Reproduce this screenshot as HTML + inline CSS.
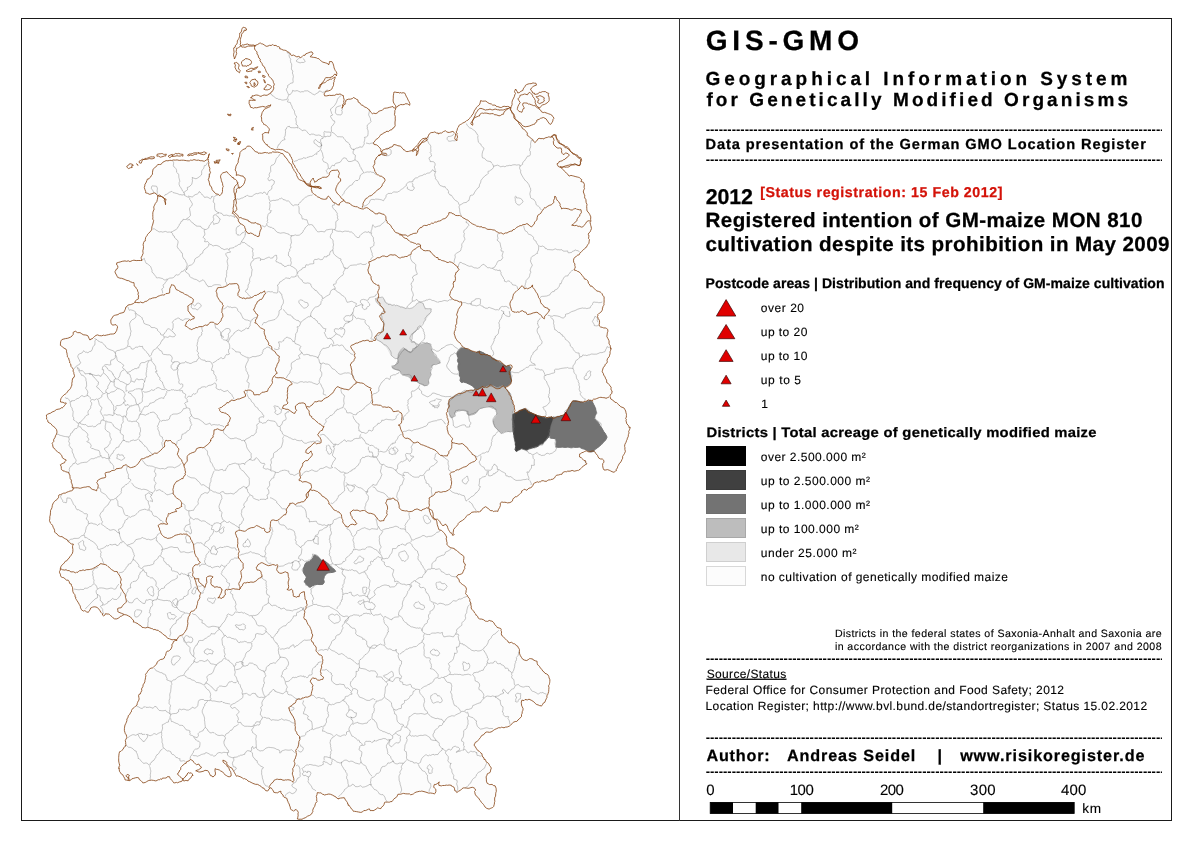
<!DOCTYPE html>
<html><head><meta charset="utf-8"><title>GIS-GMO</title>
<style>
html,body{margin:0;padding:0;background:#fff;}
body{width:1190px;height:842px;position:relative;overflow:hidden;font-family:"Liberation Sans",Arial,sans-serif;color:#000;}
.frame{position:absolute;left:21px;top:18px;width:1151px;height:803px;border:1px solid #1a1a1a;box-sizing:border-box;}
.divider{position:absolute;left:679px;top:18px;width:1px;height:803px;background:#333;}
.t{position:absolute;white-space:nowrap;line-height:1;}
.b{font-weight:bold;}
.dash{position:absolute;left:705.7px;width:456.5px;height:13px;overflow:hidden;font-size:13px;line-height:13px;white-space:nowrap;letter-spacing:0;font-weight:bold;}
.sw{position:absolute;left:706px;width:40px;height:20px;box-sizing:border-box;}
#map{position:absolute;left:0;top:0;}
</style></head><body>
<svg id="map" width="1190" height="842" viewBox="0 0 1190 842">
<path fill="#fcfcfc" stroke="none" d="M255,45.6l3,-2 4,0.8 5,0.8 5,0 5,1.8 5,2.6 4,0.4 4,2 2,3.6 4,1.4 3,-1.4 2,2.4 3,-2.4 4,-2.6 4,-1.4 1,0.8 -2,2 4,2.6 5,2.6 5,3.4 4,2 1,-3 2,0.4 1.6,4.6 1.4,4 1.6,2 -0.6,2.6 -2,-2 -4,3.4 -6,4 -5,4 -2,3 3,-2.4 6,-4 6,-3.6 3.6,-1.6 -0.6,3.6 -1,4 -3,5 -5,4 -2.4,1.4 1.4,1.6 5,-1 6,-1 4,-0.4 3,2 1.4,3.4 -0.8,4 -2.6,5 1.4,-3 2,-3.4 3.6,-1.6 4,-0.6 5,1.6 5,3 5,4 4,4 1.4,1.6 4.6,-1.2 4,-2.4 4,-2.4 4,-1.2 4,1.2 3,0.4 0,1 -0.4,5 -0.6,6 0,5 -3,4 -4,2 -5,2.6 -5,2 -2.4,4.4 -0.6,4 3,2 3,3 1,3 1,-2 4,-3 5,-1.4 6,0 4,2.4 3,3 3,1 3,-2 3,-2 2,4 -1,5 2,-5 2,-5 3,-5 4,-4 4,-4.4 5,-1.2 3,1.2 0,0 10,-1.6 5,-0.4 2,2.4 -0.6,4 1.6,2 1,-3 -1,-5 2,-3 4,-4 5,-3 3,-3 1.6,-4 2.4,-4 3,-4 3,-4 1,-1.6 1.4,1.6 5.6,1.4 8,1.2 8,0.8 5,0 2,1.2 0,0.4 1,5 2,5 3,4 3,3 4,3 3,3 2,4 3,3 3,3 1,2 2,-3 4,-1.6 4,-1.8 4,-1 2,1.4 0,0 1.6,-2 2.4,0.6 1,3.4 3,3 4,3 4,3 4,4 4,3.6 4,3.4 -0.4,6 -5.6,-0.6 -5,1.2 -5,1.4 -4,0.6 0,0.4 3,4 5,3 6,2 6,1.4 2.4,1.2 -1.4,2.4 2,0.4 0.6,1.6 0.8,6 1.6,8 1.6,8 2,8 1.4,6 1.4,8 0,0 -1.4,2 -2,3 -0.6,5 0.6,4.4 -2,4.6 -3,3 -4,3 -3,2.6 -2.6,2.4 -0.4,4 1,4 -1.4,4 2.4,2 4,3 4,3.4 4,3.6 4,3.6 4,3.4 4,3 3,3 1,4 -1,4 0.6,4 -2.6,3 -2.6,3 -0.4,4 1,5 1,4 4,1.6 3.6,1.4 0.8,4 -0.8,5 1.4,5 2,5 0,2 0,0 -1.4,4 -1.2,4 -1.4,4 -2,4 -2,3 -1.4,3 1.4,3 2,3 2,3 2,3 2,3 1,4 -1,4 -2,2 1,2 3,2 3,1.4 3,1.6 3,2 3,2 1,4 -0.4,4 1.4,4 1,4 1.6,4 -0.6,4 -1,4 -1,4 -1,4 -0.4,4 -1.2,4 -1.4,4 -2,4 -2,4 -2,3 -1.4,3 -2.6,2.4 -3,-0.8 -3,-1.6 -3,-1 -1.6,-3 0.6,-3 -2,-3 -2.6,-2 -1.4,-3 -2,-2.6 -2,-1.4 -3,1 -3,-1 -3,-1 -2.4,1.6 -1.6,2.4 1,3 2.6,2 2.4,1 1.6,3 -2.6,2.6 -4,2 -4,2 -4,1.4 -4,1.4 -4,1.2 -4,1.4 -4,1 -4,3 -4,1 -4,1 -4,0.6 -4,0.4 -4,2 -3,4 -3,3 -3,-1 -3,1 -3,3 -3,3 -2,2 0,1 -1,1 -3,1.4 -5,0.6 -4,1 -0.4,3 -1.6,3 -4,2.4 -4,-2.4 -3,-2 -3,1 -4,2 -4,1.4 -5,0.6 -4,2 -3.4,3.4 -2.6,2.6 -2.6,2.6 -2.4,3.4 -1.6,4 -0.4,4 -1.6,0.6 -1.4,-3.6 -3,-4.4 -3,-2.6 -3,0.6 -1.6,-3.2 -2.8,-3.4 -3.2,-2.6 -2.4,-2.8 -2,-3.6 -2,-1.6 1,2.6 1.4,3.4 2.6,3.2 3,2.4 2.4,4 1.6,4 2,3 2.4,3 2,3 -0.8,3 1.4,3 2,2.6 2.6,2.4 3.4,1.6 3,2 3,2 2.6,2.8 1.4,3.6 1.4,3 -2,4 -2,4 -2.4,3.4 -2,2.6 1.6,3 2,3 2.4,3 1.6,4 1.4,4 2,4 2,3 0.6,4 1.4,4 2,3 2.6,3 2.4,3 3,2 3,1 3,-1 3,1 3,2 2.6,3.4 2,3.6 2.4,3.6 2,3.4 2,3 3,2.4 3,0.6 3,1.4 3,2.6 2,2.6 1,4.4 2,4 3,2 3,-1 3,0.6 0,0.4 3,1 2,2 2,3 2,3 3,3 3,3 1.4,4 -0.4,4 0.4,5 -0.4,5 -1,4 -2,3 -2,2.4 -1.4,2.6 -2.6,-0.6 -3,-1.4 -3,-2 -3,-2 -3,1 -3,1 -1,3 -0.6,4 -0.8,4.4 -1.6,4.6 -3,3.4 -4,3.2 -4,2 -5,1.4 -5,1 -5,1 -4,2 -4,2.6 -3.6,2.4 -3.4,3 -3,3 -1,3 2,2.6 3,2.8 2,3.6 2,4 3,3 2,4 1.4,4 -0.8,4 -2.6,3 -1.4,3 0.8,3 2.6,2 3,1 3,2 1.4,4 -0.4,5 -1.6,4 -1.4,4 -1.4,4 -2.6,1 -3.4,-1.4 -2.6,-2.6 -3,-3 -3,-3 -2,-3 0.6,-4 -1.6,-3 -3,-1.4 -4,0.4 -4,1 -3,2 -3,1.4 -2.6,-1.4 -1.4,-3 -3,-2.4 -4,0.4 -3.6,-0.4 -2.4,-1.6 0,-3 -2,2 -3,1 -1,3 2,3 -1,3.6 -4,-1.2 -5,0.6 -6,-1 -6,1 -5,0.6 -5,0.8 -4,-0.4 -3,0.4 -2,3.6 -3,3.6 -4,0.8 -4,0.6 -2,2.6 -3,2.4 -3,-1 -3,2 -3,2.6 -2,-2 -4,1.4 -4,1 -4,-0.4 -4,-1.6 -2.4,-3 -2.6,-3 -1.4,-3 -2.6,-3 -5,-0.4 0,0 -5,-1.6 -4,-1.6 -5,-0.8 -4,-1.6 -3,-1 -1.4,3 0.8,4 -0.4,4 -1.6,5 -2.4,4 -3,4 -4,3 -4,1.6 -4,-0.6 2,-3 1,-4 -3,-2 -3,2 -3,-1 -1,-4 -1,-4 -2,-3 -2.6,-2 -1.4,-3.6 -2,-2.4 -3,1 -4,-1 -1,-3 -2,-3 -2,2 -2,3 -3,-1 -4,-2 -4,-1 -3,-2 -3.4,-3 -3.6,-2.4 -3.6,-1.6 -3.4,-2 -3,-1.6 -2.4,-2.8 -3.6,-3.6 -3.6,-4 -2.8,-3 -2,-0.6 0.8,2 2.6,3.2 3,3.4 3,3 1.4,3 -1.4,1.4 -3,-1.4 -3,-1.4 -2.6,-1.6 -2.4,-2 -3,-1 -1,2 -1,3 -3,2 -3,-1 -1,-3 -2,-1.6 -2,-0.8 -3,0.8 -3,1.2 -2.4,-0.6 1.4,-1 3,-1 1,-3 -2,-2.4 -2,0.8 -1.4,-2 -2,-2 -2,-1 -2.6,1.6 -3.4,1.4 -3.6,2 -3,2.6 -1.4,3 0.4,4 2,3 2.4,2 -0.8,2.6 -3.6,0.4 -4,-0.8 -3,-1.2 -2,-2 -3,-1 -3,-0.6 -3,1.6 -3,1.6 -2.6,1.4 -3.4,-0.4 -4,0.6 -4,0.4 -2,-2.6 -3,-0.6 -4,1.6 -4,0.6 -1,-2.6 -0.6,-3 -2.4,-0.6 -1,1.6 2,2 1,3 -3,-1 -2,-3 -2.6,-2.6 -2,-3.4 -0.8,-3 -0,0 0.8,-6 1.6,-5 1,-5 2,-5 2,-5 2,-5 -1,-4 -1,-5 1,-5 2,-4 3,-5 3,-5 2,-5 3,-3 -0.6,-4 1.6,-4 2,-4 2,-5 1,-5 1,-4.6 3,-4 4,-2.4 4,-4 2,-4 2.6,-1 3.4,-2.6 3,-4 3,-4.4 2.6,-4 2.4,-3.6 -2,-0.4 -4,-2 -4,-2.4 -4,-2.6 -4,-2 -4,-0.6 -4,-1.4 -4,-1 -4,-1 -4,-1 -3,-2 -3,-2.4 -2,-3.2 -2,-3.4 -3,-1 -2.6,1.6 -2.8,1.4 -3.6,1.4 -4,-0.8 -4,-1.6 -3.6,-1 -2,2 -1.4,-5 -3,-3.6 -4,-1.4 -3,1 -3,3.6 -3,-1.6 -4,-1.6 -0,-0.4 -2,-5 -2.6,-5 -2,-4 -1.4,-5 -2,-4 -3,-3.4 -4,-2.6 -3.6,-2 -0.4,-5 1,-4 3,-4 3,-4 3,-4 2,-4 1,-4 0.6,-4 -2.6,-1 -4,-1.4 -4,-2.6 -4,-3.4 -3,-3.6 -3,-5 -2,-5 -0.6,-5 0.6,-5 1.4,-5 1.6,-5 2,-4 3,-3 4,-2 4,-1.4 3.4,-1.2 2.6,-1.4 -1.4,-2.6 -1.2,-3.4 -0.4,-5 -2,-4 -4,-2 -3,-2.4 -1,-4 4,-3.2 2,-2.4 -3,-2 -3,-4 -3,-3 -2.6,-3 -1.4,0 -1,-6 1.6,-4 2.4,-4 1,-4 -3,-3 -3,-3 -3,-2 -1,-4 -0.6,-3.6 3.6,-1.4 5,-2 5,-2 5.6,-2 2,-2 -2.6,-1 -3.4,-1 0.8,-3 2.6,-4 2.6,-4 2,-4 2.4,-4 1,-4 1.4,-4 -0.8,-5 -1.6,-5 -2,-4 -2,-5 -1.6,-4 -0.8,-4 -2.6,-2 -2.2,-2 0.8,-3 -0,-3.6 3.4,-1.4 5,-1 3,-1 1.4,-2.6 1.6,-1.4 1.6,1.4 3.4,1.6 4,1 3,1 1.6,3 2.8,-1 4.6,-1.6 5,-1.4 5,-0.6 5,-0.8 4,-2 2,-3.6 -2.4,-3 -3.6,-2 -1.6,-4 2.6,-2.6 4,-1.4 4,-3 4,-3 3,-3.4 3,-1.2 4,-2 1,-3.4 1.6,-1 -0,0 -0.6,-6 -1,-5 -2,-4 -4,-1 -5,-1 -5,-1.4 -3,-2.6 -1,-5 1,-3 2,-2 -0.6,-4 2.6,-2 5,-0.6 6,1.2 5,0.8 3,-1.4 1.6,-5 0.8,-6 1.2,-5 2.4,-5 3,-5 2.6,-6 1.4,-7 0.6,-8 1.4,-5 1.4,-7 1.2,-4.6 2,-1 2.8,1.2 3.2,2.4 1.4,5 -1,-6 -3,-2 -4,-1.4 -5,-1.6 -5,-1 -3.4,-1 -0.6,-3 1,-5 1.6,-5 2.4,-3.4 3,-1.6 -0.6,-3 1.2,-3.4 3.4,-3.6 5,-2.4 6,-1.2 8,-0.4 8,0.4 8,0 8,-0.4 8,0.4 1,2.6 0.6,5 0.4,5 -0.4,5 -0.6,4.4 0.6,1.6 2.8,4.4 3.2,3.6 3.4,2 3,-2.4 1.2,-4.6 -1.2,-4.6 -1.4,-4.8 1.8,-4 3.6,-1 4,3 4.4,3.4 3.6,3.4 1,1.6 1,3 3,-1 1,-3.6 1,-4.4 -1.4,-2.4 -3.6,-0.6 -2.4,-1 -1.6,-5 1,-5 1.4,-6 2.6,-6 3.4,-4 3.6,-1.6 3,1.2 3,2.4 4,2.4 5,1.2 6,0 5,-1.6 5,0.4 5,2.6 4,4 3,5 3,5 3,5 3,5 5,4.6 5,2.4 10,2 -5,-1 -5,-1 -4,-3 -3,-4 -3,-5 -2.4,-5 -3.2,-4 -2.4,-5 -3,-5 -4,-4 -4,-2 -5,0 -5,-1.4 -4,-2 -3,-3.6 -2,-4 -1,-4 3,-1 4,-0.6 1.6,-2.8 -2,-3.6 -3.6,-3 -3,-3 -0,-4 2.6,-4 3.4,-3 4,-4 -3,1.4 -4,1.6 -5,-0.4 -5,0.4 -3,-2 -1.4,-3 1.4,-2 4,-1.4 -2.6,-0.6 -2.4,-1 1.6,-2 4.4,-0.4 6,0 5,-1.2 4,-2.4 2.6,-3 0.4,-4 -2,-5 -3,-5 -3,-5 -3,-4 -3,-5 -2,-5 -2,-4 -1.6,-4 0.6,-2.4Z M396,108l-3,-7 -1.4,-3 1.4,-4 4,-2 4,0.4 4,2 3,4.6 1.6,5 -0.6,2 -4,-1 -4,0 -3,1.4 -2,1.6Z M511,107.6l1.4,-4.6 1.6,-5 1.6,-6 1.4,-1.6 2,2.6 3,-3 2,-4 4,-2.4 4,-1.2 3,0.6 0.6,2 -2.6,2 -2,3 2,3 4,2 4,-2 4,-1 3,1.6 1.6,3.4 -1.6,4 -3,3 -3,2.4 -2,1.6 3,2 5,2.4 3,2.6 2,3 -1,3 -1.6,3 -2.4,-2 -2,-3 -3,-1 -3,1 -3,3 -3.4,3 -3.6,2 -4,0 -4,-1.4 -3,-2 -3,-2.6 -2,-3 -1.6,-4 -1.4,-4 0,-2.4Z M552,137l1.6,-2 2.4,0.6 1,3.4 3,3 4,3 4,3 4,4 4,3.6 4,3.4 -0.4,6 -5.6,-0.6 -5,1.2 -5,1.4 -4,0.6 -3,-0.6 -1,-3 3,-1.6 4,-1.4 4,-3 2,-3 -2,-2 -3,1 -3,-2 -2,-3 -3,-1 -2,-3 -1,-4 -1,-4Z M255,45.6l-5,0.4 -5,1 -3,-1 -2,-2.4 1,-4.6 1.4,-5 1.2,-3.6 2.4,0.6 1.6,-2 -0.6,-1.6 -2.6,-0.4 -2,2.6 -1.8,5.4 -2.2,5 -1.8,5 -1.4,5 -0.6,6 0.6,3 0.8,-2 0.4,-5 1.2,-5 2,-3.4Z M241.6,61l2.4,-2 4,-0.6 3.6,1.2 1,2.8 -1.6,2.6 -4,1 -4,-1 -1.4,-2Z M236,64l2,-1.6 1.2,3.6 0.8,5 -2,1.4 -2,-2.8 -0.8,-3.2Z M250.4,82l2,-2 3.6,-0.4 1.6,2.8 -0.8,3.2 -3.2,1.2 -2.8,-1.6Z M263.2,87l1.8,-2.2 4,-0.8 2.6,1.6 0.4,2.8 -3,2 -4,-0.4Z M248.6,71.6l3,-1.6 3.4,-1 3.4,-1.4 0.8,1 -3.2,1.8 -3.6,1.2 -3,0.8Z M259.6,71l2,0 0,1.4 -2,0Z M247.2,76.6l2,0 0,1.6 -2,0Z M262.4,79.6l2.4,0 0,1.6 -2.4,0Z M245.6,81.4l1.2,0 0,1.2 -1.2,-0Z M247.2,87.6l1.4,0 0,1.2 -1.4,0Z M257.2,88.4l1.6,0 0,1.4 -1.6,-0Z M263.6,75l1.6,0 -0,1.2 -1.6,0Z M229.6,114l2.4,0.4 -0.4,1.2 -1.8,-0.4Z M251,128.4l1.8,0 0.2,2.8 -1.8,-0Z M234.4,138.6l2.4,0 0,1.8 -2.2,0Z M238,142l2.4,0.4 -0.4,2 -2,-0.4Z M229.2,150.4l2.2,0 0,1.4 -2,0Z M214.8,160.6l3.6,-0.4 -0.4,1.6 -2.8,0.4Z M126.6,164.4l3,-2 3.4,0.8 0.6,1.8 -2,1 1.4,2 -3,-0 -2,-0.8Z M139.6,159.6l2,-1.6 11.4,-0.4 0.2,1 -11.2,0.6 -1.2,2.8 -1.4,-0.4Z M157,155.6l4,-0.6 5.4,0.6 -0.4,1.4 -6,0.2 -2.8,-0.4Z M168,155.4l3.2,-0.2 0,1.2 -3,0.2Z M173,154.8l6,-0.8 5,0.8 -0.4,1.4 -5.6,-0.4 -4.8,0.4Z M188,153l4.4,-0.6 4,0.8 -0.4,1.4 -4.4,-0.4 -3.4,0.2Z M199,152l4,-0.4 3.4,1 -0.4,1.4 -3.6,-0.6 -3.2,0Z M208.6,154l1.2,0.2 0,3.2 -1,-0.2Z M214.6,160.8l3.8,-0.4 -0.4,1.6 -3,0Z M235.2,138l2,0 0,1.6 -2,0Z M238.4,142.4l2,0 0,1.6 -2,0Z M229.2,149.8l2,0 0,1.4 -2,-0Z M137.2,165.6l1.2,0 0,1.2 -1.2,0Z"/>
<path fill="#737373" stroke="#737373" stroke-width="1" stroke-linejoin="round" d="M461.4,347.9l3.6,0.7 3.6,1.4 3.5,1.4 3.6,1.5 3.6,-1.8 3.6,1.5 2.8,1.7 3.6,1.4 2.8,2.2 2.9,1.4 2.9,2.1 2.8,1.5 2.9,2.1 2.8,1.4 2.9,-0.7 1.4,2.2 -0.7,3.5 0.7,4.3 0.7,4.3 -0.7,2.9 -2.1,2.1 -2.9,1.4 -2.8,-0.7 -2.9,1.2 -2.9,1 -2.8,-1.5 -2.9,-1 -2.8,0.6 -2.9,0.9 -2.8,0.2 -2.9,1.5 -2.1,1.4 -2.2,-0.7 -1.4,-1.4 -2.2,-2.2 -2.8,-1.4 -2.9,-1.4 -2.8,-0.8 -2.2,0.5 -1.4,-1.9 0.7,-2.8 -1.4,-2.9 0.4,-2.9 -1.4,-2.8 -0.4,-2.9 0.7,-2.8 -1.2,-2.9 0.9,-2.8 -1.2,-2.9 -0.2,-2.1 1.7,-2.2Z"/>
<path fill="#bdbdbd" stroke="#bdbdbd" stroke-width="1" stroke-linejoin="round" d="M448.6,402.9l1.4,-2.9 2.1,-2.9 2.9,-1.7 3.6,-1.4 3.5,-1.1 3.6,-1.5 3.6,-0.7 3.6,-0.7 2.8,-0.7 2.2,0.7 2.1,-1.4 2.9,-1.5 2.8,-0.2 2.9,-0.9 2.8,-0.6 2.9,1 2.8,1.5 2.9,-1 2.9,-1.2 2.1,2.2 2.1,2.1 2.2,2.1 1.4,2.9 0.7,3.6 0.7,3.5 0.8,3.6 0.2,4.3 -0.2,4.3 0,5.7 0,5.7 0,5 -2.9,0.7 -3.6,-0.3 -2.8,1 -2.2,0.8 -2.1,-1.5 -2.2,-2.1 -2.1,-2.2 -1.4,-2.8 -0.7,-2.9 1.4,-2.8 2.1,-2.9 0.7,-2.8 -0.7,-2.9 -2.8,-1.4 -2.9,-1.2 -2.8,-1 -2.9,0.5 -2.9,1 -2.8,0.7 -1.4,2.1 -1.5,2.2 -2.1,1.4 -2.9,0.7 -2.8,0.4 -1.5,-1.8 0.3,-2.5 -2.4,-1.1 -2.9,-0.3 -2.8,0.3 -2.9,0.7 -2.1,2.2 -0.7,2.8 -2.2,2.2 -1.4,-1.5 -0.3,-3.5 -0.4,-3.6 -0.7,-3.6Z"/>
<path fill="#404040" stroke="#404040" stroke-width="1" stroke-linejoin="round" d="M512.9,414.3l2.8,-1.2 2.9,-1.7 2.8,-1.4 2.9,-1.1 2.1,1.1 2.2,1.4 2.8,1.5 2.9,1.4 2.8,1.1 2.9,1 2.9,0.7 2.8,0.8 2.9,-0 2.8,-0.8 2.2,0.8 -0.7,3.5 -1.5,4.3 -0.7,4.3 -0.7,4.3 -1.4,2.8 -2.2,2.2 -2.1,2.1 -1.4,2.2 -2.9,0.7 -2.1,2.1 -2.9,0.7 -2.9,0.8 -2.8,0.7 -2.9,1.4 -2.1,-0.7 -2.9,-0.7 -2.8,1.4 -2.2,1.4 -1.4,-1.4 0.7,-3.6 -0.3,-3.5 -0.8,-3.6 -0.6,-3.6 -0.9,-4.3 -0.2,-5.7 0,-5.7Z"/>
<path fill="#737373" stroke="#737373" stroke-width="1" stroke-linejoin="round" d="M553.6,417.9l2.8,-0.8 2.9,-0.7 2.8,-0.7 2.2,-0.7 2.1,-2.9 1.5,-2.8 1.4,-2.9 1.4,-2.8 2.2,-2.5 2.8,-0.4 2.9,0.7 2.8,0.7 2.9,0.8 2.8,-1.5 2.9,-0.7 2.1,1 1.5,2.6 1.4,2.8 0.7,2.9 0.7,2.9 -1.4,2.8 -0.7,2.9 2.1,2.1 2.2,2.2 1.4,2.8 2.1,2.9 1.5,2.8 2.1,2.9 1.4,2.8 -1.4,2.9 -2.1,2.1 -2.2,2.2 -2.1,2.1 -2.2,1.5 -2.1,1.4 -1.4,2.1 -2.9,0.7 -2.8,-1.4 -2.9,-1.4 -2.9,-0.7 -2.8,-1.5 -2.9,0.3 -2.8,-0.3 -2.9,0.3 -2.8,-0.3 -2.9,0.3 -2.9,-0.3 -2.8,0.3 -2.9,-0.3 -0.4,-2.8 0.4,-2.9 -0.7,-2.8 -2.8,-0.3 -2.6,-0.4 -0.3,-3.6 0.7,-4.3 0.7,-4.3 1.5,-4.3Z"/>
<path fill="#e8e8e8" stroke="#e8e8e8" stroke-width="1" stroke-linejoin="round" d="M376.4,299.3l2.9,-1.4 3.6,-0 2.1,2.1 0.7,2.1 2.9,1.5 3.5,1.4 3.6,0.7 3.6,0.7 3.6,0.7 3.5,1.5 3.6,0.7 2.9,-1 2.8,-1.9 2.2,-2.8 2.1,-1 2.9,1 1.4,2.8 1.4,2.2 2.9,0.7 2.8,-0.7 -0.7,3.5 -1.4,2.9 -2.2,2.1 -1.4,2.9 -2.1,2.1 -2.2,2.2 -2.1,2.1 -1.4,2.2 -2.2,2.1 -2.1,2.2 -1.5,2.1 -1,2.9 -0.4,2.8 2.2,1.4 2.8,0.8 2.9,1.4 -1.5,2.1 -2.1,1.5 -2.1,2.1 -1.5,2.1 -2.8,-0.7 -2.2,-2.1 -2.1,-0.7 -2.2,1.4 -2.1,2.1 -1.4,2.9 -0.7,2.9 -2.2,0.7 -2.1,-1.5 -2.2,-1.4 -1.4,-2.1 -1.4,-2.9 -1.5,-2.8 -2.1,-2.2 -2.1,-2.1 -2.2,-1.5 -2.1,-1.4 -2.2,-1 -0.7,-2.6 2.2,-2.1 2.1,-2.1 1.4,-2.9 1.5,-2.9 1.4,-2.8 -1.4,-2.9 -1.5,-2.8 -0.7,-2.9 0.7,-2.8 2.2,-1.5 -0.7,-2.8 -2.2,-2.2 -2.1,-2.1 -1.7,-2.2Z"/>
<path fill="#bdbdbd" stroke="#bdbdbd" stroke-width="1" stroke-linejoin="round" d="M397.9,357.9l0.7,-2.9 1.4,-2.9 2.1,-2.1 2.2,-1.4 2.1,0.7 2.2,2.1 2.8,0.7 1.5,-2.1 2.1,-2.1 2.1,-1.5 2.9,-1.4 3.6,-1.4 3.5,-0.5 2.9,1.2 0.7,2.8 0.7,2.9 1.5,2.9 2.1,2.8 2.1,2.9 2.2,2.8 0.7,1.5 -2.9,0.7 -2.8,0.7 -2.2,1.4 -1.4,2.9 -0.7,2.8 0.7,2.9 -1.4,2.8 -1.4,2.9 0.7,2.9 -1.5,2.1 -2.8,0.7 -2.9,-1.4 -2.8,-1.4 -2.2,-1.5 -2.8,-0.7 -2.2,-0.7 -1.4,-2.1 -2.1,-1.5 -2.9,-0.7 -2.1,-0.7 -1.5,-2.1 -1.4,-2.2 -2.9,-0.7 -2.1,-0.7 -2.1,-0.7 -0.8,-1.5 2.2,-1.4 2.1,-2.1 1.5,-2.9Z"/>
<path fill="#737373" stroke="#737373" stroke-width="1" stroke-linejoin="round" d="M315,555l2.1,1.4 2.2,1.5 1.4,2.1 2.2,0.7 2.8,0.7 2.2,2.2 2.1,2.1 2.1,2.2 2.2,1.4 1.4,2.1 -2.1,0.7 -2.9,0.5 -2.8,0.3 -2.2,1.4 -1.4,2.1 -0.7,2.9 0.7,2.8 -1.4,2.2 -2.9,0.3 -2.9,-0.3 -2.8,0.7 -2.2,1 -2.1,1.4 -2.1,-1.7 -2.2,-2.1 -1.4,-2.2 1.4,-2.1 0.7,-2.2 -1.4,-2.1 -1.4,-2.1 -0.5,-2.9 0.9,-2.9 1,-2.8 1.4,-1.7 2.9,-1.2 2.1,-1.4 1.5,-2.1 0.7,-2.2Z"/>
<path fill="none" stroke="#6e6e6e" stroke-width="0.4" stroke-linejoin="round" d="M270.3,93.7l1.2,0.5 0.6,1.3 1.1,0.5 2,1.6 0.8,0.8 1.6,0.2 0.9,0.7 1.8,0.1 1.2,0.5 1.2,0.2 1.1,-0.1 1.5,-0.3 1.2,-0.1 1,-1.5 0.2,-0.3 -0,-0.4 0.9,-2 -0.5,-1.8 -1,-2.1 -0.8,-1.7 0.4,-1.3 1,-1.2 -0.1,-1.8 0.3,-0.2 1.7,-1 1.1,-1.2 2,-0.1 0.5,-1.1 -0.2,-1.5 -0.1,-1.3 0.5,-2.6 -0.5,-2.2 -0.6,-1.3 0.7,-1.8 -1,-0.8 -0.6,-1.6 0.1,-1.2 0.2,-1.7 -0.1,-2.2 -0.7,-0.6 -0.3,-1.5 -0.2,-1.1 0.4,-1.3 -0.7,-1 -0.7,-1 -0.3,-1.9 0.3,-1.3 0,-0.8 -2.3,-0.4 0.6,-0.8 M289,94.7l1.3,-0.2 0.4,-0.6 1.6,-1.9 0.3,-1.6 1.6,0.6 0.9,0 2,-0.4 1.6,0.7 1.8,0.8 1.2,-0.4 1.9,0 1,-0.8 1.7,0 0.8,-0.2 1.5,0.5 0.6,0.8 1.4,0.6 1.4,0.9 0.4,0.4 2.1,0.9 2.3,-1.5 1.7,-0.9 0.6,-1.3 0.9,-0.1 1.3,0.6 1.4,0.8 2.1,-0.7 0.6,-0.4 1,-0.9 1.6,-0.4 M302.7,58l0.9,0.9 1,1.5 0.5,1.1 -0.4,0.5 -1.2,0.5 -1.8,-0.1 -1.6,0.5 -2.4,-0.9 -1.2,-0.6 0.1,-1.2 1.8,-1.5 1.3,-1 M277.3,148l0.6,-1.8 0.7,-1.5 0.6,-0.1 1.4,-2.3 1.6,-1.8 1.1,-0.4 1.8,-0.6 -0.1,-0.7 -0.7,-0.4 -0.2,-0.8 1,-1.6 0.3,-2.4 0.2,-2 -0.3,-1.8 0.1,-0.3 1,-0.5 0.1,-1.1 1.4,-1.6 1,0.3 0.6,-0.3 0.2,0.8 1.2,0.6 1.6,0 1.7,0.1 1.9,-0.2 0.9,-0.1 1.1,0.7 -0.3,-2.2 -0.6,-1 -1.3,-0.8 0.5,-1.5 -0.2,-1.2 -0.3,-1.6 -0.1,-1.9 0.8,-0.7 -0.1,-1 -0.6,-0.5 -0.7,-1.2 -0.7,-2.1 0,-1.3 -1.1,-1.8 -1,-1.2 -0.5,-2.2 -1,-1.7 -0.6,-1.9 -1.8,-0.2 -1.2,-0.5 0.4,-0.5 0.5,-1.3 -0.2,-1.2 M299,128l1.5,1.2 1.2,0.9 1.1,0.8 0.6,-0.9 1,0.1 1,0 1.2,1.2 1.4,1.8 1.2,1.2 0.8,0.7 1.4,-0.9 1.9,0.1 0.5,0 1.2,0.8 2,0.3 1.5,-0.3 2,0.4 1,1.2 0.7,0.3 1.3,-0.1 1.6,-0.2 -1,-1 0,-2.2 -0.2,-1.2 0.7,-0.9 1.2,0.7 2.2,0.1 1.1,-0.1 1.1,0.5 1.3,-1.2 -0.1,-1.6 -0.1,-1.5 0.2,-1.6 1.2,-1 1,-1.5 1.1,-1.7 -0.3,-1.5 -1.2,-0 -0.8,-1.2 -0.8,-1.1 -1.1,-1.9 0.2,-1 1.6,-0.5 0,-0.9 -0.8,-0.8 -0.4,-1.7 -0.6,-1.3 0,-1.6 1.3,-0.9 1.1,-1 0.7,-0.6 1,-1.1 0.7,-1.1 1.1,-1.9 0.6,-1.6 0.4,-1.6 1.1,-1.5 1.3,-1.1 1.1,-0.8 M331.3,132l1.7,0.7 1.1,0.7 1.5,1.4 0.6,0.5 1.4,1.5 2.1,-0.1 1.3,0.2 1.5,-0.1 0.9,0.6 0.4,1 1.2,1.3 1.1,1.8 1.4,0.5 1.2,1.4 0.8,0.7 0.2,1 0.6,0.4 -0.1,1.3 0.9,1.2 0.6,1.1 2.3,0.5 2.3,-1.5 1,-0.1 2.2,-0.7 0.4,-0.8 1,0.8 1.4,-0.3 0.7,-0.5 0.4,-1.1 0.9,-1.5 -0.3,-1.7 0.6,-1.5 0.1,-1.2 0.2,-1.1 -0.5,-1 1.9,-0.4 1.3,-0.9 0.4,-1.7 0.1,-2 0,-1.5 -0.6,-1.8 -0.6,-1.2 0.6,-0.3 -0.3,-1 0,-1.4 1.6,-1.3 1.3,-1.3 1,-1.2 -0.7,-1.4 0.2,-1 -0.3,-0.7 -0.4,-0.9 -1,-1.9 -0.2,-1.2 0.4,-1.8 0.2,-1.2 M342.3,107.7l0,1.8 -0.7,1.3 0.6,0.5 -0.1,2 -1.2,1.7 -1.5,-0.2 -2.2,-0.1 -1.4,-1.1 -0.4,-0.9 -0,-0.9 0.3,-1.8 0.1,-1.6 0.5,-1.1 1.6,-0.8 1.3,-0.4 1.8,-0.4 M366,142.7l0.9,0.7 0.3,-0.1 2.2,0.5 1.6,-0.6 1.8,-0.1 0.8,-0.6 0.7,-0.5 M294,161.7l1.6,-0.8 1.4,-0.2 0.7,-0.5 0.9,-0.8 1.5,-0.2 0.8,-0.2 1.6,-0.3 0.8,-1 2.8,0.6 0.7,-0.7 1.9,-0.6 1.6,-0.6 1.4,0 1.7,-0.9 1.4,-1.2 0.9,-0.4 1.2,0.4 -0.1,-1.5 0.9,-1.1 1.4,-0.4 0.7,-1 1,-1.3 0.3,-1.6 0.3,-1 0.1,-1.4 -0.7,1.1 -0.9,0.9 -1.5,-0.5 -1.1,-0.8 -0.6,-0.9 -1.3,-0.8 -1.2,-0.8 -0.3,-1.8 0.4,-0.9 0.9,-1.1 0.8,0.7 1.3,0.9 1.1,1.2 1.7,0.5 0.5,1 1,1.5 -0.1,-1.9 -1,-2.1 0.3,-1.9 0.6,-0.6 1.6,-0.3 0.3,-1.1 M330.7,132.7l0.2,0.9 -0.3,2.4 -1.6,0.5 -1.3,-0.3 -1.2,0.3 -1.5,0.5 M321.7,144.7l0,1.3 M321,150l0.6,1.5 0.5,1 0.5,1.2 0.1,1 0.4,1.9 0.4,1.2 -1,1.3 0.5,1.5 0.6,1.1 0.9,0.3 1.6,0.7 1.5,1 0.3,0.8 0.3,1.8 -0.1,0.7 0.8,1.6 0.9,0.4 0.7,-1.1 1.1,-1.9 0.7,-0.8 2.1,0.6 0.5,-1.6 0.8,-0.8 1.1,-0.3 2.2,-0.5 1.3,-0.5 1.1,-1.5 0.8,-1.2 0.7,-1 1.3,-0.6 2.1,0.6 0.5,1.2 1.3,1.7 1.9,0.3 1.7,-0.3 2,-0.8 1.2,-0.7 0.3,-0.2 -0.2,-1.5 0.3,-1.2 -0,-1.8 -1.1,-0.8 -1.3,-1 0.4,-1.4 -0.2,-0.7 1,-1.2 -0.4,-0.7 -0,-0.6 M327.3,173.7l-0.2,-1.2 -0.9,-1.9 1.2,-1.3 0.9,-1.3 M341.7,195.7l1.5,-1.3 0.2,-0.4 0.4,-0.4 0.6,-1.8 1,-1.4 0.8,-0.8 1.3,-1.8 1.1,-0.6 0.5,-1 0.9,-0.6 1.3,-0.5 1.4,-0.8 0.2,-1.2 1,-0.9 0.8,-0.7 1.1,-1.1 1.2,0.2 1,-0.2 1.1,-1.1 0.3,-0.3 0.4,-1.7 0.6,-2.2 1.1,-0.9 0.7,-0.4 1.5,-1 -0.6,-1.3 -0.9,-1.4 -0.2,-0.9 -1,-0.5 -0.2,-1.4 -0.7,-0.7 -0.6,-2 -1,-1.7 -0.5,-1.3 -1.3,-0.6 -1,-0.7 -1,-0.3 M376.3,174.7l-1.5,-0.9 -0.9,-1.3 -1.8,-0.2 -0.6,-0.1 -0.9,-0.5 -1.4,0.4 -1.9,-0.2 -2,0.5 -1,0.6 M386,149l1.8,-0.8 2.1,0.7 0.7,1.2 0.7,0.7 -0.2,1 0,2 -0.9,0.8 -0.9,0.6 -0.8,0.4 -2.3,0.2 -0.5,-0.2 -1.6,-0.2 -0.2,-1.1 -1.6,-0.3 M363.3,207l1,-0.9 1.5,-0.5 1.3,-0.7 1.6,-1.4 0.7,-0.8 0.6,-2.3 1.8,-1.1 1.3,0.2 0.6,-0.2 -0,0.3 0.8,0.1 1,-0.6 2.4,0.1 1.6,0.2 2.3,0.5 1.4,0.8 0.4,0 0.8,-1.5 0.7,-1.1 1,-0.8 -0.1,-1.5 0.5,-0.9 1,-1 1.4,-0.6 1.1,0.3 0.7,-0.3 1,0.2 0.8,-0.9 1.3,-0.7 2.1,0.2 1.5,0 0.7,-0.4 1.3,-0.6 1.4,-1.3 1,-0.7 0.6,-0.1 0.4,-0.5 1,-0.9 1.5,-1.3 1.1,-0.6 -0.2,-1.5 0.8,-0.7 0.6,-0.4 1.2,-1.3 1.4,0.1 1.1,-0.2 1.5,0.1 0.3,-1.9 1.4,-0.6 0.2,-0.8 1,-0.6 1.7,-0.1 1.6,-1.4 1.3,-0.5 1.3,-0.3 1.3,-0.4 1.2,-1 1.5,0.1 1,-0.8 1.3,-0.5 1.2,0.1 1.5,-0.9 1.1,-1.3 0.2,-0.6 1,-0.6 1.1,1.7 1.3,0.3 -0.2,-1.2 -0.1,-1.6 -0.8,-2 0.7,-1 0.3,-2 -0.6,-1.1 -0.9,-1 -1.4,-0.2 -2.2,0 -0.1,-1.5 -0.8,-0.9 -0.2,-1.4 1.2,-0.9 1.5,-1 -0.7,-1.7 0.1,-0.5 -1,-1 0.8,-1.1 -0,-1.8 -0.2,-1.3 0.1,-2.3 -0.4,-0.9 -0.8,-1 -0.7,-0.7 -0.8,-1.7 -0.9,-1.4 0.7,-1.8 0.4,-2 M411.7,183l1.3,1.2 -0.3,1.6 -0.3,0.5 1.7,0.7 0,1.8 -1.3,1.5 -2.2,0.1 -1.5,-0.7 -1.8,-0.9 0.1,-1.9 -0.4,-0.2 M461.7,215.7l-0.7,-0.7 -0.6,-1.1 -0.5,-1.7 -0.2,-1.7 -0.1,-1.3 -0.6,-2.2 0.3,-1.2 0.3,-0.4 -0.8,-1.4 -0.4,-1 -0.3,-0.7 -1.2,-1.2 -1.2,-0.5 -1.3,-1.1 -1,-1.3 -1,-1.4 -0.5,-1.1 -0.7,-0.5 -1.2,-0.1 -0.5,-1.2 -1.2,-0.8 0.3,-1.8 -1.3,-2.1 -1,-0.5 -0.9,-0.9 -0.3,-1.2 -2.1,0.3 -0.3,-0.6 -1.7,-0.5 -0.7,-0.2 -1.3,-1.6 -0.5,-1.2 -0.7,-1.6 -1.6,-1.5 -0.8,-0.9 0.2,-1.4 -0.6,-1.2 -0.3,-1.8 0.5,-1.6 0.8,-1.5 M455.7,140.7l-1.3,0.1 -1.9,-0.1 -1.3,0.3 -0.9,0.2 -0.2,-0.1 -1.2,0.2 -1,-0.9 -0.7,-1 -0.1,-1.5 0.9,-1.3 2.4,-0.3 1.1,-0.4 1.6,-0.8 0.6,-1.4 M460,205l1.3,-0.7 0.7,-0.3 1.5,-1.1 1.3,-0.3 1.7,-0.2 1.2,-1.5 1.3,-0.4 0.4,-1.9 0.2,-0.9 0.7,-2.1 0.9,-0.4 1.5,-0.1 1.2,-1 0.2,-0.9 -0.1,0 0.8,-1.1 0.6,-1.1 1,-1.3 0.5,-0.5 0.7,-1 1.5,-1.1 0.5,-2.6 0.9,-1.7 0.3,-0.8 0.2,-1.6 1.4,-1.8 1,-1.3 1,-0.7 0.7,-0.9 1.1,-0.7 1.2,-0.7 0.9,-0.9 -0.4,-1.8 0.8,-0.4 0.5,0 1.1,-0.8 2,-1.3 1.2,-1.8 0.2,-0.5 -0.6,-1.7 -0.6,-1.2 -1,-0.9 -0.7,-1.3 -1.7,-0.4 -1.9,-0.4 -1.5,-1.1 -0.7,-0.9 -0.6,-0.7 -1.7,-0.2 -0.4,-0.8 -0.2,-1.1 0,-1.6 0.2,-1.4 0.5,-2 0.8,-1.4 0.4,-1.5 -1.2,-0.8 -0.4,-0.6 -1,-1.1 -0.5,-1.6 -1.1,-0.6 -1.4,-1.3 -0.3,-2 -0.2,-1.6 -0.2,-1.6 0.5,-1.4 -0.7,-0.6 -0.7,-1.6 -0.7,-0.5 -0.7,-1.6 -1.3,-0.9 -1.7,-1.2 -1.2,-0.9 -1.5,-0.4 -1.5,-1.4 -0.9,-1.1 -0.3,-1 -1,-0.7 M515.7,196l0.4,0.4 0.6,1.6 1.8,-0.1 2.1,0.6 1.3,1 1,1.7 0.1,0.7 -1.6,1.6 -0.8,0.7 -1.4,0.9 -1.7,-0.5 -1.9,-2.3 0.1,-0.7 -0.4,-1 -0,-1.2 -0.3,-2.2 0.3,-0.9 M541.7,210.3l-1.4,-1.5 -0.8,-1.7 -0.2,-0.2 -1,-0.8 -1,-0.4 -1,-0.9 -0.3,-1 -0.4,-2 -1.1,-1.2 -0.4,-1 -1.4,-0.7 -0.6,0.1 -1.5,-1.3 -0.2,-1.4 -0.6,-2.4 0.3,-0.9 0.1,-1 0.6,-1.5 -0.3,-1.7 0.3,-0.5 -1.1,-1 -0.2,-1.1 -0.6,-1.6 -1,-1.4 -0.7,-1.1 -1.5,-1.1 -0.8,-1 -0.8,-1 -1,-1.6 -1.3,-2.2 -0.8,-1.6 -0.6,-1.8 0.6,-0.8 -0.9,-1.6 -0.3,-0.5 -0.2,-1.4 0.5,-1.5 -0.2,-1 -1.3,-0.2 -2,0.3 -1.6,-0.4 -2.1,0.2 -0.7,0.2 -1.1,0.5 -1.4,-0.3 -1.9,0.5 -1,-0.1 -1.9,1.1 -1.2,-0.5 -1.8,0.1 -1,0.6 -1,-0.8 -0.7,-0.2 -1.5,-0.9 -2.7,0.7 -1.7,0.5 M520,166.3l1.2,-1 1.5,-1 -0.2,-1.2 0.5,-1 1.4,-1.1 1,-1.5 0.9,-1.3 0.9,-1.7 0.6,-0.4 1.5,-0 1,-1.3 0,-2 0.1,-1.1 -0.9,-1.3 0.3,-1.6 0.9,-1.8 0,-1.2 -0.2,-1.8 0.4,-1.9 0.5,-1.7 0.9,0.1 1,-0.2 M153.7,193l0,-0.8 -1.1,-2.1 -1.2,-1.3 0.1,-1.8 0.7,-1.2 1.5,0.2 2.8,0.2 0.8,1.7 0.2,1.1 -0.4,1.1 0.1,0.9 0.1,1.4 -0.3,1.6 M164,196.3l0.8,-0.9 0.5,-0.8 0.9,-0.1 1.7,-1 1.3,-1.1 1.3,-0.5 1.3,-0.6 1.3,1.3 1.7,0.4 2,0.5 1,0.3 1.8,0.9 1.4,-0.1 1,0.5 1.8,-0.5 1,-0.2 -0.4,-1.1 -1,-1.6 -1,-0.9 -0.6,-1.5 -0.8,-1.2 -0.5,-0.9 -0.6,-0.7 -0.8,-2 -0,-0.8 0.1,-1.3 0.7,-1.2 -0.4,-1.1 -0.4,-1.8 -0.3,-1 0,-1.4 -0.2,-1.6 -1,-1.2 -1.1,-0.9 0.2,-1.3 -0.3,-1.3 -0.5,-0.9 -0.3,-0.4 -0.6,-0.8 -1.4,-1 -0.3,-1.2 0.3,-1.5 0,-1.4 -0.9,-1.4 M152.7,228.7l1,0.2 0.7,-0.2 1.3,1.3 1.5,0.7 1.7,1.1 0.8,0.1 1.4,-0.3 1.2,0.5 1.3,-0.2 1.8,-0.5 2.1,0.8 1.8,-0.2 1.3,0.2 2,-0.7 0.9,-0.6 1.5,-0.8 1.6,-0.9 0.6,-0.9 0.3,-0.3 0.6,-1.2 0.9,-0.9 0.2,-1.5 1.2,-0.8 0.6,-2.1 1.6,-0.6 0.4,-1.6 1.6,0.2 1.2,0 1.3,-0.4 -0.4,-0.2 0.4,-0.5 1.3,-0.7 1.1,-1.1 1,-1.3 -0.2,-1.3 -0.1,-1.1 -0.2,-1.6 -0.3,-1.1 -0.2,-1.6 0.8,-1.5 1.3,-1 0.7,-1.6 -0,-0.9 -0.8,-1.3 -0.9,-1.7 -0.8,-0.8 -0.2,-1.7 -1,-1 -1.2,-0.2 -1.9,-1 -1.5,-0.9 M183.3,193l1.6,-1.4 1.5,-1 1.1,-0.8 -0.2,-2.4 1.6,-0.5 1.4,-1 0.6,-0.9 0.9,-0.8 0.3,-1.4 0.4,-2 -0.3,-1.6 0.3,-1 -0.4,-0.8 1.6,0.7 2.3,0.7 1,-0.5 1,-0.5 1.9,-1.5 1.5,-1.3 0.3,-1.6 -0.1,-2.3 1.1,-1.7 0.9,-0.9 0.2,-0.5 0.2,-0.9 0.4,-1.5 1.3,-0.1 1,-1.4 1,-1.8 M188,196l1.9,0.5 2.3,0.5 1.1,-0.6 1,-1.3 1.6,-0.7 1.3,-0.3 1.1,-0.8 0.9,-1.7 0.8,0.4 0.8,1.2 1,0.9 0.6,0.9 0.9,0.6 1.2,1.8 1.5,-0.2 1,-0.3 2.1,1.1 1.1,0.8 1.1,-0.8 0.2,-1.5 0.6,-0.4 1.2,1 1.3,-0.2 1.2,-1.6 1.6,-0.1 0.9,-0.5 M208.7,177.3l0.3,-0.1 -0.2,-2.4 0.2,-1.1 M187.3,220l2.2,-0.5 0.9,1.2 1.3,1.7 1.5,0.7 0.9,1.3 1.2,0.4 0.7,1.1 1.5,0.3 1.3,0 1.8,0.1 0.9,1.5 1.3,0.7 1,0.6 1.4,0.4 1.2,-0.1 0.9,-0.6 1.4,-0.9 0.4,-2 1.1,-1.2 0.6,-0.9 0.4,-1.1 0.8,-0.8 1.5,-1.2 -0,-0.4 0.4,-1.4 -0.6,-1 -0,-1.3 0.6,-1.6 1.5,-0.2 0.8,-0.6 1,-0.8 2.2,-0.6 -1.5,-0.1 -0.7,-1 -1.5,-0.6 -0.8,-1.6 -0.3,-2.1 -0,-1.7 0.1,-1.9 -0.7,-1.3 -0.9,-0.7 0.5,-2.2 0.4,-1.6 M220,213l1,0.2 0.8,0.2 1.4,1.9 1.2,0.1 2.2,-0.3 1.9,0.6 1.5,0.4 0.7,-0.5 1.8,0.6 1.6,-0.2 0.4,1.8 0.2,-0.5 M234.3,200l1.8,-0.5 1.2,-0.7 1.2,0.5 1.3,-0.3 1.5,-0.8 1.7,-0.3 0.7,-0.6 0.8,-0.5 1.2,-0.6 -0.1,0.4 1,-1 1,-0.2 1.3,0.9 1.6,0.1 1.6,0 1.8,-1.6 0.8,-0.5 1.6,-0.8 1.4,0.2 2.3,-0.9 1.4,0.1 1.4,0.6 0.7,-0.9 0.1,-0.4 1.1,-0.2 0.9,1.2 1,1.1 0.7,0.7 -0.1,-0.6 0.8,-1.7 0,-0.7 1,-1.1 1.5,-1 1,-0.7 0.4,-1.3 -0.1,-2 1.4,-1.1 0.7,-0.8 0.4,-1.5 0,-1.5 -1.6,-1 -1.2,-0.3 -1.4,0.6 -0.9,0.7 -1.4,-2.1 0.6,-1.1 1.1,-1.4 -0.4,-1.8 0.7,-1.8 1,-1.3 -0.2,-2.5 0,-1.3 0.1,-1.1 0.5,-0.6 0.3,-0.7 1.7,-0.5 1,-0.7 0.9,-1.5 0.5,-1.5 0.3,-1.3 0.6,-1.5 1.2,-1.2 1,-0.9 0.7,-1.1 0.6,-1.1 M268.3,195.7l0.7,1.2 -0.1,1.5 0.7,1.9 0.5,1.1 0.9,-0.4 1.5,-0.5 1.4,-0.2 1.1,0.2 1.7,-0.5 1.5,-0.1 1.1,-1.1 1.3,-0.1 0.5,-0.4 0.3,-0.2 1,0.5 0.6,0.9 2.2,0.5 1.3,0.9 2,0.1 1.6,1.4 1,1.6 0.9,1 1.6,0.7 1,-0.8 1.7,-0.1 0.5,0.1 0.8,0.1 0.9,0 0.1,-1 0.8,-0.7 0.9,-1.2 1.1,-0.9 1,-0.9 0.9,-1.3 1.1,-0.8 1.3,-1.1 1,-0.2 1.1,-1 1.3,-0.2 1.4,-0.4 0.6,0.2 1.6,-0.8 M262,225.7l1.1,0.4 1.6,0.7 1.6,-1.3 0.5,-1 -0,-1 1.1,-1.2 -0.7,-0.7 0.5,-1.9 -0.4,-1.7 0.2,-1.2 0.7,-2.6 0.8,-1 1.5,-0.5 0.4,-1.4 0.6,-0.6 -1.1,-0 -1.1,-0.8 -0.1,-0.4 0.2,-0.5 0.4,-1.6 0.2,-3.1 -0.7,-2.3 M266.7,225l1.6,1.5 1.1,0.2 0.4,0.6 1.6,0 1.2,0.9 1.4,0.4 0.6,0.8 0.9,1.3 1.9,1.6 1.8,0.5 1.1,0.4 2.2,-0.4 1.5,-0.1 2.5,0.8 0.7,0.2 1.5,0.4 -0.2,-0.1 1.2,1.2 0.9,0.6 1.6,-0.1 1.9,-0.2 1,-0.8 1,0.6 1.9,0 1.4,-0.2 1.5,-1.2 1.2,-0.9 1,-1.4 0.2,-1.1 1.3,-1.2 0.5,-1.5 1.4,-1.2 1.3,-1.5 0.9,-0.8 -0.8,-1.2 -0.4,-1.6 -0.5,-1.7 -1.1,-0 -1.4,-0.4 -0.6,-0.5 -1.5,0.2 -0.5,-1.5 -0.1,-1.2 -1,-1.7 -1.6,-1.3 -0.2,-1.9 0.1,-2 0,-1.6 -0.3,-1.1 -0.1,-0.8 M308.7,225l1.9,-0.4 1,0.1 1.4,0.7 0.8,1.4 1.3,1.6 1.1,1.6 0.4,0.8 0.5,0.5 0.4,0.3 1.4,0.3 2,-0.5 1.4,0.1 2.3,0.5 1,-1.5 0.9,-0.6 1.3,-0.2 2.1,-0.4 1.7,-0.1 1.8,0.2 1.2,0.6 1,-2 0.2,-1.5 0,-1.4 0,-2 0.1,-1.6 1.2,-0.8 1.1,-0.9 -0.2,-0.6 -0.6,-1.3 0.3,-1.7 -0.7,-1.2 0.3,-1.8 -1.2,-1.3 -0.1,-1 -1.5,-1.1 -1.5,-1.7 -0.8,-2 0.5,-1 1.6,0.1 0.4,-2.2 M334.3,229.3l0.4,0.4 0.2,0.2 1.4,0.9 1.9,0.5 2,-0.1 1.3,0.4 1.1,0.3 1.8,-0.7 1.4,-0.1 1,0.2 1.9,-0 1.2,0.8 1.4,-0.2 1,0.7 0.6,0.5 0.6,0.7 1.6,1.6 1.4,1.7 1.5,0.6 1.3,-0.4 0.8,-1.9 1.1,-1.1 1.6,-1.1 0.9,-0.7 1.5,-0.7 2,0.6 0.8,-0.6 1,-0.1 0.3,1 1.7,0.4 0,-0.7 0.3,-2.1 0.5,-0.9 0.4,-2.2 0.3,-1.5 0.4,-1 0.5,0.9 0.7,0.7 0.7,1 1.4,-0.5 2.1,-0.7 1.9,-0.3 1.1,-1.5 1.6,-1.1 0.8,-0.6 1,-1 0.7,-1 0.3,-0.9 M371.7,232.7l-0.4,2 0.9,1.3 1.3,1.8 -0.2,1.4 0.3,0.6 -0.1,1.3 0.7,1.3 -0.3,1.8 -0.1,1.2 -0.4,0.6 -1.2,0.9 -1.9,0.8 0.5,1.9 0.3,0.7 0.5,1.7 0.7,1.7 -0.2,1.2 0.2,0.4 0.7,1.2 -1.4,1.6 -1.3,1.9 M332.7,229.7l-0.3,1.3 -0.1,1.9 -1.1,1 -0.6,1.4 -0.4,1.7 0.5,1.2 1,0.5 0.8,0.9 0.6,1.3 0,1.8 0.5,2.1 -0.6,2.2 0.2,1.9 -0.4,0.9 -0.5,0.2 0.7,0.7 0.1,1.2 0.4,1.4 1,1.3 0.8,0.9 2.1,1.6 1.7,1.2 1.7,0.5 0.3,1.3 -0.5,0.2 0.7,1 0.6,1.4 0.9,1.3 0.5,1.5 0.8,2.4 1.8,0.5 1.8,0 0.6,-1.3 1,-0.7 1.3,-1 1.7,-0.2 1.9,-0.2 1.3,0 1.3,-0.1 0.8,-0.7 1.4,-0.1 1.8,-0.5 1.5,0.8 1.7,0.2 1.1,-0.3 0.8,0 0.8,-1 M292,235.3l-0.8,1.6 -0.6,1 0.2,0.5 0.4,1.8 -0.1,1 0.5,0.8 -0.8,2.3 -0.5,1 0.5,1.3 0,1.4 -1.2,0.9 0.2,1.5 -0.6,1.1 -0.6,0.8 -0.1,1.6 -0.2,1.2 0.4,0.9 1.3,1 0.9,1.7 -0.2,1.9 0.6,2.1 -0.3,1.4 -0.6,1.5 1.1,0.8 1.5,0.5 0.9,0.8 1.5,0.9 1,1.2 0.6,1.4 -0.1,0.9 0.7,1.2 0.3,-1 1.5,-1.6 1.2,-0.7 1.2,-0.6 0.8,-1.6 1.2,-0.1 1.7,-0.5 -0.1,-1.1 0.6,-1.4 1.1,0.3 1.4,-0.1 1.2,-0.8 1.5,-0.2 1.5,-0.1 1.2,-0.3 -0.3,-2.6 0.7,-0.8 0.4,-0.7 2.2,0.1 1.3,-0.7 1.1,0.3 1.3,0.6 1.9,-0.2 1.2,-1.8 0.6,-1.1 1.3,0.2 1.4,0 0.2,-1.1 1.1,-0.3 1.4,-0.6 0,-1.2 0.8,-2.3 1.2,-0.6 1,-0.7 M245.7,232l-0.3,1.1 -0.4,1.1 0.5,-0.2 -0.4,0.8 -0.1,1.7 -1.1,1.1 -0.5,1.4 -1,1 -0.7,1.6 0.9,1.1 1.9,-0.2 0.6,0.7 1.5,1 1.5,1.3 1.8,0.9 0.9,0.9 1.2,0.9 1.1,0.6 -0.7,2.5 0.6,1.5 0,2.1 0.2,1.2 -0.8,0.6 0.2,1.3 1,1.3 1.6,-0.6 2.4,-0.7 1.7,-0.2 1.5,0.9 -0.6,1.9 1.4,-1.2 1.7,0.1 1.5,-0.4 0.9,-0.7 2.1,-0.8 0.8,-0.4 0.5,-0.2 1.5,1.2 2.3,-0.3 0.5,-1.2 1.7,-1.3 1.5,-0.1 0,1.1 0.3,0.6 -0.1,1 0.1,1 -1,1.5 0.5,1.5 0.9,-0 2.1,1.1 0.5,0.1 1.4,0.2 0.8,1.5 1.9,0.7 0.6,1.1 1.8,-0.5 1.3,-0.8 2,-0.1 M216.3,215.3l0.3,0.5 1.6,0.9 0.9,1.7 1.3,0.6 -0.6,0.8 -0.5,1.5 -0.6,1.4 -1.3,0.7 -1.5,0.1 -1.6,0.7 -0.6,0.3 -0.1,-1.2 -0.9,-1.3 M205,229.3l-0.9,1.6 0.7,2.3 0,1.8 -1,1.1 -0.8,1.1 0.5,0.7 1.4,0.9 0.3,0.7 -0.3,1 -0.4,1.1 1.6,0.2 1.4,-0.4 1.1,1.2 1,1.6 1.5,0.4 0.6,0.2 1.3,1.3 0.7,-0.3 1,-0.3 1.6,-0.1 1.7,0.5 1.3,0.6 1.5,1.2 0.4,0.6 1.7,0.5 1.2,0.9 1.6,-0.5 1.7,-0.4 1.2,0.9 0.5,0.7 0.3,-2 1.3,-0.2 1.2,-0.2 2.1,-0.4 1.1,-1.3 1.7,-0.4 1.8,-1.4 2,-0.4 0.5,-1.7 0.6,-1.1 M245,231.3l-1.1,1 -1.9,0.6 -0.7,1.2 -1.7,1.2 -0.7,-0.7 -1,0.9 -0.5,-1.1 -1.2,-0.8 0.1,-1.8 -0.3,-1.9 0.5,-0.9 -0.2,-0.9 1.4,-1.7 0.1,0.3 1.3,-0.8 0.8,-0.9 0.8,-0.7 M171,232.3l0.8,0.4 0.8,1 0.3,1.6 1.3,0.7 0.6,2 1,0.9 1.2,0.8 0.5,0.6 0.7,1.6 -0.4,1.7 -0.4,1.8 -0.2,1.4 1.2,2.1 1.5,1.3 0.8,1.1 0.5,1.2 0.8,0.3 0.5,1.1 -0,0.8 -0,1.5 0.7,1.5 0.6,1.2 1.2,0.7 0.5,1.1 0.4,1.3 1,1.5 0.3,1.7 -0.9,2.2 0.2,1.4 -0.2,1.2 1,-1.6 0.7,-1.7 0.7,-1 1.7,-0.6 0.9,0.1 1.5,-1.5 1,-1.3 0.1,-0.4 0.5,-0.5 0.2,-1.4 0.3,-1 1.8,-1.5 1.7,-0.6 1.3,-1.3 0.4,-1.1 1.5,-0.9 1.1,-0.6 0.3,-1.7 1,-1.6 1.2,-0.9 1.3,-1.1 0.9,-0.6 0.8,-0.7 0.5,-1 -0,-1.5 M141.7,259.7l1.3,-0.4 1.4,-0.9 -0.1,0.8 0.6,1 0.4,1.3 0.8,1.8 1.5,0.6 1.2,1 1.1,0.9 1,1.1 0.2,1.1 0.5,0.9 0.5,1.8 -0.2,0.4 0.2,1.2 1.4,1 1,1.6 1.3,1.5 0.7,1.4 0.8,0.1 1.5,-0.2 1.5,0.3 1,0.3 1.1,0.1 0.4,0.5 1.5,1 1.2,-0 1.2,-0.7 1.1,-0 1.9,-1.1 2.5,-0.1 1.1,-0.4 1.4,-1.1 0.8,-1.3 1.2,-0.5 1.2,0.5 1.5,-1 0.9,-0.9 1.4,-2 1.2,0.1 1,-0.7 0.5,-1 1.3,-1 M162.7,293.3l-0.3,-2.1 -0.7,-2.2 1,-0.6 1,-1.1 -0.6,-1.7 0.2,-0.9 0.9,-0.7 1,-0.8 0.1,-0.7 1.3,-1.5 0.8,-1.3 -0.7,0.3 M185,270l0.5,0.9 0.2,1 1.4,1.1 1.6,0.9 0.8,1.3 -0.4,0.7 1.4,1.2 0.9,0.6 1.6,0.6 0.9,0.8 1,0.1 1.5,0.4 1.7,1.1 1.5,1 1.3,-0.8 0.7,-0.2 1.5,-1 1.2,1.3 1,1.4 0.8,1.5 0.6,1.2 1,0.5 0.4,1.2 1.9,-0.4 1.5,0.2 0.7,-0.7 1.5,-0.8 0.2,0 0.8,-0.3 1.8,-0.1 1,0 1.6,0.1 1.2,0.3 1,0.9 M227,285l-0.4,-1.6 -0.2,-0.8 -0.8,-0.8 -0.2,-1.7 0.2,-1.8 1.1,-2 -0.3,-2 0.3,-1 0.1,-1.6 -0.5,-0.6 1.1,-1.5 0.2,-1.3 0.1,-1.6 0.3,-1.4 -0.3,-0.7 -0.1,-1.1 -0.2,-0.3 -0.3,-1.7 0.2,-1.3 0.7,-1.8 -0.4,-0.9 -1.1,-1.5 -0.9,-2.1 1.1,-1.1 1.8,-0.3 1.7,-0.3 0.2,0 -0.4,-1.2 M251,297l-1.2,-0.8 -1.3,-1.3 -0.9,-1.4 -0.9,-0.9 -1.3,-1 0.3,-0.7 0.5,-1.1 1.3,-0.4 0,-1.2 0.7,-1 -0.2,-2.2 1.1,-1.3 -0.2,-0.6 0.9,-1.4 -0.3,-1.7 0.4,-1.8 0.4,-0.9 1,-1.4 0.2,-1.1 0.1,-1.6 0.2,-1.6 0.3,-1.6 0.1,-0.8 -0.9,-1.1 -0.1,-1.8 -0.7,-1 0.4,-2.3 1.2,-1.9 1,-0.7 0.9,-0.4 M266.3,292.3l2.4,-0.8 2,0.4 1.6,-0.2 1.3,1 1.7,0.1 0.9,0.2 1.1,-0.1 0.5,-0.7 0,-2.1 0.2,-1.7 0,-1.5 -0.6,-1.8 0.8,-0.3 0.5,-0.6 0.4,-0.7 0.5,-1.3 1.8,-0.9 1.6,-1.4 1.6,-0.9 1.3,-1.2 1.6,0.4 1.3,-0.1 0.4,0.7 1.2,-0.9 1.3,-1.1 0.9,0.2 1.5,0 2.2,-0.8 -0.2,-0.8 0.7,-0.7 0.5,-1.7 M297.7,275l0.8,2 1.3,1.5 0.7,0.4 1,1 0.6,0.1 0.5,1.6 1.2,1.3 2.1,0.4 1.8,-0.4 2.1,0.5 0.9,0.6 0.4,1.7 1,1.7 1.4,1.4 0.8,0.3 0.7,1.3 1.3,-0 0.7,1.3 1.1,0.7 0.5,0.9 0.8,1 1.2,0.9 1.3,0.7 0.5,2.3 1.4,0 1.7,-1.4 1.1,-0.7 1.7,-0.9 1.5,-0.9 0.2,-1.1 0.7,-2 0.8,-1.1 1.5,-0.8 1.7,-0.4 0.6,-0.2 -0.1,-0.9 -1.3,-2.1 -0.5,-0.4 0.3,-1.1 1.6,-0.2 0.9,-0.7 -0.1,-1.5 0.7,-1.2 1.1,-1.3 1.2,-1.3 1.1,-1.1 1.1,-0.9 1.1,-0.4 1,-1.6 0.2,-0.9 -0.4,-0.7 0.3,-0.6 0.8,-1.3 0.9,-1.7 -0.2,-1.5 M334.3,288.7l0.4,0.8 0.4,-0.1 1.1,1.5 1.7,1.2 1.9,0.9 1.4,1.8 1.4,0.8 1.6,1 1,1.2 0.6,1.3 0.6,1.6 0.7,1.6 1.3,-0.2 1.6,-0.4 1.1,-0.4 1,-0 1.3,0.9 1.5,0.6 1.6,0.8 -0.7,2 0.6,1.4 1.1,-1.2 1.4,-0.4 2,-0.8 1.7,0.5 0.7,-0 -0.9,-0.8 -2,-1.9 -0,-1.5 0.9,-1.1 1.6,-0.3 0.5,-0.3 0.3,0.3 2.1,0.4 1.2,0.6 1.4,-0.8 0.9,-2 0.6,-0.2 1.4,-0.4 1.8,-0.2 1.1,-0.5 1.4,-0.5 0.2,-1.2 1.5,-0.7 M197,303.3l1.7,-0.2 1.4,0.9 1.1,0.9 -0.3,1.6 -1.3,1.4 -1.2,0.9 -1.1,1.3 -1.4,-1.2 -1,-0.1 -2.3,0 -0.1,-0.4 -1.5,-1.2 0.5,-1.4 0,-1.2 0.2,-1.3 1.3,1.1 1.6,1.6 1.6,-1.2 0.5,-1.5 M262,325.3l1,-1.5 0.5,-1 0.3,-0.3 2,0.1 1.4,-0.8 1.6,-0.9 1.1,-0.1 0.9,-0.3 1,-0.2 2,-0.5 1.3,-0.4 1.5,-1.5 1,-1.2 1,-1.7 0.5,-2 -0.1,-1.4 0.3,-0.9 0.5,-0.2 0.4,-0.8 1.3,-0.5 -0.3,-2.1 0.6,-1.3 0.8,-1.4 0.7,-1.2 0.1,-1.4 0.1,-1.1 -0.9,-2.4 -0.6,-1.3 0.2,-0.6 -0.4,-0.5 0.1,-1.6 -1.2,-0.6 -0.7,-1.6 -1.3,-0.8 M299.7,300l1.3,-0.1 1.9,0.6 0.8,0.9 1.5,0.9 0.8,0 1.7,0.6 0.5,1.6 0,1.4 -1.5,1.4 -1.1,0.5 -1.5,0.4 -0.8,-0.4 -0.8,-0.7 -0.4,-0.5 -1.5,-1.9 -1.1,-1.1 -0.7,-1.5 0.1,-1 0.1,-0.5 0.3,-0.3 M283.3,309.3l0.6,0.8 0.5,1 1.3,1 0.8,1 0.8,1.3 2,0.6 0.9,-0.1 0.9,0.5 0.8,1.3 0.9,0.2 0.4,1.3 1.6,0.9 0.9,0.6 0.9,0.6 1.9,0.2 0.8,1.3 1.4,0.4 0.6,-0.2 0.8,-0.5 1.4,-1.7 1.4,-0.7 1.7,-1.1 0.8,-0.8 0.7,-0.5 1.5,0.1 1.1,-0.4 0,-1.3 0.2,-1.8 0.8,-1.7 1.6,-2.2 0.8,-1.3 1.8,-1.3 0.7,0.1 1.7,-0.6 0.6,-0.2 0.7,-1.3 1.2,-0.5 0.1,-1.1 0.3,-1.8 0.9,-0.9 -0.1,-1.2 1,-1 M310.3,315.3l0.7,1 1,0.7 1.3,1.4 1.4,0.2 0.8,1.5 1.7,0.8 0.6,1.8 0.8,0.9 1.2,0.1 1.3,2.1 1,0.6 0.9,1.7 1.8,0.5 1.4,0.3 -0.8,0.8 0,1.8 -1.2,1.3 0.9,1.2 0.6,1.9 0.9,1.2 1,1.5 1.9,-0.2 0.9,0.1 1.7,-0.8 1.4,-1.3 1.1,-0.7 0.9,-1.2 1,-0.3 -0.5,-0.9 -1,-1.4 -0.7,-0.4 0.1,-0.8 0,-1.2 0.5,-0.7 2.3,-0 1.4,0.5 1.7,-1.7 2.3,0.2 0.8,-0.7 1.1,-2.1 0.5,-1.2 1.8,-0.8 0.7,-0.2 1.6,-0.5 0.3,-1 -1.4,0.1 -1.2,-0.2 -1.5,-0 -1,-0.9 -0.5,-2.1 1.2,-1.7 1.2,-0.7 1.1,-0.1 1,-0.2 1.6,0.5 1.1,-0.6 0.8,-1.5 0.6,-0.6 0.8,-1.4 0.4,-1.3 -0,-1.7 0.9,-1.5 1.2,-1.1 M367.7,301.3l0.7,1.4 1.3,1.2 0,1.4 -1,1.1 -1.2,0.2 -0.7,1.1 -0.1,1.2 -2.5,0.6 -1.3,-1.1 -0.5,-0.4 -0.1,-1.4 0.4,-1.6 M352.7,312.3l0.1,1.8 0.8,1.6 1.7,1.3 0.3,0.8 0.9,0.9 1.6,-0.6 1.6,0.6 1.4,0.4 1.1,0.1 2,0.3 1.2,1 -0.4,0.8 0.2,1.4 0.4,0.8 1.4,1.3 0.9,1 1.2,0.7 0.4,1.1 -0.3,0.8 1.4,1.6 0.9,1.8 0.4,1.4 0.1,1.9 -0.1,1.3 -1,1.9 0.5,0.8 2.6,0.2 M351,314.3l1.7,1.7 0,2 0,0.6 -0.4,1.6 -0.7,0.4 -1.6,0.9 -1.7,0.5 M339.7,328.7l1.8,0.4 0.7,-0.3 0.8,-0.4 1.4,0.6 0.5,2.1 -0.4,1.6 -0.9,2.3 -0.9,0.9 -1,1.5 -0.9,-1 -1,-1.2 -1.7,-0.4 -1.4,-1.1 M329.7,338l1.4,1.2 1.7,1.4 0.4,1.1 0.7,1.5 -1.3,1.6 0,1.4 1.5,-0.8 1.7,-0.1 1.5,-0.6 2,1.1 1.9,-0.7 1,-0.2 0.8,0.9 1.1,1.5 0.6,0.7 1.4,2.1 1.9,0.5 0.2,0.5 1.4,1.4 1.1,1.2 1.5,0.6 1.1,0 M300.7,322.7l-0.6,1.8 -0.9,1.8 -0.9,0.6 -1,-0.3 0,1.3 0.7,0.9 -0.6,0.8 0,1.5 -0.7,1.7 -1,0.8 -0.1,1.8 -0.1,1.8 -0.4,0.7 0.2,1.2 -0.6,1.5 -0.1,1.1 0.4,1.7 1.7,0.7 2.5,1 1.4,1 0.3,0.6 -1.2,1.4 0.4,0.9 -0.6,0.6 0.4,0.6 1,1.3 1.2,1.3 0.6,1.2 1.1,0.9 2.1,-0.3 0.9,-0.3 1.5,0.3 1.6,0.5 -0.1,0.5 0.9,0.1 2,-0 0.8,0.4 0.6,0.1 1.8,0.5 2,0.9 1,-2 1,-2 0.2,-1.5 1,-1.6 0.7,-0.6 1.2,-1.7 1.1,0.2 1.4,-0.2 1.7,-0.6 1.1,-0.1 0.9,-0.5 0.4,-1.6 1,-0.8 1.4,-0.9 M274,348.7l1.8,0.7 1.4,0.2 2,-0.8 -0.4,-1.2 0.6,-0.9 -0,-2.2 -0.5,-1.7 -0.6,-0.8 1.6,-0.2 1.6,0.2 0.9,-0.8 1.2,-0.3 0.1,-1.2 1,-0.7 1.4,-1.6 1.4,-0.1 1.3,0.7 1.7,0.4 1.7,1.8 0.6,0.8 0.1,0.7 1.4,-0.4 M286.3,378l0.9,-1.8 0.8,-1.5 1.3,-1 0.7,-1.4 0.1,-1.1 0.5,-0.8 0.4,-0.6 0.8,-1.6 -0.5,-1.5 -0.1,-1.2 0.1,-1.7 0.3,-1 1.7,-1 2.3,-1.4 1,-1 1.7,-0.3 1.3,-0.3 0.4,-0.4 -1,-2 -0.5,-0.9 0.4,-0.4 1.8,-1 1,-2.1 M291.3,381.3l2.1,0.7 1.2,0.8 1.2,0.1 1.4,0.4 1.4,-0.6 1.4,-0.8 0.8,-0.2 2,0.1 0.8,0.5 2.3,-0.5 1.4,0.5 1.7,-0.5 0.8,0.1 0.8,0.2 0.5,-0.2 0.8,0.6 1.2,0.6 2.1,0.7 1.3,0.5 1.4,-0 1.5,-1.7 -0.2,-2.1 0.6,-1.1 0.2,-1.3 1.3,-1.7 0.4,-1 0.1,-2.1 -0.2,-0.9 -1,-1.4 -0.4,-1.3 0.5,-1.7 0.1,-1.2 -0,-1.3 0.2,-1.2 -1.3,-1.3 -0.5,-1.9 -0.2,-1.4 -0.9,-1.1 -0.1,-1.6 M320,363l1.6,1 0.6,-0.9 1.4,-0.1 2.1,1.1 1.5,-0.1 1.4,0.5 1.2,0.7 0.8,1.2 0.6,0.7 0.7,1.2 1.4,0.8 1.1,0.3 0.7,0.7 1.1,0.9 0.9,1.2 1.2,1.2 1.5,0.8 0.8,0.1 2.2,-0.5 0.6,-0.6 2,-0.3 1.1,0.2 1.5,-0.3 1.7,0.4 1,0.9 1.2,0.1 1.2,2.1 1.2,2 M319.7,383.3l1.3,1.1 0.6,2 0.9,1.5 0.7,1.4 0.3,0.9 0.3,0.7 -0.4,1.5 -0.2,1.8 1.2,0.4 1.3,0.5 0.6,0.6 M454.3,262.7l-0.1,-1.2 0.1,-1.2 0.7,-2.3 0.3,-0.9 -0.3,-1.8 -0.2,-0.5 1.9,-1.7 1.6,-0.9 2.1,-1.3 0.6,-1.4 0.2,-1.2 0.3,-0.5 0.4,-1.3 -0.2,-1.8 0.5,-0.7 -0,-0.7 0.8,-0.8 1.1,-1.9 0.7,-1 -0.1,-1.4 -0.8,-1.7 0.2,-2 0.3,-1.1 -0.8,-1.1 0.4,-1.7 0.3,-0.6 1,-0.6 1.7,-1.5 0.6,-1.2 1.3,-1.3 -0.5,-1.4 -1.2,-1.3 -1,-0 0.1,-1.7 M458.3,267l0.3,-2 0.7,-1.6 0.6,-1.1 1.5,0.3 1.2,0.9 2.4,0.7 1.6,1 1.7,0.7 1.1,0.4 0.8,-0.1 1.3,0 1.6,1 1.2,0.6 1.6,0.1 1.7,0.4 1.1,-0.5 0.9,-0.2 0.7,-1 0.9,-1 1.2,-0.8 1.5,-0.6 1.3,1.6 0.9,0.3 1.6,1.8 1.7,-0.3 1.6,0.7 1.3,-0.1 1.7,-0.7 1,-0.7 0.6,-1.4 0.6,-0.6 0.5,-1.3 0.7,-1.5 0.4,-0.7 1.2,-0.7 1.4,-0.1 1.6,-1.3 0.8,-1.9 -0.8,-1.3 0.6,-2.2 0.7,-2.1 -0.5,-0.6 -1.5,0.1 -0.3,-1.5 0.6,-0.9 -0.7,-1.5 -0.5,-2.5 -0.1,-0.9 -0.4,-1.2 -0.8,-1 -0.9,-0.6 -1.3,-1.2 1.1,-0.9 -0,-0.9 -0.6,-2.1 0.2,-1.2 0.7,-1.5 M492.3,268.3l0.9,0.6 1.4,0.7 1,0.4 1.1,-0.1 1.3,0.7 2.1,-0.6 0.2,1.3 0.8,1.3 -0.2,1.3 1.2,2.1 1.1,1.5 0.4,1.3 0.9,0.8 -0.1,1.6 2,0.7 1.1,-0.8 1.5,-0.2 1.2,0.9 0.8,0.9 1.1,1 0.5,1.1 1.4,0.3 1.4,0.2 0.6,0.1 1.2,1.4 0.5,2.2 M524.7,288l0.3,-1.1 -0.2,-1 0.5,-1.3 0.1,-1.1 0.6,-1.4 0,-1.5 1,-1.3 0.9,-0.7 1,-0.9 0.4,-0.9 0.4,-1.3 0.2,-1.6 0.7,-0.9 0.4,-1.2 -1,-0.8 0.4,-1.7 0.2,-0.7 0.8,-1.7 0.8,-1 0,-1.1 -1.1,-2 -0.7,-2 0.5,-1.4 0.2,-1.7 1.1,-1.4 0.7,-0.3 1.3,-0.6 0.7,-0.5 1.3,-1.2 1.4,-0.3 -0.3,-1.2 0.9,-1.5 0.4,-1.6 0.1,-3.2 -1,-1.3 -1.3,-2 -0.3,-1.4 -1.6,-0.9 -1,-1.4 0.1,-1.3 -1.1,-1.5 -1.2,-0.9 -1.5,-0.7 -0.9,-0.1 -1,-0.9 -0.5,-1.2 -0.3,-0.6 -0.6,-0.2 -1.5,-0.9 -0.5,-1.4 -0.5,-1.7 -0.3,-1.8 M539.3,246l1.7,0.6 1.4,-0.6 1.3,0.6 0.9,0.4 0.8,1.6 1.4,0.1 0.8,1 1.1,-0.1 1.5,0.1 2.4,0.2 1.3,-0.4 1.3,-0.7 2.2,0.9 1.4,0 1.1,0.2 2,-0.2 1.1,1.3 1.7,0.2 1.5,-0.1 1.5,-0.2 0.1,1 0.4,0.9 1.7,-0.1 1.8,-0.3 1,-1.3 1.6,-0.1 0.8,-1.2 1.1,0.6 1.8,0.3 1.7,1.3 M540,297.7l1.2,-1 1,-0.4 0.5,0.1 2.2,-0.2 1.9,-0.2 1.5,-0.6 1.6,-0.6 1,-1.8 1.2,-1.2 2.1,-0.3 0.6,-1.5 1.2,-0.4 1.2,-0.6 0.4,-0.3 0.7,-1.2 0.7,-0.7 0.4,-1.2 0.5,-1.2 -0.1,-0.7 1.4,-0.1 -0.1,-0.5 0.6,-1 0.5,-1.8 0.8,-0.9 0.6,-1.3 0.9,-1.3 1.5,-1 0.8,0.2 1.1,-0.1 0.4,-1.3 1,-0.9 1.1,-1.7 1.4,-1.3 1.2,-0.4 M547.7,315.3l1.7,0.2 1.5,0.7 2,0 0.8,-0.7 2.2,0.3 1,0.1 0.9,0.2 1.9,0.5 1.9,1.1 1.6,0.4 0.7,-0.6 1.4,-0.9 0.2,-0.9 -0,-1.3 0.9,-0.4 1.6,-0.3 0.8,-0.4 1.5,-0.9 1.4,-0.8 1.7,-0.5 1.6,-0.5 0.8,-0.4 1.7,-0.9 2.5,-0.8 1,-0.2 1.9,-0.4 0.4,0.3 2.4,-0 0.9,0.4 1.8,-0.4 1.8,-0.3 0.5,-1.4 0.7,-1 1.4,-1.4 -0.2,-0.4 0.5,-1.3 0.9,-0.4 1.9,0.3 1.4,-0 1.3,0.4 1.8,-0.1 1.9,-0.6 M462,303l1.7,-0.5 2.1,0.3 1.1,0.7 1.8,0.3 1.4,-0.3 1.7,0.6 -0.7,-0.7 0.5,-1.8 1.5,-0.6 2.1,-1.1 -0,-0.7 0.6,-0.4 2,-0.1 1,-0.1 0.8,0.2 1.1,0.6 -0.2,1.2 -0.1,1.4 -0,1.9 -0.6,0.7 1.5,1.2 1.9,0.6 0.2,0.9 1.3,0.3 0.5,0.7 0.7,-0.4 1.4,0.7 0.6,-0.9 1.7,-0.3 1.1,0.6 2.4,0.8 1.9,0.8 0.8,0.3 1.4,-0.3 1.2,0.4 0.7,-0.6 0.9,-0.4 -0.3,-1 1.4,-1.1 1.4,-0.5 1.2,0.3 1.7,-0.3 1.2,0.1 1.1,0.6 0.6,1 1,0.2 M491.7,356.3l1.5,-1.1 0.5,-1.9 -0.5,-1.4 -0.4,-1.3 -1.4,-1.3 -0.2,-1.7 -0.1,-1.3 0.6,-0.8 0.5,-0.8 1.1,-2 0.1,-0.7 0.8,-1.4 -0.2,-1.9 1.3,-0.6 -0.1,-1.7 0.8,-0.2 0.9,-1.1 1.3,-1.4 0.3,-0.9 0.1,-1.8 0.2,-1.4 1,-1.7 -0.5,-1.3 -0,-1.6 -0,-0.9 -0.6,-1.2 0.9,-1.6 0.1,-0.9 1.4,-1.8 0.7,-1.8 0.3,-0.7 -0.1,-0.5 0.5,-1.2 1,-1.1 0.3,-1.8 -1,-0.2 -1.8,-1 M479.7,305l-1.2,0.3 -2,0.6 -2,-0.5 -0.8,-0.1 -0.8,0 -1.1,-0.4 -1.5,-0.6 M511,372l1.7,0 1.4,0.6 1.9,0.1 0.9,-0.1 1.8,0.1 1,-0.9 1.4,-1 1.7,-0.4 0.5,-1 1.1,-0.3 1.3,-1 0.7,-0.7 0.8,-0.2 0.7,0.3 1.2,-1.1 0.7,-1.2 3,-0 1.5,-0.2 1,0.4 -0.2,-0.5 -0.4,-1 -1.7,-0.5 -1.5,-0.7 -0.5,-1.1 -0.7,-0.8 -0.1,-0.5 0.5,-1.2 -0.2,-0.6 0.6,-1.6 0.6,-1.5 1,-1 0.7,-2.2 1.3,-0.6 0.7,-1.3 1.7,-0.7 0.2,-1.5 0.6,-1.2 0.5,-0.7 1.4,-0.8 1,-0.8 0.6,-0.5 0.5,-0.9 0.2,-1.5 -0.5,-1 -1.3,-1.9 -0.9,-3.1 -0.9,-1.4 -1.1,-2 -0.3,-1.7 0.2,-1.4 0.6,-1.4 0.9,-0.2 0.3,-1.2 -1.1,-0.9 -0.1,-1.3 -0.6,-1.2 0.8,-0.7 -0.3,-1.4 1.3,-0.9 0.8,-1.3 0.8,-1 M509.3,311l0.3,2.2 0.5,1.7 -0.4,1.5 -1,0.2 -2.8,-0.8 -1.3,-1.4 -1.6,-1.3 0.5,-0.3 0.5,0.9 M535,367.7l0.5,1 1.2,0.4 1.5,-0.1 1.8,1 2.3,-0.2 0.8,1 1,1.8 0.8,1.9 0.5,1.4 0.7,-0.9 1,-0.5 1,0.1 2,-0.5 1.5,-0.7 1.7,-0.3 1.3,-0.5 0.1,-1.6 -0.3,-1.1 1.1,-0.7 1.7,0 1.2,0 1.8,-0.5 1.7,-0.4 1.9,-0.2 1.2,-0.2 1.3,0 1.4,-0.4 1.2,0.8 0.8,-0.1 1.4,0 1.4,0.3 0.4,-0.9 0.1,-1.6 0.7,-1.3 1.3,-1 0.5,-2.2 1.1,-1.6 1.2,-0.4 1.5,-1.6 0.6,-1 -0.7,-2 -0.1,-1.9 -1.4,0 -1.3,-0.4 -0.6,-0.2 -1.1,-1 -1.5,-2 -0.3,-1.2 -0.6,-0.8 -1.1,-0.6 -0.9,-0.8 -0,-1.2 -0.5,-1.3 -0.9,-1.5 -1.6,-1.3 -0.6,-0.5 -1.3,-0.8 -0.2,-0.8 -0.6,-1.1 -1,-1.3 -1.2,-0.1 -0.2,-1.5 -1.5,-0.5 -0.7,-1.4 -1.5,-0.3 -1.4,-1.1 -1.1,-1.3 -1.3,-0.4 -0.2,-1.7 -0.4,-1 0,-1.6 -0.3,-1.1 -0.3,-0.6 0.2,-1.5 0,-1 -0.7,-1.9 -1.3,-0.9 -1.4,-1.3 M579.7,357l2.3,-0.5 0.8,-1.6 1.6,0.4 1.5,-0.1 1.1,0.6 1,-0.9 1.2,0.1 0.9,-0.5 1.5,-0.5 2.4,0.2 2.9,-0.1 1.1,-0.6 1.1,-0.3 0.8,-0.6 1,0 1.1,0.1 1.9,-0.8 1.1,-0.2 0.7,-2.1 0.7,-1.1 0.7,-1.9 1.4,0.8 1.2,-0.1 M598.7,325l-0.7,0.6 -1.5,0.3 -0.9,-0.1 -1.3,-0.2 -0.1,-1 -0.4,-0.8 -0.8,-1.3 -0.6,-0.9 1.3,-2.5 0.6,-0.8 0.6,-1.9 1.4,0.5 1,1 0.2,1 -0.3,1.7 0.8,1.7 M588.3,371.3l1.3,-0.5 0.9,0.6 0.7,0.4 -1.2,1.1 0.6,1.5 -0.1,1.3 -0.8,1 -0.3,0.8 -1.6,1.3 -0.7,0.9 -0.8,-0.1 -1.3,0 -0.7,-0.5 -0.1,-1.8 0.3,-0.5 1.1,-1.5 0.7,0.2 -0.1,-1.9 1.2,-1.1 0.6,-1.2 M573,368l0.1,1 0.7,1.4 -0,1.6 0.8,1.4 1.5,1.5 0.1,0.7 0.2,1.8 0.4,1.3 0.8,1.2 0.6,0.6 0,1.3 0.9,1.6 -0.2,1.7 0.8,1.8 -0.6,2.3 0.9,2.2 0.6,0.8 0.6,0.4 -0.9,0.9 0.1,1.1 1.1,1.5 0.5,0.7 0.9,0.9 1.4,1 1,0.2 -0.5,1.5 -0.5,1.6 M544.7,375.3l-0.6,1.5 0.2,1.9 0.7,1.1 0.2,0.2 1.2,1.2 0.3,0.8 0.4,1.3 0.6,1.2 0.8,1.6 0.5,1 0.7,1.9 -0.3,2.3 0.1,2 -0.8,0.9 0.4,0.9 -0.6,1 -0.1,1.2 1,0.5 0.1,1.6 0.5,1.9 -0.8,1.4 -0.7,1.1 -1.9,1.8 -1.6,0.9 -2.2,0.7 0.8,1.1 0.4,1.1 1.3,1.4 0.7,1.6 -0.1,1.1 0.3,0.9 -0.9,2.3 M406.7,307.7l1,-1.9 1.3,-1.2 1.2,-0.9 0.3,-0.8 0.8,-0.3 1,-1.4 -0.1,-2.1 0.1,-1.1 0.4,-1.3 0.8,-1.7 -0.3,-0.7 -0.4,-1.6 -0.7,-1.3 -0.5,-1.2 -0.2,-1.2 0.6,-1.7 -0.3,-1.5 -0.6,-1.2 0.4,-1.8 1.2,-1 0.6,-1.3 0.2,-1.6 -1.5,-1.2 1.2,-0.9 0.4,-1 1.9,-0.8 1.8,-0.8 -0.2,-0.8 -0.4,-1 -0.5,-1.2 -0.3,-1.1 -0.4,-2.1 0.3,-2.2 -0.2,-1.4 -0.6,-0.7 -1.9,-1.4 -1,-0.7 -0.9,-1.7 -0.5,-1.1 -0.2,-1.4 0.2,-1.7 M412.3,301.3l1.8,-0.5 0.6,0.1 1,-0.7 0.2,-0.3 0.9,-0.5 1.3,1.8 2.1,0.7 1.6,-0.2 0.8,-0.1 0.9,-0.5 1.7,-0.2 0.8,-0.9 2,-0 0.8,-0.7 1.5,-0 0.3,0.3 1.8,0.9 1.5,0.1 1.4,0.7 1,0.5 0.9,-0 0.5,0.5 2.2,-0.8 1.4,-0 1.9,-0.7 1.1,-0.3 2,0.3 1.1,0.3 1.6,-0.9 0.6,-0.5 1.3,0.1 1.4,-0.5 M432,348.7l1.3,1 0.6,-0.2 1.5,1 1.1,0.7 1.7,0 1.9,-1.2 1.3,-1.2 0.5,-0.6 -0.2,0.5 0.9,-0.7 2.2,-1.2 1.3,-1.2 1.8,-0.6 1.8,-0.4 0.9,-0.3 2.1,0.5 1,0.9 1,1.2 1.9,1.1 1.1,0.9 1,0.8 M372.7,394.7l0.3,-0.3 0.8,-0.7 1.8,-0.3 1.1,-0.5 1,-1.1 1.1,-0.7 0.1,-1.4 -0.2,-1.6 0.9,-2.1 0.8,-1.3 0.7,-1.3 0.8,-1.3 1.4,-1 1.2,-1.5 1.1,-1.1 1.8,-0.5 0.8,0.8 1.5,0.6 0.7,-1.6 0.1,-1.7 1.2,-0.5 1.8,-0.8 1.9,0 1.3,-1 1.7,-0.5 0.9,-1.6 M403,417.7l0.4,2.4 0,-0.9 -0.2,-2 0.9,-0.6 1.2,-1.6 1.1,-0.9 1.2,-1.3 1.3,-1.3 0,-1.5 -0.8,-1.4 -0.1,-2.2 -0.8,-1 0.4,-0.5 0.7,-1.6 -0.7,-1.3 0.5,-0.5 -0.2,-1.4 1.5,-1 1.4,-1.8 1.2,-0.6 -0.3,-1.4 -0.1,-1.3 -0.4,-1.2 0.8,-1.9 1.4,0.2 1.5,-0.5 0.8,-0.7 1.2,-0.9 1.5,-1 -0.1,-0.6 0.9,-1.3 0.5,-1.4 M436.3,398.7l0.7,0.1 0.9,0.4 2.5,0.3 1.1,0.5 -1,0.9 -1.2,1.4 -0.8,1.2 0.7,0.9 -0.2,1.9 -0.9,0.4 -0.6,1.4 -1,-0.5 -1,0 -0.9,0.2 -0.7,-2.1 -1.4,-0.7 -1.5,-0.8 -1.3,-1.1 -0.2,-0.9 2,-1 1.8,-0.5 1.8,-0.1 -0.2,-0.8 1.1,-1.1 M403,431.7l1.4,-0.4 1.5,0 1.6,-0.8 0.7,-0.3 1.6,0 1.7,0.7 1.2,-0.4 0.4,-0.3 1,-0.6 1.1,0 1.3,-0.5 1.2,-0.1 1.4,-0.4 1.9,-0.7 0.6,-0.2 1.2,-0.3 1.4,-0.8 1.6,-0.4 1.6,-1.3 0.2,-0.9 1.1,-1.5 0.9,-0.2 1.1,-0.3 1,-0.4 1.3,-0.4 1.8,-0.3 1.2,-0.2 0.7,-0 0.9,-0.7 1.6,-0.2 2.1,-0.6 1.4,1.5 1.5,1.2 0.2,1.3 1.6,0.8 M451.3,396.3l-2.4,0.3 -1.5,0 -1.8,0.1 -2,-0.4 -0.9,-0.1 -1.9,-0.5 -1.5,-0.9 -0.8,-0.2 -1.4,-0.3 -1.1,-0.5 -1.8,-0.7 -1.8,-0 -0.8,1.3 -0.3,0.4 -0.7,0.4 -1.2,0.7 -0.6,0.4 -0.9,0.6 -1.7,-0.6 -1.4,-0.8 -2.4,-1.2 -0.9,-1.2 0.2,-1.8 -1.4,-1.2 -1.3,-1 0.1,-0.5 -0.1,-0.9 M74,368.7l1.2,-1 1,-1.5 1.2,-0.8 1.7,-0.8 0.9,-0.7 0.7,-1.7 -0.9,-0.9 -0.6,-1.7 -0.9,-1.5 -0.6,-1.9 0.5,-1 0.5,-0.9 1.2,-0.6 2,-0.7 1,-1.1 0.6,-1.2 1.2,0.9 0.6,0.6 1.2,-0 1.4,0.6 1.6,-1.2 1.7,-0.4 1,-1.7 0.6,-2.2 0.6,-1.1 0.6,-0.8 0.9,-0.5 0,-0.6 0.1,-1.7 -0.1,-1.1 0.2,-0.8 0.7,-1.2 -1.1,-1.4 -0,0.2 M77,367l1.7,1.3 0.8,1.4 0.2,1.3 0.7,-0.2 2,-0.2 1,1.1 1.3,1.3 0.3,1 1.5,-0.3 1.2,-0.1 1.6,-0.1 1.1,-0.1 1.2,0.7 2,0.8 1.6,0.5 1.6,0.1 2,-0.5 0.4,0.7 1.7,0.7 0.2,-1 0.8,-0.5 1.5,-1.8 0.2,-1.6 0,-1.8 -1.4,0 0.4,-2.5 1,-1.3 1.4,-1.1 2.3,-0.3 1.3,0.4 1.9,0.1 0.1,-0.2 0.2,-0.4 -0.3,-2.2 0.5,-2.1 1.5,-0.3 1.8,-0.9 0.1,-0.1 0.9,-1.1 0.1,-2 0.3,-1.9 -0.8,-1.4 -0.7,-0.6 -0.4,-0.7 -1.6,-0.7 -1.1,-0.3 -2.2,-0.9 -1.6,-0.9 -1.5,-1.3 -0.4,-1.3 -1.1,-0.6 -0.7,-0.9 -0.5,-0.6 -0.9,-1.2 -1.9,-0.3 -1,-0.6 -1.3,-0.6 -1,-1.2 -1,-0.4 M65.3,397.3l0.6,1.1 1.8,-0.1 1.3,1.5 0.3,0.6 1.1,1.5 1,-0.3 0,-0.8 2.1,-0.2 1.3,-0.2 1.2,-1.2 1.9,-0.9 0.7,-0 1.1,-1 1.7,-1.5 1.7,0.1 0.8,0.9 1.8,-0.7 1.7,-0.5 -0.2,-0.8 0.7,-2.7 -0.8,-1.9 -1.3,-1.7 0.1,-1.5 0.3,-0.1 0.5,-0.9 -0.1,-1.1 -0.1,-2 -0.1,-1.3 -0.5,-1.3 0.1,-1.4 -0.7,-1.2 -1,-1.1 -0.5,-0.7 -0.9,-0.6 -1.4,-0 -0.8,-1.6 -1,-1.2 -0.7,-1.4 -0.9,-1.7 -1.1,-1.7 M96,399l-1,0.9 -0.7,0.1 -2.2,-0.6 -1.3,0.9 -0.3,1.2 1.2,1.4 -0.1,1.6 -0.9,1.9 0,1.5 -1.3,1.8 -1,1 -0.5,1.6 0.3,1.3 0.4,1 -0.7,0.2 -1.5,0.6 -1.1,1.1 -0.8,1.3 -1.5,1.6 -1.1,1.4 -1.6,1.1 -0.7,1.2 1.9,1 2.9,0.6 1.3,-0.2 1.3,1.4 1.1,0.7 1.1,-0.2 2.2,-0.1 1.1,-0.3 1.1,0.8 2,-0.3 0.8,-1.1 0.6,-0.4 1.5,-1.1 1.9,-0.3 0.2,-1.2 0.6,-2 2,-0.6 0.5,-0.6 0.1,-1.2 -0.7,-1.4 -0.4,-1.3 -1.5,-1.2 -0.1,-1.2 -1,-1.5 1,-0.9 0.2,-1.6 0.7,-0.7 -0.3,-1 -1.2,-0.7 -1.2,-1.9 -0.5,-2.1 -0.5,-2 -0.8,-0.9 -0.8,-0.9 -0.4,0.3 M117.3,388.7l-1.2,1 -1.3,1.4 -1.7,0.7 -1.3,0.1 -1.1,0.4 -1.5,1.2 -2,0.2 0.2,2.3 0.8,2.3 1.6,1.9 0.4,0.4 1.2,1 0.4,1.7 1.1,1 0.9,1.8 -0.2,1.6 0.1,1.1 -0.1,1.2 1,1.3 0.2,-1.1 1.3,-1.2 -0.2,-2.4 0.4,-0.7 0.4,-0.4 1.8,0.1 1.3,-0.2 1.8,-0.6 1.3,-1.4 1.3,-1.5 1.4,-0.6 -0.6,-1.1 -0.5,0 -0.8,-2.3 0.8,-1.7 0.4,-0.9 0.3,-1.5 -0.9,-0.8 -0.4,-1.1 -0.7,-1 -1.3,-0.7 -1.1,-0.6 -1.4,-0.8 -1.7,-0.1 M57,434.3l1.6,0 0.5,0.7 1.3,0.4 1.4,0.3 2.4,0.7 1.5,0.2 2.8,0.4 1.4,-0.9 0.6,-1.7 0.1,-0.9 1.7,-0.9 0.3,-1.3 1.3,-0.8 0.1,-1.1 1.8,-0.9 1.1,-0.1 1,-1.1 0.2,-1.8 0.5,-1 -0.5,-1.4 -2.1,-1.4 -1.1,-1.2 -1.4,-0.7 0,-0.4 0.4,-1.5 -0.9,-1 -0.2,-0.9 0.1,-1.6 0.2,-2 0.1,-0.8 -0.9,-1.8 0,-1 -0.5,-1 -1.1,-1.5 -0.1,-1.5 -0.4,-1.7 -0.2,-1.1 M68.7,473.3l0.2,-1.5 0.6,-1.2 -0.3,-1.2 0.6,-1.8 0.5,-0.5 0.3,-0.6 0.7,-0.2 1.3,-1.7 0.3,-0.9 1.6,-0.2 1.3,-2 0.4,-1.4 -0.5,-0.7 -0.7,-1.1 -0.8,-1.2 -0.4,-1.3 -0.4,-1.6 -1.2,-2.2 0,-2.5 -0.3,-0.8 -1.3,-0.9 -0.8,-1.5 -0.6,-0.7 0.1,-1.6 0.5,-0.8 -1.1,-1.4 0.2,-1.5 0.4,-0.3 -0.2,-0.9 -0.1,-1.2 -0.7,-1.2 M75.7,462.7l0.9,1.2 1.1,0.5 1.6,-0.6 1.2,-0.7 0.3,-0.2 1.8,-0.3 2.1,-0.3 2.1,-0.1 1.8,-1.2 1.3,-1.4 0.7,-0.7 1,-0.2 0.8,0 1.4,0 1.6,-0.9 0.7,0.2 1.8,-1.2 1.5,0 1.1,-0.5 -0.5,-1.8 0,-1.4 -0.9,-2.5 -2.2,-0.6 -1.9,-0.4 -1.7,-0.9 -1.4,-0.3 -0.1,0.2 -1.2,-1.2 0.6,-1.7 -0.6,-1.3 -1.5,-2 -2.1,-0.5 -0.2,-0.3 1,-1 1.2,-1 -0.8,-1.5 -1.1,-1.4 0.9,-1.7 -0.8,-1.8 -1.2,-1.1 -1.3,-1.2 -1,-0.6 -1.3,-0.6 -0.7,-0.9 -0.7,-1.5 -1,-0.7 -0.6,0 -1.1,-0.9 M80.3,422.3l-1,0.5 -1,0.5 M100.7,455l0.9,1.4 0.6,1.5 2.2,-0.4 2.1,1 2,-0.1 1.5,0 -1.1,-1.2 -0.2,-2.1 -0.2,-1.2 -1.1,-1 -1.4,-1.8 -1.3,-1.1 -0.1,-1.8 1.4,-0.5 1.7,-1 1.1,-1.8 1.2,-1.5 0.1,-1.9 0.9,-1.2 0.4,-0.6 -0.5,-1.8 -0.6,-0.6 -0.5,-2.2 0.2,-1.9 -1.5,-1.2 -1.4,-0.7 -1,-1.2 -1.1,-1.1 0.3,-1.1 -0.1,-1.2 0.1,-1.1 0.3,-1.1 0.3,-1.6 -0,-1 -1.8,-1.6 -0.4,0.2 -1,-0.5 M113.7,469l-0.1,-1.5 0.1,-1.4 -1.1,-1.5 -0.9,-1.3 -1.7,-0.9 0,-0.9 -0.8,-1.1 -0.5,-1.7 M118,454l0.6,0 0.5,1.1 1.1,0.1 0.8,-0.3 2,0.1 0.6,1.6 0.6,0.8 0.6,0.4 -1.2,1.3 -0.6,0.4 -1.2,0.5 -0.3,0.3 -0.9,-0.2 -0.7,-0.4 -1.2,-0.5 -2,-0.8 0.6,-1.8 -0.2,-1.5 0.4,-0.9 0.2,-0.2 M153,454l0.4,0.3 -0.9,0.6 -1.2,-1.6 -1.1,-1.4 -2,-1.5 -0.7,-1.6 -0.9,-1.5 -1.2,-1 -0.9,-0.1 -0,-0.5 -0.4,-0.6 -0.7,-0.7 -1.3,-1.2 -0.3,-1.1 -1.8,-0.8 -0.5,-1.4 -1.3,-1.1 -1.9,1.4 -1.9,0.3 -1.2,-0.6 -1.3,0.7 -0.9,-0.1 -1,0.9 -0.7,0.7 -1.4,-0.3 -2,-0.1 -0.9,-1.2 -0.8,-0.2 -1.5,0.2 -0.8,1.5 -1.6,2.1 -1.2,1.7 -0.2,1.2 -1.5,0.4 -1.1,0.2 -0.5,1.2 -1.3,1.2 -0.8,0.9 -0.9,2.4 -1,0.3 -0.7,1.2 -0.6,1 -0.5,0.8 -1,1.4 M163,448l-0.3,-1.4 -0.4,-1.5 -0.3,-0.8 -0.1,-2 0.8,-0.8 0.4,-2.2 -0.6,-0.7 0,-1.4 -1.8,-0.8 -0.7,-1 -0.4,-1 -0.5,-1.4 0.2,-0.7 -0.6,-1.6 -0.6,-0.7 -0.3,-1.3 0.4,-1.2 -0.9,-1.3 1.1,-1.5 0.1,-0.9 0.9,-1.7 0.6,-1.7 -0.8,-1.2 -0.3,-0.8 -0.8,-0.4 -0.8,-1.6 0.2,-0.8 -1.6,-1.3 -0.9,-1.3 -1,-0.7 -1,-0.2 -1.9,0.4 -1.2,0.2 -0.9,0.9 -2.1,0.7 -1.3,0.9 -1.8,-0.5 -1.6,-0.4 -1.6,-0.2 -0.9,0.6 -0.4,0.8 -0.5,2 -0.5,1.1 -1.5,1.4 -0.9,0.9 1,1.2 0.8,0.4 1,0.7 0.2,1.7 0.3,1.7 1,1.1 0.3,1.9 0,2 -0.8,1.4 0.1,1.1 0,1.1 0.5,0.4 -0.9,0.8 -0.7,1.6 M135.7,421.3l-2.1,0 -1.7,0.5 -1.2,-0.5 -0.6,-0.3 -1.6,0.2 -0.9,-1 -0.6,-1.8 -1.2,-1.3 -1,-1.2 -1.4,0.2 -0.3,1.7 -0.1,2.6 0.3,1.3 -0.7,1.5 -1.3,1.2 0.3,2.3 -0.8,1.9 -0,1.5 -0.5,0.7 -0,2.2 1.6,1.3 1.4,0.8 0.1,1.6 -0.2,1.8 0.2,1 0.6,0.8 0.3,0.7 M115.3,353.7l0,-0.9 0.4,-1.2 1.5,-1 2.4,-0.4 1.8,-0.9 1.5,-0.1 1.6,-0.4 0.7,-0.9 1.2,0.2 0.8,-1.1 0.3,-1.4 0.7,-1.4 -0.1,-1.3 -0.1,-1.5 0,-1 0.7,-1 0.6,-1.6 0.3,-1 0.6,-0.8 0.4,-1.5 -0.2,-0.4 0.2,-1.3 0.5,-1.7 -0.7,-1.9 -0.2,-1.9 -0.3,-1.4 -0.2,-1.8 -0.1,-0.7 0.3,-0.1 0.4,-1.4 0.9,-1.1 1.3,-1.3 1.6,-0.5 0.8,-0.8 1,-1.3 -0.1,-2 -0.7,-1.7 0.5,-1.3 -1.6,-1 -1.9,-0.7 -0.4,-0.1 -1.2,-0.3 -1.2,0.5 -0.8,-1.7 -0.5,-1.6 M128,346.3l2.1,0.1 0.8,1.2 0.6,1.4 1.5,0.2 1.6,-0.9 1.1,-1.2 2.4,0.1 1.1,-1.1 1.8,0.5 1.5,-0.3 0.3,1.7 0.8,1.2 1.4,1 1.3,1.4 0.5,0.9 1.2,1.5 0.6,0.3 0.5,1.6 0.8,0.7 1.6,-2 0.2,-1.5 0.9,-1.2 0.8,-1.8 0.1,-0.1 1.3,-0.7 0.8,-0.4 1.4,-1.3 0.5,-0.9 1.7,-1.7 1.2,-1.3 0.4,-1.4 0.9,-1.3 0.3,-0.9 1.1,-0.5 0.8,-1 0.2,-0.8 -0.4,-1.6 -0.8,-1.2 -1.9,-0.1 -0.5,-0.6 -0,-1.2 -1.2,-1 -1.1,-1 -0.7,-0.7 -0.2,-1.5 -0.7,-0.4 -1.4,-0.5 -0.5,-0.4 -1.5,0 -1.9,-0.1 -1.1,-1.7 -1.5,-0.7 -1.5,-0.4 -1.6,-0.5 -1.6,-0.9 -0.4,-1.1 -0.2,-1.6 -1.2,-1.5 0.1,-1.3 -0.6,-0.2 -1.3,-1.2 -1.6,-1.1 -1.4,-0.5 -1.2,-1.2 0.1,-0.4 -0,0.8 M163,334.7l1.4,-0.9 0.4,-1 1.3,-1.4 0.8,-1.7 1.1,-1 1.4,0.3 1.3,1.1 0.7,0.6 0.9,-0.7 0.2,-1 0.6,-1.3 -0,-1.6 0.1,-1.9 -0.3,-1 -0.8,-0.8 0.8,-0.7 0.3,-0.5 0.8,-0.7 0.9,-1.1 1.2,-0.3 1.7,-1.1 1.1,0.1 1.3,1 0.3,0.6 1.4,0.1 0.2,0.6 1.2,-0 1.3,-1.5 2.6,-0.1 2.1,0.2 M172.3,331l0.8,1.4 1,0.6 1.5,2.1 -1.2,1.5 -1.8,0.2 -1.1,-0.2 -2,-0.7 -0.8,1.2 -1,0.3 -1.8,-0.5 -1.9,0.1 M157.3,347.7l1.5,1.1 1.1,1.8 0.9,0.1 0.9,0.5 0.4,1 0.5,1.6 1.2,0.6 1.4,0.1 2,0.3 2.3,-0 1.4,0.6 1,1.5 0.4,1.3 -0.6,2 -0.6,0.7 0.5,0.7 1.3,1 1.4,-0.8 1.8,-0.1 1.6,-0.1 1.7,1 0.1,1.1 1.8,-0.5 1.4,-0.3 1.8,-0 1.3,-1.6 0.3,0.6 0.6,0.7 1.7,0.2 1.6,0.7 1.3,-0.2 1.5,-0.9 1.1,-0.5 1.8,-0.4 0.9,-0.2 0.9,-1.9 1.3,-1 0.1,-0.9 -0.6,-1.7 -0.5,-1.5 1,-1.1 -0.9,-0.9 -0.9,-1.5 0.5,-1.8 -0,-1.9 -0.7,-1.7 0.5,-1.1 -0,-1.4 0.6,-1.3 0.1,-1.9 0.8,-1.5 0.4,-1.3 1.7,-1.1 0.8,-0.7 -0.2,-1.1 0.5,-0.8 -0.5,-0.7 1.1,-1.2 -0.5,-1.7 -0.4,-2.3 M115.7,355l1,2.1 0.2,1.8 0.3,1.3 1.1,1.2 1.4,0.7 1.1,0.5 0.8,0.9 1.4,1.2 0.6,0.2 0.1,0.5 -0.4,0.7 -0.8,1.4 0.7,1 1.4,0.7 1.3,2.1 2,1.1 1.9,-0.8 0.8,-0.2 1.2,-1.3 1.9,-0.7 1.3,-1 1.3,0.4 0.7,-0.8 1.9,-0.2 -0.1,-0.9 0.2,-0.3 1,-1.5 -0.1,-1.1 1.2,-1.1 1.8,-0.4 1.3,0.2 2.1,-1.2 1.3,-0.6 2.5,-0.7 1.5,-0.4 0.1,-0.5 -0.5,-1 -0.2,-1 M151,360l0.5,0.8 1,1.5 0.9,0.8 0.5,0.8 0.9,1.2 0.9,1.6 -0,1.1 -0,1.6 0.9,0.7 0.4,1.4 -0.6,-0 -1.1,0.4 -0,0.1 1.5,1 0.5,1 1.2,2.5 1.4,1.2 0.1,1.3 -0.3,0.5 1.1,1.4 1.6,1.1 0.2,1.2 0.3,0.7 0.3,0.9 0.8,1.5 -0,1.3 1.5,1.1 0.8,0.6 0.6,0.7 1.2,0.6 0.9,0.1 1.4,-0.3 0.7,-0.7 1.2,0.2 1.1,-0.3 0.8,0.7 1.2,-0.1 1.6,0.3 1.8,-0.3 1.4,-0.7 1.5,-1.9 1.1,-0.9 0,-0.9 0.1,-1.3 -1.2,-0.7 -0.8,0.5 -1.1,-0.3 -0.7,-0.7 -0.4,-1.5 0.5,-1 -0.3,-1.7 -0.5,-1.4 -0.3,-0.9 0.1,-0.8 -0.5,-1.2 -0.2,-1.1 0.1,-2.3 0.4,-1.8 -1.2,-1.8 1.2,-1.4 0.6,-1.9 -0.7,1.2 0.4,0.4 -0.7,1 -0.3,1.9 -2.1,1 -1.8,0.1 -1.3,-1.2 -0.9,-1 -0.1,-2.3 1,-1.4 1.2,-1.2 1,-0.8 0.4,-0.2 M135.3,389l-1,1 -1.8,0.9 -1.7,0.2 -1.1,0.1 -1.4,0.7 0.3,1.1 1,0.2 1.3,0.4 0.5,1 1.2,1.6 1.1,0.7 1.6,2.2 0.3,1.6 0.6,2.3 0.5,1.1 1.2,0.8 0.7,0.6 -0.3,-0.5 0.7,-1.5 1.6,-0.5 1,-0.7 0.8,-1.1 -0.1,-1.5 0,-1.1 0.5,-2.5 -0.2,-1.9 -0.5,-2.4 -0.3,-1 0,-1.5 0.5,-0.4 -1.1,0.2 -1.2,-0.2 -1.1,-0.2 -1.5,0.2 -1.7,0.1 M166.7,391l0.1,1.5 -0.8,1.2 -0.2,1.5 -1.2,1.1 -0.6,1 -0.1,1.1 -1.2,-0.3 -1.1,-0.3 -2.5,0.7 -1.5,1 -2,0.8 -1.2,1.8 -1.8,0.4 -1,0.5 -1.7,0.2 -0.3,1.2 -1,0.8 -0.7,1.2 -1.2,-0.2 -0.7,0.6 -1.6,-0.1 -0.6,1.1 -1.1,1.8 -0.8,1.2 -0.3,1.6 -1.2,0.8 -0.2,0.7 -0.5,1.4 M160.7,421l1.1,0.2 0.4,-0.6 1.6,-0.3 1.7,0.2 1.3,-0.5 1,0 1.6,-1 0.3,-1.2 0.6,-2 1.3,-0.7 0.6,-0.6 0.9,-0.4 2.1,-0.1 1.9,0 1.8,-0.7 1.7,-0.8 1.1,-1 1.1,-1.5 0.6,-1.3 1.7,-0.1 1.3,-0.8 -0.3,-1.8 -0.8,-1.7 -0.7,-0.7 0.5,-0.8 1.4,-0.8 1.3,-0.3 -0.6,-1 0,-1 -1.1,-1.4 -1.2,-0.9 0.7,-1.9 0.1,-1.2 -1.5,-1 -1.4,-0.6 -0.4,-2.1 -1.3,0 -1.1,0.3 -0.7,-0.2 M176.3,445.3l0.5,-1.8 0.2,-1.8 0.9,-1.1 1.4,-0.3 1.6,-0.9 0.3,-0.5 0.4,-0.7 -0.2,-1 0.4,-1.4 0.4,-1.6 1.5,-0.3 0.8,-0.7 1.5,-0.3 0.9,-1.7 1.8,-0.8 1.2,-1.3 0.5,-2.5 1.4,-1.9 -0.7,-1 -0.2,-1.8 -1,-0.8 0.3,-1.5 -0.2,-0.7 -0.8,-1.1 1.3,-1.2 1.5,-1.6 -1.3,-0.7 -0,-0.7 -0.5,-0.7 0.3,-1.2 -0.5,-1 -0.3,-2 -2.4,-0.9 -1,0.2 M223,427l0.7,-0.4 -1.5,-0.9 -1.7,-0.2 -1.4,-0.9 -1.3,0.5 -1.3,-0.3 -0.9,-0 -1.4,-0.3 -1.3,0.2 -1.6,0.6 -0.8,-1.1 -0.7,-1.2 -0.8,0.6 -1.2,0.4 -1.7,0.5 -1.6,-0.7 -1.3,-1.8 -1,-0.5 -1.3,-1 -0.7,-0.4 -1.8,-1.1 -1.4,-0.4 -1.3,-0 -1.7,-0.5 -1.6,-1.2 -0.7,-1.2 M233.7,399l-0.1,-1.3 -1.2,-1.5 -0.6,-1.6 -0.9,-1 -1.2,-0.7 -1.3,-1.5 -0.8,-1 -1.4,0.6 -1.2,0.3 -1,0.4 -1.1,-0.9 -0.9,-0.4 -1.5,-1 -1.1,0.4 -1.7,-0.6 -1.8,-1.3 0.3,-0.7 0.2,-1.6 -0.4,-1.6 -0.7,-0.9 -1,-0.2 -0.4,0.5 -0.8,1 -0.4,0 -2,0.8 -1.7,0.1 -1.7,0.9 -1.1,1.1 -1.7,-0.6 -1.4,0.2 -1.7,0.2 -0.7,1.2 -1.2,0.3 -1.3,0.6 -0.5,1.3 -0.6,1.9 -1,1.1 -1.5,0.7 -1.3,-0.5 -1.1,1.1 -0.1,0.9 -1.1,1 -2.3,-0.7 -1.1,1.3 -0.9,0.7 M180,363.7l-0.7,1.3 M216.3,381.3l0.1,-0.8 0.5,-0.8 -0.9,-1 0.1,-1.6 -0.9,-1.8 -1.4,-1.5 0,-1.9 -0.2,-1 -0.5,-0.3 -1.4,-0.2 -0.1,-1.3 0.7,-1.7 0.4,-1.8 -0.6,-1.5 -0.6,-1.4 -1.6,-1.2 -1.3,-0.1 -1.3,-0.1 -1.5,0.4 -0.8,-1.6 -1.9,0.1 -0.6,-0.3 -0.7,0.1 -0.7,-0.7 -1.8,-1.6 M212.7,363l1.5,-0.8 1,-0.6 1.3,-0.8 1.2,-1.2 1.5,-0.4 1.2,-1.4 1.1,0 1.3,1 1.2,-0.5 0.9,-0.6 0.2,-1.4 1.5,-2 1.2,0.5 1.8,-0.8 -0.9,-1.2 -0.2,-2.3 0.2,-1.1 1.1,-0.8 -0.1,-1.7 0,-1.4 -0.6,-2 -0.9,-1.1 -1.6,-1.9 -1.7,-0.5 -1.3,-0.2 -0.9,-0.7 -0.8,-0.8 -0.4,-1.7 0,-2 -1,-1.7 -0.1,-1.1 -0.7,-0.8 -0.4,-0.5 -0.5,-0.6 -1,-0.9 -1.4,-0.9 -0.7,0 -0.5,-2.3 -0.5,-1.8 M223.3,338l-0.2,-1.8 -1.1,-0.1 -1.6,-0.8 0.3,-1.1 0.7,-1.3 0.7,-1.3 1.6,-1 1.4,-1.5 1.6,-0.6 1.8,0 1.3,0.6 0.5,2.1 -0.9,1.6 -1.2,1.3 0.4,1.2 -0.3,1.7 -0.3,1.7 -0.1,1.2 -0.4,0.2 -1.5,-0.1 M228.3,342l0.4,-1.3 0.8,-1.4 0.4,-1.4 1.2,-1.6 1.3,-1 1.3,-1.2 0.5,-1.3 1.5,-1.1 1,-0.7 1.7,-1 1.3,0.5 1.6,0.9 1.7,-1.1 1.6,-0.6 0.9,-1.1 0.9,-0.7 0.6,0.7 1.7,-0.1 0.1,-1.3 1.3,-1.3 -0,-1.4 0.2,-1.3 0.6,-1.3 0,-0.8 -1.7,-0.3 -1.5,-0.7 -1.3,-0.1 -1.5,-0.4 -1.1,-0.9 -1.4,-0.9 0.3,-0.3 -0.5,-1 -0.5,-1 -0.8,-1.6 -0.2,-0.9 -1.1,-0.6 -1.2,-1.2 -0.6,-0.5 -0.4,-2 -1.6,-1.2 -1.1,-0.2 -1.2,0.1 -1.6,0.4 -1.1,-0.8 -1.8,0.1 -1.3,-0.9 -1.7,1.4 -1.3,1 -1.4,0.4 M251,320.3l1.4,-0.3 0,-0.7 1.6,-1.3 2.7,-0.7 M231.7,348.3l2,1.2 0.9,1 1,0.8 0.2,0.6 1.5,-0 1.6,0.2 1.4,0.3 0.2,1.4 1.2,1.2 1.9,0.8 0.8,0.5 1.9,0.9 1.3,0.1 0.3,0.4 1.2,0.4 1.3,-0.5 1.4,-0.5 0.4,-0.5 0.7,0.1 1.1,-0.2 1,0.3 2.1,-0.7 1.7,-0.3 1.3,-0.5 1.3,-0.7 1.1,-1.3 -0.3,-0.5 0.7,-1.2 0.2,-1.5 0.3,-0.5 0.5,-0.6 1.5,-0.4 1.1,-1.3 0.7,-0.2 2.4,0.3 0.3,0.7 1,1.2 1.4,0.7 M248.3,388.3l0.3,-0.7 0.2,-1.6 0.1,-1.1 0.4,-1 -0.5,-1.3 -0.6,0 -1.4,-1.1 0.4,-1.2 0.9,-1.7 0.4,-1.6 0.3,-1.2 -1.4,-2.6 -0,-1 -1.2,-1.3 -0.2,-1.1 -0,-1.3 -0.7,-1.5 0.4,-0.9 0.4,-1.4 0.6,-1.4 1.2,-2.2 0.5,-1.1 -0.7,-1.7 M103.7,415l1.7,0 1.5,0.2 2.1,-0.6 2.1,0.4 1.7,0.4 -0.2,0.1 0.7,-0.1 0.7,-1 -0.3,-3.1 M107.7,393.3l-1.1,-0.9 -0.2,-0.2 -1.8,1.3 -1,0.3 -0.9,0.3 -0.9,0.8 0.2,1.7 -1.1,0.8 -2,1.4 -1.2,0.2 M90.7,374.3l-1.5,-0.1 1,-0.7 0.2,0.7 1.8,0.5 0.7,1.7 1.4,0.9 0.9,1.2 1.4,1.6 1,1.4 1.3,0.8 -0.8,0.7 0.3,1.2 -1,1.3 -0.9,0.7 0.8,1.5 1.1,0.4 0.9,1.3 1.3,1.2 0.9,0.9 0.9,1.2 0.9,0.6 M106.7,392.7l-1.2,-1.5 0.8,-1.5 0.9,-1 0.7,-0.4 -0.1,-1.8 0.8,-1.4 0.8,-1.4 0.9,-1.6 0.5,-0.7 -0.6,-0.7 -0.8,-1.4 -0.9,-0.9 -0.9,-1.8 -1.5,-1.3 -0.7,-1 -1.4,-1 M125.3,391l1.1,0.1 0.8,-0.2 -1.1,-1.2 -0.2,-1.7 0.3,-2.1 0.8,-0.8 -0.2,-1 -1.5,-0.5 -1.3,-0.9 -1.5,-0.7 -0.9,-0.4 -1.3,-0.2 -0.9,-0.8 -1.2,-1.5 -2.7,-0.2 -1.6,0.9 0.2,1.3 0.1,2.1 0,2.2 0.9,1.5 1.5,0.8 1.7,0.6 M87.3,395.3l1.9,1.2 1.2,1.3 -0.1,0.5 0.4,1 M115,380.7l-1.5,1.3 -1.4,-0.2 -1.8,-0.8 M115.7,379l-0.9,-2 -1.2,-1.3 -0.3,-1.6 -0.8,0 0,-0.8 -1,-1.5 -0.8,-0.8 -1.7,-0.5 -1.4,-1.3 -0.4,-1.4 -1.3,-1.1 -1.2,-0.4 M140.3,412l-0.6,-1.4 0.1,-1.8 -0.7,-1.6 -0.4,-1.2 M137.7,404.7l-1.7,0.1 -0.8,0 -1.2,0.4 -1.5,0.5 -0.8,-0.4 -0.5,1.2 -1.4,-0.9 -0.2,0.6 -0.5,1.6 -1.4,0.3 -0.4,1.9 -0.3,0.2 -0.5,1.3 0.3,1.6 -0.1,0.8 -0.7,2.1 -0.7,1.3 M113.7,413l1.2,0.2 1.2,1.2 1.8,0.6 1.7,0 1.1,0.5 0.9,0.9 1.4,0.6 M128.3,405.7l-0.3,-1.4 -1.3,0.8 -1.3,0.5 -0.3,-1 -1.1,-1.2 -0.3,-1.7 M120.3,430.7l-1,-0.6 -1.2,-0.7 -1.1,-0.9 -1,-0.3 -0.7,-0.5 -0.8,-1.1 -0.9,-0.4 -0.4,-1.3 -0.9,-1.3 -1.1,-1.1 -2.5,-0.4 -1.8,-0.3 -0.6,-1 -0.6,-0.1 M118.3,378.3l0.4,-1.1 0.7,-0.5 0.5,-1.5 0.4,-1.7 0.3,-0.8 0.6,-1 1.6,-1.4 1.2,-0.3 M127,384.7l0.9,-0.1 1.2,-0.5 0.3,-0.7 0.8,-0.9 0.6,-0.5 0.3,-2.1 0.1,-1.3 -0.8,-2.1 -0.1,-0.6 -0.2,-1.1 -1.3,-1 -1.5,-0.4 -0.3,-1.1 M142.3,390l0.7,-1.7 0.3,-1 0.5,-2.4 -0.3,-1.5 1,-1.1 0,-1.3 -1.2,-1.1 -0.3,-0.4 -2.1,-0.2 -0.8,0.4 -1.9,0.1 -0.3,-0.7 -1.4,-0.3 -0.9,1.2 -1.2,2.3 -1.4,-0.8 -1.7,-0.5 M149,361l-0.7,1.1 -0.7,1.4 -0.4,0.4 -0,1.7 -0,1.2 -0.5,1.7 0.1,1 -0.3,1 0.1,1.1 -0.5,1.3 0,0.9 0.1,1.6 0.4,1.2 -0.1,0.5 -1.3,0.9 -0.1,1.7 -0.4,2 M143.3,391l0.9,1.1 0.5,0.1 1.6,-0.1 2.4,-0.6 1.5,-0.6 1.2,-1.1 1.7,0.5 0.6,0 1.4,-0.9 1.1,-1.1 1.9,-0.8 1.5,0.5 0.9,0.5 0.9,0.7 1.6,0.3 2.3,0.2 M274.7,405.7l1.8,0.6 1.7,0.2 1,1.4 0.6,1.1 0.9,0.2 1.2,0.5 -0.7,1.4 0,1.5 -1.6,1 -1.1,0.6 -1.5,0.6 -1.1,-1.4 -1.3,-1 0.5,-0.9 1,-0.6 -0.9,-1.3 -0.4,-2.5 -1,-0.6 0.5,-0.8 M247,390.3l0.3,2.1 -0.6,1.2 0.4,0.8 0.7,1.7 0.7,1.3 0.3,1 1.2,0.3 0.9,1.2 0.6,1.7 0.9,0.7 1.4,1.2 0.9,2 0.6,1 1.1,0.7 1.3,0.7 0.6,1.6 0.9,0.8 1.1,0.9 1.7,1.7 0.7,1.7 1.3,1 -0.5,1.8 -1.1,-0.7 -2.1,0.6 -1.2,0.7 0,1.5 0.3,0.9 -0.2,1.6 2,0.3 1.4,1.1 1.5,-0.6 1.5,0 0.8,-0.9 0.6,-1 1.1,-0.9 1.1,0.4 1.7,0.4 2.5,0.3 1.7,0.4 1,1.3 0.7,0.9 0.4,1.5 0.5,0.9 2.2,0.5 0.9,-1.4 0.9,-0.5 0.5,-1.3 0.5,-1.6 0.7,-1 1.6,-0.6 0.9,-0.5 0.3,-1.4 -0.7,-2.1 -0.4,-1.2 -0.1,-1.4 1.7,-0.6 0.4,-1.2 1.9,-0.1 -0.3,0.6 M280.3,426.7l0,1.4 0,1.9 0.3,0.7 1.3,0.8 0.2,0.9 0.6,1.8 1.3,1 2.4,0.9 1.4,0.6 1.4,1 1.3,0.3 1.3,0.9 1.8,0.7 0.5,-0.5 1.4,0.3 0.7,0.6 1.4,0.5 1.7,0.2 1,0.1 0.9,-0.4 0.7,0 1,1.6 1.6,1.1 1.7,0.3 1.1,-0.7 1.9,-0.6 1.2,-0.1 0.4,-0.6 0.8,0.7 -0.1,-0.2 1.7,-0.7 1.3,0.4 0.9,-0.1 1.7,-0.8 1.7,0.5 1.5,0.8 M223.7,429l0,0.9 -0.2,1.5 0.1,1.3 0.8,1 2.2,1.7 1.2,1.2 1.6,1.6 0.4,-0.1 1.2,0.9 0.9,-0.5 1.3,0.2 1.7,-0.7 1.5,0 1.5,0.8 1.4,0.3 1.5,0.5 1,1.2 1.7,-0.5 1.2,0.8 0.3,-1.1 0.6,-0.6 2.1,-1.1 1.4,-0.7 1.6,-1 0.8,-1 1.9,0 0.5,-0.5 0.8,-1.3 1.5,-1.1 0,-1.8 0.1,-0.8 0.7,-1.5 0,-2 -0.3,-1.3 0.7,-1.3 1,-0.5 0.9,-0.8 M244.3,440.3l0.5,1.3 0.3,0.5 0.9,1 -0.2,0.4 0.4,0.9 0.3,1.4 -0,0.7 0.8,2 1.2,1.8 1.4,1.9 1.2,1.2 -0,2.3 0.3,1.6 -0.7,1.6 -0.5,0.3 -1.1,0.4 1.7,0.1 1.9,0.8 0.9,-0.4 1.3,-0.1 0.1,-1.1 0.3,-0.6 1.3,-0.5 0.9,0.8 1,1.1 1,1.4 1,1.5 1.8,0.8 2.1,0 0.4,1.1 -1.1,1.3 -0.6,2 1.5,0.8 1.3,0.6 1.7,-0.4 2,0.9 1.6,0.1 -0.3,-0.6 0.1,-1.1 -0.1,-1.5 -0.5,-1.7 0.9,-1.6 0.1,-1.3 -0.4,-1.6 -0,-1.3 1.3,-1 0.9,-0.4 0.2,-1.8 0.3,-2.6 0.9,-1 1.3,-0.6 1.6,-1 -0,-0.5 1.3,-0.9 1.2,-1 1.3,-0.9 0.3,-1.4 0.4,-0.7 0.3,-1.4 0.6,-2.1 0.1,-2.2 -0.4,-1 0.6,-1.2 0.5,-1.1 M270.3,470l0.8,1 1.3,-0.1 1.2,0.3 2.7,1.3 2.1,0 1.2,-0.9 1.2,-0.6 0.8,0 0.5,-0.6 1.1,0 1.1,-0.3 1.9,0.3 1.2,0.5 1.5,0.2 -0.2,1 0.5,0.9 1.1,1.3 2,0.1 1.9,1.1 2.1,-1 0.8,-0.6 1,-0.6 0.9,0 M204.3,448.3l0.8,0.6 1.4,1.2 0.7,0.7 0.4,1.4 -0.1,0.9 0.2,1.7 1.2,1.6 0.4,0.9 0.7,1.6 0.1,1.6 0.5,1.7 0.7,0.3 0.6,0.9 0.7,1.4 0.5,1.5 0.9,1.1 0.4,1 0.8,1.7 2.1,0 1.2,0.3 2.4,-0.8 1.7,-0.2 0.5,0.9 0.6,0.6 0.8,-0.5 1.2,0 0.1,-1 0.9,-1.7 0.6,-0.5 0.7,-1.5 1,-1 1.2,-0.1 1.3,-0.5 1.9,-0.6 1.8,-0.4 1.7,0.8 1.4,0.1 1.9,0.2 0.9,-0.4 1.3,-0.3 1.6,0 0.7,1.1 0.2,-1.5 1.1,-1 0.2,-0.1 1.5,-1.2 1.3,-0.8 M238.3,464.3l0.7,1.2 0.7,1.7 0.1,0.6 0.6,1.2 1.1,0.9 1.6,1.1 0.8,0.5 1.1,1.9 1.3,1 0.6,1.3 0.8,0.5 0.6,0.8 1,1.2 -0.2,0.9 0.2,1.8 0.1,1.9 -0.2,2.1 -0.7,1.3 -1.4,0.8 -1.2,1 -0.1,0.4 1.7,1 0.1,1.9 1.1,1.8 0.7,0.6 0.9,1.4 1.9,0.7 0.7,0.4 0.1,1.4 0.7,0.9 0.8,0.2 1.8,0.8 1.8,0.4 1,0.6 0.9,-1 1.1,-0.2 0.2,0 1.3,0 1.4,-0.1 1.8,0.4 0.5,-0.9 1.3,-0.1 -0.1,-1.8 -0.5,-0.9 0.1,-1 0.9,-0.6 1,-0.8 -0.2,-2.1 -0.3,-1.7 -1.3,-1 1.2,-1.6 0.9,-1.2 0.3,-0.5 0.1,-1.3 -0.4,-2.2 0.9,-0.9 0.8,-1.1 0.6,-1.2 0.9,-0.5 1.5,-0.5 -0.2,-1 1,-2.2 0.5,-1.5 0,-1 M270,497.7l1.7,0.5 1.5,0.8 1,0.7 1.3,0.6 1.1,1.1 0.2,1.6 0.7,0.5 1.6,1.5 0.9,1.1 1.1,1.2 0.3,0.8 0.8,0.6 2.1,0.1 2,0.5 M187,475.3l1.5,1.3 1.5,0.6 0.9,0.6 1.3,-0 0.8,0.2 1.2,-0.1 0.8,0.6 1.3,0.5 1,1.6 1.4,0.9 1.1,1.3 0.8,1.2 1.1,1.3 0.9,-0.6 1.2,0.1 1.4,1.1 1.1,0.7 1.1,0.8 1.8,1 0.3,-1.8 0.3,-0.6 -0,-1.5 -0.1,-0.4 0.6,-1.5 0.6,-1.1 0.1,-2 -0,-1.1 0.9,-1.4 0.3,-1.6 0.6,-1.4 0.7,-1.8 0.8,-1.5 M209.3,488l0.1,1.1 1.1,0.9 1.3,0.6 1.1,0.9 1.2,0.6 1.1,-0.3 0.8,0.7 1.5,0.5 1.9,0.4 2.2,-1.5 1.7,-0.4 0.9,1.6 1.7,0.6 1.7,-0 1.7,-0.1 1.3,-0.3 1.2,0.3 1.7,0.4 0.7,-0.2 0.9,-1.3 0.7,-0.2 1.1,-0.5 1.3,-1.9 1.1,-0.8 2,-0.9 0.6,-1 0.9,-0.2 0.7,-0.6 1.7,0.8 2.1,0.8 M182,503l1,0.8 1.2,0.4 0.8,1.3 0,1.5 0.1,1.8 1,1 1.1,0.6 1.1,0.4 2.1,-0.1 1.7,-0.3 1.5,-0.1 0.6,-1.5 0.6,-0.7 1.3,-1.8 1.2,-1.2 1,-1.1 0,-0.6 -0.4,-1.6 0.5,-1.5 0.1,-0.8 0.7,-1.3 0.5,-0.5 0.7,-1.4 0.9,-1.7 1.7,-0.8 1.5,-1 1.1,-0.1 1.3,0.4 1.1,0 1,-1.6 0.7,-1.1 -0.4,-1.1 M220.3,493.7l0.6,1.1 0.8,1.2 0.1,1.7 0.2,0.9 -1.2,1.9 -0.1,1 -0.6,1.6 -0.8,2 -0.3,1.1 0.1,1.1 0.4,1.6 0.6,0.5 -0.5,1.2 1,0.1 0.8,1.1 0.6,0.8 -0.4,2 -0.2,1.7 0.7,1.3 0.3,1.4 0.9,1.1 1.6,1 1.4,0.9 1,1 0.6,-0.6 1.5,-0.9 1.3,1.2 1.2,0.6 1.1,0.8 1,0.1 1.3,1.2 2,1.1 0.9,0.6 1,1 -0.1,-1.3 0.4,-2.2 1.4,-0.4 0.8,-1 0.5,-1.6 1,-1.1 0.4,-1.6 -1.5,-2.3 -0.5,-1.5 -0.4,-1.7 0.6,-1.2 -0.2,-1.3 0.5,-1.5 0.4,-0.6 1.1,-0.8 0.6,-1.2 0.5,0 -0.9,-1.3 0.1,-1.6 0.9,-1 1.1,-1.7 1.3,-0.8 -0.1,-1.1 0.8,-1.8 1.1,-1.2 0.7,-1 M189,510.7l-0.2,1.5 0.2,2.3 0.3,1 0.6,1 1.2,1.3 0.5,0.3 0.8,0.8 1.4,0.8 1.6,-1 1.4,0.2 1.5,0 0.7,1.1 1.2,0.4 0.6,0.4 1,0.5 1,-0.5 2.3,0.4 1.4,1.3 1.9,1.2 0.7,0.4 0.8,0.3 1,1 1.5,0 0.7,-0.1 0.9,-1.1 0.2,-0.9 1.7,-0.2 0.5,-0.3 2,0.1 1.2,0.6 0.9,0.4 1.2,-1.6 1.5,-0.7 1.1,-0.6 M239,527.3l0.4,1.3 0.3,1.4 M186.7,532.3l0,-1.3 -1.5,0.3 -0.9,-1 -0.1,-0.9 0,-0.8 0.9,-1.4 0.7,-1.6 1.8,-0.7 1.7,-0.6 0.8,0 -0.3,-2.3 -0.4,-1.2 -0.1,-0.9 0.8,-1.3 0.2,-1.3 M190,525.7l0.2,1 0.2,1.5 0.9,1.6 0.2,1.9 -0.1,1.6 -1.2,0.7 -0.5,-1.1 -1.5,-1.2 -1.2,-0.7 M194,544l1,0.3 0.3,-0.5 1.2,-0.8 1.4,-0.3 1.4,0.3 1.2,-0.3 1.5,0.6 0.5,0.8 1.2,0.7 1.3,-1 0.4,-1.7 1.9,-1.1 1.5,-0.9 0.9,-1.3 -0.3,-1 0.8,-1 0.5,-0.8 1.3,-1.4 1.2,-1.8 0.5,-2 0.5,-0.8 -1,-0.5 -0.6,-0 -0.5,0.2 -1,-0.6 0.7,-1 0.5,-2.1 M223,527.3l0.6,-0.6 0.7,0.8 -0.9,1.3 0.4,2.3 -1,1.4 -0.8,0.7 -1.4,-0.1 -1.3,-0.9 -0.3,-0.5 0.1,-1.5 0.6,-0.4 1.6,-1.2 1.4,-1.3 M220.7,523.3l0.4,1.9 -0.4,1 -0.8,1.8 -0.3,1.8 -1.2,1 -1.3,1 -0.9,0 -1.5,-0.5 M204.3,545l0.3,0.8 0.4,0.4 1.7,0.6 1.1,0.9 1.3,1.5 1.1,1.4 1.3,-1.6 0.2,-1.8 1.3,-0.4 0.2,-0.6 0.4,-0.5 1.9,1.2 -0.5,1.2 1,1.8 0.6,-1.1 1.8,-0.5 1.7,-1.2 1.6,0.4 1.5,0 0.6,-0.6 1.7,-0.1 1.3,-0.5 2,0.4 1.3,0.8 1.9,0.6 2.3,-0.3 1.1,0.4 0.6,1.6 1,0.5 M198.7,564l0.8,1.6 0.1,0.7 1.1,-0.9 1,-1.3 1,0.1 1.9,0.2 1.1,-0.4 -1,-1.8 -0.2,-1.4 0.7,-1 -0.2,-1.2 1,-1.4 0,-1.7 1.3,-1.9 0.6,-0.6 0.8,-0.8 0.3,-1.2 M216,549.3l0.9,1.5 0.7,0.6 -0.1,1 -0.9,0.7 -0.2,1.5 -1.1,0 -1.1,-0.6 -1.6,-0.1 -1.5,-0.4 -0.5,-1.7 0.1,-1.8 M205.3,564l0.8,0.6 0.6,0.5 1,0.5 1.3,0.9 1.3,-0.3 0.8,1.1 1.3,0.6 1.1,-0.6 1.7,-0.6 2.2,-0.3 0.4,-0.1 1.5,0.5 0.3,0.6 0.8,-0.6 0.5,-1.3 0.9,-0.6 1.6,1.3 1.8,0.2 1,-0.4 0.3,-0.9 0.9,-0.8 1.2,-1.2 0.9,-0.9 0.7,-1.7 1.3,-1.1 1.9,-0.3 1.4,-1.3 1.4,0.4 1.8,-0.3 0.7,0.1 M228,589l0.4,-2 1,-1.1 0.2,-0.9 -0.4,-1 0.4,-0.6 -1.8,-0.6 -1.1,-1 0.2,-1.7 -1.1,-1.3 -0.4,-0.8 -1.7,-1.5 -1,-0.8 -0.9,-1.3 -0.8,-0.7 0.9,-1.2 0,-0.9 0.4,-0.7 0.8,-1.4 1.3,-1.2 0.6,-1.3 M324,425.3l0.4,-1 0.5,-0.9 1.4,-1.5 -0.7,-2.1 0.8,-1.1 1.2,-0.4 1.4,-1.2 1,-1.4 1.7,-0.4 1.6,-1.2 0.9,-1 0.8,-1.8 1.6,-0.7 0.5,-1.4 1.8,0.2 0.8,-0.7 0.9,-0.4 1.1,-0.4 1.2,-0.3 0.6,-1.9 0.7,-2.3 -0.3,-1.2 -0.2,-1.9 0.1,-1 0.3,-1.5 0,-0.3 0.5,-1.3 -0.6,-1.2 -1,-0.5 -1.2,-1.4 -0.5,-1.4 -0.3,-1.2 0.3,-1.8 M344,407.7l0.9,0.9 0.3,0.7 1.1,1.2 0.5,2.2 1.4,0.2 1.8,-0.2 2.3,0.8 0.9,1.2 1.4,-0.1 0.5,0.2 1.4,-0.3 0.4,-1.4 1.3,-0.4 1,-1.2 1.2,-0.1 0.7,-0.8 0.8,-0.2 1,-1.2 1.3,-0.7 0.1,-0.7 1.1,-0.8 0.6,-0.6 0.7,-1 1.2,-0.6 1.7,-1.2 0.7,-0.5 0.9,-1.9 0.5,-1.2 M352.7,415.7l0.4,0.8 0.9,2.3 0.8,1.1 0.9,1 0.2,0.9 1.3,1 1,0.9 0.8,0.2 0.1,1.3 -0.5,2 0.1,1.4 0.3,1 -0.1,1.4 0.8,0 1.4,0.6 0.4,1.1 1.6,-0.3 2.3,0.9 0.5,0.1 0.9,-0.4 1.2,-1.2 0.5,-1.4 1.4,-0.1 1.8,0.8 1.3,-1 0.4,-2.5 1.9,-1.3 1.2,-1.1 1,-0.5 0.4,-1.4 1.5,0.1 1.2,-1 1,-0.8 0.2,-1.5 1,0.2 1.2,0 1.1,-0.8 1.2,-0.3 1.1,0.2 1.4,0.3 1.1,0 1.6,0.2 0.9,0.1 1.8,-0.4 1.1,-0.4 1,-1.7 -0.2,-0.5 0.1,-0.7 1.2,-0.9 1.3,-1.7 M320,435l1.1,-0.1 1.6,-0.5 1.9,0.4 0.6,1.1 1.3,1 1.4,1.1 0.7,1.4 1.9,1.4 0.8,1.6 1.3,0.8 0.8,1.3 2.1,-0.4 1.1,0.3 1,0.3 1.5,-0.5 0.3,-0.3 1.2,-1.3 1.7,-0.9 1.3,-1.4 1.3,-0.5 1.1,1.7 0.4,0.1 1.1,-0.8 1.7,0.1 1,0.3 1.5,-0.3 0.9,-0.3 1.1,-1.5 2,-0.6 1.4,-0.2 0.8,0.3 1.3,-0.5 1.1,0.2 -0.3,-1 -0.1,-1.2 0.8,-1.8 M361,436.7l0.6,1 1.1,0.5 0.4,1.3 1.2,0.6 0.8,1.7 0.4,0.5 0.5,1.5 0.8,0 2,0.7 1.2,1.3 1.1,-0.6 1.6,0.4 1,0.6 1.1,1 0.9,1 0.8,-0.4 1.1,1.5 1.2,-0.1 -0.6,2.2 1,0.3 0.3,0.2 0.4,-0.4 0.8,-0.2 2.5,0.7 0.4,0.1 1,-0.1 1,-0.3 1.5,-1 0.3,-1.5 1.3,-1 -0,-0.9 1.3,-1.7 0.6,-0.4 1,-1.4 1.2,0.3 -0,-1.2 1,0.3 1.6,-0.4 -0,-1.5 1.6,-1.8 0.8,-1.4 0.4,-1.4 0.9,-1 1.3,-1 1.3,-0.4 M327.7,445.3l1,-0.3 1.5,2.1 0,0.5 0.1,1.2 0.8,0.1 0.8,1.4 -0.4,2 -0.2,0.8 -1.7,1.1 -1.4,-0.4 -0.5,-1.8 -0.3,-0.6 -1.3,-1.1 0.6,-1.3 -0.4,-1.5 0.4,-1.3 -0.3,-0.4 0.9,-0.5 M300.7,475.3l0.5,0.7 1,-1.1 0.9,-1.5 1,-1.1 1.9,-0.9 0.7,-0.2 1.6,0.4 1.1,-0.6 1.5,-0.7 1,-0.5 1.2,0.6 1.6,0.8 1.6,0.2 1,-0.3 0.8,-0.4 1,-1.3 1.7,-1 2,0 2.1,-1.1 1.2,-0.7 1.2,0.4 0.7,0.4 0.9,0.6 0.8,0.1 1.2,0 1.8,-0.6 -0.8,-0.5 -0.7,-1.1 1,-1.3 0.3,-1 0.7,-1.7 0.6,-0.7 1.1,-1.2 0.7,-1.9 -1.4,-0.7 -1.2,-1.4 -0.7,-0.8 0.7,-2.1 0.7,-2 0.3,-1.3 0.4,-1.4 -1,-1.6 -0.3,-0.8 0.9,0.4 1,-0.4 0.3,-2 M334.3,467.7l1,0.1 1.7,1.3 1.7,1.5 1.4,0.7 0.3,0.8 1.5,0.2 1.4,-0.3 2.4,1.3 1.7,-0.2 1.8,-0.9 0.7,-0.9 1.7,-0.4 0.4,-1.3 0.8,0.2 1,-0.9 1.2,-0.2 0.4,-1 1.8,-1.7 1.1,-0.7 0.5,-1.4 1.1,-1.3 0.5,-1.6 -0.1,-1.3 1.7,-1.3 0.6,-1.1 1.8,0.3 0.6,-0.8 1.8,-0.5 1.8,-0.2 1.5,0.6 2.3,0.3 0.5,-1.1 -0.1,-1.3 -0.4,-1.7 -0.2,-0.8 -1.3,-0.1 -1.5,0.2 -0.1,-1.5 -1,-0.9 0.1,-0.8 -0.1,-1.1 0.4,-1.2 M394.3,447l1.1,0.1 1.1,1 1,1.1 0.2,0.9 0.5,0.9 -1.9,1.5 -0.7,1.6 -1.8,-0.1 -0.9,0.5 -0.9,0.1 -1.8,-1 -0.8,-0.1 -0.2,-2 -0.5,-1.1 1.7,-1.4 1.2,-1.1 1.3,0.7 0.9,0.5 -0.4,-0.5 0.2,-0.8 0.4,-0.8 M378.3,452.3l0.1,2.2 -1.4,2.4 -1.4,0.2 -2.3,-0.4 -0.6,-1.4 M372.7,457.3l1.9,-0.1 0.9,-0.3 1.2,0.8 0.6,1 0.5,1.3 1.5,2 0.4,1.3 1.3,0.9 1,0.4 1,0 0.6,-0.5 1,1.2 1.2,0.9 2.5,1.1 1.7,0.1 2.1,0.5 0.6,0.1 0.8,0.8 0.9,0.6 0.6,0.5 1.4,1.3 -0.6,-1.7 1,-0.3 0.8,-0.7 0,-1.1 0,-2.3 0.9,-1.2 1.3,-1.4 1.5,-0.9 0.9,0.4 0.9,-0.6 1.1,-0.5 0.8,-0.5 1.3,-0.7 0.2,-1.8 -0.5,-1.2 -0.5,-2.2 0.9,-1.1 1.9,0.3 1.8,0.2 0.9,-0.7 0.5,-0.6 0.2,-1.2 0.1,-1.2 0.3,-1.2 -0.8,-1 -0.2,-1 1.3,-2 0.8,-1.5 0.8,-1.2 M410.3,454.7l0.4,0.9 0.2,0.6 1.5,0 1.1,0.1 0.2,0.9 -1.7,0.8 -1.1,1.7 -0.6,1.2 -0.8,0.5 -0.2,0 -0.8,-1.2 -0.9,-1.3 -0.3,-0.6 M396.7,471.3l0.6,1.2 1,0.9 1.8,0.9 0.8,0.5 2.2,0.7 1.3,0.3 -0.1,-0.6 -1.1,-0.7 -0.1,-0.8 1,-1.4 1,0 1.2,0.2 1.5,0 1.2,0.9 0.8,1.1 1.8,1.1 0.8,0.8 1.8,0.7 1.5,0.1 0.6,0 1.2,-0.1 1.1,0.2 0.5,-1 1.1,-0.8 1.5,0.1 1.2,-0.2 1.2,-1 0.9,-1.5 0.6,-0.9 1,-1.3 0.9,-0.5 1.6,-0.2 0.5,-0.4 -0.2,-1.4 0.9,-0.8 1.6,-1.3 1.7,-0.6 2,-1.9 1,-0.6 0.7,-1.7 -0.7,-0.9 -1.8,-0.8 -0.5,-1.3 1,-1.5 -0.3,-0.6 0.4,-1.8 0.9,-0.7 -0.3,-0.7 M424,475.3l0.5,1.5 0.1,1.8 0.6,1 0.9,1.6 0,1.9 1.2,0.3 1.5,0.8 0.3,1.3 0.7,1.3 0.8,0.1 1,1 -0.1,1.5 -0.1,1 0,1.3 0.3,1.3 0.3,1.6 -0.3,1.4 M450.7,471.3l-1.7,-1.1 -0.5,-1.2 0.1,-1.1 0.3,-1.7 -0.7,-1.8 -0.2,-1.7 0.4,-1.6 -0.9,-1.4 -1,-0.5 -1.9,-1.4 -0.2,-0.4 -1.4,-0.6 -0.6,-0.4 -0.9,-0.4 -0.5,-1 M330.7,503.3l0.7,-0.1 1.2,0.4 1.6,-1.5 1.3,-1 1,-1 0.9,-1.9 0.8,-0.7 0.2,-1.6 0.5,-0.7 0.8,-0.2 1.1,-0.7 0.5,-0.8 1.8,-1.3 1.5,-1.4 0,-1.6 -0.2,-1.8 -0.1,-1.1 -0.3,-1.6 0,-2.3 0.2,-1.1 0.5,-1.8 0,-1.3 0.3,-0.8 0,-0.6 -1.2,-1.9 0.8,-1.1 0.7,-1.1 M346,482.3l1,1.1 0.7,0.9 1.1,0.8 1.5,0 1.8,0.3 2.7,-0.6 1.3,1 1.3,1.3 2,0.7 1.1,0 1.3,0.7 1.4,0.9 1.1,1.2 1,1 1.5,0.4 0.2,0.4 0.7,-0.3 -0.1,-2.1 0.9,-1.5 1.4,-1 1.7,-1.5 0.8,-0.3 0.5,-1.3 1.4,0.6 1.7,0.2 1.1,-0.8 0.1,-1.1 0.9,-1.3 0.6,-1.5 1.3,-1.2 0.5,-1.3 0.4,-1.1 0.4,-0.7 0.6,-1.9 -0.8,-1.1 -0.7,-1.9 0.4,-1.7 0.4,-1.1 0.1,-0.6 -0.1,-1.2 0.7,-1 0.4,-1 M372.7,487l1.2,0.1 1.2,0.6 0.8,1.2 0.5,0.9 0.4,0.7 1.3,0.7 1.6,0.5 1.1,0.5 2,0.5 1.2,0.5 1.1,0.8 1.8,1.8 0.7,1.2 1.3,1.1 1.2,0.1 0.9,-0.2 M397.7,500.7l0.4,-1.9 -1,-0.9 -0.3,-0.6 -0.1,-1.2 0.3,-0.9 0.3,-1.8 0.3,-0.9 1,-1.5 0.5,-1.3 0.4,-1 0.2,-1.6 0.3,-0.9 0.9,-1.1 0.8,-0.1 0.6,-1 0.2,-1 0.8,-2.2 0.9,-2 -0.9,-1.6 -1.3,-0.5 M365.7,509.7l-0.8,-1.3 0,-1.4 0.9,-1.8 0,-1.6 0.6,-1.1 1.1,-1.8 0.5,-0.6 0.4,-1.5 -0.1,-1.5 0.2,-0.8 -1.6,-2.1 -1,-1.4 0.7,-0.6 0.7,-1.5 M351.7,485.7l1.5,0.7 1.4,0.2 -0.6,1.9 -0.8,0.9 -0.8,1.7 -1.9,0.7 -0.9,-0.6 -0.8,-0.8 -0.5,-1.2 -0.8,-1.4 -0.6,-0.5 -1,-1 0.8,-1.5 2,-0.1 M475,455.7l2.3,1.1 1.8,-1.5 0.5,0 1.4,-0.7 1.4,-1.5 2,0 1.1,-0.6 1,-0.7 1.7,0.3 0.6,-1.3 0.5,-1.1 0.8,-2 0.5,-1.2 0.8,-1.2 -0.1,-1.1 0.1,-1.6 0.6,-0.9 -0.3,-1.4 0.4,-1.1 0.6,-1.7 0.7,-1.7 1.5,-0.4 0.8,-1.6 1,-0.9 1,-1 -0,-0.6 M480.7,455.7l0.3,1.1 -0.1,1.2 -0.5,2.2 -1.4,1.8 0.7,1.3 0.6,1.7 1.2,0.9 1,0.7 1.2,0.4 0.6,1.1 0.5,1.3 1,0.8 2.6,0 1.5,0.1 0.8,-0.2 0.9,-0.7 0.5,-1.1 0.2,-1.5 1.3,-1.4 0.8,-1.5 0.9,1.2 1.6,0.9 0.4,1.6 0.1,1.9 1.6,0 1.5,1.1 1.1,0.8 1.9,0.9 0.9,0.5 1.1,0.6 -0,0.8 0.5,0.9 -0.2,0.5 1.1,0.4 1.1,0 0.7,0.9 1.9,-0.3 1.6,1.1 1.2,1.1 2,1.3 1.5,0.4 0.8,-0.1 1.3,-0.1 1.8,0 1.8,-0.5 0.8,-0.2 1.6,0 1.1,-0.2 1.3,-0.5 0.8,0.8 0.8,-0.2 -0.1,-1.4 -0.3,-1.2 -0.8,-1.6 -0.2,-1.7 -0.8,-1.6 1.1,-0.1 0.9,0.5 0.4,-1 1,-1.7 1.3,-1.7 0,-1.2 0,-1.7 1,0.3 1.9,-0.2 -0.2,-1.8 0,-1.6 0.2,-2.2 -1,-1 -0.4,-1.4 0,-1.9 M529.7,480.3l0.5,0.8 0.4,1 0.7,1.4 -0.3,1.5 M586,463.7l-0.6,-1.5 -0.7,-1.5 M466,477l0.8,-0.9 0.8,0.2 0.2,1.3 0.5,2 0.3,0.9 -1.3,1.5 -0.6,1.5 -0.6,0.5 -1.2,-0.2 -1.5,-0.8 -1.2,-1.8 0.2,-1.4 0.8,-0.4 0.4,-0.3 0.8,-0.8 1.3,-1.3 M450,490l0.6,0.7 1.6,1.3 1.6,0.7 1.4,0.6 0.8,-0.1 1.7,0.4 0.3,0.8 1.5,-0.4 1.2,0.7 1.8,0.7 1.7,0.3 0.8,1.9 0.3,1.6 0.3,0.6 0.5,1.3 1.3,-0.9 0.7,-0.8 1.6,-1.1 1.4,-1.5 1.4,-0.5 1.5,-1.1 1.1,-1.1 0.5,-1.2 1.4,-0.5 0.6,-1.1 1.4,-1.2 0.3,-1.4 0.7,-1.1 0.3,-1.1 -0.8,-0.1 -0.7,-1.1 0.5,-1.7 0.1,-1.3 0.2,-2.3 0.1,-1.3 1,-0.1 1.6,-1.4 1.1,-0.3 1.9,-0.5 0.1,-0.3 1.1,-1.1 0.1,-0.4 0.5,-1.9 0.2,-1.7 M469,501l0,0.5 1.6,1 0.9,1 0.6,0.3 0.5,1.5 0.7,0.7 -0.2,0.1 0.6,1.1 1.4,1.7 1.2,2.1 M497.7,470l0.4,0.6 -0.5,0.9 -1,0.7 -1,0.3 -0.8,1.4 -1.3,-0.3 -0.8,1.5 -2.1,0.7 -1.9,0 -0.3,-0.3 -0.3,-2.4 0.6,-2.1 M98,487.3l1,0.3 0.5,0.2 1.1,1.4 0,1.2 0.2,1.3 1.3,0.9 2.1,1.2 0.9,0.5 1.7,1.6 0.4,1 0.9,1 1.1,1.2 1.2,0.7 1.2,-0.1 1.9,-0.1 1.4,-1 1.6,-0.5 0.5,-1.2 1.4,-1.1 1.4,-1.1 0.8,-0.9 0.7,-1.2 -0.2,-1.2 0.5,-1.2 -0.2,-1.1 0.4,-1 1,-1 0.8,0 0.6,-1.1 1.5,-1.3 1.3,-0.4 1.4,-1.4 1.2,-1.1 1,-1.2 0.1,-1 -1.4,-1 -1,-0.1 -0.2,0 0.5,-0.5 -0.4,-2 0.4,-1.2 -1,-1.7 -0.3,-1.2 -0.5,-1.1 -0.4,-1.9 0.6,-1.1 0,-1.8 M141.7,460l1.3,1.2 1,0.9 0.7,1.6 1.1,0.5 0.9,1.2 1.2,0.2 0.9,0.4 0.7,-0.2 1.2,0.3 0.6,0 0.9,0.1 1.3,0.5 1.9,0.8 1.4,0.3 1.8,0.6 2,0.4 1,-0.3 2,0.1 0.7,0.4 1.5,-0.5 0.5,0.1 0.5,-1.1 1.5,-0.4 1.4,-0.1 1.4,0 1.6,0.1 2.1,0.8 0.8,-0.6 0.9,-0.2 0.9,-1 0.4,0.1 1.8,-0.9 1.4,-2 M131.3,482.7l1.4,1.4 0.8,1.5 1.2,0.9 1.5,1.1 1.1,0.1 0.5,0.7 1.4,0.3 0.9,0 1.2,0.9 1.3,-0.2 1.2,-0.2 1.3,0.3 1,0.1 0.6,0.3 1.5,0.7 1,0.9 1.3,0.6 2,0.8 1.2,-1.1 1.1,-0.9 0.4,-1.7 -0.7,-1.8 0.3,-1.8 0.1,-0.6 1.1,-1.3 -0.2,-1.2 -1.4,-1.4 -0.3,-1.2 0.2,-1.8 0.2,-0.8 1.2,-1 0.2,-1.5 -0.1,-0.8 -0.3,-1.1 -1.3,-1.1 0.8,-1.9 0.3,-1.6 M156,491l2.1,-0.9 1.5,-0.4 1.2,0.6 0.7,0.9 1.5,0.2 0.8,0.8 1.1,1.1 1.4,0.7 0.7,0.9 1.8,-0.4 2.1,-0.7 1.1,-0.4 1.3,-0.1 M116.3,498.7l0.6,1.3 0.9,1.5 0,1.2 0.2,1.5 -0.1,1.4 1.2,0.8 1.4,0.4 1.7,0.8 0.3,0.7 0.7,1.5 0.2,1.1 0.7,2.3 0.5,1.2 1.1,0.9 1.3,0.4 0.9,-0.1 0.9,0.9 0.8,0.5 1.1,0.3 1.3,-1.1 2,-0.3 1.4,-1 1.6,-1.4 1,-1 0.5,-0.9 0.6,-0.6 1.1,-0.6 0.6,-0.1 1.5,-0.6 0.7,0 1.1,-0.4 0.7,-0.1 1.5,0.4 0.5,0.5 2.4,0 -0.1,-1.6 0.7,-1.4 -0.2,-0.8 -0.8,-2 -0.3,-0.7 -0.3,-1.8 0.3,-0.7 -1.2,-0.6 -1,-1 -0.7,-2.3 0,-0.8 -0.4,-1.5 1.3,-0.6 0.9,-0.8 1.3,-0.7 1.1,0.6 0.9,1 0.8,1.4 0.3,-1.6 0.7,-0.6 -0.5,-0.9 M150.3,496l0.8,1.7 1.3,2.2 0.1,1.8 -1.4,-0.8 -1.4,0.1 M149.3,510.7l1.2,0.3 0.9,0.2 1,2.2 0.3,1.2 1.1,1.3 0.5,0.3 1.7,0.2 1.1,0.7 1.4,1.3 1.2,0.8 0.3,1.1 1.8,0.3 1.1,1.1 0.1,1.6 M111,500l-1.1,1.6 -1,1.5 -0.5,1.4 -1.4,0.9 -0.7,1.1 -1.3,1 -1.3,1.3 0.1,0.6 -0.6,0.8 -0.1,1 -0.6,0.2 -1.6,1.3 -0.7,1.7 -0.4,0.9 0.7,2 0.7,1.1 0.1,1.7 1.3,1.6 -0.8,1.5 -0.2,1.2 1,0.6 0.8,0.4 0.8,0.8 0.9,0.5 1.7,1.5 1.4,0.6 0.8,1 1.5,0.4 1.5,-0.3 1.3,-0.4 2.2,0.7 0.4,0.7 1.5,1.4 1.8,0.1 0.4,1.7 -0.5,-1.6 0.1,-1.1 -0.8,-1.1 0.4,-1.3 1.6,-0.2 1.3,-1.4 1.2,-1 0.2,-1 0.2,-1 0.9,-1.2 0.7,-1.3 -0,-1.1 0.9,-1 1.6,-0.6 0.9,-1.9 M119.3,533.7l0.3,1.1 0.1,0.6 0.4,1.4 0.4,0.9 0.5,1.6 0.9,1.3 0.5,1.5 1.2,-0.6 0.9,1.3 1.2,1.3 1.4,1.2 1.1,-0.6 1.7,-0.2 0.8,-0.6 1.6,-0.5 0.7,-0.2 1.5,-1.3 1.3,-2.2 2.2,-0.6 1,-0.2 1.5,-0.1 0.6,-0.7 1.3,-0.6 0.6,0.3 0.2,0.3 1.1,0.2 1.5,0.6 1,0.6 1.8,-0.3 1.5,0.7 1.8,-0.2 1,-0.5 2.5,-1.2 1.1,-1.5 0.8,-1 0.1,-0.8 1.3,-0.6 0.6,-0.8 0.4,-0.6 M61.7,494.7l-1.1,1.8 0.6,1.8 0.7,1.1 0.8,1.1 0,1 0.8,0.9 1.2,-0.1 1.5,0.6 0.5,-1.5 0.1,-1.8 0.2,-1.7 2.1,0.2 1,0.1 1.3,1.5 0.7,1.6 0.7,1.3 0.5,1.6 1.1,1.1 1.1,0.8 -0.1,0.8 0.4,1 1.3,2 1.2,-0.3 1.5,0.9 1.3,0.8 1.2,0.5 0.9,0.8 1.6,1.2 1.2,-0.1 0.4,-0 1,0.6 -0.2,2.5 -0.6,1 -0.4,1.2 1,0.6 0.5,0.9 0.7,0.6 -0.2,2.1 1,0.3 1.7,-0.4 1.1,-0 1.6,0.8 1.4,0.1 1.6,0.7 1,0.8 1.3,-1.4 1.4,-0.4 M67.7,540.7l1.4,-0.2 0.8,-0.6 0.9,-0.7 1.7,-0.1 1.5,-0.7 2.2,0 1.1,0 1.8,-0.3 0.6,-0.5 0.9,-1.1 1.1,-0.8 2,-0.4 0.6,-1.5 0.9,-1.5 0.4,-1 -0.1,-0.8 0.5,-1.5 0.1,-1.1 0.4,-1.1 0.9,-1 0.9,-1.4 1,-1.1 M84,535l0.7,0.8 0.1,1.8 1.8,0.1 0.8,0.5 1.2,1 1.3,0.4 0.8,1.1 1.1,0.3 1.2,0.8 1.9,1.3 1.1,1.5 0.8,1.1 0.6,0.7 0,1.2 0.8,1.7 1.3,0.1 2,-0.7 1.8,-0.6 1,-0.7 1.7,-1 0.6,-1 1,0.6 0.2,0 1.3,-0.8 0.8,-0.8 2.2,0.6 1.9,-0.6 2,-0.1 0.3,1 0.9,0.3 1.1,-0.3 0.7,-0.9 1,-1.5 0.9,-0.5 1.1,0.6 M81.3,541.3l1,-0.9 1.4,0.9 -0.2,2 0.3,1.6 0.4,1.1 1.6,1.2 -0.2,2.4 -1.5,1.1 -0.6,-0.4 -1.8,-0.9 -1.8,-0.2 -0.6,-1.2 0.1,-1.4 -0.3,-1.4 -1,-1.7 1.7,-1.1 1.2,-1.1 M103.7,564l-0.1,-1.3 -1,-1.8 -0.3,-1.8 -0.5,-0.8 -1.3,-1.6 0.4,-1.4 -0.3,-1.5 0.6,-1.3 -0.5,-1.3 -0.4,-0.9 M119,573l1.8,-0.6 1.2,0 1.3,-0.8 0.4,-0.7 0.9,-0.8 1.1,-1.4 0.3,-1.3 1.9,-1.4 0.4,-1.7 1.3,-0.5 1.2,-0.3 0.5,-1.3 0.8,-1.1 0.9,-1 0.6,-2.6 0.4,-1.2 0.4,-0.2 -0,-0.8 -0.5,-0.8 -0.1,-1.1 -0.8,-1.5 -0.4,-1.8 -0.7,-1.2 -0.8,-1.3 -1.1,-0.6 -1.2,-0.8 -1.8,-0.5 M132.7,559.3l1.3,0.6 1.1,0.8 0.9,0.8 1.1,1.5 1.2,1.3 0.6,1.2 -0.2,1.3 1.3,0.7 0.8,0.7 0.7,0.7 1.4,-1.8 1.5,-0.9 2.2,-0.4 2.1,-0.4 1.3,0.1 0.7,-0.5 1.6,-0.4 1.4,-0.8 0.1,-0.9 0.5,-1.8 1.4,-0.9 0.9,-0.6 1.4,-1.5 0.5,-1.5 1.3,-0.8 1.2,-1.2 0.4,-1.9 0.7,-0.9 0,-1.9 0.5,-1.6 -1.2,-2.6 -0.9,-0.6 -0.8,-1.3 -1.3,-1 -1,-0.9 -0.2,-1.1 -1,-0.3 0.2,-1.3 0.3,-1.9 M161.3,550l1,-0.5 1.1,-0.3 0.7,0 1.6,-0.7 1.1,-0.1 0.6,-0.2 1.4,-0.7 1.2,-0.5 2,-0.2 2,0.7 2.3,0 1.4,0 0.4,0.4 0.5,1.6 0.9,0.8 1,1.9 1.4,-0.1 2.3,-0.4 0.7,0.5 1.7,0.4 0.6,0.1 1.6,0 1.5,-0.5 1.7,-0.4 1.3,-0.1 M191,541.7l-0.5,0.5 -0.9,0.7 -1.7,-0.1 -1.7,-0.6 0.3,-1.2 -0.4,-1.2 -0,-0.5 -0.3,-0.3 -0.2,-1.8 0.8,-1.4 0.6,-0.8 M160,555.7l1.5,1.1 1.2,1 1.3,0.7 -0.5,1.3 0.6,1.6 1.8,1.2 0.5,1.5 1.2,0.5 1.5,0.5 0.2,1.3 0.5,0.3 1.1,0.4 0.7,0.9 -0.2,2.2 1.4,0.9 1,-0.2 1.6,0.7 1.3,0.3 1.3,0.6 1.1,2.1 0.9,0.1 0.6,-0.1 0.1,-1 0.8,-0.5 1.9,1 1.3,0 2,0.9 2,1.1 -0.6,-2.7 2.4,-0.9 0.4,0 0.4,0.5 M143,568.7l0,1.1 0.9,0.4 0.8,2 1.9,0.5 -0,1.7 0.3,1.3 1.4,0.7 0.9,0.3 0.5,0.5 0.9,0.7 2.1,-0.1 1.2,1.7 1.8,1.3 0.3,1.3 0.3,0.8 -0.2,1.1 -0.3,1.7 1.4,1.3 1.2,1.1 -0.4,1 0.6,1.1 1,0.4 1.8,-2.1 1.6,-0.1 1.5,-0.6 0.1,-0.8 -0,-0.6 0.9,-0.6 0.8,-1.1 1.4,-1 1.8,-1 0.7,-1 1.4,-0.9 1.3,-0.7 2,-0.5 0.8,-0.7 1.5,-0.8 0.1,-0.5 -0,-2.3 M126.3,596.3l-0.1,-1.2 -0.1,-1.6 1,-0.9 0.9,-1.9 -0.3,-1.3 1.6,-1.1 0.6,-0.3 0.9,-0.1 -0.3,-1.2 -0.2,-1.7 0.6,-1.7 1.1,-0.8 0.8,-0.8 1.8,-0.4 1.3,-0.2 1,-0.8 0.6,-0.9 0.8,-1.1 0.5,-1.3 -0,-1.5 1,-1.3 0.4,-1.8 1.1,-0.6 1.3,-1 0.1,-1.1 M150.7,586.7l1.8,0.1 0.8,2 0.2,2.1 -0.5,1 0.9,1.8 -0.4,1.9 -0.4,0.7 -1,-0.6 -1.6,-0.5 -1.3,-1.4 -0.9,-1.7 -1.2,-1.9 0.7,-1.2 0.7,-0.9 1.2,-0.8 0.6,-0.6 M126.7,600l0.7,0.6 0.8,0.5 0.6,1.4 1.3,0.2 1.9,0.2 0.8,-0.5 0.9,-1.7 0.9,-1.3 0.8,-0.4 0.8,-0.5 1.1,-0.3 1.1,1.3 1.5,1.7 1.6,0.8 1.1,1.3 1,-0 0.6,0.7 0.9,-1 0.6,-1.9 0.5,-1.3 1.1,0.4 1.7,-0.6 1.1,-0.2 2.1,0.9 0.9,0.3 1.7,-0.7 2.1,-0.2 0.3,-1.3 0.6,-2 0.7,-0.7 -0.2,-1.8 0.1,-1.2 0.3,-1.7 M176,598.7l0,-0.5 0.8,1 0.9,1.2 -0.3,1.8 -0.5,1 -0.5,1.7 -0.9,1.1 -0.8,-1.1 -1,-1.2 -0.2,-0.8 -1,-1.3 0.4,-1.1 0.7,-0.4 0.7,-0.2 1.4,-1.2 M157.3,598.3l0.6,0.8 0.8,0.3 2,0.5 1.2,0.2 2,0.6 1.6,-0.2 1.7,-0.1 1.2,0.4 1.7,0.1 0.8,1.2 1.1,0.8 0.3,3.1 0.8,0.4 1.6,1 1.8,0 0.1,-1.3 1,-1 0,-1.2 0.3,-1.9 0.5,-0.9 1.4,-1.1 1.6,-0.6 2.1,-0.9 0,-0.9 0.5,-1.1 1.4,-0.1 1.5,-1.2 1.2,-0.7 0,-1.9 0.1,-0.9 0.5,-1.5 1.2,-0.9 1.2,-1.3 0.2,-0.9 -0.3,-1.1 -0.1,-1.6 -0.6,-1.6 0.3,-2 -0.8,-1.4 -0.4,-1.9 -0.8,-0.7 -0.9,-1.2 -0.4,-0.6 M194.3,587.3l1.5,-0.1 0.8,2 -0.8,0.7 -0.4,2 -0.1,1.1 -0.9,1 -1,0.1 -1.7,-1.1 0.1,-0.3 0.4,-1.6 -0.1,-0.7 1.3,-1 0.6,-1.7 M176.3,607.3l0.4,0.2 0.7,0.1 0.2,1.1 1.6,1.4 1.5,1.2 1.9,0.6 1.5,0.3 1.2,0.9 1.8,0 1,0.5 1.2,0.1 M197.3,589.7l-0.6,-2 M192.7,577l-1.2,0.7 -1.1,-1.3 -1.2,-0.9 -1.2,-0.5 M169,612.7l1.6,-0.2 0.2,1 0.7,1 2.5,0.1 1.6,1.3 0.6,0.6 -0.8,0.9 -1.5,1.8 -2.4,-0.6 -1.1,0.6 -1.8,-0.8 -0.5,-1.3 -0.4,-1.8 -0.4,-1.8 0.8,-0.4 0.6,-0.4 M153.7,600.3l-1.1,0.8 -0.4,1.6 0.5,1.5 -0.1,1 -1.1,1.6 -0.9,0.5 -0.2,1.1 -0.1,0.8 -0.6,0.6 -0,2 -0.6,0.7 1.6,1.2 -0.1,1.6 -1.1,1.5 -1.2,1.2 -0.2,2 0.2,1.8 -0.6,1.3 0.2,0.4 -0,1.5 -0.1,1.3 -0,0.8 0.2,0.6 M169.7,636.7l0.4,-1.6 0.6,-1.5 0.1,-0.6 -0.5,-1.6 -0.3,-2.5 1.1,-0.7 0.5,-1.1 1.1,-1.8 1.5,-1.2 1.6,-0.8 0.4,-1.5 0.5,-1.8 1.5,-0.2 0.6,-1.4 1,-0.5 1.1,-0.1 0.2,-0.7 0.8,-1.5 0.4,-0.4 1.3,-1.4 1.1,-0.5 M137,609.7l0.6,0.1 1.2,0.1 2.1,0.4 0.9,0.5 -0.5,1.7 -0.8,1.2 -1.3,1.6 -0.5,0.8 -1.7,0.9 -1.5,-0 -1,-1.6 0.2,-0.9 -0.2,-1.2 0.1,-0.8 0.5,-1.5 1.6,-1.3 M493,728.3l-0.9,0.3 -1.2,-0.2 -1.7,0.2 -1.2,-0.6 -1.6,-0.2 -1.5,0.3 -1.6,0.6 -1.4,0.2 -1.3,0.3 -1.7,-1.3 -1.5,-1.6 -0.6,-1.6 -0.6,-2.2 0.4,-1.6 -1.2,-0.5 -0.6,-1 -1.1,-0.9 -0.6,-0.7 -2.4,-0.8 -1.3,-0.5 -0.9,-0.5 -1.2,1.5 0.5,2.5 0.3,0.8 -0.2,1.7 0.2,0.4 0,1.3 -0.9,1.8 -0.2,1.4 -0.3,0.6 -1.2,1.5 -0.8,0.3 -1,0.9 0,1.9 0,1.3 -0.2,1.2 -0.1,1.1 -0.4,1.5 -1.1,0.8 -0.3,1.4 0.1,1.3 1.2,0.5 0.9,0.7 -0.1,1.5 -0.3,1.4 0.9,0.7 -0.3,1.2 -0.2,1.3 -1,1.9 1.1,-0.5 0.9,-0.6 1.5,1.3 1,1.8 1.4,0.4 2.1,-1.7 1.9,0.7 2,-0.2 1.1,0.6 0.5,0.6 -0.3,0.1 0.8,-0.3 0.1,2 0.1,0.7 1.7,0.2 1.5,0.7 1.5,-0.5 M487,763l-0.9,1.4 -0.8,1.7 -0.3,0.8 -0.6,1.4 -1.5,0.9 -1,0.8 -1.5,1.6 -1.9,0.6 -1,1.3 -1.1,1.3 -0.2,1.4 -1,0.9 -0.6,0.8 -1.2,0.6 -0.8,0.9 -0.7,1.2 -0.9,1.4 -0.3,1.1 -1.1,0.6 -0.7,1 -0.4,0.7 -0.9,0.9 -2,1.3 -0.3,-0.3 M400.7,793l0,-0.7 0.1,-0.3 0.9,-1.8 -0.3,-1.7 -0.6,-2.3 -0.7,-2.1 -0.1,-1.4 -0.7,-1.9 -0.2,-0.6 0,-2 -0.2,-1.3 0.4,-1.7 1,-1.4 -0.4,-1.5 0.3,-0.9 1,-1.4 0.6,-1.5 -0.4,-0.9 -0,-1.3 1,-1.6 0.7,-1.5 -2.1,-0 -1.7,-0.1 -1.9,0.8 -1.1,-0.1 -1.1,-0.3 -1.3,-1 -0.6,-1.6 -0.8,0.6 -1.4,0.9 -1.6,0.7 -1.6,-0.2 -1.1,1.7 -1,1.1 -0.5,0.5 -1.8,0.2 -1.5,0.5 -1.2,2.2 -0.5,2.4 -1.9,1.7 -0.7,0.1 -1.4,0.5 -0.7,1.4 -0.6,0.6 -1.3,1.3 -0.5,0.1 -1.3,0.3 -0.9,1.3 -0.2,0.6 0.2,1.6 -0.6,1 0.4,1.4 -0.6,1.1 1.6,1.7 0.8,1 1.1,1.4 0.7,0.9 1.2,0.3 1.2,0.6 1.1,1.3 0.7,1 0.8,1.3 2.1,0.7 1.5,-0.1 1,1.3 0.9,1.2 0.2,0.9 0.6,1.7 0.6,0.7 0.7,1.3 M384.7,697.3l-1.1,0.4 -0.5,1 -1.5,1.1 -2.1,0.5 -1.4,0.8 -1.1,-0.1 -0.9,0 -0.1,1.4 -1.7,2.1 -0.4,1.4 -0.2,1.4 0.7,1.3 -0.2,1.2 0.1,1.1 -0.5,0.8 0.1,0.7 -1.2,1 -0.4,0.5 -0,1.6 -0.4,1.7 0.2,1.9 2.1,0.8 0.4,0.9 0.6,1 1.2,0.8 0.4,1.3 0.4,1.9 0.2,1 0.6,1.5 1.3,1.2 0.9,0.7 1.1,0.2 1.7,1.2 1.6,0.2 1.1,0.6 0.9,0.3 1.3,0.7 1.2,0.5 0.6,-0.4 0.8,0.8 1.3,1.3 0.4,0.2 0.3,-0.3 1.5,-1.3 1.2,-0.5 0.5,-1.3 1.9,-1.1 2.1,-0.8 1.3,-0.4 0.1,-1.3 0.7,-1.2 0.1,-1.3 1.6,-0.4 -0,-1 -1.1,-0.6 -0.8,-0.1 -1.3,-0 -2,-1.7 -0.7,-0.7 -0.7,-2.3 -0,-1.5 -0.2,-1.7 -0.3,-0.9 -0.4,-1 -1.6,-0.7 0.1,-1.6 -0.7,-1.6 -0.4,-1.7 -0.5,-1.3 -1.1,-0.8 0.3,-0.6 -0.6,-1.1 0.1,-0.7 -0.2,-1.6 -1.1,-1 -1.8,-1.5 -2,-1.4 -1.5,-1.1 M409.3,734.7l-1.2,0.9 -1.4,1.6 -0.1,1.7 0.7,0.6 -0.4,1.2 -0.2,1.1 -0.7,1 -0,0.5 -1,1.6 -0.1,1.9 -0.2,2 -0.5,1.3 1,1.2 1.2,0.5 -0,1 0.1,1.2 0.2,1.2 -0.2,1.7 -0,1.3 0.9,1.6 2,0.8 0.7,0.8 0.8,-0.3 1,0.5 1.2,0.3 0.7,1.2 2.5,-0.4 0.9,0.6 1.3,0.2 1,-0.5 0.9,-0.5 0.7,-2.4 0.6,-1.5 1.6,-1.9 0.8,-0.6 1.1,-1 1.1,-0.3 1.8,1.2 1.3,-0.9 1.2,0.3 2,-0.9 1.5,-0.1 0.6,0.9 0.9,-0.8 2.2,0.1 1.1,-1.8 2,-1.8 1.1,-0.8 0.4,-1.4 -1,-1.1 -1.6,-1.5 -0.6,-1.2 0.1,-1.3 -0.7,-1.5 -1.4,-0.4 -0.5,-1.5 -2.1,0.1 -1.7,-0.1 -1.5,-0.5 -0.8,-0.4 -0.5,-1.6 -1.3,-1 -1.5,-0.9 -1.2,-0.8 -1.4,-0.1 -2.2,0.5 -1.4,-0.2 -1.5,0.2 -2.4,0.8 -1.9,-0.6 -1.3,0.6 -0.9,-0.3 -1,-0.3 -0.6,0.5 -0.8,-0.6 -1.4,-0.6 M382.7,645l-1,-0.3 -1.3,-0.7 -1.6,0.9 -2.1,1.2 -0.6,0.9 -1.6,1.3 -1.6,-0.1 -1.2,-0.3 -2.1,0.5 0,1.3 -0.5,1.6 -1.3,1.2 -0.9,1.1 -0.8,0.8 -0.9,0.2 -0.9,0.9 -0.6,1.1 -1.6,1.7 -1,1 -1.1,0.3 -0.8,1.1 0.2,1 -0.2,2.3 0.2,2.2 0,1.6 1.7,0.7 1,-0 1.9,0.4 1,0.1 1.1,0.4 1,0.8 0.8,0.3 1.6,0.8 1.7,-0.6 0.8,0.2 1.3,0 2,0.3 1,1.4 1.2,1.6 -0.2,1.1 -0.9,1.6 0,0.2 2.5,-0.2 2.7,0.1 1.2,2 1.2,1.2 1.2,1.1 0.7,0.6 1.1,-0.5 1.8,-1.5 -1.1,-0.8 -1,-0.6 -1.2,-0.9 -1.7,-1.2 -0.4,-0.6 1.2,-0.6 1.3,-0.3 1.3,-0.6 2.3,-1.7 1.2,-0.7 0.8,-0.5 1,0.4 0.7,1.5 0.2,2 0,1 -0.6,0.3 -1.5,0.8 -1.9,1.3 0,1.6 1.7,0.8 1.8,0.5 1.1,-1.5 0.6,-1.4 1.3,-0.9 2.3,-0.2 2.1,1.1 1.1,-0.5 -0.3,-0.8 0.5,-1 -0.2,-0.6 -1.6,-1.2 -0.5,-2.1 -0.2,-2.5 0.3,-2.2 0.7,-1.1 0.1,-1.5 0.3,-0.1 1,-0.9 0,-0.8 0,-0.6 0.1,-1.8 -1.9,-0.8 -0.6,-1.5 -0.8,-1.7 -0.1,-1.7 0.8,-1.4 -1.2,-0.8 -1.3,-0.9 -0.2,-1.1 -0.2,-2 -0.2,0.8 -0.4,0.9 -2.5,-0.3 -0.3,0 -1.6,-1.2 -1.7,-0.4 -1.1,0.2 -0.7,-0.3 -1.7,-1.1 -0.1,-0.3 -1.3,-1.9 -1.5,-0.5 M435.7,740.7l-0.3,-1.3 -1.2,-2 -1.3,-1.1 0.2,-0.8 0,-0.5 -0.1,-1 1.2,-1 0,-1 0.7,-1.8 1.7,-1.1 1.3,-1.4 0.9,-0.7 0.2,-1.2 0.8,-0.2 1.7,-0.1 0.8,-0.7 0.6,-1.9 1.3,-0.9 -1.3,-1.1 -0.9,-1.5 -1.6,-0.2 -1.3,-0.3 -1.6,-0.6 -1.5,0.4 -2.2,-0.9 -1.8,-0.7 -1.1,-0.5 -0.7,-0.9 -0.6,-0.3 -1.2,-1.6 -1,-0.7 -0.1,0.3 -1.3,0.5 -1.3,0.4 -2.5,-0.6 -1.5,-0.2 -0.7,0.2 -1.4,0.1 -1.8,0.1 -1.4,-0.5 -1.4,0.1 -1.2,0.9 -1.6,1.2 -1.1,0.9 -1,0.2 -0.2,1.9 0.2,0.6 -0.4,1.5 -0.6,0.9 -0.2,1 0,2 -1,0.8 -0.3,1.5 1,1.4 1,1 1.1,0.9 0.6,1.5 -0.6,1.6 0,1.4 M404,726.7l1,0.6 1.7,-0 M427.7,713l-0.4,-1.1 -1.2,-1.6 -1.2,-0.5 -0.4,-2 -0.7,-1.2 -0.1,-2 0.2,-1 0.8,-2.4 -0.4,-1.1 -0,-1.5 -0.8,-1 -0.9,-1.5 -0.9,-0.7 -0.7,-0.9 -0.9,-1.1 -0.7,-2.2 0.6,-1.2 -0.7,-0.4 -1.7,-0.3 -1.7,-0.1 -0.5,0.8 -1.1,0.9 -0.8,0.2 -0.6,1.7 -0.1,1 -1.2,1.6 -1.4,0.4 -0.6,1.6 -1.2,1.6 -0.7,0.3 -1.2,0.9 -2,0.3 -0,0.9 -0,1.2 -1.4,1.6 -1,0 -0.7,0.9 0.1,2 -0.3,1.3 -1.2,0.2 -1.3,0.2 -1.7,1.1 -2,0.2 -0.1,-0.5 -0.9,-0.3 M371,719.3l-1.4,0.7 -1.5,1.5 -1,1.6 -2.2,0.2 -2,0.6 -1,-0.1 -1.3,-0.2 -1.1,-0.3 -1,-0 -0.6,-1.1 -1.6,0.6 -1.6,0.4 -1,0.9 -1.9,-0.3 -1.4,1.9 -0.6,0.9 -0.5,1.2 -0.4,1.1 0.1,1 0.7,1.3 0.7,1.9 0.5,0.7 0.6,1.5 0.3,0.8 1.5,0.3 1.1,1.1 1.3,0.5 0.9,1 1.2,1.6 0.7,-0.5 0.8,0.4 0.3,1.7 1.3,0.4 0.9,1 0.7,1.7 1.1,0.1 1.5,-0.7 -0.3,-1 0.1,-1.3 1,-1.2 1.8,0.2 2.1,-0.1 1.1,0.3 0.9,1 1.6,-1 0.8,-0.3 -0.1,-0.8 0.9,-0.1 0.7,0.8 1,-0.4 1,-0.5 1.6,-0.7 2,-0.3 2,-0.8 2.5,0.3 0.4,0.4 1.1,0.7 1,0.4 0.4,-0.8 0.6,0.5 2.2,-0.8 1.2,-0.9 -0,-2.3 M372,785l-0.3,-0.3 -0.8,0.1 -1.4,-0.3 -1.6,1 -2.2,1 -1.3,0.4 -1.9,0.3 -1,-0.8 -1,-0.7 -1.7,0.7 -1.3,0.3 -2.1,-0.1 -1.2,-1.5 -1.7,-1 -0.7,1.1 -1.2,0.7 -2,0.4 -1.5,1.2 -0.7,0.7 -0.5,0.4 -1.4,0.9 -0.5,1.6 -1.3,1.3 -0.8,1.1 -1.1,0.9 -1.1,1.2 -1.4,1.1 M349.3,731l-1.5,0.4 -1.3,0.6 0,2.2 -1,1.2 -0.8,-0.5 -1.7,0.2 -0.6,0.3 -1.8,1 -1.9,-0.5 -0.8,-0.5 -1.3,-0.8 -1.3,0.9 -1.2,1.1 -1.7,0.8 -0.6,1.3 -1.3,1.1 -0.2,2.1 -0.3,0.8 0.3,1.3 0.4,1.4 -0.2,1.3 0.5,1.1 -0.1,0.9 0.7,2 -1.3,1.4 0.8,0.8 -0.4,1.1 -0.4,1.2 -0.1,1.9 0.3,1.3 1.4,0.7 1.4,0.2 0.8,0.7 1.5,0.9 1.3,1.2 1.5,0.3 0.7,0.4 0.9,0.1 1,0.1 1.8,-1.5 1.1,-0.7 0.4,-0.6 1.9,-0.1 0.9,0.3 1,0.8 1.3,0.5 1.2,-0.5 1.5,0 1.7,0.9 1.4,0.9 1.8,0.4 1.4,0.4 1.2,0.1 0.8,-0.7 0.6,-1.3 -0.2,-1.4 -0.4,-1.7 0.3,-1.6 0.6,-0.6 0.2,-1.8 0.2,0 0,-0.7 0.2,-1.4 -0.1,-0.9 -1.6,-1.1 -1.3,-1.1 0.8,-2.1 0,-0.8 0.9,-1.1 1.7,-0.3 M429,791.7l0.4,-2.2 1,-1.6 0,-0.9 0.8,-0.9 -0.4,-0.6 -0.1,-1.9 -1.7,-0.7 -1,-2.2 -0.4,-1.6 -0.3,-2.1 0.2,-0.7 -0.1,-1.2 -0.9,-0.7 -0.5,-1.4 -0.5,-0.5 -1,-1.2 -1.2,-0.2 -1.4,-0.8 -0.7,-1.6 -1.2,-0.7 -0.9,-1.8 -0.8,-1.9 M406.7,760l-1.4,1.2 -1.4,2 -0.9,0.1 M442,749l0.3,-0.6 1.9,1.3 1.1,1.3 1.3,0 0.8,-0.8 0.5,-0.9 1.6,0 1.4,0.9 1,-1.1 0.7,-1.8 2.6,-1.2 1.3,0.9 1.9,0.3 1.2,1.4 -0.4,1.8 -1.3,0.4 -1.3,0.6 -0.2,0.8 -0.1,0.2 0.8,-0.5 1.1,-0.6 1.7,-0.2 1.8,-0.9 M468.7,716l-0.4,-1.8 -0.5,-1.3 0.3,-0.2 -0.5,-0.4 -1,0.5 -1.9,-1.1 -1.7,-0.4 -1.5,0.1 -1,1.3 -1.4,0.6 -1.9,0.9 -1.6,0.8 -1.2,1 -1.7,-0.1 -0.5,-0.3 -1.1,0.4 -1.3,0.6 -1.3,0.2 -1.1,1.3 -1.4,0.9 -1,1.9 -1,1.1 M396,733.3l0.8,0.9 1,0.6 1.4,0.9 0.5,-0.4 0.9,0.9 -0.1,0.8 -0.5,1 0.5,1.9 -0.5,1.5 -1,1.5 -1.6,0 -0.8,-0.2 -1.4,0.6 -1.5,1.4 -0.9,0.8 -1.2,1.3 -1.5,-0.8 -1.1,-1.7 0,-1.3 1,-2 -0.1,-1.5 -1.1,2.1 -1,1.5 -1.3,2.2 -0.1,1.4 0.1,1.3 0.6,0.7 0.2,1.5 0.2,1.1 0.4,1.6 -0.4,0.7 1,0.9 1.5,1.3 0.6,0.7 0.3,1.6 0.8,1.1 1,1.4 0.6,1.7 M384.7,697l-0.3,-1.1 0,-1.1 0.5,-1.5 0.2,-1.9 0.1,-1.5 0.1,-1.7 0.4,-1.7 1.5,-1.1 0.4,-1.7 -0.8,-0.7 -0.5,-0.7 M359.7,667.3l-0.6,0.8 -0.8,1 0.4,1.3 -1.5,1.1 -1.2,-0.2 0.2,1.7 0,1.4 -0.3,1.1 -0.4,1.5 -1.1,0.6 -1.1,1 -0.8,1.6 -0.8,0.7 -1,1 -0.4,2.7 0.5,1.2 0.9,1.4 1.5,1.4 1.7,0 1.4,0.7 1.3,0.9 0,1.3 -0.3,2 0.7,0.9 0.6,1.1 0.5,1.2 1,0.6 1.7,0.5 1.7,0.7 2.1,1.2 1.4,0.7 1.1,-0.1 1,0.3 1.8,-0.9 1.3,-0.8 1.2,-0.3 0.8,0.9 1.1,0.2 M390.3,679.7l-1.6,1 M415.7,689.3l-1.5,-1.1 -1,-0.1 -1.7,-1 -0.1,-1.3 -0.8,-1.4 -1.1,0 -1.3,0.6 -1.7,0.3 -1.7,-0.7 -1.9,-0.1 -0.3,-2.3 -2.2,-0.5 -0.7,-1.1 0.3,-2.3 M428.7,765.3l1.1,-0.8 0.8,1.1 0.7,1 1.4,1.8 -0.5,1.4 -0.2,1.2 0.1,1.6 -0.6,0.7 -1.4,-0.1 -1.1,0.2 -0.6,-2.2 0.7,-1.8 -1.1,-0.4 -1,-0.6 0.3,-1.2 0.5,-0.8 0.5,-1.1 M456.7,791l0.9,-1.2 0.2,-1.9 -0.3,-1.5 -0.6,-1.6 -0.2,-1.3 0.5,-1.3 -0.1,-1.8 -2,-1 -1.3,-0.3 -0.3,-1.9 0.3,-1.7 -0.6,-1 -1,-1.7 -0.5,-1.9 0.4,-0.9 -1.2,-1.4 -0.8,-1.3 0,-1.1 0.1,-1.1 0.5,-1 0.5,-0.8 -1.2,0.1 -0.8,-1 -1.1,-1 -0.3,-1.1 0.5,-1.2 0,-2.4 -1.3,-1.6 -1.6,-2 0.1,-0.8 0.5,-1 M361,761.7l0.6,1.2 0.9,1.2 1.1,0.7 1.8,0.8 0.6,0.9 0.7,2.3 0.8,0.5 0.2,0.9 0.6,0.9 1,2 1.1,1.4 0.8,1 0.8,0.5 M341.7,761.7l-0.3,2.5 0.6,2 0.7,0.6 0.8,1.4 0.7,1.5 1.6,1.1 -0.2,0.8 0.6,1.1 0.6,0.6 0.4,2.1 -0.6,1.3 0.1,1.9 1,1.3 0.2,2.3 0.1,1.6 0.4,0.7 -0.1,1.8 M495.3,661l-1.3,0.7 -0.7,1.4 -1.8,-0.1 -0.9,0 -1.4,0.5 -1.8,-0.6 -0.7,1 0.2,1.1 -1.1,0.9 -1,1.1 -0.6,1.2 -0.5,0.8 -0.5,1.3 -1.4,0 -1,0.7 -1.5,0.1 -0.4,0.8 -0.9,0.4 -1.2,-0.1 -1.9,0.5 -1,-0.1 -0.4,0.9 -0.9,0.8 1,1.4 0.6,0.9 0.7,1.1 0.1,1.9 0.3,1.4 1.6,0.6 1.2,0.5 1.3,1.8 0.3,2.1 -0.8,1.4 -0,1.2 -0,0.8 1.7,1 0.7,0.3 1.2,1.9 0.8,0.9 0.6,1.7 -0.3,1.2 -0.4,1 -0.2,0.7 1.3,-0.2 1.3,-1 1.5,-0.9 2.3,0.3 1.5,0.3 1.8,-0.7 1.5,0.5 1.2,0 1.5,-0.2 0.9,-0.1 1.5,-0.6 0.6,-1 1.2,-0.4 1.4,-0.4 1.5,-0.9 -1,-0.5 -0.4,-1.2 -0,-1.2 0.7,-0.6 1.3,0.7 0.7,1.3 1.6,1.5 1.3,1.1 0.4,-1.5 1.7,-1.3 1.3,-1.9 2.2,-0.5 1,-2.1 0.5,-1.1 -0.9,-1.1 -0.2,-1.6 -0.1,-1.6 -0.4,-1.8 -1.8,-1.2 -0.2,-1.9 0.5,-0.5 -0.6,-1.5 0.4,-1.1 -0.7,-0.3 -0.1,-0.7 -1.3,-1.3 -1.2,0 -0.4,-1.9 -0.9,-0.9 -2.2,0.2 -0.5,-1.5 -0.7,-0.9 -0.7,-0.2 -0.5,-0.7 -1.4,-0.1 -0.9,-1.5 -1.8,0.4 -1.5,-0.4 -0.7,-1.2 -0.8,-1.2 M464.7,711l0.6,-1 1.5,-0.6 1.7,0 1.8,-0.6 1.4,-0.5 0.6,-1.2 0.3,-0.9 0.2,-0.7 1.4,-0.4 1.4,-0.7 1.9,-0.8 1.8,-0.6 1.4,-0.4 0.3,-1.2 1.4,-1.2 0.7,-1 0.9,-0.9 M471.3,675.3l-1.5,-0.6 -1.5,-0.5 -1.5,0.2 -1.7,0.3 -1.2,0 -0.6,0.5 -1.8,-0.3 -1.6,-0.6 -1,0.3 -1,-0.2 -1.4,-0.1 -0.6,0 -1.7,-0.1 -1.2,0.7 -0.7,-0.4 -1.5,0.1 -1.7,-0.2 -0.5,0.7 -1.3,0.4 -0.5,0.8 -1.2,0.2 -0.5,0.1 -1.5,0.6 0.7,0.9 0.9,1.4 0.8,1.5 1.3,1.2 1.8,0.3 2,0.8 0.3,1.2 0.5,1.7 -0.5,1.4 0.1,0.9 -0,1.7 -1.1,1.8 0.7,1.1 0.8,1.7 0.1,1.8 -0.4,0.7 0.9,0.6 -0.4,1 0.9,1.6 0.3,1.9 0.6,1.6 0.5,1.3 1.6,0.7 1,0.6 0.9,0.9 1.6,1.8 0.5,0.9 0.7,1.5 M515.7,685l0.8,0 1.9,-0.6 1.2,1.5 1.2,0.5 2.3,0.7 1.1,-0.2 1.5,-0.6 1.9,0.1 1.6,0.2 0.4,1.2 0.9,0.9 1,1.9 0.8,0.6 1.6,0.4 2.3,1.2 1.5,1.1 0.9,-0 1.7,-1.2 1.3,0.1 1,-0.3 -0.1,-0.1 2,1.1 2.2,0.8 M519.3,651.3l-0.8,0.8 0,1.7 -0.5,1.8 -0.8,0.9 -1.1,1.1 0.6,0.5 -0.2,1.3 -0.4,1.6 -0.8,0.5 0.4,1.3 -0.5,0.5 -0.5,1.7 0,1.9 -0.6,1.7 -0.5,1.7 -0.7,1.1 -0.2,1.6 M420.7,689.3l0.8,-0.7 0.2,-0.3 1.7,-1.2 1.1,-0.7 2,-0.6 1.6,-1.3 1.2,0.1 0.6,-1.2 1.6,-0.4 1.2,-0.9 0.9,-1.3 0.7,-1.8 1.6,-1.1 1.7,-0.1 0.4,-1 0.2,-0.7 -0.1,-1.6 -1.4,-1.8 -0.8,-1 -0.8,-1 -2.4,-1.6 -0.6,-0.1 -1.8,-0.3 1,-1.3 0.2,-0.3 -0.3,-1.6 0.1,-1.1 -1,-1.7 -0.3,-1.1 -0.3,-1 0.8,-1.4 -0.3,-0.8 -1,-0.6 -1.5,0 -1.4,-0.1 -0.9,-0.6 -0.8,-1.2 -0.8,-0.8 0.4,-1.1 -0.1,-2.1 0.2,-1.5 -0.3,-1.3 -0.3,-1.8 0.4,-1.3 0.2,-1.3 -0.8,-1.5 -1.1,-1.1 -2.2,1.1 -1.5,1 -1.2,1.1 -1.2,1.2 -1.1,0.1 -1.8,0.2 -1.6,0.9 -2.3,0.2 -2,1.2 -1.4,0.1 -0.2,0.1 -0.4,0.5 -1,1 -0.7,0.8 -1.4,0.3 -1.1,1.4 -1.3,0.7 M433.7,694l0.6,-0.3 1.6,0 1.1,0.8 0.7,1.6 1.5,-0.6 0.7,1 1,1 0.9,1.5 0.5,1.7 -0.4,1 -0.9,0.6 -1.1,0.6 -1.4,-1 -1.7,-0 -1.7,0.7 -1.5,0.6 -1,-0.5 -0.6,-0.8 -0.3,-1.7 -1.1,-1.7 0.2,-2.8 1.3,-0.6 1.2,-1.1 M443.7,677.7l-1,-0.1 -0.9,-0.4 -1.7,1.2 -2.1,-0.1 M517,693.3l1.1,0 1.5,0.4 1,-0.1 -0.3,0.5 0.6,0.5 -0.4,1.4 0.1,1.4 -0.1,1.3 -1.4,0.4 -0.8,1.2 -0,0.8 -1,1.1 -1.9,-0.7 0.5,-1.4 -0.2,-0.7 0.5,-1 0.6,-1.4 -0.9,-0.2 -0.5,-1.8 1.3,-1.7 M496,697l-0.9,0.1 1.3,0.2 1.1,1.4 0.9,0.1 0.7,1.2 1.3,0.4 -0.2,0.7 0.3,1.6 0.2,1.5 0.6,1.4 1.7,1.2 -0,1.6 -0.1,1.8 -0.6,1.8 0.9,0.5 0.2,0.9 -0.2,1 1.4,1.8 1.3,0.6 1.3,-0.4 1.4,0.2 -0.6,1.9 0.7,1.1 0.5,0.9 0.6,2.5 -0.1,1.3 M498.7,630.3l-1,1.2 -1.2,0.9 -0.3,0.2 -0.9,1.2 -0.9,0.4 -1.2,0.5 -1.4,1.6 -0.6,1.6 -1.2,1.4 -1.1,0.8 -0.5,0.8 -0.4,1.9 -0.7,1.4 -1.1,1.7 -0.7,0.7 -1.1,0.6 -0.7,1.5 -0.8,0.3 -0.3,0.5 1,1 0.9,0.5 0,0.9 1.1,1.1 0.7,1.7 0.9,1.4 0.2,1.9 1.1,0.8 -1.1,2.4 -0.4,0.8 0.5,0.6 0.5,0.1 M463,662l2,0.2 2.3,1.9 0.7,-0.8 0,-0.1 1,0.2 0.8,2.1 -0.2,1.9 -1,1.6 -1.4,1.1 -1.5,0.2 -1.4,0.5 -0.4,-1 -0.6,-0.8 0.2,-1.6 -0.3,-1.9 -0.5,-1.2 -0.2,-0.5 0.8,-1.3 -0.6,-0.5 M482,650l-2,0.8 -2.2,0.2 -0.9,-0.3 -1,-0.3 -1.4,0.5 -0.4,-0.1 -1,-0.1 -1.9,-0.7 -1.6,-1.5 -1.7,-0.7 -0.6,-1.1 -1.8,-0.9 -0.7,-1 -1.5,0.2 -0.6,-1.3 -1.5,0 -1.4,-0.8 -0.4,1.6 -0.4,2 -1.4,0.6 -1.3,-0 0.3,0.9 -0,1.5 0.4,0.8 0.2,0.7 -0,1.3 -1,1.2 -1.8,-0.5 0.2,0.8 -0.3,2 -0.5,1 -0.3,1.7 -1,1.8 -1,0.8 -1.6,1 -1.5,1.5 0.4,1 1,1.8 -0.6,1.1 -0.2,1.2 -0.3,1.1 0.4,0.6 1.2,1.9 -0.3,1.7 M417.3,602.3l0.9,-0.8 1.3,1 0.6,1.5 1.6,0.6 2.4,0.9 0.3,1.3 0.2,1.2 -1.4,1.4 -2.1,-0.1 -1.8,-1.1 -1.1,0.1 -1.6,0.1 -0.8,-0.5 -1.3,-1 -0.6,-1.3 -0.3,-0.6 0.9,-0.9 1,-1.6 1.5,-0.2 M414.7,580l-0.6,0.9 -1.3,1 -1.3,0.7 -0.4,0.6 -0.4,0.9 0.9,1.4 0,1.1 -1.6,1.3 -0.6,1.1 -0.5,1.3 -1.2,1.2 -0.1,1.1 -0.6,1.4 -0.4,0.8 -0.7,1.4 -0.4,0.6 -1.5,1 -0.1,1.5 -1,1.8 -0.4,1.8 -0.2,1.2 0.4,1.5 -0.9,1.9 0.1,0.7 -0.8,0.8 -0.8,1.1 -0.5,0.2 -0.9,2 -0.3,1.2 -0.1,1.8 2.1,0.8 1.6,1.8 0.9,1.8 0.5,1.2 1.6,1.4 1.6,0.7 0.6,1.5 1.7,0.6 0.7,0.9 1.6,0.9 0.8,-0.1 0.8,0.4 2,0.5 1.5,0.4 0.9,-0.2 1.4,0.4 1.4,-0.6 1.4,1.4 0.7,1.8 -0.4,-0.7 0.6,-1.5 0.3,-1.1 1.2,-1.5 0.4,-1.1 0.9,-1.2 0.6,0.3 1.3,-1.3 0.1,-0.4 0.2,-1.8 1.5,-2 -0.5,-1.8 0.1,-2.1 0.9,-0.5 0.4,-0.5 0.2,-0.8 -0.3,-1 0.5,-0.8 1.1,-0.4 1.6,-1 1,-1.6 0.3,-1.2 0.3,-1.3 -1.1,-1.3 -0.1,-1 -0.1,-0.8 -1.1,-0.6 -1.1,-0.3 -0.9,-0.9 -0.5,-2.4 -0.4,-1.7 -1.1,-2.1 -0.4,-1 -1.4,-0.6 -0.2,-1.1 -0.8,-1 0.1,-1.9 -0.9,-0.6 -1.1,-0.9 -1.9,0.2 -0.3,0.3 -1.4,-0.8 -0.7,-1.8 0.6,-0.6 -0.2,-1.1 -1.6,-0.7 -1.1,-1.1 -1.5,-0.1 -0,-1.3 -0.4,-0.4 M470.3,603.3l0.3,-0.9 -0.6,2.1 -1,1 -1.4,1.2 0,0.7 -0.4,1.5 -0.4,1.6 -0.1,2.3 -1.3,1.9 -0.2,1.6 0.5,0.7 -0.2,1 0.1,0.4 -0.9,1.8 -1,0.8 -1.6,1.6 -0.3,0.9 0.1,1.6 -0.5,0.6 -1.1,0.7 -1.2,0.8 -0.8,1.2 -1.3,0.8 -0.6,0.8 0.6,1.8 -0.7,0.5 -0.7,1.8 1.7,0 0.8,-0.1 0.7,1.8 -0.6,0.7 0.3,1.9 0.4,1.9 0.7,1.2 0.1,1.2 M421.7,642l0.5,-0.8 -0.1,-0.9 1.4,-0.6 0.3,-2.4 -0.4,-0.9 0.8,-2.1 0.3,-0.9 -1.3,-1.1 -1.5,-1.3 M399.3,616.3l-1,0.6 -1.5,0.1 -2,0.2 -1.5,0.9 -1.3,0.7 -0.1,1.1 -2,-0.7 -1.7,-1.1 -0.9,-0.1 -1.1,-1.2 -1.6,-0.2 -0.6,1 -0.3,1.5 -0.2,0.6 0.6,1 -0.1,0.8 0.6,1.9 0.7,0.6 1.2,1.5 1.1,0.9 0.8,2.3 -0.4,1.5 0.6,1.7 -0.9,0.2 -0.4,0.7 -0.1,1.3 -1,1.5 -0.4,1 -1.1,1.8 -0.5,1.1 -0,1.6 0.2,0.5 0.3,1.8 0.3,1.6 M437.3,582.3l1.2,-0.1 2,-0.4 0.7,1.4 1.8,0.6 1.4,-0.4 0.9,0.8 0.9,0.7 0.9,1.6 -1.5,2.1 -0.8,0.8 -1.5,0.9 -1.9,-0.6 -1.2,-0.6 -1.7,0.4 -1.8,-1.5 0.1,-1.9 -0.6,-0.4 -0.2,-1.9 0.3,-1.1 0.7,-0.4 M433.7,602.3l1,0.6 1.5,0.4 0.6,0.7 1,0.4 0.9,-0.7 1.3,-0.5 2.1,0.4 1.7,0.5 1.5,1 1,-0.2 1.3,-0.1 0.8,-0.2 2.4,-1.4 0.7,-0.9 1.3,-1.2 0.6,-0.4 1.7,0.2 1.3,0.3 1.4,-1.6 2,-0.7 0.8,0.2 2,-0.8 0.8,-0.7 1.8,-0.5 0.8,-0.4 1,-0.4 M457,576.7l-1.9,0.1 -2.2,-0.3 -1.1,-0.2 -1.3,-0.7 -1,-1.2 -0.8,-0.1 -0.8,0 -0.8,0.4 -1.7,-0.7 -1.3,-1.2 -1.1,-0.7 -1.7,-0.5 -0.3,-1.2 -1.5,-1.4 -1.2,-0.1 -0.9,0.3 -1.8,0.2 -1,-0.8 -1.6,0 -1.6,0 -0.6,0.5 -2.2,0.1 -1.1,0.4 -0.6,0.8 -0.9,1.6 -1,1.2 -1.3,1.6 -0.9,0.8 -0.4,1.8 -0.7,0.1 -1.7,-0.1 -0.6,0.3 -1.6,0.7 -1.5,1.6 M433.3,649l1.3,0.4 0.4,1.3 1.2,-0.7 1.6,0.7 0.6,0.8 1.5,1.7 -0.6,0.5 -0.8,1.8 -1.9,0.4 -1.6,-0.9 -1.7,0 -1.4,-0.4 -1.5,-1.8 0.1,-1.7 1.6,-0.8 0.9,-1.3 M455.7,634.3l-0.5,0.1 -1.1,1.5 -0.7,1.1 -2.4,-0.7 -1.7,-0.2 -2.5,0.2 -1.8,0.5 -1.2,0 -0.6,-1.3 -0.7,-1.1 -0.1,-2 -1.3,0.4 -0.9,0.4 -0.8,-0.2 -1.4,-0.4 -1.6,0.3 -0.6,0.2 -2.1,0 -0.9,0 -1.2,-0.1 -1.5,1.6 -1.5,-0.1 -1.4,0 -1.5,-0.5 -1,-0.7 M451,548.7l-1.4,1.1 -1,1.1 -1.4,0.5 -1.8,0.8 -0.4,1.8 -1.1,1.1 -1.9,0.2 -1.1,0.6 -1.4,0.5 -1.1,0.5 -1.6,0.7 -0.3,0.5 -0.4,1.2 -0.6,1.7 -1.3,0.4 -1.1,1 -0.9,0.8 -0.3,1.1 -0.1,2.3 0,0.8 -0.5,0.9 M358.7,556.3l1.4,-0.3 1,0.8 0.9,0.9 1.8,0.7 -0.5,2.3 -2.2,1.2 -1.1,0.4 -1.1,-0.3 -2.1,1.3 -0.5,0.7 -1.3,-0.4 -0.6,-0.3 -0.4,-0.9 1.2,-1.6 1.7,-1.2 0.9,-1.4 0.5,-1.5 M367,547l-1.2,1.3 -0.8,1.1 -0.2,-0.2 -1.5,0 -1,0 -1.8,0.7 -1.8,0.2 -2.3,-0.7 -1.7,0.3 -1.2,-0.6 -0.1,1.3 -1,0.8 -0.2,1.2 -0.8,1.1 -0.8,0.1 -0.9,1.4 -1.3,1.3 -1.5,0.9 -1.1,1 -0.1,1.9 -0.1,0.5 -0.8,0.8 -1.6,0 -0.5,1.5 -1.6,1.1 -0.9,0.1 -1.9,0.4 -0.8,-0.1 -2.1,0.5 1.3,0.7 1.4,1.6 1.7,0.8 1.2,1.2 2.3,0.2 1.2,-0.2 0.9,0.6 1.5,0.3 1.7,0.4 0.9,-0.5 1.3,0.3 1,-0.7 1,0.3 1.2,1 1.6,-0.2 1.6,0.6 0.7,1.5 1.7,0.9 1.4,-0.7 1.6,-0.7 0.9,-0.4 1.8,-1 1.5,-0.8 0.6,-0.8 0.5,-2.2 0.8,-1.5 1.1,0.1 1.2,-1.2 -0.3,-0.9 -0.4,-1.6 1,-1 1.5,0.9 0.6,-1.2 0.7,-1.2 1.1,-0.3 1.9,-1.6 0.8,-1.1 1.8,1 1.2,0.3 1.7,0.5 -0.8,-1.8 -0.5,-1.1 -0.9,-1.5 -0.8,-0.2 -0.9,-1.5 -0.7,-0.4 -0.3,-0.6 -0.6,-0.8 -1.6,-0.9 -0.5,0 -1.7,-1.1 -1.2,-0.9 -2,-0.7 -2.8,0.2 M399.7,552.3l1,-0.3 0.9,-0.3 1.7,-0.5 1.7,-0.4 1.2,1.5 0.7,1.8 1.4,1.8 -0.1,1.5 -0.4,1.4 -1.7,1.7 -1.5,1 -1.1,-0.9 -1.6,0.2 -0.9,-1.6 -0.5,-1.1 -0.8,-1 -0.9,-1.4 0,-1.7 0.5,-1.7 M425,572.7l0.3,-2 -1,-2.1 -1.1,-1 0,-0.5 -0.6,-1.4 -0.6,-0.7 -1,-0.8 0,-1.8 -0.8,-0.6 -1.5,-1.4 -0.8,-1.5 0.2,-1.4 0,-1.4 0.6,-0.7 -0.3,-1.4 -0.6,-1.1 -0.4,-1.9 -1.1,-0.7 -1,-0.4 -0.8,-1.4 -1.1,-1 -1.2,-1.6 -0.1,-1 -1,-1.3 -1.1,-1 -1.6,0.4 -1.8,0.6 -0.6,1.6 -1.9,-0.2 -1.5,-1 -0.7,0.5 -0.9,-0.2 -1,1.1 -2,0.2 -0.5,1.5 -0.8,0.7 -1.4,0.8 -1.3,-0 -1.4,-0 -0.2,1.9 -0.2,0.8 -0.5,1.7 -1.3,1.5 -1,1.6 -0.2,0.9 -0.7,0.8 -0.9,0.7 -1.3,-0.2 -1.6,0.4 -1.6,0.1 -1.6,0.4 -0.1,1 1,0.6 1.3,1.3 0.7,0 -0.1,1.2 0.3,1.4 2.1,2 1.1,-0.2 1.9,0.4 1.3,1.3 1,0.7 1.1,0.4 0.8,0.6 -0.5,1.3 0.1,0.5 -0.6,1.3 -0.4,1.7 0.8,2.5 1.1,1.4 0.3,0.9 -0.1,1.9 0.2,0.4 1.6,-0.6 1.9,0.3 1.1,1.2 0.4,0.7 1.8,0.6 1.5,0.4 0.3,-0.2 1.5,0 0.3,0.6 1.5,0.2 1.3,-0.6 1.3,0.3 0.2,-0.6 0.7,1.1 0.1,2.1 M347,526.3l0.1,1.5 -0.2,1.1 1.1,0.4 1.6,0.9 0.9,2 1.1,1.7 -0.3,1 0.7,0.8 1.4,1.2 1.1,-0.9 0.9,-1.4 1.3,-1.4 -0.1,-1.5 0.4,-0.5 0.6,-0.5 1.5,-0.4 2,-1.3 1.7,-0.8 0.8,-0.1 1.2,-0.5 1.1,0.7 0.8,0.4 1.4,0.3 1.2,0.7 1.1,-0.3 1.5,-0.8 1.7,0.3 2.4,0.2 1.4,0.3 0.2,-0.8 0.8,-1.8 -1,-1.4 -0.2,-1.5 -0.5,-2.5 -0.6,-1.7 0.2,-1 -0.3,-0.4 M363.7,572.7l0.8,-0.5 0.9,0.5 0.7,1.7 0.8,0.9 0.6,1 -0.3,0.4 1.1,1.7 1,0.8 0.8,1.6 -0.6,2.7 0,1.8 -0.5,1.7 -0.3,1.3 0.3,0.4 1,1.4 -0.7,1.4 -0.6,2.1 -1,1.7 -0.5,0.9 0.5,1 0.7,1.6 1.7,0.2 1.1,-1.1 1.2,-0.5 1,-0.9 0.6,-0.6 1.3,-1.2 -0.8,-1.7 -0.5,-1.4 1.1,-1.7 1.2,-0.9 1.3,-1.5 1.6,-0.1 1.6,-1.1 1.5,-0.7 1.1,-0.3 1.4,-0.3 1.4,0.1 1.6,0.5 1.4,0.1 0.6,1.5 2.2,-0.3 2.1,-0 1.4,-0.9 1.3,-1.9 -0.2,-0.8 2.1,-0.3 M423.7,516l1.5,-1 0.8,0.8 1.6,0.2 0.8,1.4 0.6,1.7 1.7,1.2 -0.2,1.9 -1.2,0.7 -1.8,0.8 -1.7,-0.6 -1.3,-1.7 -0.5,-1.6 -0.5,-1.1 -0.2,-0.9 -0,-1.5 M409.3,512.7l-0.4,1.7 0.5,1.9 -0,1.1 0.4,1 -0.9,1.2 -0.9,0.9 -0.6,1.1 -1.4,1.7 -0.6,1.5 -0.5,0.9 0.6,0.6 -0.3,1.1 0.1,1.2 0.3,1.3 0.3,1.4 0.8,1 0.5,0.1 1.2,1 0.7,0.9 0.9,1.5 1.2,2.6 0.6,1.5 1.4,0.2 1.4,-0.7 1.1,-0.7 2.1,-0.7 1.3,-0.5 1.3,-0.5 1.2,-0.7 1.4,-0.9 1.8,0.5 1.6,1.2 0.3,-0.4 1.2,0.1 0.6,-0.4 1.9,-0.1 1.5,-0.2 1.9,-1.1 1.4,-1 1.4,-1.3 0.3,-0.5 1.1,-0.1 0.5,0.1 0.9,-1.1 0.9,-0.8 M378.3,526.3l0.2,0.4 0.6,0.8 0.6,1.7 1.6,1.4 2,-0.8 1.4,-0.7 1.5,-0.4 1.2,-0.2 1.1,0 0.6,-0.5 1.7,-0.4 1.9,-0.3 1.5,-0.5 0.7,-0.6 1.7,0.2 1.2,0.5 1.2,0.7 0.9,0.9 1.8,0.4 2.7,0 0.4,0.6 0.5,0.5 M382.7,531l-0.1,0.7 -0.4,0.7 -1.4,2 -1.3,1.5 -0.3,1.4 0.3,1.5 -0.3,1.3 0.1,0.9 0.4,1.9 0,0.8 0.5,1.5 0.8,0.9 -0.1,1.4 -1.1,1.6 -0.3,0.8 0.6,2.1 0.2,1.3 M411,542l0.3,-1.7 M353.7,537.7l-0.6,1.5 -0.2,1.2 0.6,1.5 0.5,1.5 -0.2,1.4 0.3,0.8 0,1.3 0.9,1.8 M330,614.7l0.7,0 1.3,-0.7 1.2,0.3 1.1,0.9 1.8,-0.6 0.7,-0.5 1.8,1.4 1.1,1 0.4,2.3 0.1,1.6 -1.3,1.6 -0.8,0.7 -2.2,0.2 -1,0.7 -1.3,-0.6 -1.5,-1 -1.4,-1.5 -1.9,-1.7 0.1,-1.4 -0.1,-0.6 -0.1,-1 0.6,-0.2 0.4,-0.9 M317.7,650.7l1,0.2 1,-0.8 2.1,-0.4 1.8,0.5 0.6,-0.4 0.9,-0.3 1.6,-0.1 0.9,1 0.3,-0.6 0.7,-2 1.4,-2.1 0.8,-1.5 0.5,-1 0.4,-1.7 0.8,-0.5 0.6,-0.8 1.7,-0.8 0.8,-1.2 0.2,-1.9 1.2,-1 0.7,-0.4 1.2,-0.1 0.3,-0.6 1.1,-0.6 0.8,-1.7 0.7,-0.6 -0.1,-1.2 0.9,-1.2 0.4,-1.3 -0.7,-1.1 0.4,-1.4 1.5,-1.6 0.4,-1.8 1.1,-1.5 1.2,-1.3 1.3,-1 0.5,-0.8 -0.9,-0.8 -1.8,-0.3 -1.9,0.7 -2.2,-0.8 -0.6,-0.7 -1.9,-1.1 0,-0.7 -0.9,-0.8 -0.8,-1.2 -1.2,-0.8 -2,-1.2 -1.2,-0.4 -0.9,-0.9 -1.6,-0.5 -1.1,-0.9 -1.4,-0.4 -1.5,-0 -1.4,0.2 -2.1,0.2 -2.1,-0.7 -1.7,-0.5 -1.4,-0.1 -1.1,-0.4 -0.1,-0.1 -0.5,-0.7 -1.1,0.3 -2,-0 -0.9,0.8 -2,0.6 -1.7,0.8 -0.9,0.4 -1.1,-0.1 M365.3,587.3l0.6,-0.3 1.2,0.9 -0.3,0.7 -0.1,0.8 -0.7,0.5 0.4,1.8 -1,1.5 -0.1,0.9 -1.2,-0.3 -1,-1.1 -0.2,-2.1 -0.3,-1.5 0.2,-1.7 1.2,-0.3 1,0.2 M341,568l0.4,-0.3 1.3,1.6 0.6,0.2 -0.5,1.3 -0.7,1.5 0.3,2 1,0.4 0.6,1.4 0.9,0.1 0.5,1.4 -0.4,1.2 -0.8,1.7 -0,1.4 -0.3,1.7 -1.2,1.5 0.4,1.5 -0.4,1 -1.3,1.5 1,0.1 0.1,1.6 -0.2,0.6 0.7,1.6 -0.4,1.7 1.3,-0.7 1.9,-0.7 2,0.3 1,-1 1.4,-0.3 1,-0.1 0.1,1.2 0.8,1.9 1.5,0.6 0.8,0.1 0.9,-0.5 2.3,-0.9 1,0.8 0.7,0.6 1.6,-0.1 1.2,-0.1 0.6,-0.5 1.6,0.1 1.9,1.1 2.1,0.5 M363,600l0.4,-0.3 0.4,0.2 -0.1,1.9 -1,1.1 -1.5,0.9 -1.1,1 -0.9,-1.2 -0.3,-0.3 -0.3,-0.2 -0.6,-0.7 1,-1.4 2,0 1.7,-1 M343.3,595l-0.7,0.7 -0.2,1.3 -0.1,1.6 0.1,0.9 -1.3,0.5 0.5,1.2 -1.2,1.4 -0.5,1.9 -1,1.1 -1.1,1.1 -0.7,1.2 -0.1,1.1 M345.3,621l1.8,0 1,-1.7 0.2,-1 0.8,-1.5 0.9,-0.7 1.8,-0.4 1.3,-0.5 0.7,-0.5 1.5,0.3 1.4,0 1,0.2 1,-0.1 1,1.4 1.3,-1.4 1,0.2 1.1,-1.1 0.5,-0.8 1.6,0.1 0.9,-0.6 0.9,0.8 1.7,-0.2 1.9,0.7 0.8,-0.8 -0.4,-1.1 -0.4,-1.4 -0.5,-1 -0.3,-1 -0.4,0.6 -0.2,0 -1.8,-0.1 -1.9,-1.4 -0.7,-1.2 -0.4,-2 -0.7,-1.4 0.3,-1.6 2.2,-0.1 1,-0.5 2.1,1.1 -0.1,-1.3 0.8,-2 M314.3,586l-0.5,0.9 -1.5,1 -0.8,0.8 -0.7,0.3 0.5,2.1 -0.2,1.6 -0.2,1.1 1.4,1.2 0.3,1.3 0.8,1.6 0.3,1.1 -1,1 -0.5,0.9 0.6,1.3 -0.1,2.1 M336.3,564.7l-1.7,0 -1.2,-0.7 -1.5,-0.4 -1.2,1.4 M369.3,602l1.1,0.8 1.6,-0.7 0.9,1.6 1.5,0.5 0.9,2.1 -0.9,1.3 -0.9,1.7 -1.4,0.3 -2.1,-0.6 M371.3,613.3l1,1.1 1.5,1.2 1.8,-0.8 1.7,0.1 1.7,-0.3 1.3,-0.8 0.6,0.5 0.9,1.3 1.5,1.7 M346,621.3l-0.1,1.4 0.4,0.4 1.5,0.8 1.6,1.2 0.6,1.4 1.6,0.8 0.6,0.9 1.5,0 0.9,0.2 0.8,1.1 0.6,1.7 -0.4,2.3 1.6,1.9 1.4,0.5 1.8,0.9 1.9,0.8 0.7,2 0.5,-0.8 1.3,0.6 1,1.3 0.9,0.6 -0,1.1 -0,2 0.9,1.4 0.2,1 1.2,0.4 1.7,0.4 0.7,-1.3 1.5,-0.6 0.6,-0.7 1.7,0.1 2.1,0.9 M329.3,647.7l0.3,0.8 0.8,0.9 1.4,1 1.5,0.6 0.9,0 0.9,0.9 0.8,0.5 1.4,0.6 1,1.3 0.4,0.1 1.7,-0.3 0.8,-0.6 1.4,0.5 1.8,1.3 1,0.7 0.8,0.8 1.2,1 0.8,0.5 1.9,0.1 1.8,1.4 1.2,0.7 1,0.9 1.4,1.4 1.6,1.3 0.5,-0.1 1.4,-0.3 M247.3,540l0.4,-1.3 0.7,1.2 1,1 0.8,2.1 0.4,1.3 -0.7,1.2 -1,1.6 -2.2,-0.9 -1.2,0.5 -1.2,0.2 -1.3,-0.7 0.1,-1.8 0.6,-1.1 0.9,-0.6 1.4,-0.5 -0.9,-0.7 0.8,-0.5 1.1,-1 M239.7,555l1.5,0 0.5,-0.7 1.8,-0.2 0.8,-0.3 2.2,-0.7 1.2,0 1.3,-0.6 1.3,-0.9 1,0.4 1.3,0.9 1.5,-0.1 1.8,0.8 1.7,0.2 1.9,0.7 1.4,1.4 1.4,0.3 0.2,0.6 0.9,-0.1 1.7,0.3 -0.4,-1.1 0.9,-1.6 0.3,-1.2 -0.8,-1 -0.2,-1.4 0.5,-0.8 0.2,-1.5 0.5,-1.6 0.7,-1.2 1.1,-0.8 1,-1.4 0.2,-1.8 0.5,-1.3 0.5,-1.3 0.4,-0.9 0.5,-1.3 0.2,-1.1 0.8,-1.2 -0.1,-2 0.9,-1.1 -0.1,-0.8 -0.7,-1.8 -0.3,-1.8 M278.3,520.7l0.4,1.5 0.8,1.9 1.2,0.6 1.2,0.3 2.1,0 0.6,0.8 1,0.6 0.5,1.3 1.2,0.9 0.6,0.8 1.8,-0.5 1.1,0.5 1.4,0.5 1,0.6 1,0.7 0.3,1.1 0.4,1 -0,1.7 0.9,1.7 0,1.6 -0.7,1.5 1.2,1.9 -0.4,1.4 0.8,1.4 0.9,0.3 0.3,0.3 0.3,0.3 0.6,0.8 1.4,0.8 0.6,0.9 0.7,-1.8 1.5,-0.7 1.5,-1.1 0.4,-1.4 0.6,-0.8 0.7,0 0.6,-0.8 0.6,-0.6 2.2,-0.1 1.9,0 1.7,-0.8 0.9,-1 0.8,-1.4 0.3,-1.3 0.4,-0.8 1.7,-0.5 0.4,-0.1 0.6,-1.3 0.4,-1.3 0.5,-1.4 1.9,-0.7 0.9,0.1 1.4,-1.3 1,-0.7 1.6,-0.6 1.2,-0.6 0.7,-1.3 0.6,-1.1 -1.9,1.1 -1.4,-0.3 -1.1,-0.7 -1.1,0.8 -1.2,-0.4 -1.4,-0.6 -2.1,-0.3 -1.1,-1.2 -0.4,-0.7 -0.5,-1 -2.3,0.2 -1.7,0.2 -1.3,-0.1 -2,0.5 0.5,-1.2 -0.7,-2.1 -1.3,-0.6 -1,-0.9 -0.1,-1.8 -0.2,-2.1 -0.4,-2.2 -1,-2.1 -1.4,-1.5 -1.5,-0.6 -0.7,-1.4 -0.9,0.7 -2.1,-0.1 -1.6,0.2 -0.7,-0.5 -0.2,-1.1 M341,516.7l-0.6,0.7 -1,-0 -1.9,0.9 -1.5,0.9 -1.7,0.4 -1.1,1.2 0,1.2 -0.2,0.7 -0.8,1.4 -2.2,0.5 0.3,1.7 -0.2,1.2 0.5,0.9 0,2.2 0.6,1.1 0.2,1.2 -0.3,1.8 -1.1,0.6 -0.1,0.9 -0.1,1.4 -0.1,1.2 -0.5,0.3 0,0.2 0.7,1.3 0,2.2 0.8,1 0,1.8 0.3,0.9 -0.4,1.2 -0.6,2 -0.7,1.3 0.5,1.8 -0.6,1.4 0.5,1.5 1.1,1.3 0,1.9 0.7,1.7 0.1,1.1 0.7,0.8 0,0.8 M265.7,557l0.5,0.8 -0.4,1.5 0.5,1.4 1.2,1.6 1.4,1.2 1.4,-0.3 1,0.1 M278.3,567l1.4,-0.7 2,-0.2 1.1,-0.1 1,-0.3 1.2,-1 1.3,-0.5 1.5,-0.6 1,-0.6 1.4,0.1 0.6,0.2 1.2,-0.6 1.2,-1 1.4,-0.9 1.6,-0.2 2,1 1.2,-0.3 1,-0.7 0.7,-0.6 -1.3,-0.9 -1.4,-0.7 0.8,-2.6 1.3,-0.6 0.8,-1.7 0.3,-2.3 0.2,-1.7 -0.1,-1.2 M328.7,525l1.6,0 M315.3,536.7l1.9,-0.5 1,0.9 0,0.9 -0.1,3 0.1,1.6 -0.1,1.1 0.5,0.4 -1.3,0 -1.1,-0.7 -1.5,-0.3 -1,-0.8 -0.2,-1.6 -0.5,-1 1.3,-0.3 0,-1.4 M301.3,558.7l1.3,1.3 1.3,0.6 0.9,1.1 0.9,-0.6 1.6,-0.1 M298,561.3l0.8,0.6 0.4,1.2 1,1.9 -0.3,1.8 -1.2,0.9 -1,1.5 0,0.8 -1.3,0 -1.1,0.1 -2,-0.3 -1.1,-0.8 -0.5,-1.8 1.1,-2.2 -0.4,-1.4 -0.3,-1.6 0.7,0.6 1.2,-0.6 M352.7,689l-0.5,1.7 -1.5,1.9 1.1,0.4 0.2,1.3 -1.1,-0.2 -1.6,0.9 -1.3,1.2 -1.5,0.1 -1.2,0.4 -0.2,1.1 -0.3,1.3 -1.9,0.7 0.9,1.4 0.9,0 1.2,1.2 0.1,0.4 1,1.4 1.7,1.9 0,1.2 0.3,1.3 -0.1,1.5 1.9,-0.3 1.7,0.6 0.9,1.4 1.6,1.1 1.5,0 -0.1,0.9 -0.4,2.5 -1.9,1.2 -1.6,0.3 -1.4,-0.5 -0.1,1.9 1.2,0.6 0.7,1.8 0.1,2.1 M352,718l0.1,-0.2 -1.2,-0.8 -1.6,0.4 -1.2,-0.5 -1.3,-0.8 -0.5,-1.9 1,-1 1.3,-1.8 0.4,-1.4 M343,700.3l-1.1,0.6 -1,0.8 -1,0.6 -0.8,0.3 -1.3,0 -2.4,0.6 -0.7,0.9 -1,0.4 -1.1,-0.3 -1.1,0.6 -2.1,-0.3 -1.2,0.3 0.1,0.9 -0.4,0.7 -0.4,1.1 -0.1,1.8 -0.2,0.9 0.3,0.8 0.8,1.6 -0.4,1.3 0.9,1.1 -0.3,0.8 -0.7,1.8 -1.3,1.1 -0.2,1.3 0.3,2.2 -0.8,1 0,0.4 -0.6,0.5 -0.2,1.6 -2.2,0.6 0.4,2.7 -0.8,0.9 0.3,1.5 1.1,-0.4 1,0.4 0.5,0.6 1.7,0.9 0.5,0.2 2.2,0.5 1.8,0.7 1,0.8 0.8,0.6 M312,695.3l1.4,0.1 0.5,0.4 1.5,1.5 1,1 1.1,-0.6 1.6,-0.3 1.3,0.6 1.3,0.5 1.5,-0.4 1.3,0.5 0.6,1.3 -0.4,0.9 1.3,0.6 2.4,0.9 0.9,1.4 M351,691l-0.9,-0.9 -1.3,-1.4 -1.4,-0.9 -1.3,0.5 -0.7,-0.8 -0.3,-0.7 -0.4,-0.6 -0.6,-1.6 -1.1,-0.1 -1.8,-0.2 -1.3,-0.3 -1.9,0.6 -2,0 -2.1,-1.5 -1,-0.7 -0.9,-1.2 -0.5,-1.1 0.1,-2.3 0.3,-1.7 0.5,-0.7 -1.1,-0.7 0.2,-1.4 -1.4,-0.7 -0.8,-0.8 -1.3,-0.9 -1.7,-1.5 -2,0.7 -0.6,-0.1 -0.9,0.1 -0.8,-0.1 M302.7,700l0.9,0.9 -0.4,1 -0.5,1.4 0.3,0.9 0.8,1.1 0.5,0.8 1.1,0.8 -0.3,1.1 -0.4,1 -0.2,1.5 -0.8,1.4 -0.3,1.9 1.5,0.3 1.7,0.7 0.1,0.2 1.6,1.1 -0.2,1 -0.5,0.4 0.4,2 1.4,0.1 0.4,1 1.6,0.6 0.5,1.6 0.3,2.2 0.1,1.9 -0.3,1.5 1.5,1.2 0.8,-0.5 0.9,-0.2 0.7,-0.6 1.3,-0.3 0.8,0 2.1,-0.9 1.9,-0.8 M285,796.7l0.5,-1.2 0.3,-0.7 1,-1.2 1.4,-0.7 1.6,-0.8 1.2,1.1 1.3,0.5 2.3,-0.9 1.5,-1.8 0.4,-1.9 -1,-0.5 -2.4,-1.4 -1.2,-1.1 0.2,-1.6 0.9,-0.3 0.2,-0.6 1.2,-0.8 1.4,-0.7 0.9,-2.1 0.9,-1.8 1.6,-0.6 1,-1.2 -0.2,-2.3 0.3,-1 -0.5,-1.5 0.1,-1.3 0.2,-0.6 -0.4,-0.5 0,-1.2 -1.1,-2.1 -1.1,-0.8 -0.6,0.4 -0.9,0.2 M291,705.7l0.6,1 0.5,0.4 1.9,0.7 -0.1,1.4 -0.9,0.8 -2.3,0.3 M299.7,737l0.2,1.8 0.2,-1.5 1.5,-1 1.7,-0.3 1.1,-0.2 1.3,-1.1 0.1,-1.8 1,-1.1 1.3,-0.1 1,-1.2 0.9,-0.1 0.9,-1 1.8,-0.4 M316,791l-1.2,-1.1 -1.2,-0.5 -1.3,-0.9 -0.5,-1.6 -0.8,-1.2 -1.7,-2.2 -1.2,-1.7 -0.1,-1.1 0.6,-0.6 -0.4,-1.3 0.4,-2.1 -1.8,-0.2 -1.1,-1.3 -1.8,0.6 -0.5,-0.8 -0.7,-0.2 -0.3,-1.2 1.1,-0.9 0.6,-0.6 -0.8,-0.7 -0.7,-1.9 -0.9,-1.2 M304.3,771.3l1.6,0.1 1.3,1.6 0.5,-1.8 1.1,0.2 1.5,0.4 0.6,1.3 -0.1,0.7 -0.7,1.5 -0.6,1.1 -0.8,0.9 M332.3,759.7l-0.3,1 0.1,1 -0.7,1.1 0.3,0.9 -0.8,1.2 -1.5,-0.6 -1.2,-0.8 -1.4,-1.1 -1.7,-0.3 -1.4,-1.1 -0.7,1.1 0.4,1.6 -0.3,1.1 -0.7,-0.1 -1.2,0.9 -1.4,0.2 -1.1,0.5 -1.8,-0.4 -1.8,-0.7 -1.5,0.1 -1.5,-0.4 -1.8,-0.4 -0.9,-0 -0.6,0.6 -1,-0.2 -1.5,0.1 -1.2,1.3 -1.3,1 -1.5,1 M299.3,744l1.6,1.3 -0.3,0.9 1.2,0.6 1.1,0.5 0.5,1.4 -0.9,2 -1.1,1.1 -1.4,0.3 -1,-0.9 -1.3,-0.9 M324.7,760.3l-0.7,-1.2 0.2,-2.4 1.4,0.1 1.3,0.1 2.1,0.7 1.7,0.1 M224,658.3l-0.5,0.4 -0.7,0.9 -0.9,1.5 -1.3,0.6 -1.3,0.5 -0.2,0.7 -1.6,0.7 -0.3,0.8 -0.9,0.7 -0.8,1 -0.6,1.3 -0.6,1.1 -0.4,1.4 -0.9,2.2 -0.9,1.3 -1.4,0.7 -1.6,0.5 -1.6,1.2 -0.8,1.3 0.6,1.6 0.2,1.8 -0.9,1 -0.7,1.4 1.1,0.5 1.4,0.7 0.8,0.9 0.8,0.7 1.8,1.2 0.8,1.4 1.7,1.2 1,1.4 1.6,-0.2 0.2,-2.2 1.5,-1.6 0.9,-0.8 1.8,-0.1 1.4,0.4 1.1,0.1 1.4,0.1 1.6,-0.7 0.6,-1.4 0.5,-0.8 1.3,-1.9 0.8,0.3 1.4,-0.7 1.1,0.3 1.1,0.9 2.4,0.1 1.4,-1.4 -0.4,-1.5 -0.4,-1.6 -0.6,-1.4 -0.8,-0.9 -0.3,-0.3 -0.2,-1.3 0.5,-1.6 -0.1,-1.4 -0.6,-1.1 0.2,-2.3 -0.7,-1.4 -1,-1.8 -1.5,-1.7 -1,-0.6 -1.3,-1 -0.3,-1.1 -1.5,-0.3 -1.1,-0.9 -1,-0.2 -1,-0.6 M237.7,680.7l0.7,1.6 0.1,1 1.1,1.1 0.6,0.3 0.1,0.8 0.3,1.6 1.1,1.8 0.8,2.3 -0.4,1.4 0.1,1.5 1.3,-0.3 2.2,-0.1 0.7,-0.8 1.8,1.9 2,0.5 1.9,-1.7 1.2,-0.3 0.9,0.2 1.1,-0.2 0.4,1.4 1.1,0.4 0.3,1.5 1.3,0.4 1.1,0.5 2.2,-0.3 1.5,0.3 1.7,-0.6 0.4,-0.1 -1,-1.3 -1,-2 -0.4,-1.7 -0.5,-1.5 -0.3,-2.1 1,-0.8 0.5,-2.2 0.1,-1.1 1.2,-1.1 -0.8,-0.8 -0.3,-1.5 0.2,-1.3 0.1,-1.7 0.8,-0.5 1.2,-1.1 -0.9,-1.6 -0.2,-1.7 -1.1,-0.8 -0.5,-1.3 -1.5,0 -1,-0.7 -1.7,-0.8 -0.9,-0.8 -1.1,-2 -0.2,-0.5 -0.7,-0.9 -2.4,-0.5 -1.5,-1.6 -1.3,0.4 -1.5,-0.5 -1.1,1.4 -0.8,1.3 -1.7,0.1 -0.7,0.6 -1.2,-0.2 -1.2,0 -1,0.5 -0.2,0.8 -1,0.9 -0.8,0.5 -1.7,0.6 -1.4,0.2 -1.5,0.5 M265.7,696.3l0.3,0.3 1.5,-1.4 1.6,-0.7 0.2,-1.1 0.5,-0.9 1.3,-0.6 0.9,-1.3 1.1,-1.3 1.4,0.7 0.4,1.3 0.2,0 0.9,-0.1 0.5,0.9 1.9,0.3 1.9,0.7 1.8,0.5 0.8,0.3 0.7,-0.8 0.6,-0.4 0.9,-0.9 1.5,-0.2 -0.5,-1.5 0.5,-1.7 0.8,-1.3 -0.3,-0.5 -0.5,-1.1 -1.1,-1.7 -0.3,-2.4 -1.1,-2.7 -0.4,-1 -0.9,-0.9 -1.3,0.2 -0.4,-0.4 0.1,-0.5 0.5,-1.1 0.6,-0.7 0.1,-1.8 1.1,-1.8 1.1,-1.3 1.1,-0.2 1.1,-0.8 -0.5,-0.8 0.6,-0.7 1.2,-1.6 0.5,-1.5 -0.2,-1.8 -0.7,-1.5 -0.8,-1.5 -1.6,-1.2 -1.1,-0.2 -2,-0.3 -2,-0.3 -0.6,1.4 -1,1.4 -0.6,0 -0.6,0.9 -1.3,1.8 -0.7,0.7 -2,-0.4 -1.3,0.6 -1.5,0.3 -0.7,0.2 -1,1.6 -1.1,0.2 -1.5,1.9 -0.2,1.6 -0.6,1.7 -1.8,0.8 M234.3,666.7l0.5,-1.2 1.2,-0.6 -0.2,-1 -0.1,-0.5 0.9,-1.1 1.7,0.1 1.3,-0.7 1.7,-0.1 2,1 -0.7,0.2 0.2,0.5 0.1,1.5 0.3,0.8 -1.5,-1.7 0.2,-1.2 0,-1 1,-1.4 1.1,-2.1 0.5,-0.9 0.5,-0.7 0.2,-1 0.4,-1.2 0.5,-1.4 1.1,-1.2 2,-0.9 0.9,-1.2 1,-0.9 0.1,-1.6 1,-1.1 -0.5,-1.2 0.2,-1.5 -1,-0.6 -1.8,-0.1 -1.7,0 -0.9,-0.8 -2,-0.6 -1,0.5 -2.2,0.3 -1.1,-0.3 -0.4,0.8 -0.9,0 -1.3,-0.9 -0.8,-1.7 -1,-0.9 -1.6,0.1 -0.3,-0.4 -0.8,-0.1 -1.9,-0.5 -1.1,-0.9 -1.3,-0.1 -1.2,0.4 -1.6,-1.5 -0.6,-0.7 -1.2,1.2 -0.7,0.4 -1,0.6 -0.6,1.7 0.3,2.1 0.1,1.8 0.3,1.9 1.3,1.3 0,1 0.8,0.8 -0.6,1.2 -0,1 0.2,1.8 0.9,2.2 -0.7,1.6 -0,0.9 1.5,1.4 M280.3,657.7l-0.7,-2.2 -1,-2.3 0.1,-1.2 -0.4,-1.5 0.2,-1.6 0.5,-1.3 -1,-1.5 0.3,-0.5 -1,-1.2 -0.3,-1.4 -1.3,-0.3 -0.6,-1 -0.8,-1.1 -0.2,-0.5 -0.7,-0.9 -0.1,-1.4 -1.7,-0.2 -0.8,-1.7 -0.7,-0.5 -1.3,-1.4 -1.2,-1.1 -1.4,-1.1 -0.9,-1.1 -0,-0.2 0.9,1.1 -0.7,0.7 -1.3,1.5 -2.1,0.8 -1.6,-0.6 -1.4,0 -1.7,-0.5 -1.7,0.6 -0.1,0.8 -0.3,2.5 -0.7,0.9 -1,1.6 -1.1,1.1 -1.2,1.3 M242.7,624l1.4,0.1 0.3,0.4 1.3,1.4 -0.7,0.9 0.6,1.5 -2,1.6 -2.1,-0.4 -1.2,0.1 -1.4,-0.3 -0.6,-1.4 -2,-0.6 -0.1,-1.3 -0.9,-0.6 0.1,-0.4 1.1,-0.3 1.6,0.6 2,-0.1 1.1,-0.3 1.1,-0.9 M266.3,630.3l-0.4,-2 -1.8,-1.6 -1.5,-0.8 -1.5,-0.2 -1.6,0.2 -1.5,-0.3 -0.5,-0.4 -0.7,-0.9 -0.8,-2.5 -0.7,-1.3 -1.1,-1.4 -0.8,-1.2 -1,-0.4 -0.1,-1.2 -0.8,-0.8 -2,0.3 -1.4,-1.1 -1.8,-0.8 -0.7,-0.2 -1,-1 -1.4,0.5 -1.5,-1 -1,0.2 -1.7,0.2 -2,-0.7 -0.9,0.5 -0.7,-0.6 -0.9,1.1 -0.4,1 -0.7,0.7 -1.1,0.7 -1,-0 -1.6,-0.7 -1.4,-0.7 -1.5,1.3 0.2,0.4 0.2,1.3 -1.1,0.7 -0.3,1.5 -0.9,1.4 -0.6,1.2 -1.6,1.5 -0.6,0.8 -0.8,1.1 -0.9,1.7 -2.1,1 0.4,1.1 1.9,1.2 1.6,2.1 1.2,1.5 0.5,1.7 0.8,-0.1 0.6,-0 M273.3,637.3l0.7,-0.7 1.1,-1.3 0.3,-0.8 0.5,-0.7 1.3,-0.7 0.4,-1.6 0.5,0.1 0.6,-0.7 0.1,-1.6 0.9,-0.6 2.4,-1.8 1.6,-0.9 2.1,-0.3 0.9,-1.4 0.5,-0.6 1.1,-1.2 1.2,-0.5 1.4,-1.1 0.8,-1.5 0.8,-0.8 0.8,-1.6 0.1,-0.9 0.9,-0.3 0.9,0.1 1.3,-0.3 -0,-1.9 0.8,-1.6 1.5,0 0.8,-1 2.1,-0.8 1.1,-0.7 1.2,-1.3 M304.3,607.3l-0.8,0.4 -0.2,2.7 -0.5,-0.8 -0.5,-1.9 -1.7,-0.3 -1,0.7 -1.8,0.7 -1.4,0.8 -1.5,0.1 -1.1,0.2 -1.2,1 -1.1,-0.2 -1.7,-0.3 -1.4,-0.2 -2.2,-0.1 -1,-1.2 -1.3,-0.9 -1,0.4 -1,0.3 -1.1,0.4 -1,-1.5 -1.9,-0.4 -1,-1 -1.5,-0.9 -2.1,-0 -1.1,0.6 -1.5,-1 -0.2,-0.7 -1.6,-1.3 -1.2,0.6 -1.6,1.1 -1.7,0.6 -1.4,1.4 -0.6,1.6 -0.1,0.8 -0.7,1.4 -1.1,1.2 -1.2,1 -0.9,1.5 -1.7,0.9 -1.8,0.6 -1.5,-0.2 -1.4,0.6 -0.3,0.3 M279.7,649l1.1,0.2 1.6,-0.4 1,0.2 0.9,-0 1.6,-0.6 1.9,-0.5 1.4,0.5 1.2,-2.1 1.7,-0.5 0.7,-1.2 1,0.4 0.4,1.8 0.4,0.7 1.4,-1.6 0.7,-0.2 1,-0.3 1.6,-1.5 1,-0.9 1.1,-0.5 1.1,-1.5 1.2,-0.5 0.8,-0.5 1.5,0.3 2.4,-0.2 1.6,-0.1 M261.3,575.7l0.8,1.4 -0.1,1.1 1.6,1.2 1.2,0.7 0.9,0.3 0.6,1.2 -0.1,0.5 -0.3,1.1 0.4,1.1 -0.3,0.8 0.7,1.3 -0.7,1.4 1,1.5 -0.6,1.8 0,1.2 0.6,2.3 1.5,0.4 0.6,0.7 0.5,1.1 -0.4,0.7 -0.8,1 0,2.6 -0.1,1.9 M287.7,691.3l-0.1,2.2 0.4,0.8 1.2,0.5 1.6,0.1 1.5,0.7 1.1,1.2 0.2,-0 1.2,1.2 1.3,0.6 2,0.2 1.9,-0.1 M321.7,662l-1.6,-0.1 -2,0.8 -0.5,1.8 -0.8,0 -0.4,0.9 -0.7,0.4 -0.4,1.1 -1.2,0.3 -1.1,1.1 -0.7,1.8 -0.3,1.7 0.3,2.2 -0.3,0.5 -1.3,0.5 -1.6,0 -0.6,1.2 -0.7,1.3 -1.1,0.2 -1,-1 -1.7,0.4 -0.3,-1.2 -1.4,0.5 -1.4,-0.6 -1.1,0.3 -2.1,0.6 -1.3,0.8 -1.4,-0.3 -0.8,0.6 -1,-0.6 -1.1,0.6 -0.5,0.9 -1.5,1.5 -1.4,1 -1.4,0.3 -1.6,0.2 M186.3,635.3l0.5,0.5 0.7,0.1 0.9,0.2 0.5,1.1 2.4,-0.2 1.6,2 -0.2,1.3 -0.6,1.8 -1.4,0.6 -0.5,-0.2 -1.3,-0.5 -1.5,0.3 -1.1,0.3 -1.5,-1.4 -0.7,-1.8 0.1,-1.3 0.5,-0.9 0.7,-1 0.6,-0.9 M182,636.3l0.9,1.3 0.6,1 0.3,1.5 0.1,1.1 0.6,0.9 0.7,0.4 1.5,1.3 0.1,0.7 1,1.1 0.9,0.5 1.3,1.4 -0.1,2.3 0,1.6 0.6,1.6 1,1.6 0.7,1 1.3,0.8 0.2,-1.2 0.3,-2 -0.5,-2.2 0.2,-1.2 0.8,-2.1 0.8,-1.2 0.6,-1.2 1.2,-0.3 0.5,-2.1 1,-0.6 0,-1.4 1.3,-0.5 1.4,0.1 2.1,-0.2 1.1,-1.5 2,-0.8 1.5,-1.4 1.8,-0.8 1.1,-1 0.4,-1.4 1.4,0.5 1,-0.1 1,0.3 0.7,-1.3 1,-1.1 0.9,-0.9 1.1,-0.7 1.3,-1.1 M219.7,628l-1.3,-0.9 -0.8,-0.1 -1.4,-0.3 -2.1,-0.4 -2.1,-0 -2,0.7 -1.9,0.1 -0.7,-0.5 -1.9,-1.3 -0.6,-1.2 -0.8,-0.4 -1.8,-0.7 -0.4,-0 0.2,-1.4 0.2,-0.9 -0.1,-0.7 -1.1,-0.2 -0.5,-0.1 -1.2,-0.5 -0.6,-1.3 -1.2,-1.2 -1.1,-1 -1.3,-1.2 -0.9,0 -0.9,-0.2 -1.4,-1 M173.7,656.3l1.6,-0.1 1.4,-0.3 2.2,0.2 0.7,0.8 0.8,0.5 -0.8,2.1 -0.9,1.1 -1.3,1.2 -1.8,1.3 -0.4,0.6 -0.2,0.8 -1,0.6 -1.4,-0.3 -0.9,-1.8 -0.4,-1.7 0.6,-1.6 -0.2,-1 1.3,-1.3 0.3,-0.1 0,-1 M154,668l0.3,0.5 1,1 1.1,1.5 1.3,0.3 1.5,0.7 1.3,0.6 1.5,0.1 0.7,0.5 0.4,0.8 1.7,0.3 0.8,0.5 0.4,1.6 1,2 -0.2,1.5 1.5,0.5 1.4,0.6 1.7,0.4 0.8,-0.4 1.3,-1.1 0.7,0 1.8,-0.8 0.4,-0.6 1.2,-1.3 1.5,-0.6 1.1,-0.6 1.5,-0.3 1.8,-0.3 1,-1.9 0.9,-1.5 1.1,-1.6 1.8,-1.1 -0.2,-0.5 0.7,-1 1,-1 1.3,-1.6 0.7,-1.1 1.7,-1.1 0.5,-1.7 0.4,-1.4 0.9,-1.2 -0.3,-1.1 -1.7,-1.3 M231.7,590.3l-0.7,1.4 -0.8,0.7 1.4,1.7 1.1,0.4 0,2.1 0.6,1.7 1,1.7 1,1.3 0.4,1.7 0.4,1.6 -0.7,1.3 -0.5,1.2 0.6,0.6 0.5,1.6 0.3,1.4 M208.3,597.7l1.4,0.6 1.7,-0 1,0.3 1.5,-0.3 1,-0.7 0.5,0.7 0.3,1.1 -1,1.4 -0.7,1.7 -0.3,0.8 -0.5,-0.5 -0.7,0.8 -1.8,-1.5 -1.7,-0.6 -1.6,-1.3 0.6,-2.2 M198.3,586l1.6,0.4 1.6,-0.4 0.8,-0.8 1,1 0.9,1.2 0.1,2.1 -1.3,1.7 0.2,1.9 -1,0.1 -2.2,-0.9 M184.3,675l0.8,0.9 0.5,0.8 1,0.3 1.1,1 1.1,0.3 1.8,0.4 1,1.3 1.5,0.1 1.6,0.8 1.6,1.5 1.2,0.1 2,0.4 1.5,0.5 1.5,0.9 0.2,0.1 0.7,0.4 1.3,0 0.3,-1.3 1.3,-0.5 M217,665l-1.3,-0.3 -1.4,-0.3 -1,-0.3 -1.8,-0.2 -1.2,-0.5 -0.7,-1.3 -0.9,-1.3 -1.5,-1.2 -0.5,1.2 -1.3,0.3 -0.8,0.4 -0.7,-0.1 -1.1,-0.5 -1.4,-0.3 -1.9,0.2 -0.9,0.9 -1.8,0.8 -1.3,-0.4 -1.8,-1.1 M206.3,649l2.1,-0.2 0.9,1.2 1,-0.5 0.5,-0.1 1.1,1.3 1.4,0.7 -0.6,1.4 -0.4,1.3 -1.5,-0.5 -1.8,-0.2 -1.4,1.2 -2.1,-1.1 -0.9,-0.4 -0.2,-0.9 -0.4,-1 1.2,-0.6 0.8,-1.6 M171,681.7l0.7,1.6 0.1,1.2 0,-0 -0.7,1 0,1.8 -0.3,2.4 -0.1,1.8 -0.7,1.8 -0.3,1.8 0.2,1.1 0,1.5 0,0.5 -0.8,2.2 0.1,1.3 -0.2,1.7 0.9,1.2 0.7,1.1 -0.7,2 0.1,1.6 -0.4,0.8 0.2,2.3 0.4,1.3 0.7,0.7 1.7,-0.7 1.1,-0.1 1.8,-0.1 1.6,-0.4 0.8,-1.2 0.8,-0.2 -0.2,-1.9 1.4,-0.8 1.2,0.7 0.6,0.1 1.3,-0.6 1,0 1.1,0.2 1,0.6 2.3,0.1 1,-0.5 1.9,-1.1 0.8,-1.2 0.5,0 1.9,0.9 1.4,-0.5 0.6,-0.5 1.2,-1.4 0.4,-2.4 0.2,-1.8 1,-1.6 2.1,-0.5 2,0 1.1,1 1.5,0 2.4,0 1.3,0.2 1,-1.3 0.3,-1 -0.7,-0.8 0,-1.2 0.4,-2 -0.3,-1 -0.9,-2.1 -0.6,-1 -1.5,-0.8 -1.2,-1.3 -0.9,-1.2 -0.6,-1.3 M124.7,745.7l2,-0.3 1.8,2 1.7,-0.1 1.3,0.6 1.2,0.7 1.1,1.3 1,0.7 0.1,0.4 1.1,-0.1 0.2,0.1 0.2,1.4 0.6,1.1 0.7,2 0.5,1.8 -0.1,1.3 0.8,-0.2 0.9,1 1.6,1.9 1.3,1.3 1.2,0.9 1.2,-0.5 1.7,0.1 0.8,0.4 0.6,0.9 1.1,0.8 0.9,-0.3 0,-1.2 0.7,-1.1 0.9,-0.4 0.5,-1 1.6,-0.9 0.9,-1.6 0.9,-1 0.1,-1.2 0.8,-1.2 0.3,-0.6 0.8,-0.2 0.7,-0.7 1.1,-1.6 0.9,-1.7 1.4,-0.9 1,-1 0.7,-0.5 -0.6,-1.6 0,-1.5 -0.2,-1.2 -0.6,-0.9 -0.1,-1.3 0.1,-1.3 -0.1,-1.5 -0.7,-1.9 0.6,-1.3 -0.3,-1 0.1,-1.2 -0.2,-1.7 -0.7,0.5 -1.3,0.6 -1.2,0.5 -1.7,1.2 -1.9,-0.8 -0.8,-0.1 -1.6,1.4 -0.7,0.2 -1.5,0.6 -1.4,-0.6 -1,-0.7 -1.3,0 0.8,0.6 0.6,0.8 -0.4,1.2 -0.3,0.8 -1.6,1.9 -1.1,1.6 -1.5,0 -1.2,-1.8 -1.1,-0.7 -1.1,-1.4 -0.7,-1.3 -0.7,-1.9 0.2,-0.4 -1.3,0.8 -1.3,0.6 -1.8,-0.6 -1.5,0.1 -2.2,1.1 -1.8,1.2 -0.4,0.7 -0.3,0.2 M138.7,733.3l1.6,0.4 1.4,-0.4 0.4,1.2 1.4,-0.1 1.8,-0.1 M161.7,731.3l0.6,-1.9 0.4,-1.4 -0.4,-1.3 0.2,-0.5 -0.3,-1.4 1.3,-0.5 0.7,-0.4 1.2,-0.6 1.1,-0.9 1.9,-0.3 0.3,-1.9 1.2,-1.9 0.3,-2 0.5,-1.2 -0.7,-1.3 0,-0.3 -0.7,-0.2 -1.2,-0.9 -1.5,-0.6 -1,-1.5 -1.6,0.4 -2.1,0.1 -0.7,-0.2 -1.9,-0.1 -0.9,-1 -1.1,-1.3 -1.1,-1.6 -1.6,-0.1 -1.5,1.8 -1.5,-0.6 -1.9,-0.6 -1.5,0.3 -2.2,-0.1 -0.5,-0.5 -1.5,0.2 -0.4,-0.1 -0.3,0.4 -1,1.3 -1.8,-0.5 -1.9,-1.2 -1.1,-0.3 -1.2,-0.6 M170.7,718.3l0.4,2 0.4,1.3 1.2,0 2,1.1 1.7,0.7 1,0.3 1.3,0.8 1,0.8 1.7,0 1.5,0.3 1,1.2 0.9,1.1 1.3,1.9 1.2,0.3 0.9,0.1 1.9,0.8 -0.4,1.4 0.6,0.8 -0.6,1.3 0.7,0.5 2,0.6 1.1,0.8 1.8,0.8 1.9,0.4 0.9,-1.4 0.4,-0.8 -0.5,-1.6 0.9,-1.1 1,-0.9 0.5,0 1.4,-0.7 1.3,-0.4 0.6,-1.6 1.5,-1.3 0.1,-1.5 -0.3,-1.6 -0.2,-2 0,-1 -0.3,-0.8 0,-1.5 0.1,-1.2 -0.4,-1.3 -0.3,-1 -1,-2.1 -0.7,-1.6 0.1,-1.9 1,-2.2 0.4,-1.4 1.2,-1.1 -0.3,-1.4 0.9,-0.6 1.4,-1.6 0.4,-0.4 0.4,-0.9 M164,748l1.2,1.4 1.6,1.2 0.6,0.4 1.9,-0.2 0.5,0.7 1,0.3 0.8,2.1 1.3,0.8 0.9,0 0.8,0.8 0.7,0.9 0.6,1 2.1,0.5 0.7,0.7 1.5,0.2 -0.4,1 0.4,1.2 0.7,0.2 2.6,-0.5 1.8,0.6 M190,759.3l0.4,-2.5 0.8,-1.4 0.8,-0.6 0.7,-1.6 0.6,-0.7 0.3,-1.7 1.2,-1.1 0.7,-0.6 1.3,-0.1 1.4,-0.4 0.6,-1.1 0.7,-0.4 0.3,-1.6 0.1,-0.6 0.1,-1.3 -0.1,-1.1 -1.1,-1.3 -1.3,-0.2 -1.3,-1.1 -0.5,0 -0.7,-1.5 -1.7,-1.4 M192.7,755.3l1.2,0.4 1.6,0 1.6,0.3 0.7,0.5 0.8,-0.7 1.3,-0.4 1.4,-0.9 1,-0.2 1.4,-0.4 1.1,0 0.6,-1.1 0.9,-0.2 0.9,0.4 1.8,0.8 1.8,1.3 1.6,-0.1 1.2,1.1 1.5,-0.1 1.3,-1.4 0.8,-1.2 1.7,-0.8 1.2,-0.1 1.1,0.5 1.1,-0.2 1.5,-0.5 1.7,0.2 2.3,0.3 1,-0.6 -0.5,-2.1 -1.1,-0.5 -0.6,-1.5 -1.7,-2.1 -0.9,-2.5 -0.1,-1.6 0.1,-1.1 0.3,0.1 0.4,-1.5 0.7,-0.3 -0.2,-1.9 -0.9,-1 -1.2,-0.8 -1.2,-0.2 -1.4,0.2 -1.4,0.1 -1.7,-0.4 -1.5,-0.9 -1.1,-0.8 -0.8,-0.8 -0.6,0.1 -0.7,-0.3 -1.5,0.5 -1.3,-0.1 -1,-1.5 -1.1,-0.6 -0.5,-1.5 -1.5,-1.4 -0.5,-0.5 M234.3,771l0.5,-1.1 1.6,-1.1 -1,-1.8 -2,-0.2 -0.5,-1.5 -0.5,-1.8 0.3,-1.5 1.3,-1.9 -0.4,-1.3 0.4,-1.3 0.5,-0.3 -1.6,0.6 -1.5,-0.4 -1.9,-0.7 -2,-1.5 -0,-1.8 0.2,-1.1 M150,780l0.2,-1.5 0.1,-1.5 0.3,-1 -0.6,-1 0.5,-0.9 0.1,-1.7 0.3,-1.4 -0.5,-1.5 -0.4,-2.1 0.1,-0.4 -0.8,-0.7 M242.7,694l0.3,1.8 -0.3,1.7 -0.6,0.9 -0.6,0.3 -0.7,0.4 -1.4,1 -0.9,0.7 -1.9,1.1 -1.8,1.4 -0.8,0.1 -1.8,0.9 -1.2,0.8 -0.6,1.2 0.6,1.1 1.5,1 0.6,-0.4 1.7,-0.6 0.3,0.1 1.4,1.4 1.8,1.5 0.7,1 -0.1,0.9 -1.1,1.2 -1.3,1.4 0.9,1.4 0.6,1 0.1,0.7 0.4,1.4 -0.7,0.9 -0.2,0.8 0.2,1.4 0.6,0.1 2.3,-0.3 0.9,2 1.6,1.1 1.3,0.8 1.1,0.1 1.7,-0.1 0.3,0.1 1.7,0 1.5,0.2 2.2,-0.2 0.5,-1.1 1.1,-1.2 1.1,-0.7 0.1,-1 1.2,-0.6 1.2,0.2 2,0 0.6,-1.7 1,-0.9 0.3,-1.4 0.9,-0.2 -1,-1.3 -1.7,-1.5 0.2,-2.2 0.6,-1.6 0.5,-1.2 -0.6,-1.1 -0.1,-0.9 -0.3,-0.1 0.9,-1.5 0.9,-0.6 -0.4,-1.6 -0.1,-1.6 0.7,-1.7 1.4,-2.3 1,-0.9 0.7,-0.6 M209.7,700l1,0.4 1.6,0.6 1,-0.1 1.8,0.2 1,0.3 1.8,0.3 1.5,0.2 1.5,-0.2 1.1,-0.3 1,1.1 1.2,0.1 1.1,0.6 1.3,0.2 1.8,0.3 1.1,0.2 0.8,0.4 M225,736.3l0.5,-1.6 0.3,-0.5 1.2,-0.8 1.5,-0.5 0.5,-0.8 0.5,-0.7 0.8,-0.9 1.7,-0.5 1.2,-1.9 1.1,-1.5 1.5,-0.5 1.6,-1.1 1.3,-1 M263.7,717.3l1.6,0.2 1.6,0.8 1.2,-0.3 1.9,0.8 0.4,0.7 0.7,0.9 0.9,-0.6 1.7,0 0.7,0.1 0.5,0.2 1.9,0 1.3,0.3 1.7,-0.8 0.9,-0.2 0.6,-0.6 1.7,0.7 1,0.8 1.6,-0.5 1.5,0.3 1.3,0.5 0.9,0.1 1.1,0.9 0.5,0.2 1.3,0.9 2.5,0.6 M260,722l0.1,1.5 -1,1.6 -1.8,-0.3 -1.5,0.8 -1.8,0 -0.3,1.6 -1.3,1.8 -0.9,1 0.9,1.4 0.3,1.4 1,0.5 0.8,0.7 1.8,1.3 0,0.4 -0.2,2 -0.2,0.4 -0.1,1.4 0.3,1.5 0,1.8 0,0.9 0.2,1.9 -0.1,1.1 0.4,1.8 1.1,1.3 1,0.3 1.3,1 1.3,-0.4 1.5,0 1.3,-0.9 1.9,-1.7 1.1,-0.3 1.6,-0.5 1.7,0.2 1.7,0.2 0.8,0 2.1,0.6 1.4,0.9 1.4,0.4 1.4,0.5 0.6,1.2 -0.1,1.6 0.5,0.3 0.5,-0.5 0.9,-1.7 2.1,-0.7 1.7,-0.5 1.5,0.2 1.3,0.2 1.8,-0.1 1.7,-0.4 1.3,1.3 1.7,1.7 M268.3,786.7l-0.7,-0.5 -0.9,-0.1 -1.2,-0.5 -0.4,-0.7 -0.6,-0.8 -0.8,-1.3 -0.4,-1.9 -0.3,-1.2 -0.6,-1.6 -0.1,-0.7 -0.1,-1.5 -0.6,-1.7 0.1,-1.8 -0.1,-1.9 0.2,-0.6 0.5,-1.5 1.3,-0.7 -0.9,-0.7 -1.8,-0.8 -1.1,-0.7 -1.1,-1.4 -1,-0.8 -0.5,-1.1 0,-1.4 -1.7,-0.7 -0.6,-1.4 -1.2,-0.9 -1,-1.7 -0.2,-2 -0.1,-1.3 -1.1,-0.9 -1.3,-0.8 -2.2,-0.5 -1.4,0.7 -0.8,1.5 -0.8,0.3 -0.1,1.3 -1.7,0.2 -0.8,0.6 -1.6,0 -1,0.7 -0.7,-0.1 -1.6,1.1 -2.3,0.4 M256.3,747l-1.3,0.7 -1.1,0.9 -0.9,-0.6 -0.3,-1.6 -0.5,0.4 -0.7,1 0,1.3 0.5,0.9 -1.7,1.3 M74,589l1.4,0.4 0.2,-0.1 1.5,0.3 2,0.2 1.8,-0.5 0.8,0.2 2,0 1.1,-1.4 2.1,0.2 1.4,-0.5 1,-1 1.6,-0.4 1.2,-1 0.6,-0.4 1.2,-1.5 -0.1,-1.8 0.4,-1.7 -1,-1.1 0.2,-0.9 -0.2,-1.5 -0.6,-1.5 0.4,-1.7 -0.5,-1.6 1.3,-2 0.4,-1.3 0.8,-0.2 1.1,-0.1 1.6,-0.5 0,-0.9 M94.3,584l1.4,0.9 0.9,1.5 0.6,1.7 0.2,1 0.5,-0.1 1.5,-1 1.9,-0.1 2.6,0.3 2.2,0.7 1.3,0 1.6,-0.3 1.2,-0.4 1,-0.1 1.2,0.2 0.9,0.6 1.2,0.3 1.4,-0.4 0.7,-1.6 1.4,-2.1 1,-1.1 M85.3,609l0.6,-0.8 1.1,-1.1 1.5,-1.3 1.4,-1.6 0.6,-0.7 0.6,-0.6 1.2,-1.4 1.4,-1.1 1.3,-1.5 2.4,-1 0.1,-2 -0.1,-1.2 -0.9,-1.2 -0.4,-1.6 0.3,-1.6 0.9,-1 M97,594.3l1.2,0.6 1.7,1.1 0.4,1.7 0.1,0.9 -0.3,1.7 1,0.6 0.9,1.7 1.2,0.6 -0.5,1 -0,0.7 1.8,-0.1 1.1,-0.7 1.1,-0.6 1.1,-0.6 0.1,-1.2 2,-0.7 1.1,-1 1.2,-1.1 0.4,-0.5 1.4,1 2.7,0.1 0.8,-0.9 1.2,-0.8 0.8,-1.6 1,-0.6 0.3,-2.1 0.5,-1.2 M104,614.3l-0.8,-1.8 -0.4,-1 -0.1,-2.1 -1,-1.4 -1.4,-1.6 0.9,-0.6 1.8,-0.8 M392.7,450l1.6,0.1 0.8,0.4 -0.1,0.8 0,2 M438.3,404.3l-0.6,1.6 -1.4,-0 -2.1,0.2 -1,0.2 -1,-0.5 0.5,0.5 M461.3,347.2l1,0.9 1.4,-0.1 2.1,0.2 1.3,0.7 1.4,0.1 1,1.8 2,0.8 0.8,0.7 0.7,0 1.1,0.3 0.3,-0.6 1.4,0.3 0.6,-0.3 1.5,-0.7 2,0 1.3,0.3 1,1 0.8,-0.4 1.4,1.1 1.7,1 1.5,0.2 1,1.1 1.3,0.7 0.3,0.8 1,0.5 0.8,-0.2 1.7,0.7 1.5,1.1 0.7,0.5 1.4,0.2 0.7,1.1 1.1,0.7 1.3,0.9 0.8,0.3 1.5,1.1 0.9,0.1 1.6,1 1,1.4 1.9,-0.5 0.6,0.2 0.3,1.3 1.5,1.1 0.1,0.9 -0.1,1.1 -0,1.5 0.1,0.7 0.6,1.9 1,1.1 -0.4,1 -0.4,1.5 -0.2,1.6 -1.9,1 -0.2,1.8 -1.3,0.7 -0.7,2 -1.1,0.7 -0.6,0.4 -1.5,0.2 -1,-1 -2,0.6 -1.3,0.9 -2.3,-0.2 -1.6,0.2 -0.8,-1.1 -0.4,-0.7 -1.1,0.2 -1.4,-0.2 -0.6,0.4 -2,0.4 -1,0.2 -2.2,0.5 -1.6,0 -1.8,0.2 -1.6,0.9 -1.3,0.9 -1.5,-0.1 -1.5,0.4 -0.6,-0.8 -1.4,-0.1 -0.7,-1.3 -0.8,-0.8 -0.4,-1 -1.5,-0.5 -1.7,-0.9 -1.5,-0.6 -1.1,-1.5 -1.3,0.2 -2,-0.7 -0.8,0.1 -1.3,-0.2 -0.5,-1.3 -1.4,-0.4 0.3,-0.9 -0.2,-1.2 -0.4,-0.8 -0.5,-0.7 0,-1.7 0.7,-1.5 -0.6,-1.6 0,-1.7 -0.4,-1.9 -0.4,-1.7 0.3,-1.5 0.6,-0.9 -0.5,-1.8 -0.5,-1.4 -0.1,-1.2 0.1,-1.7 -0.2,-1.1 -0.1,-0.8 -0,-1.4 -0.6,-1.1 -0.1,-0.6 0.4,-1.6 0.9,-0.5 0.7,-1.5Z M447.9,403l1.6,-1.4 1.2,-1.9 1.2,-0.5 0.9,-1 0,-0.9 1.7,-0.7 1.6,-0.6 1.1,-0.5 1.1,-0.1 1,-0.3 1.4,-0.2 0.1,-1.4 1,-1.6 1.4,-0.6 1,-0.8 1.4,-0.2 1.7,0.4 1.5,1.2 1.8,0.4 1,0.2 1.3,-0.8 0.2,-0.6 1,-0.9 1.1,-1.2 1.6,0.1 0.5,0.3 1.5,-0.7 1.3,-0.7 1.7,-0.3 0.8,-0.4 1.6,-0.5 1.2,0 0.9,-0.5 1.7,-0.3 2.4,0 1.2,0.6 1.2,0 0.7,0.1 1.8,0.4 2,1 1.7,-0.8 2.1,-0.4 1.5,-0.2 1.3,-1.1 1.2,1 0.6,1.5 1.1,1.5 0.9,0.9 0.9,1 0.7,0.7 0.5,0.7 1,1.5 -0.4,1.8 1.2,1.2 0,1.2 0.4,1 -0.2,1.7 0,0.6 0.6,1.3 0.6,0.3 0.2,1.3 0.5,2.2 0.1,1.5 -0.3,1.6 -0.6,1.5 -0,1.4 0.1,1.4 -0.3,0.8 -0.1,1.5 -0.5,1.7 -0.4,0.8 0.6,1.6 0.4,1.3 0.7,1.1 -0.1,1.9 0.8,1.7 -0.4,1.5 0.2,1.5 -0.3,1.8 -1.6,0 -1.9,0.4 -1,-0.4 -0.9,-0.1 -2,0.4 -1.5,0.4 -1.3,0.8 -1.5,0 -0.2,0.6 -0.9,-0.5 -1.2,-1.1 -1.1,-1.3 -1.8,-2.2 -1.2,-1.1 -1,-1.6 -0,-1 -0.8,-1 -0.1,-2 -0.8,-1.8 0.6,-1.9 0.8,-1 0.7,-1.2 0.5,-0.6 0.5,-0.5 0.8,-0.7 0.3,-1 -1.1,-2.1 0.2,-1.7 -1.1,-0.6 -1.3,-1.3 -1.6,-1.1 -1.3,-0.3 -1.4,0.5 -1.5,0.6 -1.7,0.1 -1.8,0.3 -0.9,0.1 -0.5,0.1 -1,0.4 -1.2,0 -0.7,0.7 -2,1.1 -1.3,1.5 -0.8,0.8 -1.6,0.5 -1.4,1 -1.5,0.1 -0.3,0.3 -1.7,0.5 -0.8,-0.4 -0.8,-0.3 -1,-0.9 0.4,-1 -0.4,-0.8 -0.8,-0.5 -0.7,-0.4 -1.7,-0.3 -1,0.1 -1.7,0.3 -1.1,0.5 -2,0.1 -1.3,0.9 -0.9,0.1 -0.6,0.5 -0.5,1.2 -0,1.3 -1.2,1.4 -1.7,1.5 -1.2,-2.1 -0.6,-0.9 -0.6,-1 -0.5,-1.7 -0.2,-1.4 -0.5,-0.8 0.2,-1.5 -0,-0.8 0.5,-1.1 -0.8,-2 -0,-0.5Z M514,414.6l0.9,-1.2 1,-1.3 1.2,-0.4 1.7,-0.2 1.7,-1.1 1.3,-1 1.7,-0.6 2.3,-0.5 1.6,0.8 0.8,1 1.3,0.8 -0.1,0.8 1.3,0.9 0.7,0.2 1.7,0.8 0.8,0.8 2.1,0.8 1.1,0.5 1.4,0.2 1.9,0.1 1.2,0.6 1.7,0.9 2,0.6 0.8,0.6 0.7,-0.4 1,-0.2 0.7,-1 1.7,0.1 1.7,0.6 2,1 -0.5,0.7 0.3,0.9 -0.5,1.4 0.2,1.4 -1.6,1.8 -0.2,1.4 -0.9,0.9 -0.2,1 0.2,1.6 -0.2,1.5 -0.6,1.7 -0.3,1.3 -1.5,1.1 -0.4,2.1 -0.9,1.6 -0.5,1.4 -1.3,1 -1,0.4 -0.6,0.9 -0.7,2.1 -1.3,0.1 -1.9,0.1 -0.7,0.5 -1.8,0.7 -2.4,0.5 -1.1,0.3 -1.3,0.5 -1.7,1.1 -1.2,0.5 -0.5,0.1 -1.6,1.1 -0.5,0.5 -1.1,-0.5 -1.5,-0.6 -1.2,-0.7 -1.6,-0.2 -1.5,1.1 -1.6,0.2 -0.8,0.7 -0.5,0.4 -1.5,-0.3 0.3,-0.7 -0.2,-1.5 0.2,-1.8 -0.4,-1.8 -0.5,-0.9 0.4,-1.6 -0.3,-1 -0.6,-1.9 -0.2,-1.4 -0.6,-1.2 -0.1,-1.4 0.5,-0.5 -0.1,-0.7 -0.1,-1.3 -0.4,-1.3 -0.1,-1.3 0.2,-1.7 0.3,-1.4 0.2,-1.3 0.1,-1.9 -0.4,-1.9 -0.2,-1.9 0,-0.5 0.7,-1.3 -0.2,-1 0.3,-0.7Z M553.2,416.4l1.5,0.5 0.5,-0.1 1.2,0.1 1.4,-0.7 2.1,-0.1 1.9,0.3 1.1,-0.6 1,-1.1 1.2,-1.2 -0.6,-1.5 0.7,-1.2 1.3,-0.5 0.5,-1.2 0.7,-0.7 1.2,-1.5 0.2,-1.6 1.2,-0.9 1.1,-0.9 1,-2 1.4,-0.5 1.2,-0.6 1.2,0.7 2,0.8 2.5,0.5 1.8,-0.2 2.4,0.4 1.3,0.3 0.6,-0.9 0.1,-0.9 1.3,-0.5 1.6,-0.3 0.8,0 1.7,1.1 0.6,1.3 0.4,1.6 0.8,1.7 0.7,1.4 1.1,1.3 -0,1.5 0.5,1.5 0.6,1.4 -0.8,1.5 -1.1,1.5 0.1,1.2 -0.1,1.3 1.7,1.6 1.1,0.7 1.8,1.5 1,0.7 0.5,1.6 -0.2,1.1 0.4,1.4 0.4,1.2 0.5,0.5 0.6,1.4 0.1,1 1.2,0.7 0.2,1 1.2,0.7 -0.3,1.6 0.8,1.1 -1.3,1.4 -0.6,1.6 -0.8,1.5 -0.4,1.7 -0.7,1.5 -0.8,0.4 -1.2,1.1 -1.3,1 -1.6,1 -0.5,1 -1.8,0.6 -0.4,0.1 -1.1,0.6 -0.6,0.9 -1.4,0.4 -0.8,0.2 -1.5,-0.5 -0.2,0.3 -1.7,-1.4 -1.5,-0.5 -1.2,-0.4 -1.5,-0.6 -1.9,-1.4 -2.2,-0.6 -1.9,0.5 -1.5,0.4 -1.4,0.3 -1.5,0.2 -1.1,0.5 -1.3,-0.2 -1.1,-0.7 -1.3,-0.8 -1,0.3 -1.8,-0.4 -1.4,-0.2 -2.1,0.6 -1.9,-0.4 -1.8,0.3 -1.8,0.7 -0.9,-0.5 1.1,-0.4 0.4,-2 0.5,-1.5 -0.4,-1.8 -0.1,-1.1 -1.1,-1.2 -1.6,-0.4 -1.9,-0.1 -1.3,-0.3 -1,-1 0.1,-0.9 -0.3,-1.7 -0.5,-1.6 -0.2,-1.1 0.3,-1.4 0.5,-1.1 0.6,-0.9 -0,-0.9 0.4,-2.2 0.7,-1.1 0.2,-1.4 0.9,-1.4 1,-1.4 0.1,-1.2Z M375.3,298.5l1.3,-0.1 1.3,-1.4 1,0.5 1.9,-0.1 1.7,-0.5 0.9,1.2 0.9,2 0.5,1.2 0.4,0.8 1.5,1 1.3,1.3 1.6,0 0.8,-0.2 1,1 1,0.2 1.9,-0.7 1.3,1 1.1,-0.5 1.6,0.7 0.9,0.2 1,0.9 1.4,0 1.1,0.3 0.4,0.2 1,0.3 1.3,0.7 1.3,-0.3 1,-0.2 1.7,0.6 1.9,-0.5 1,0 0.8,-1 1.7,-1 1.4,-1.3 0.4,-1.1 1.1,-0.5 1.3,-0.7 0.7,-0.4 1.7,0.5 2,1 0.2,1.5 0.9,2 0.4,0.8 0.5,1.1 0.9,-0.3 1.7,0.1 2,-0.1 1.2,0.4 -0.3,1.1 0.2,1.5 -0.2,0.4 -0.9,1.1 -1.1,0.9 -1.3,0.9 -1.3,1.8 -1.2,1.5 0.3,1.7 -1.2,1.5 -0.4,0.7 -0.5,1.7 -1.2,1.5 -0.9,0.9 -1.9,1.1 -0.6,1.8 -1.6,0.2 -0.9,1.3 -1.1,0.8 -1.4,0.8 -0.8,1.4 -0.5,1.6 -0.1,0.9 -0.1,1.4 0,1.1 -0.7,1.6 -0.5,1.5 0.8,0.5 1.3,-0.1 1.6,0.1 0.8,1.3 0.6,1 0.7,0.7 -0.6,1.5 -0.3,0.5 -0.3,0.6 -1.8,0.5 -1,0.2 -0.4,1.4 -0.7,1.6 -1.1,1.1 -0.5,0.1 -1.5,-0.6 -1.2,-1.5 -1.3,-0.6 -1.8,-1.4 -0.7,-1 -0.9,0.5 -1.3,0.9 -0.9,1.2 -1.3,2.1 -0.9,1.8 -0.1,2 -0.1,1.1 -0.7,1.2 -0.9,0 -0.9,0.2 -1.1,-0.7 -1.1,-0.6 -0.8,-1 -0.7,-0.3 -0.8,-1.1 0.1,-2 -0.6,-1.9 -0.8,-1.2 -1.7,-2.5 -0.8,-1 -1.4,-1.2 -1,-0.3 -1,-0.1 -0.3,-0.7 -0.9,-0.9 -0.6,-0.2 -0.8,-1.1 -1.6,-0.7 -1.6,-0.8 -1.6,-1 0,-1.9 -0.6,-1.7 1.3,-0.5 1.3,0.2 0.7,-0.9 1.2,-0.9 0.7,-1.5 1,-1.8 0.8,-1.8 0.4,-1.1 0.4,-2.1 0.8,-1.3 -0.7,-1.7 -0.4,-2 -0.9,-0.9 -0.5,-1.4 -0.1,-1.6 -0.4,-1.1 -0.1,-1.8 0.5,-1.1 0.7,-0.7 1.3,-0.4 0,-1.7 -0.3,-1 -1,-0.9 -1.5,-1.1 -1.5,-1.6 -1.3,-1.2 -1.3,-1.1 -0.6,-0.8 -0.6,-1.3Z M397.9,358.4l0.9,-1.4 0.6,-1.6 1.2,-1.5 0.4,-0.9 1.2,-1.6 0.9,-0.7 0.8,-0.5 0.3,-1.3 1.5,0.8 0.9,0.4 0.7,0.9 1.5,0.5 1,0.2 1.1,0.7 1.8,-1.3 0.3,-0.5 1.4,-1.5 0.4,-0.4 1,-1.1 0.7,-0.3 1.3,-1.1 1.4,-1.1 0.8,-1.3 1.5,-0.7 1.6,-0.8 1,0.3 1.5,0.6 1.4,-0.5 1.5,0.8 2.5,0.6 0,1.4 0.6,1.5 0.2,1.4 -0.2,1.9 0.7,0.7 0.8,1.7 0.8,0 0.9,0.9 1.1,1.2 0.6,1.3 0.3,1 1.2,1.5 1.2,1 0.6,1 0.1,1.3 0.4,1.2 -1,0 -1.9,1 -1.7,0.6 -1.8,-0.3 -1.7,0.8 -0.4,0.6 0.2,1.2 0.1,1.7 -0.9,1.3 -0.2,1 -0.4,1.3 0.6,2.2 -0.7,1.7 -0.6,1 -1,1.9 -0.4,1.8 0.3,1.3 -0,1.6 -0.6,0.9 -0.9,1 -1.1,-0.2 -1.8,0.4 -0.7,-1.2 -1.6,-0.5 -1.2,-0.4 -1.5,-0.3 -0.7,-1 -1.8,-1.2 -1.7,-1 -0.9,-1.1 -1.7,-0.7 -0.5,-0.2 -1,-0.7 0.2,-1.7 -1.7,-1.1 -1.1,-0.4 -1.9,0.2 -1.3,0.1 -1.3,-0.3 -1.3,0.8 -1.3,-1 -0.7,-1 -0,-1.1 -1.2,-1.6 -1.1,-0.6 -2.3,-0.4 -0.6,-0.1 -0.9,-0.3 -0.8,-1 -1.4,-0.5 -0.7,-1.7 1.5,-0.1 1.6,-0.2 1.4,-1.3 1.7,-1 0.4,-0.7 -0.1,-1.7 -0.3,-1.5Z M315,554.7l2,0.5 1.2,0.8 0.8,1.6 0.8,0.5 0.3,1.1 0.7,1.4 0.8,0.6 1.6,0.2 1.1,0.4 1.7,0.2 1.6,1.5 1.8,0.9 1,0.4 0.7,1 0.5,0.5 0.4,1.2 0.8,1 0.1,0.9 0.4,0.5 1.3,1.7 -0.7,0.1 -0.1,0.5 -1.3,0.3 -0.6,-0.3 -1.9,-0 -1.4,-0.2 -1.3,0.7 -1.2,1.1 -0.4,1.4 -1.4,1.1 -0.4,2.1 -0.7,1.7 -0.2,1.3 1.1,0.7 -0.3,0.4 -0.3,0.9 -1.7,-0.4 -1.8,0.4 -1.9,0.7 -1.4,0.5 -1.2,0.3 -1.9,0.3 -0.8,0.3 -0.9,0.1 -0.9,0.9 -0.9,0.4 -1.4,0.1 -0.9,-0.7 -0.6,-0.6 -1.7,-0.6 -0,-1.4 -1.2,-1.3 0.5,-1.6 0.8,-1.4 0.3,-0.9 1,-1.6 -0.9,-1 -1,-1.5 -1,-1.2 -0.9,-1.1 -0.8,-1.6 -0.1,-1.2 1,-1.6 1.3,-0.9 0.8,-1.8 -0.1,-1.6 1,-0.7 0.5,-1.1 0.6,-0.3 1.3,-1.2 1.5,-0.1 1,-1.1 0.3,-0.7 1,-1.9 0.2,-1 -0.1,-1.3Z M410.9,335.5l0.8,-1.6 1.6,-0.5 0.6,-1 1.4,-0.6 1,-1.8 1,-0.8 0.3,-1.8 1,-0.8 1,-0.7 1.4,0.3 0.5,1.2 0.8,1.2 1,0.8 0,1.5 0.9,1.4 0,1.5 0.6,1.4 -0.1,1.3 0,1.1 -0.3,0.4 0.1,1.1 -1.1,0.9 -0.6,0.5 -1.1,1.3 -1.6,1.2 -1.2,1.5 -2.1,-0.3 -1.4,-1.5 -1.2,-1.1 -1.6,-0.2 -1.3,-1.2 -1.1,-0.5 -0.4,-1 0.4,-0.8 -0.3,-0.6Z M452.1,418.1l1.6,-1.3 1.7,-0.7 -0.3,-1.6 -0.5,-1.7 1.1,-1.6 0.1,-0.7 1,0.2 1.9,-0.8 1.2,0.3 2,0 1.4,0.3 2,0.6 1,0.2 1.8,0 -0.1,1.6 0.3,1.2 0,0.6 0.5,1 0.1,2.4 0.5,2 -0.1,0.9 0.5,0.6 0.9,0.9 0,1.1 -1.1,1.8 0.2,1.4 -1.7,0.3 -1.6,-0.1 -0.9,-0.7 -0.1,-0.9 -1.3,-0.6 -1.8,0.2 -2.1,0.7 -1.9,0.9 -1.4,0.7 -0.6,0 -1.2,0 -1.5,-1.3 -0.4,-0.8 0,-1.6 -0.2,-1.7 -0.1,-1.1 -0.5,-1.3Z M526.3,450.5l1.3,-0.8 1.3,-0.6 1.4,-0.8 2.2,-0.2 1,0 1.4,0 0.8,-0.5 1.1,-0.3 1.2,-1.5 1.8,-0.9 1.5,-1.1 1.4,0.3 0.6,-1.4 1.5,-1.2 1.3,-1.7 0.4,-1.1 0.8,-1.1 1.2,-1 1.1,1.3 0.6,0.5 1.5,-0.3 1.5,-0.1 1.6,-0.3 0.3,1.9 0.4,1.5 -0.5,1.7 0.3,2.4 0.5,1.6 0.7,1.5 -0.6,1.3 0,0.8 -0.6,0.5 -1.4,0.9 -1.7,1.4 -1.3,0.3 -1.5,0.6 -1,-0.6 -0.4,-0.4 -1.1,0.4 -1,0.2 -1.2,1.5 -1.4,0.1 -2,0.2 -1.2,-0.9 -1.2,0 -0.9,-1.1 -0.8,-1 -1.6,0.9 -1.4,0.8 -1.6,0.6 -1.4,-0.7 -0.5,-0.6 -2,-0.3 -0.7,-1.6 -0.9,-0.2Z M457.4,354.2l-1.4,-0.4 -1.5,-1 -0.8,0.8 -1.1,0.8 -1.8,0.7 -0.6,1.6 -1,0.9 0.1,0.9 0,0.8 -0.5,1.5 -1,2.2 -0.7,1.3 -0.5,1.4 0.5,1.6 0.9,1.5 1.2,0.8 0.4,0.9 1.6,1.5 0.7,0.9 0.6,0.2 0.8,0.4 0.6,0.4 1.3,0.1 1.4,0.2 1.1,0 0.5,-1.1 0.9,-1 -0.2,-1.7 -1.1,-0.9 0.5,-1.6 -0.1,-1.3 1.4,-1.3 0.4,-1.9 -1,-1.4 -0.4,-1.5 -0.7,-0.8 0.5,-1.3 -1,-1.9Z"/>
<path fill="none" stroke="#84400f" stroke-width="0.8" stroke-linejoin="round" d="M255.8,45.2l1.8,-0.7 1.8,-1.2 1.3,-0.2 1,0.8 1.1,0.1 2.1,1.4 1.3,0.9 1.7,-0.2 1.7,-0.8 1.6,0.2 1.4,-0.9 1,0.5 0.4,0.4 2,-0.1 1.5,1.2 1.1,0 1,0.6 0.2,1.7 1.2,0 0.4,0.3 1.9,0.9 1.1,0.1 1.5,0.3 1.4,1 2.3,1.4 0.8,0.9 0.1,0.8 1.4,1 1.4,-0.6 1.6,0.8 1.5,0.9 1.7,0 0.7,-0.6 0.8,0.8 0.7,1.2 1.2,-1.2 0.6,-0.3 1.4,-1.4 1.5,0.1 0.8,-1.5 1.5,-0.5 1.6,-0.7 1.3,-0.5 1.8,-0.2 1.1,1.9 -1.4,1.2 -1.5,1.8 0.9,0.1 2.5,0.5 1.3,0.1 1.4,0.3 1.2,0.7 1.4,0.2 0.7,0.9 1.1,1 0.9,0.7 1.2,0.8 2.5,0.7 1.5,0.5 1.7,0.9 0.1,0.7 0.8,-2.1 -0,-1.2 2.5,0 1.1,2 0.5,1.5 0.3,1.3 0.3,1.5 0.8,1.9 0.4,0.8 0.9,1 0.7,1.7 -0.3,1.5 -0.1,1.2 -0.5,-1.2 -1.2,-0.8 -1.1,1.2 -0.9,1.2 -2.9,1.3 -1.5,-0.1 -1.5,0.1 -1.1,-0.2 -0.8,1.2 -1,2.1 -1.8,1.7 -1.1,1.7 -0.5,1.7 -0.8,1.9 0,0.4 -1.3,0.3 0.5,-1.8 0.8,-0.7 0.2,-1.4 1.7,-0.1 1,-1.5 1.6,-0.2 1,-0.4 1.1,-1 0.9,-0.9 0.7,-0.1 1.8,-1 0.9,-0.3 0.7,0.2 1.2,-1 0.7,-0.2 1.9,-1.2 -0.3,1.8 -0.8,1.5 0.1,1.4 -0.6,1.1 0,1.5 -0.1,1.3 -1,1.7 -0.6,1.8 -1.1,0.9 -1.9,0.9 -1.7,0.4 -1.5,0.1 -0.7,1.2 -0.3,0.6 -0.7,0.8 0.6,1.9 2,0.1 1.4,-0.3 1.4,-0.3 1.7,0.2 2.2,-0.2 1.2,0.1 2.3,-1.3 1.3,0.4 1,-0.4 1.7,-0 0.9,1.1 1.6,0.3 0.3,2.3 0.5,1.7 0,0.8 -0.5,0.6 0.4,1.9 -0.1,0.6 -1.5,1.3 0.3,1.8 -0.7,1.7 0.7,-1.4 0.5,-0.6 0.9,-1.7 1.2,-0.3 -0.3,-1.6 0.7,-0.6 0.1,-1.7 2.4,-1.1 2.1,0 2.2,-0.7 0.9,-1 2.4,1.2 0.4,0.5 1.7,0.7 0.3,2.2 1.7,0.8 0.8,1.5 0.6,0.5 1.9,0.6 1.2,1.5 1.9,0.5 2.3,1.8 0.4,-0.1 0.4,1.4 0.6,-0 0.5,1.3 1.9,1.8 1.2,-0.5 2.3,0.4 1.9,-1 0.7,-1.2 1.7,-0.6 1,-0.4 0.7,0.2 0.8,-1 1.8,-1.3 1.9,-0.2 1.2,-0.2 2.1,-0.6 1.7,-0.4 1.4,-0.5 0.6,1.3 1.5,0.3 1.1,0.7 -1.1,1.6 -0.1,1.7 0,0.9 -0.4,1.7 0.3,0.2 0.6,1.7 -0.1,1.6 0.1,1.9 -0.3,2 0,2.1 0.2,1.6 -1.2,2 -1.1,0.4 -1,1.6 -1.8,0.4 -1,0.8 -0.9,0.8 -1.1,-0.5 -1.3,0.5 -0.5,0.8 -1.2,0.2 -2,1.5 -1.1,0.4 -0.9,0.8 -0.7,1.3 -1.5,1.7 -1.6,0.8 -1.1,1.4 -1.2,1.7 -0.6,0.5 0.7,1.7 2.3,0.3 1.4,0.9 1,1.2 1.1,1 1,1.4 -0.3,1 0.6,1.7 1.6,-2 1.4,-0.3 1.7,-0.8 2,0 1.9,-1.5 2.2,-0.5 0.9,-0.7 0.5,-1.4 0.6,-0.3 2.2,0.5 1.6,0.7 2.8,0.5 1.4,1.8 1.2,1 0.6,1.1 0.9,0 0.6,0.6 0.3,0.5 1.2,0.4 1.5,-0.1 1.3,-0.4 2.2,-0.5 2.9,-1.6 0.8,0.8 0.5,1 1.6,0.4 -1,1.4 0,0.9 -0.3,2.1 0.7,-1.1 0.7,-1.1 0.1,-0.6 0.2,-1.1 0.7,-2.2 -0.2,-0.8 0.1,-1.6 0.5,-1.4 1.3,-1 0.5,-1.4 1,-1.1 0.8,-1.2 0.6,-0.4 1.2,-1 1.3,-0.7 0.4,-0.1 1.5,-1.7 0.6,-1.2 1,-2 0.8,-0.7 1.1,-0.6 2.2,-0.2 1.4,-0.5 1.7,1.1 1.8,0.1 -0.2,0.9 2,-1 1.3,0.1 2.2,-1.6 0.5,-0.2 1.5,-0.5 1.1,1 1.3,0.6 1.4,-0 1.4,-0.4 2.1,-0.6 1.1,0.9 1.5,1.6 0,1.5 -0.6,2 -0.2,1 0.9,1.6 1.4,0.6 -0.1,-2.3 0.7,-1.2 -0.8,-2.4 0.4,-1.1 -1.1,-1.6 0.9,-1.5 0.4,-1.7 0.4,-1.2 0.8,-0.7 0.2,-1.3 1.4,-1 1.3,-0.6 1.2,-0.9 2.2,-1 1.3,-0.9 0.7,-0.8 0.8,-0.1 1.8,-1.8 0.6,-0.8 1.3,-1.4 0.5,-1.2 1.2,-1.2 0.8,-2 0.7,-1.8 1,-1 0.9,-1.8 1.1,-1 1.3,-1 0.9,-1.2 0.5,-2 0.3,-1.5 1.8,0.6 1.9,-0.1 1.4,-0 1.7,1.1 0.2,0.4 2.2,1.1 1.6,0.3 1.2,1.1 2.3,-0 1.3,0.8 0.3,0.7 1.3,-0 2.4,0.9 1.4,-0.1 1.4,-0.9 1.8,-0.2 1.1,0.3 1.7,-0.2 1.2,0.2 0.5,0.5 0.5,0.1 0.5,1.5 0.8,1.9 0.8,1.2 0.8,1 1.3,1.5 -0.1,1.7 -0.1,1.5 1,1.6 1.6,1.2 1.3,1 0.7,0.8 0.6,1.8 1.3,1.3 0.6,1.1 1,0.7 0.6,1.7 1.2,0.3 1.4,1.6 1.8,1.7 0.5,0.8 -0.3,2.1 0.7,0.6 1,0.4 0.8,1 0.7,0.7 1,0.7 1.4,0.9 0.6,1.2 1.5,1.9 1.6,-1.3 1.6,-2.4 1.1,-0.6 1.9,0.4 1.2,-0.2 1.8,0.5 0.5,-0.8 1.4,-0.5 1.6,-0.3 1,-0.5 1.2,0.1 0.8,-0 0.1,-0.1 0.2,0.5 1.4,-1.8 0.7,-0.7 2,0.3 1.2,-0.3 0.2,1.6 0,1.6 0.9,2.2 0.7,1.4 0.9,1.5 2.2,1 1.3,0.7 1.9,0.2 1.4,1.5 1.7,0.3 1.5,1.3 0.4,1.5 1,1.5 1.2,1 1.2,0.4 0.7,1.1 1.7,0.4 0.7,0.7 1.7,0.3 1.1,2.1 2.2,0.4 0.6,1.4 0.3,1.5 -1.1,1.9 0.1,1.1 -0.7,2 -2.2,-0.2 -2,-1.2 -1.1,-0.4 -0.5,0.3 -1.5,0.8 -1.7,0.5 -1.9,1.5 -1.6,0.4 -0.5,-0.2 -1.2,0.3 -1.5,-0.4 -2.3,0.1 -1.4,-0.5 -0.3,-0 0.5,0.9 1.3,1.2 1.7,1.5 1.2,1.5 1.4,1.5 1.5,1.1 0.4,0.9 0.9,1 1.8,-0.7 1.4,0.3 1.5,0.4 2.1,0.6 1.3,0.3 1.6,0.4 0.6,0.2 1.5,1.4 0.9,0.7 -0.1,0.5 -0.9,1.2 2.7,0.9 0.9,2.2 -0.3,2.8 0.4,1.4 -0.7,1.2 -0.3,1 -0.2,1.1 0.5,1.1 0.4,1.2 0.8,1.8 -0.4,0.4 0.1,1.4 1.2,1.7 0.2,2.8 0.9,2.1 -0.3,1.9 0.1,2.2 0.1,1.3 0.2,1.1 0.9,1 1,1.2 0.8,1.4 1,2.3 -0.2,2.5 0.3,1.7 -0.8,1.5 0.4,1.8 0.2,1 0.5,1.5 0.2,1.6 0.1,0.2 -0.8,1.7 -0.4,1.3 -1.5,1.3 -0.6,1.6 0.6,0.4 0,1.8 -0.3,1.6 0.9,1.1 -0.3,2.3 -0.2,1.5 -0.9,1 -0.6,1 -0.4,1.2 -0.9,0.5 -0.7,1.2 -1,0.6 -1.6,1.6 -1.2,1.1 -1.8,1.8 -0.5,1.3 -1.2,0.5 -0.2,-0.2 -1.5,1.4 -1.8,1.2 -0.8,1.3 -0.3,2 0.4,1.9 1,1.2 -0.1,1.7 0.4,1.1 -0.1,1.6 -0.9,0.7 0,1.1 2.1,0.4 1.2,0.9 1.7,0.5 1.1,1.4 0.6,0.4 1.3,1.8 1.5,1.8 0.9,1.8 1.6,0.2 0.9,1 1,0.9 0.3,2.1 0.7,0.6 0.9,1.4 0.4,0.9 1.6,-0.1 1.3,1.7 0.8,0.7 1.3,1.1 1.5,1.4 1.8,0.4 0.4,0.2 1.3,0.5 0.7,0.6 0.9,0.9 0.7,1.7 1.4,1.6 0,2.7 0,2.5 -0.2,1.3 0.1,1.4 -0.4,0.7 -0.6,0.9 0.1,0.6 -0.7,1.1 0.1,1 -0.4,1.3 -0.7,1.3 -2,1.4 -1.2,1.2 -0.5,0.3 0.3,0.6 -0.5,1.2 0.7,2.1 1.1,1.7 0.3,1.8 -0.1,0.8 -0.3,1.7 0.1,1.4 1.1,1 1.9,0.5 1.3,0.5 2.2,0.1 0.8,0.5 1.1,0.9 0.2,1.6 0,0.3 -0.4,0.9 -0.2,1 -0.2,1.6 -0.3,1.7 1.2,2.2 0.9,1.8 0.3,1.5 -0.3,1.1 0.7,1.6 0.7,1 0.1,1.1 0.2,2.2 0.7,-0.6 -0.8,2.2 -0.5,1.2 0.1,1.8 -0.5,1.6 -0.4,1.5 -1.5,1.6 -0.7,2.1 0.3,0.8 -0.2,1.6 -1.6,1.3 -0.4,0.6 -0.1,1.1 -0.7,0.4 -1.1,1.6 -0.7,2.4 -0.3,1.6 1.2,1.8 0.4,1.9 1.2,1 0.4,1.7 1.2,1.9 0.1,2.5 1.5,0.8 1.1,1.4 0.7,1.1 1.2,1.3 -0.2,1.1 0,1.6 1.3,1.1 -0.6,1 0.4,1.2 -0.9,0.7 -1,1 -0.2,1.7 0.8,2.4 1.2,0.7 1.9,1.3 1,1.3 1.7,0.3 0.9,0.8 1,1.3 1.5,1.2 0.8,0.9 2.3,0.8 0.8,0.3 0.8,1.3 1,1.8 0.3,1.8 0.5,1.8 -0.1,0.9 0,1.6 -0.8,1.2 0.8,1.3 -0.4,0.8 0.3,1.5 0.5,1.9 1.3,1.3 0.8,1.1 0,1.2 1.4,-0 -0.6,1.8 -0.4,1 -0.7,1.5 0.5,1.2 -0.7,1.7 -0.2,2.2 -0.8,1.3 -0.4,1.8 -0.5,0.7 -0.4,1.6 -0.5,0.7 -0.7,1.5 -0.3,1.6 0,0.5 0.3,0.8 0,2.2 0.5,1.8 -0.8,2 -0.9,1.5 -0.5,0.8 -0.6,0.9 0.1,1.7 -0.7,1.2 -0.7,1.7 -1.3,2 -0.7,0.4 -0.8,1.7 -0.8,1.3 -0.3,1.4 -1.3,1.9 0.4,0.8 -1.1,0.5 -1.4,1.2 -2,-0.6 -1.6,-0.9 -1.2,-0.6 -1.8,-0.6 -1.6,0.4 -1.8,-0 -0.9,-1.8 -0.5,-2.7 0.2,-2 1.2,-1.4 -0.3,-1.9 -1.4,-1.2 -1.7,-0 -1.8,-0.9 -0.8,-1.4 -0.5,-1.3 -1.5,-1.6 -1.2,-2 -1.1,-0.7 -1.5,-0.1 -1.6,0.5 -1.3,0.5 -1.8,-0.4 -0.5,-0.6 -0.8,-0.2 -1.6,0.7 -0.9,0.6 -2,0.7 -1.1,0.8 -0.9,0.3 -0.2,1.9 0.1,1.2 1.8,0.8 1.4,1.4 1.1,1.3 1.6,0.2 0.4,2 1.1,1.1 -1.1,0.5 -0.9,0.7 -1.9,1.3 -1.3,1.1 -0.9,0.9 -0.9,1.3 -1,0.1 -0.8,1 -0.8,-0.3 -1.3,0.4 -1.9,0.4 -2.1,-0.8 -2,0.8 -2.6,-0 -1.1,0.6 -1,-0.2 -1.2,0.2 -1.6,0.9 -0.7,1.6 -1.5,0.1 -1.3,0.4 -0.7,0.2 -1.9,0.2 -1.2,1.4 -0.7,1.3 -1.8,1.3 -1.7,0.2 -0.6,0.6 -1.6,-0.2 -1.5,0.8 -0.5,0.6 -2.1,0.1 -1,-0.5 -2,-0.1 -1.1,1 -1.3,0.1 -1,0.5 -0.9,-0.5 -1,0.4 -2.1,0.9 -0.8,0.5 -0.7,1.8 -0.8,1.3 -1.3,1 -1.8,0.5 -0.8,0.5 -1.4,1.6 -1.6,-0.8 -1.1,-0.3 -1.2,1.3 -1.3,0.5 0,1.6 -1.1,0.7 -1.2,1.2 -1.3,1.1 -1.4,1.1 -1.3,-0 -1.2,1.5 -0.8,0.3 -0.5,0.9 -0.4,1.5 -0.9,0.9 -1.6,0.8 -2.5,0.3 -1.1,-0.4 -2.2,-0.3 -0.9,0.2 -1.3,-0.5 -1.7,1.3 0.2,2.2 -0.8,2.2 -1.4,2.3 -0.3,1.5 -1.2,-0.3 -2.1,0.1 -1.1,0.4 -0.9,-0.9 -1.8,-0 -2.2,-1.6 -0.9,-1.1 -2.2,-1.3 -0.5,0.4 -1.6,0.8 -0.4,0.7 -1.5,1.2 -0.5,1.1 -1.1,0.5 -0.6,0.7 -1.4,-0.4 -1.6,0.3 -2,-0.1 -2.6,0.4 -1.6,1.7 -1.3,0.7 -1.2,0.4 -1.5,1.4 -0.6,1.3 -1.3,1.2 -1.7,1.4 -1.5,0.8 -1.7,1.1 -1.1,1.2 -0.1,0.8 -1.7,2.1 -1.2,1.2 -1.5,1.7 -0.3,1.7 -0.2,1.3 0.1,1.3 0.8,0.8 -0.3,0.7 -1.7,-0 0.4,-0.9 -0.7,-0.6 0.2,-0.3 -1.6,-0.5 -0.7,-1.1 -1.3,-2.2 -0.7,-1.8 -0.5,-1.9 -1.3,-0.9 -0.5,-1 -1.2,1.5 -1.8,0.1 -0.8,-1.1 -1.2,-1.5 -0.3,-1 -1.4,-1.6 -1.3,-1.1 -1.6,0.1 -2,-1 -0.6,-1.8 0,-2.1 -0.2,-1.1 -0.6,-1.9 -0.5,-1 -0.3,-0.4 -1,-0.4 -1.7,-1 0.3,0.4 0.2,2.1 0.8,1.8 0.5,2 0.4,0.6 0.7,0.7 0.6,1.3 0.9,1.4 1.1,0.7 1.4,-0.1 0.8,1.4 0.3,1 0.3,2.4 0.5,1.7 0.6,1.6 0.4,1.4 0.4,0.9 2.3,0.5 1,0.8 1.3,1.4 1.1,1.2 1,1.7 0.9,1.6 -0.6,1.8 0.5,1.2 0,1 0.5,1.6 -0.2,1.6 0.6,1 1.3,1.2 2,1.3 2.1,0.4 1.5,0.4 0.3,0.9 2,0.9 1.4,1.5 1,0.8 1.5,1.2 1.5,1.1 0.5,0.1 1.3,1.7 0,1.7 -0.4,1.9 0.1,1.6 0.9,1.7 0.8,0.3 -0.1,1.5 -0.4,0.7 -0.2,1 0.2,1.5 -0.8,1 -0.9,2 -0.7,1.7 -1.2,0.6 -1.4,0.5 -1.8,0.2 -1.3,1.9 0.3,1 1.9,1.6 0.6,2.6 1.7,1.7 1.4,1.1 1.1,0.7 1.7,1.2 0.7,1.4 0.4,1.4 -0.4,1.3 -0.1,1.7 -0.5,1.2 0.8,1.1 1.2,0.9 0.4,1.4 1.3,1.4 0.7,1.4 -0.2,1.2 0.6,1.3 0.6,0.8 -0.1,2.1 0.5,1 -0.2,1.9 1,1.6 1.5,1.5 1.2,2.1 0.9,0.8 0.5,1.5 0.4,-0 1,0.8 0.4,1.5 1.7,1.2 2,0.1 2,0.7 1.6,1.3 1.3,0.2 1.1,0.1 1.5,-1 1.9,0.7 0.9,-0.1 1.3,1.2 0.7,0.8 0.8,1.6 1.7,1.8 0.6,1 2,0.6 1.6,0.5 0.5,1 -0.2,1.1 0.6,1.3 -0.3,1.9 0.3,1.2 0.6,0.9 1.1,0.8 1.7,1.9 1.8,1.8 1,0.6 0.7,1.5 0.5,0.5 1.1,-0.4 1.4,-0.3 1.8,1.3 1.3,0.2 1.1,0.8 0.5,0.9 1.5,0.7 0.4,1.4 0.9,0.7 0.4,1.1 0,2 0.2,2.4 0.8,1.9 1,1.6 1.4,2 1.9,0.9 2,0.3 1.5,-0.8 1.4,-1.1 0.9,-0 2.4,0.5 0.3,0.8 2.1,0.9 1.8,0.5 0,1.8 0.2,0.6 0.3,1.1 1.1,0.7 1,1.2 0.4,1.1 2.1,1.9 0.4,1.2 1.3,0.9 1.1,1.5 1.8,0.7 1.1,0.8 0.9,1.7 0.3,1.4 0.8,1.9 -0.1,1.8 -0.1,1 -0.2,1 -0.2,1 -0.8,1.2 0.5,1.9 -0.2,1.6 -0.1,2.1 -0.6,2 -0.5,1.3 -0.8,1.2 0.2,1.5 -0.5,0.9 -1.2,2.6 -0.5,1.4 -1.9,1.2 -0.4,1.1 -1.2,1.6 -1.3,-0.8 -0.4,0.2 -1.5,-0.7 -1.3,-0.3 -1.6,-1.2 -1.5,-1.7 -2.5,-1.5 -2.2,-1 -1.6,0.7 -2.4,-0.4 -1,1.1 -2.1,-0.5 -0.6,2 0.1,1.7 0.3,2.1 0.5,0.8 0.9,2 -0.2,1.6 -0.6,1.2 -0.3,2.3 -0.5,0.8 0,2 -1.4,1.3 -1.1,1.4 -1,0.6 -1.3,1.6 -1.5,-0 -1.8,0.8 -0.6,0.4 -0.9,1.1 -1.3,1.4 -1.2,0.9 -2.2,0.9 -1.6,0.1 -1.6,0.7 -1.2,-0.3 -1.2,-0.3 -1.2,0.6 -1.8,-0.1 -1.8,0.9 -2.1,0.9 -1.6,1.1 -1.1,0.9 -2.1,0.8 -0.6,-0 -1.8,-0.3 -1.3,0.1 -1.1,0.7 -1.3,1.8 -2.1,0.9 -1.3,2.1 -1.5,1.8 -0.8,1 -0.7,0.9 -0.4,0.2 -1.7,0.9 -0.6,1.4 -0.7,1.3 0.8,0.9 1.5,2.4 0.5,1.1 1.3,1 0.9,0.7 0.9,0.9 1.1,1.1 0.9,0.5 0.3,1.6 0.6,1.8 1.2,0.8 0.1,1.6 1.3,0.1 0.2,0.6 0.8,2 1.4,0.5 1,1.1 0.9,2 0.9,1 0.7,1.3 -0.7,2 -0.1,1 -0.4,1.3 -1.4,0.8 -1.3,0.5 -0.5,1.6 -0.8,1.6 0.3,2.2 0,2 0.8,2.2 1.4,0.7 1,0.6 1.3,-0.1 1.2,-0.1 1.5,1.2 1.5,0.2 1,2.5 0.1,0.9 0.1,2.2 -0.5,1.4 -0.1,1 -0.1,2.4 -0.7,0.9 -0.3,1.9 0.2,2.5 -0.4,1.3 0,1.2 -0.3,0.8 -0.5,1.8 -0.9,0.9 -1,0.4 -1.5,0.6 -1.1,0.6 -2.3,-0.7 -1.7,-1.3 -1,-1.7 -0.7,-1 -1.1,-1.2 -0.7,-0.6 -0.8,-1.4 -0.9,-0.8 -0.7,-1.4 -0.9,-1.3 -1.8,-1.4 -1.4,-2.2 -0.3,-1.9 -0.3,-0.7 1,-1.2 -0.3,-1.4 -1.1,-1 -1.8,-0.6 -1.4,0.3 -1.9,0.6 -0.9,0.1 -1.3,-0.2 -1.9,-0.2 -1.5,-0 -1.3,0.7 -1.5,1.6 -2,1 -0.6,0.5 -1.3,0.8 -0.9,-1.6 -1.1,-0.3 -0.1,-1.8 -0.7,-1.7 -1.5,-0.7 -0.9,-0.3 -0.2,-0.8 -2.2,-0.3 -1.6,0.3 -1.1,-0.2 -1.9,0.4 -2,-0 -1.1,0.4 -2.5,-0.5 -0.2,-1.6 0.5,-2 -1.1,1.5 -0.8,0.2 -1.4,1 -1.5,-0.1 -0.6,1.8 -0.1,0.9 0.7,0.9 1.4,1.2 0.1,2.3 -0.8,1.9 -0.6,0.4 -2.1,-0.5 -1.8,-0.3 -2,0.1 -1.6,-0.6 -1.9,-0.6 -2.2,-0.6 -1.5,-0.2 -0.9,0.3 -1.1,-0.1 -1.6,0.4 -1.7,0.4 -1.5,0.8 -1,0.9 -0.8,0.4 -2.1,0.6 -1.1,-0.9 -2.5,-0 -1.4,-0.1 -2.2,-0.4 -0.6,0.3 -0.7,-0.2 -1.1,0.7 -0.9,-0 -2.3,0.1 -0.8,1.9 -0.6,1 -1.5,0.9 -1.5,1.3 -0.7,1.1 -0.8,1.1 -1.1,-0.1 -1.2,0.6 -1.1,0.1 -1.2,-0.1 -1.8,-0 -1,0.3 -0.6,2.1 -0.7,1.3 -1.8,1.4 -0.6,1.4 -1.2,-0.1 -1.1,-0.3 -0.7,-0.6 -1.7,1.4 -1.9,1.2 -1.3,0.6 -1.1,-0.5 -0.9,0.6 -1.1,-0.7 -0.4,-1.3 -1.1,0.3 -1.5,0.8 -1.6,0.6 -1.5,-0.1 -1.4,1.5 -1.7,0.4 -2.2,-0.4 -2.1,-0.4 -1.9,-0.3 -1.1,-0 -0.3,-0.9 -1.5,-1.2 -0.8,-1.4 -1,-1.3 -0.3,-0.8 -1.2,-0.2 -0.1,-1.5 -0.5,-0 -0.3,-1.5 -0.8,-1.1 -1,-1.3 -0.6,-1 -0.7,-1.4 -2.2,0.2 -1.7,0.2 -1.7,0.4 0.2,0.5 -2.1,-0.9 -0.7,-1 -2.1,-1.1 -1.3,-0.8 -2.2,-0.9 -1.7,-0.3 -2.2,0.5 -2.1,0.5 -1.5,-0.8 -0.5,0.1 -1,-1.1 -1.4,-0.5 -0.6,0.2 -2.2,-0.3 -0.3,2 -0.7,1.8 0.2,0.7 0.2,1.4 0,1.4 -0.2,0.6 0.9,0.7 -1,0.8 -1,1.7 -0.7,2.7 -1,1.4 -0.6,1.2 -0.4,1.6 0.2,1.2 -0.7,0.9 -0.7,1.4 -1.9,1.3 -2.1,0.8 -1.7,1.3 -2,0.8 0,-0.2 -0.2,0.2 -1.6,1 -1.1,-0.1 -1.9,0.1 -1.7,-0.4 0.5,-1.6 0.4,-2.2 -0.3,-1.1 0.4,-1.5 -0.2,-1 -1.1,-0.8 -0.9,-1.3 -1.2,0.6 -1.3,1.2 -0.8,-0.8 -1.2,-0.3 -1.1,-1.2 -0.3,-2 -0.5,-0.9 -0.5,-2 -0.9,-1.3 -0.2,-0.8 -0.9,-1.9 -0.1,-1.4 -1.2,-0.7 -2,-0.8 -0.6,-0.6 -0.2,-1.5 -0.9,-0.6 -1.3,-1.5 0,-1.7 -1.7,0.5 -1.7,1.1 -1.1,-0.1 -1.3,-0 -1.7,-0.7 0.1,-0.7 -1.1,-1.8 -0.4,-0.4 -1,-1.5 -1,0.5 -1.1,0.9 -0.6,1.5 -1,0.4 -1.4,-0.2 -1,-0.9 -0.8,-1.5 -2,-0.6 -1.2,-1.5 -1.6,-0.8 -1.6,-1 -2.2,-0.1 -1.4,-0.5 -1.3,-0.5 -0.9,-0.5 -0.9,-0.4 -1.7,-0.9 -1.3,-0.4 -1.3,-1.5 -1.4,-0.5 -0.7,-0.5 -1.1,0.2 -1.2,-0.9 -0.3,-0.2 -1.9,-1 -1.2,-0.4 -1.6,-0.5 -0.8,0.5 -1.2,-2.1 -0.8,-1.5 -1.1,-2 -1.5,-2.6 -2.1,-1 -1.3,-0.8 -0.7,-1.2 -0.6,-0.6 -0.5,-1 0.3,-0.6 -0.8,-1.2 -1.1,-0.6 -2.2,-1 0.2,2 0.9,0.8 1.5,1.2 0.9,0.6 0.5,1.1 0.7,1.2 1.5,1.3 0.4,1.8 1.1,1.5 0.2,0.9 0.4,2.3 -0.2,1.3 -1.8,0.7 -1.3,-0.3 -1.3,-0.8 -1.3,-0.6 -1.5,-1.8 -1.2,-1.4 -2.1,-1 -0.8,-0.7 -1.8,-0.7 -1.6,-0.2 -1.2,-0.7 -0.1,2.5 0.5,1.9 -0.3,2.2 -1,0.6 -1.3,1.3 -0.9,-1.2 -1.5,-0.2 -0.9,-2 -1.1,-2.1 -0.7,-0.9 -0.7,-0.1 -2.1,-0.3 -1,0.7 -2,0.6 -2.1,0.4 -1.1,-0 -2,-0.9 -1.1,-0.3 1.5,-0.7 1.3,-0.3 1,-0.7 1.4,-0.9 0.6,-1.2 -1.8,-1.2 -0.9,-1.8 -2,0.7 -0.3,-0 -1.1,-0.8 -1.6,-1.6 -0.5,-1.1 -2.1,-1.4 -0.9,-0.3 -0.9,1.2 -1.6,0.6 -1.3,0.5 -0.4,1.5 -1.3,0.1 -0.5,0.9 -1.4,0.8 -1.4,1.5 -0.7,0.7 -0.1,2.3 -1.7,1.4 0.3,1 -1.3,1 -0.5,1.3 1.5,1.1 1,1.3 1.3,1.1 1.8,1.1 -0.6,1.2 -0.8,1.3 -2.2,0.5 -2,0.9 -1.1,-0.4 -1.6,0.5 -1.1,-0.1 -0.6,-1.2 -1.8,-1.7 -1.2,-1.6 -0.6,-1.6 -2.2,-0 -1,1.3 -1.9,0.1 -2,-0 -0.7,1.3 -1.1,-0.5 -1.5,1.1 -0.9,-0.4 -1.2,0.9 -1.2,0.4 -2.3,-0.5 -1.9,-0.3 -2.4,0.4 -1,0.2 -1.8,1.1 -1.2,0.7 -2.1,0.4 -0.4,-0.1 -0.4,-0.8 -1.5,-1.5 -1.4,-0.9 -0.8,-1.8 -1.4,-0.3 -1.8,0.3 -1.6,0.5 -1.9,0.5 -0.6,0.8 -2,1.2 -0.1,-1.4 -0.5,-1.4 -0.1,-1.2 0.8,-1.4 -1.5,-0.9 -1,0.2 -1,1.2 0.9,1.1 1.5,0.7 -0.1,1.6 0.6,1.3 -2.4,-0.5 -1.2,-0.1 -0.5,-1.7 -1.2,-2 -0.7,-1.5 -1.6,-1 -0.6,-0.7 0,-0.3 -1.1,-1.5 -0.2,-1.5 -0.3,-1.9 -0.1,0.6 0,-1.5 0.8,-1.6 -0.5,-2 -0.3,-1.2 -0.2,-1.2 0,-2.2 0,-1.3 0.2,-2.4 0.2,-1.6 0.5,-1.8 1.2,-0.3 1.1,-1.1 1.2,-1 0.6,-1.4 0.9,-1.2 0.9,-0.4 0.4,-1.6 -0.2,-0.6 0,-1.5 -0.4,-2 0.7,-1.5 0.8,-1.4 -0.2,-1.2 -0.3,-1.6 -0.9,-1.1 -0.5,-1.5 -0.5,-1.8 0,-1.8 0.2,-1.6 0.4,-2.1 0.7,-1.3 0.7,-1.6 0.5,-1.5 0,-1.9 1.1,-0.9 0.3,-2.2 1.4,-1.1 0.9,-2.1 0.8,-0.5 0.1,-1.4 0.7,-1.2 1.1,-1.3 0.9,-0.5 1.7,-1.7 0.9,-0.5 0.5,-1.5 -0.1,-0.3 0.4,-1.1 0.7,-1.5 0.6,-0.8 0.2,-2 -0.3,-0.8 -0.2,-2 0.4,-0.9 1.3,-0.4 0.3,-1.2 0.4,-0.6 0.8,-1.8 -0.3,-1.5 1.4,-2.3 0.2,-1.8 1.2,-1.8 0.7,-1.8 -0.1,-0.6 0.4,-1.5 0.2,-1.5 0.4,-2 -0.4,-1.2 1.5,-1.9 0.7,-1.3 1.2,-1.3 0.4,-0.7 1.7,-1.1 1.4,-0.1 1,-0.7 1,-1 0.8,-1 1.5,-1.2 0.3,-1.8 1.1,-0.8 1.4,-1.5 1.1,-0.5 2.2,-0.4 1.5,-1 0.3,-1.5 0.9,-1 0.5,-2.1 0.4,-1.3 0.8,-1.1 1.3,-0 0.8,-0.5 1.7,-1.5 0.4,-1 0.7,-1.9 -0.3,-1.8 1.2,-0.9 0.4,-2 2.1,-1 1.6,-0.2 -1.2,-0.7 -2.4,-0 -1.5,0.2 -2.3,-0.9 -0.5,-0.3 -1.6,-0.3 -1.2,-1.5 -0.5,-0.8 -2,-1 -1.5,-1.5 -1.7,-1.4 -1.4,-0.6 -1.1,-1.2 -1.7,-0.1 -1.6,-0.8 -1.2,0.3 -1,-0.9 -1.3,-0.3 -1.6,-0.6 -0.9,-0.3 -1.5,-0.3 -1.7,0.6 -1.3,-0.2 -1.2,-0.2 -1.2,-0.2 -1.2,-1.6 -1.6,-0.7 -1.1,-1.2 -2.6,-1.2 -1,-0.5 -1.1,-0 0.1,-1 -0.1,-1 -1.2,-0.9 -0.6,-0.6 -0.1,-0.4 -1.1,-1.3 -1.8,-0.9 -1.7,-0.9 -1,-0.3 -1.8,-0.2 -0.9,0.4 -0.5,0.2 -1,1 -1,-0.1 -1,1 -0.9,0.9 -2,0.9 -2.2,-0 -1.6,-1.1 -0.6,-0.7 -1.8,-1.5 -1.3,-1.3 -0.9,-0.3 -1.5,-0 -1.3,-0.4 -0.7,1.5 -1.2,0.8 -1.3,-0.9 0.2,-1.3 -0.7,-0.3 -1.1,-1.2 -1,-1.8 -1.3,-1.7 -0.8,-0.9 -1.7,-0.8 -1.9,-0.2 -1.4,0.3 -2,0.9 -0.8,2.1 -1,1.2 -0.5,1 -1.7,-0.3 -0.7,-0.6 -1.3,-0.8 -1.3,0.5 -1.9,-1.3 -0.3,-0.8 -0.7,-1.1 -0.2,-1.8 -1,-1.6 -0.9,-1.7 -1.5,-2.3 -0.4,-0.7 -0.9,-1.5 0.4,-0.7 -1.1,-0.6 0.3,-0.8 -0.4,-1.6 -1.3,-1.5 -0.7,-1.8 -0.1,-2.3 -0.2,-1.7 -1.1,-1.9 -0.1,-1.3 -1.6,-0.6 -0.6,-2 -0.9,-1.3 -1.8,-0.1 -1,-0.8 -1.3,-1.5 -0.7,-0.2 -1.1,-0.1 -0.7,-0.2 -1,-1.4 -0.2,-1.7 -0.8,-1.4 -0.1,-1.3 0.8,-1.4 0,-1.3 0.5,-1.9 0.8,-1.5 1.8,-1.5 1.4,-1.8 0.7,-1 1.3,-0.3 1,-1.6 1.3,-1 0.7,-1.4 1,-1 0.4,-0.9 1,-1.1 0.6,-2 0.1,-2.3 -0.4,-2.7 0.3,-1.5 0.2,-1 0.5,0.1 -0.9,-0.4 -1,-0 -1.1,-0.5 -0.9,-1.2 -1.5,-0.8 -0.9,-1.8 -1.5,-0.7 -1.5,-0.8 -2.2,-1.6 -1.5,-0 -1.2,-0.5 -1.1,-0.6 -1,-1.4 -1.7,-1.3 -0.9,-0.6 0.1,-1.4 -0.5,-1.7 -1,-1.8 -0.6,-1.8 -1.2,-1.5 -0.9,-0.8 -0.4,-1.1 -0.6,-1.4 0.3,-1.9 0,-2.1 0.5,-1.7 0.2,-2.8 0.1,-1.9 0.8,-1.3 0.6,-1.4 0.3,-2 0.5,-1.6 0.7,-1.3 0.7,-0.9 1.1,-1.2 1.1,-0.4 0.7,-1 1.4,-1.5 0.1,-1.3 0.3,-1.4 0.5,-0.3 1.2,-0.1 1.6,-0.8 1.6,-0.7 1.4,0.1 1.7,-1 1.5,-0.5 1.6,-0.7 1.3,-0.1 1.6,-0.9 0.4,-1.8 -0.7,-1.8 -0.6,-2.5 -0.8,-1.7 0.2,-2.1 -1.2,-1.5 -0.2,-1.9 -0.1,-1.8 -0.7,-0.6 -0.2,-1.5 -1.6,-0.6 -1.8,-0.5 -1.2,-0.6 -1.4,-0.2 -0.6,-0.8 -1,-0.6 -0.1,-1.1 0,-1.6 -1,-2 1.8,-1.1 1,-0.5 1.5,-0.5 0.3,-1.1 1.4,-1.6 -2.1,-0.9 -1.9,-1.4 -0.5,-2.2 -1.1,-1 -1.5,-2 -0.8,-0 -0.6,-0.3 -0.6,-0.8 -0.9,-0.6 -1,-1.1 -0.6,-1.1 -1.4,-0.8 -0.5,-1.8 -0.2,-1.3 0,-0.6 -0.5,-0.8 0.5,-0.6 1.2,-1.3 -0.2,-1.7 1.5,-2.4 0.4,-1.6 0.6,-0.7 0.8,-2.1 0.1,-1 -0.4,-2.2 -1.2,-1.5 -0.2,-0.4 -2,-1.6 -0.8,-0.5 -1.3,-1.7 -0.5,-0.5 -1.4,-0.6 -1.3,-0.9 -0.1,-1.6 -1.3,-1.3 0.2,-1.4 -0.2,-1.5 -0.1,-1.2 1,-0.6 1.6,-0.8 1,-0.3 0.5,-0.1 1.5,-1.1 0.9,-0.4 1.7,-0.7 1.7,-1.4 1.8,-0.4 1.2,-0.2 0.8,-0.1 1.1,-1.2 0.9,0.3 1,-0.8 1.2,-1.4 1,-1.2 0.9,-1 -0.1,-0.7 -1.4,0.3 -1.8,-0.9 -2.4,-0.3 0,-1.5 0.4,-1.8 0.9,-1.4 0.5,-0.7 1.9,-1.9 1.2,-0.6 0.7,-0.6 1.4,-1.6 0.4,-1.1 0.9,-0.6 0.7,-0.5 1,-1.3 0.8,-1.9 0.6,-1.5 -0.1,-1.7 0.5,-2.3 -0.1,-0.8 0.7,-2.2 1.2,-0.7 0.4,-1.6 -0.7,-2.3 0,-0.8 -0.7,-1.4 0.2,-1.9 -1.1,-1.6 -1.1,-1.1 -0.3,-1.8 -0.2,-0.9 -0.9,-0.9 0,-1.4 -0.6,-1.5 -0.5,-2.1 -1.3,-1.2 0.1,-1.3 -0.3,-1 -0.1,-1.3 -0.5,-1.4 0.1,-1.1 -0.7,-1.7 -1.9,-0.8 -1.4,-1.2 -0.9,-0.7 -1.3,-0.9 0.1,-2.3 0.2,-1.4 0.7,-1.5 0.4,-0.5 1.3,-0.5 2.4,-0.6 2.1,-0.3 1.3,-0.5 1.7,-0.7 1.5,-1.1 0.4,-0.7 0.8,-1 -0.2,-1.9 2.2,-1.2 2.2,1.4 1.5,0.1 1,-0.1 1.4,0.9 1.8,1.2 2,0.3 0.7,-0 1.9,0.7 0.7,1.3 0.7,1.7 0.8,1.4 0.8,-1.1 1.3,-0.1 1.4,-1.5 0.8,-0.7 1.7,-1.3 1.5,-0.5 1.9,0.7 2.2,0.2 2.2,-0.7 0.9,0.4 1.7,-0.4 2.3,-0.5 1.6,-0.5 2.3,-0.1 1.1,-0.1 1.3,-0.6 0.9,-1.5 0.7,-1.1 0.6,-2.4 0.4,-1.3 -0.1,-0.4 -0.5,-0.8 -1,-1.1 -1.4,0.1 -1.7,0.3 -1.1,-0.5 -0.8,-1.5 -0.2,-1.9 0,-1.3 1.2,-1.8 1.4,-2.2 1.3,-0.6 1,-0.2 2.3,-0.5 1.4,-1.1 2.5,-0.6 1.9,-0.5 0.2,-0.3 0.6,-1.3 0.7,-1.5 0.6,-2.3 1.4,-0.8 0.6,-1.1 2.1,-0.5 0.7,-0 1.1,-0.4 1.5,-0.6 1.5,-1.2 0.6,-1.6 1.3,-1 1.9,-1.1 -0.4,-0.6 0.5,-2.2 -0.7,-1.4 0.4,-1.8 -0.8,-1.6 -0.2,-1.4 -1.1,-1.3 -0.6,-1.3 -1.6,-1.2 0.1,-1.4 -0.4,-2 -1.1,0.2 -0.6,-0.4 -1.3,-0.3 -2.1,-1.3 -1.7,-0.2 -1.3,-0.6 -1.6,-0.7 -2.5,-0.9 -1.8,-0.1 -1.3,-0.9 -0.2,0.5 -1.3,-1.3 -0.4,-1.4 -1.3,-2.1 -0.3,-1.4 1,-1.6 0.4,-1 0.9,-0.2 0.5,-1.2 0,-1.7 -1.1,-0.9 0,-2.1 2.1,-0.6 1.3,-0.3 2.1,-0.7 2.8,-0.4 1.6,0.4 1.7,-0.5 1.6,0.8 1,-0.4 1.6,-0.7 1.4,-0.3 2.3,0.4 1.9,-0.1 2.4,-0 1.5,-0 -0.8,-2.2 0,-1 1,-1.6 0.7,-2 0.3,-0.3 -0.2,-1.1 -0.2,-1.5 0.5,-1.9 0.2,-2.3 -0.4,-1.8 0.6,-2.4 0.5,-1.1 1.2,-0.5 -0.1,-1.1 0.4,-2.3 0.8,-1.1 0.5,-0.5 0.3,-1 0.9,-1.1 2,-1.9 0.9,-1.1 0.8,-1.6 -0.2,-0.5 0.3,-2.2 0.5,-1.2 0.6,-2.2 0.4,-1.8 0.1,-0.8 -0.9,-1.3 0.2,-1.4 -0.1,-1.4 0,-2 0,-1.5 0.5,-1.8 1,-2.1 -0.6,-0.7 0.3,-2.1 0.6,-0.9 0.7,-1.7 1.5,-1.9 0.5,-1.9 0.4,-1.8 -0.1,-2.1 2.1,-0.9 1.6,1.6 2.2,1 0.5,1.3 1.9,0.2 0.1,1 -0.7,1.2 0,1.8 0.2,1.7 0.1,-1.4 -0.5,-1.4 -0.8,-1.2 0.5,-1.8 -0.8,-0.4 -1.2,-1.5 -0.5,0.2 -0.7,-0.8 -2.5,-0 -1.8,-1.1 -1.2,-1.6 -1.5,-0.8 -1.4,0.3 -2.2,0.8 -1.6,0.3 -1.6,-0.9 -2.2,-0.6 0.1,-1.2 -0.9,-2.4 -0.5,-1.7 0.5,-1.6 0.2,-1.8 0.9,-1.1 1,-2.5 0.5,-1.4 1.6,-0.3 0.9,-1.3 0.6,-0.4 1.1,-1.8 0.9,-1.1 0,-2 0.5,-2.6 0.4,-0.8 1.2,-1 1,-0.6 1.4,-1.7 0.7,-0.9 1.7,-0.1 1.5,-0.1 0.7,-0.5 0.3,-0.7 1,-1 1.2,-0.6 2,-1 1.8,0.2 1.8,-0.4 1.3,-0.1 0.8,0.2 1.5,-0.5 2,0.1 1.8,-0.2 2.1,0.5 2.3,-0.2 1.8,-0 1.7,0.2 1.6,0.3 1.5,0.2 1.5,-0.1 1,-0.7 1.1,0.2 0.6,-0 1.7,-0.7 2.6,0.7 2,-0.2 1.6,0.6 1.7,-0 2.4,0.6 1.7,-1.1 1.6,-1 0.7,-0.2 -0.1,1.4 0.7,2.2 -0.3,2 0.4,1.7 0.9,2 -0.3,1.8 0.2,0.8 0.7,1.9 -0.8,1.1 -0.2,1.7 -0.3,1.7 -1,2.5 0.8,1.2 0.2,1.2 0.5,1.8 0,1.3 1.3,0.9 0.8,1.8 0.3,1.6 1.7,2.2 1.2,0.9 0.9,1.2 2.5,0.4 1,1.3 1.3,-0.8 1,-0.9 0.8,-2.3 0,-2.3 0.2,-1.8 0.6,-1.2 -0.6,-1 -0.1,-1.5 -0.2,-0.7 -1,-2.4 -0.1,-1 -0.8,-2.8 0.3,-1.6 0.5,-1 1.6,-1.5 2,-0.5 2,-0.7 1.5,2 1.1,1.1 2.1,1.8 0.3,0.6 0.1,0.3 1.5,0.2 0.2,1.2 1.6,0.5 1.5,1.4 0.6,2.2 0.6,1.5 0.3,2.1 1,1.9 1,-1 1.7,-1.1 1.5,-1.8 0.9,-1.6 0.4,-1.7 0.5,-1.5 -0.4,-1.8 -1.7,-1.1 0,-0.7 -2.2,-0.2 -1.3,-0.5 -1.7,-0.6 -1.8,0.6 0.3,-1.5 -0.3,-2.3 -1.1,-1.6 0.6,-1.9 0.3,-1.9 1.1,-2.1 0.7,-1 0.3,-0.4 0.2,-2.6 0.7,-2.5 0.6,-1.5 0.2,-2 0.3,-1.8 1.5,-1.5 0.9,-1 1.6,-0.7 1.5,-0.4 0,-0.6 0.8,-0.7 1,-1.3 2.1,0.1 1.1,0.4 1.2,1.1 1.3,1.4 0.9,1.3 1.8,1.4 2,0.4 0.7,1.3 1,-0.4 1.9,0.2 1.5,-0.3 2.3,-0.6 1.2,0.4 1.1,-0.1 0.9,0.6 1.8,-0.5 1,0.2 1.4,-1.2 2,0.4 2.9,-0.1 2.1,0.4 1.4,0.9 1.8,0.2 0.6,1.2 0.8,0.5 0.8,1.7 0.7,0.3 0.5,0.7 1,1.2 0.7,1.3 0.8,1.1 1,1.6 1.7,1.1 0.5,1.9 0.8,0.9 -0.2,1.1 1.4,1.2 0.3,1.3 0.8,0.9 1.1,1.6 0.6,1.2 0,1.2 0.2,0.2 0.7,1.4 0.8,1.5 1.2,1.3 1.6,0.3 1.5,0.8 2.5,0.6 0.5,1.5 1.6,0.3 0.3,0.6 0.3,1 0.8,0.2 1.5,0.7 2.3,0.4 2,0.6 2,-0.1 1.6,0.4 1.2,0.8 1.8,-0.3 -1.7,-1.3 -2.6,-0 -1.2,-0.2 -1.9,0.2 -2.7,-0 -1.7,-0.2 -1.4,-0.7 -2,-1.5 -0.8,-1 -0.9,-1 -0.1,-1.6 -1.1,-1 -0.5,-0.6 -0.4,-1.2 -1.2,-1.2 -0.9,-2.3 -1.4,-1.7 -0.7,-0.7 -0.8,-1.7 -0.5,-1.2 -0.7,-0.6 -0.8,-1.2 -0.6,-2 -1.3,-1 -0.2,-1.1 -0.5,-0.9 0.2,-1.6 -1,-2 -0.5,-1.6 -1,-0.8 -0.5,-2.1 -1.2,-0.9 -1.3,-1 -0.9,-0 -1.1,-0.7 -1.6,-1.1 -1.1,-0.6 -1.7,-0 -1.9,-0.4 -2.6,0.1 -1.1,0.6 -2.3,-1.2 -2,-0.3 -1,-1.2 -1.2,-0.6 -0.6,-0.8 -0.9,-0.3 0.1,-1 -1.2,-0.2 -1.2,-1.1 -1.3,-2.1 -0.8,-1.3 -0.1,-1.8 0.1,-1 -0.1,-1.4 -0.4,-1.5 1.2,-0.6 1.4,-1.1 1.4,0.1 1,-0 1.2,0.6 0.2,-1.8 0.7,-1.6 -0.5,-1.5 -0.7,-0.7 -0.7,-0.9 -1.1,-1.2 -1.8,-0.9 -1,-0.3 -0.1,-1 -1.2,-1.2 -0.5,-0.9 -0.2,-1.5 0,-1.7 -0.5,-1.6 0.5,-1.4 0.5,-2.3 1.1,-1.7 1.1,-1.7 1.6,-0.8 0.9,-0.4 1.4,-0.7 1.4,-0.6 0.7,-0.5 0.5,-1.6 -1,0.8 -2.3,0.4 -0.4,0.7 -1.7,0.6 -1.3,-0.5 -1.6,-0.3 -1.1,0.3 -2.5,0.5 -2.1,0.6 -2,-0.2 -1.3,0.7 -1.1,-0.6 -1.8,-0.4 -0.7,-2.3 -0.8,-1.5 0.1,-2.2 0,-1 2.4,-0 1.8,0.1 2.1,-0.2 -1.1,-0.4 -1.8,-1 -0.8,-0.7 -1.3,-0.4 1.6,-0.6 0.1,-1.4 1.5,0.1 1.5,-0.6 1.6,-0.2 1.7,0.4 0.9,0.5 1.6,0.5 1.5,-0.9 1.7,-0.5 1.8,0.3 1.2,-0.1 1.8,-1.2 1.2,-0.5 0.4,-0.2 0.4,-1.2 1.5,-0.8 0.3,-0.7 1,-2.4 -0.3,-1.9 0.9,-2.2 -0.9,-1.3 -0.1,-0.5 -0.2,-1 -0.5,-1.2 -0.7,-0.9 -0.9,-0.7 -1.7,-1.8 -0.8,-1 -0.4,-1.8 -1.7,-1.6 -0.6,-1.5 -0.3,-1.1 -0.6,-1.1 -0.5,-1.7 -1.3,-0.8 -0.8,-1.3 -0.3,-1.2 -0.9,-1.2 -1.2,-1.6 0.3,-1.6 -1.4,-1.2 -0.7,-2.1 -0.1,-1 -0.8,-0.5 -0.5,-1.4 0.3,-0.8 -0.7,-1 -1.1,-1 -0.6,-1 -0.2,-1.6 0.3,-1.8Z M395.8,107.8l-0.1,-1.7 -0.3,-0.8 -0.9,-1 -0.6,-1.1 -0.6,-1.2 -0.2,-2 0.2,-1.8 0,-2.3 0.4,-2.1 -0.1,-0.7 0.4,-1 1.2,-0 1.8,0.4 1.9,-0 0.9,0.6 1,-0.6 0.5,0.6 1.8,-0.4 1.7,0.4 0.8,1.7 0.5,1.3 0.6,1 0.6,1 0.8,2 0.9,1.4 0.9,2.2 -0.2,1.6 -1.5,-1 -0.9,-0.5 -2.1,-0 -0.9,0.7 -1.8,0.2 -1.8,-0.2 -1.4,0.8 -1,0.2 -0.1,0.7 -1.7,1Z M510.3,108.3l0.9,-1.6 0.9,-2.1 -0.1,-2.1 0.3,-1.6 0.5,-1.2 0.8,-1.6 0.9,-1.9 0.2,-1.3 0.8,-1.3 -1,-2 1.1,-2.6 1.4,2.2 0.7,1.7 1.5,-0.2 1.7,-1.4 2,-0.9 0.3,-1.5 1.1,-1.5 0.9,-1.2 0.2,-0.8 1.2,-0.8 1.5,-0.6 1.4,-0.3 1.6,-0 1.9,-0.8 1.4,0.3 1.5,-0 0.6,1.9 -2.6,0.9 -1.2,0.9 -1.3,1.1 -0.9,1.9 1.3,1 1.1,2.3 1.5,-0.1 0.3,1.3 1.5,-0.2 1.9,-0.4 1.1,-1.5 1.6,0.1 1.7,-0.8 1.2,-0 1.7,-0 1.6,1.2 1.8,0.6 -0.6,1.5 0.2,1 0.2,-0 0.4,1.3 0.2,2.2 -0.1,1.3 -0.8,1.2 -0.4,0.4 -2,1.4 -1.3,0.7 -2,0.5 -2.2,2 -1,1.2 -0.7,0.7 1.9,1.3 0.9,1.7 1.7,0.8 1.3,-0.3 2.8,1 1.4,0.5 2,0.7 1,0.5 0.8,1.4 0.8,0.5 0.6,1.5 -0.8,0.8 -0.3,1.9 -1,1.7 -1.1,1.6 -1.3,-0.6 -1.3,-1.8 -1.3,-2 -0.7,-1.1 -2.1,-1.1 -0.6,-0.3 -1.9,0.6 -1,0.2 -1.3,1.1 -1.2,0.3 -1.4,0.7 0.3,1.4 -1.6,1 -0.8,1.5 -1,0.1 -1.8,0.7 -2,0.8 -1.6,0.5 -1.9,0.2 -0.6,0.1 -0.1,0.2 -1.7,-0.6 -0.8,-0.3 -1.4,-1.3 -0.5,-1.2 -2.1,-1.2 -0.5,-0.8 -1.4,-0.5 -0.8,-1.1 -1.1,-1.2 -0.3,-1.7 -0.8,-1.7 -2,-1.9 -0.4,-1.5 -0.9,-1.7 -0.6,-1 0.5,-0.5 0.1,-1.4Z M519.9,95.5l1.9,-0.7 0.9,-0.1 1.8,-0.7 1.4,0.3 1.4,0.5 0.1,0.1 1.1,-1.9 1.3,-0.7 1.3,1.3 1.4,1.6 0.3,1.4 1.5,1.7 0.3,0.9 0.8,1.6 -0.3,1.5 0.3,0.8 0.8,2.1 0.7,0.7 0.9,1 1.5,1 -1.5,0.1 -1.4,-0.8 -0.3,-0.7 -1.2,-0.9 -1.4,0 -2.2,-0.9 -2,-0.7 -0.8,0.1 -1.4,-1 -1.4,-0.1 -1,-0.1 -1.7,0.3 -0.4,1.7 0.8,1.4 0.3,1 0.8,0.7 -1.4,0.8 -0.5,1.6 -0.7,1.9 -1.6,-0.6 -1.2,-0.2 -0.5,-0.7 -1.3,-1.4 0.1,-0.9 0.6,-2.2 0.9,-1.8 1.3,-1.9 -1.4,-2.2 -0.9,-1.5 1.3,-1.3 0.6,-1.1Z M536.1,96.7l1.6,-0.1 2.2,-1 2,0.8 2.4,1.4 -0.4,1.8 0.5,1.4 -1.5,1.2 -1.9,0.8 -1.3,0.7 -2.2,-1.3 0.3,-0.9 0.7,-1.6 0.7,-0.3 -0.8,-0.6Z M472.6,125.3l0.3,-1.3 -0.6,-2.2 0.5,-1.2 1.1,-2.4 0.7,-0.6 2.5,-0.9 1.5,-0.7 0.8,0 0.4,-1.5 1.4,-1 0.3,-0.4 1.1,0 1.2,0.3 0.9,-0.4 2.2,0.2 2.4,0.6 1.7,0 0.2,-0.1 2.1,-0.1 1,1.1 1.9,0.1 2.8,1 1.3,-0.2 1.8,-1.3 1.3,0 0.3,-1.1 0.7,-1.7 1.3,-0.8 0.7,-1 1.9,-1.1 0.4,-0.5 1,-0.6 -1.4,1.1 -1.5,0 -1,0.5 -2.3,0.8 -0.9,0.1 -1.9,-0.1 -1,0.5 -0.2,-0.6 -1.9,0 -1.8,-0.6 -0.8,-0.1 -2.2,0.8 -1,-0.1 -1.8,-0.7 -2.1,0.7 -0.9,-0.2 -1.4,0.5 -1.5,-0.6 -1.7,-0.7 -1.5,-0.4 -1.8,0.4 -1,1 -1,1.7 -1,1.3 -0.4,0.8 -0.5,0.9 -0,0.8 -1.2,2.2 -0.2,1.2 -1,1.4 -0.8,1.3 -1.2,1.9 0.2,0.8Z M551.5,137.1l0.8,-0.4 1,-1.6 1.5,-0.6 0.6,0.9 0.6,1.5 0.8,1.7 1.2,1.1 0.8,0.8 0.3,2 1.4,0.9 1.5,0.7 1,1 1.1,1.6 1.9,1.3 0.6,-0.2 1.9,1.5 1.1,0 0.7,1.8 0.7,0.8 0.9,0.6 0.9,1.4 1.7,0.5 1.8,1.2 1.3,1.8 1.6,0.9 1.7,1.2 -0.6,1.7 0.2,2 -0.8,1.8 -0.6,0.8 -2,-0.9 -1.9,-0.3 -1.2,0.4 -2.1,-0.5 -1.2,-0.3 -0.5,0.4 -1.2,0.5 -2.6,0.5 -1.1,0.4 -2.1,0.8 -0.6,0.5 -0.8,0.4 -1.7,-0.4 -1.3,-0.6 -0.7,-0.4 -0.6,-1.5 -0.6,-0.9 1.9,-1.2 0.3,-1.1 1.5,-0.4 1.9,-0.5 0.9,-1 1.4,-0.3 1.3,-1.5 0.8,-0.1 0.9,-1.4 1.6,-1.1 -1.3,-1.6 -2.3,-0.8 -1.8,1.4 -1,0.1 -0.7,-0.8 -0.8,-1.6 0.2,-1.6 -0.5,-2.2 -1.6,-0.3 -1.7,0.3 -1.9,-1.1 -1,-1.2 -1.2,-1.1 -0.4,-1.7 0,-1.9 0.7,-0.9 -0.8,-2.5 -1.5,-1.1Z M255.5,45.9l-1.6,0 -1.6,0.2 -1.8,0 -2.2,0 -0.9,0.3 -2.4,1 -1.2,-0.4 -2,0.1 -1.1,-1.3 -0.6,-0.9 0.6,-2 -0.4,-2 0.1,-1.5 0.6,-2.3 0.5,-0.8 0.1,-2.1 1.1,-1.5 1.1,-0.8 0.2,-1.5 1.3,-0.4 0.2,0.6 0.3,-0.7 0.9,-0 -1,-2 -1.3,-0.4 -1.2,-0.3 -0.8,0.8 -0.7,1.7 -0.1,1.3 -0.8,1.6 -1.2,0.7 0,1.3 0,0.7 -0.1,1.6 -0.7,1.6 -0.6,1.1 -0.9,1.3 0,1.9 -0.5,1.2 -0.8,0.9 -0.9,1 0.3,1.1 -1.6,0.8 -0.1,1.6 0.4,2.8 -0.5,2 -0,1.7 0.6,1.3 0.2,1.8 1.1,-2.2 0.4,-1.3 0.8,-2 -0.6,-2.2 0.4,-1.5 -0.2,-1.5 1.5,-0.2 0.6,-0.4 1.3,-0.7 0.9,-1.3 0.8,-0.1 1.1,-0.8 0.7,0.3 1.7,-0.5 0.8,-0.2 1.9,-0.4 1.5,0.9 2.4,0.2 2,-0.1Z M241.6,61.7l0.9,-0.6 1,-1.1 1.4,-0.6 0.9,-1.1 0.2,0.5 1.1,-0.1 1.8,0.7 1.2,0.4 1.3,1.6 0.2,0.9 -0.8,1.9 -1.5,0.5 -0.9,1.1 -1,-0.4 -0.7,1.1 -0.7,-0.6 -2.1,0.1 -1.6,0 0,-1 -0.9,-1.6Z M234,63l1.6,-0.2 1.1,-0.5 1.4,1.7 1,0.6 -0.1,1.5 -0.5,1.4 0.1,1.4 1.7,1.8 -0.4,0.7 -0.4,1.4 -1.6,-1.3 -1.1,-0.5 -0.9,-1.7 -1,-2.2 0.6,-2Z M249.8,82.6l0.9,-1.4 1.1,-1.5 1.2,-0.1 2.3,-0.6 0.6,1.4 1.7,0.9 0.4,1.8 -0.8,2.3 -1.4,0.8 -1.1,0.9 -1.1,-0.2 -2.6,-1.2 0.1,-1Z M264.5,87.8l1.3,-0.7 0.5,-1.6 1,-1 0.6,-0.2 0.1,0.1 0.9,0.5 1.5,0.6 1,1.1 -0.2,0.9 -0.5,0.9 -1.4,1 -0.6,0.1 -1.4,0.4 -1.9,-0.1 -1.5,-0.5Z M246,70.9l2.1,-1.2 2.8,-1.5 2.8,0.3 2.5,-1.1 1,-0.5 0.6,-0.2 -0.7,1.1 -1.9,1.3 -1.2,0.3 -1.5,0.5 -0.8,0.7 0.1,0.6 -1.6,0 -2.5,0.5Z M233.5,211.4l1.3,1.2 1.4,1.5 1.4,1 1,1.7 0.9,1.1 1.3,-0.4 1.7,1.1 1.5,0.4 1.9,0.5 0.9,0.4 1.5,0.4 0.3,1.1 1.7,0.4 0.9,1.2 1,-0.1 1.7,0.2 2,-0.5 1.1,1.2 2.2,0.4 0.2,0.3 1.3,0.7 0.1,1.1 0.5,2.3 -1.1,2.2 -0.5,1.7 -0.3,2.2 -0.4,1.6 -1,0 -0.9,0.4 -1.2,-1.4 -1.2,0 -0.6,-0.5 -1.8,-1.2 -1.7,-0.6 -1.6,0.6 -2,-1 -0.8,-1.6 -0.9,-0.2 0.3,-1.5 -0.8,-1.5 -0.1,-1.3 -1.6,-1.4 -1.6,-0.9 -0.6,-0.4 -0.9,-0.3 -0.9,-1.5 -0.8,-1 -0,-1.9 -1.8,-2 -0.9,-1.2 -2.1,-2.1 -1.3,-0.6Z M511.5,310.3l-0.5,-2 -0.5,-1.6 -0.5,-1.7 0,-1.8 0.7,-2 0.7,-0.9 1.2,-1.7 0.2,-1.8 0.5,-1.6 0.2,-1.1 0.8,-0.8 0.5,-0.8 1,-0.7 1.2,-1.3 0.5,-0.2 0.5,-0.5 1.1,-0.8 1.1,-1.6 2,-1.7 1.2,1.3 1.2,1.9 0.5,-0.3 1,-0.1 0.5,-0.3 1,0.6 2.1,-1 1.4,-0.6 1.4,-2.3 0.1,2.4 1.1,1 1,1.3 0.9,1.8 0.6,0.9 1.2,1.5 0.4,1.3 0.4,0.7 0.3,1.1 -0,0.5 1.1,1.4 0.6,1 0.4,2.5 1,1.7 1.8,1.5 0.8,1.5 2.2,0.8 1.5,0.4 0.6,1.5 1.2,0 -0.8,1.5 -0.4,1 -1.4,1.2 -1.3,1.8 -1.2,1 -0,1.3 -0.1,0.4 -0.2,0.9 -2.1,-1.5 -0.7,-1.7 -0.7,-0.6 -1,-0.6 -1.3,-0.8 -0.5,-0.9 -1.9,-0.5 -1.1,0.4 -1.8,0.3 -2.4,1 -1.4,0.3 -1.7,0.4 -1.1,-0.7 -0.2,-0.8 -0.8,-1.1 -1.5,0 -1.5,-1.3 -2.1,0.5 -1.1,1.1 -2,-0.5 -1,0.6 -0.7,-0.5 -0.5,0.5 -1.1,-0.5 -1.6,-0.4Z M182.7,780.1l0.9,-1.8 1.7,-1.3 0.4,-1.1 1.5,-0.9 -0.2,-0.9 1.3,-1.5 1.3,0.6 1.6,-0.4 0.7,0.8 1.2,1.8 -1.2,0.3 -0.5,1.1 -0.8,1.4 -1.5,0.9 -1,1.7 -1.2,-0.2 -1.8,-0.2 -1,0.7Z M412.1,151l0.6,-0.6 0.3,-1.2 2.6,-2.2 1.4,-1.6 0.9,-0.9 0.4,-1.1 0.6,-0.1 0.2,-0.5 0.9,-1.7 1.6,-1.5 1.2,-1 1.7,-0.2 1.7,-0.4 1.1,2 -0.3,0.3 -1.3,0.7 -1.1,0.7 -2.3,0.8 -1.5,0.9 -1.2,1.6 -1.8,1.2 0,1.4 -0.9,0.6 -0.1,0.6 -0.9,0.5 -0.9,0.7 -2.1,1.5Z M258.1,71.3l2,-0.1 0.4,1.2 -1.9,0.4Z M245.1,76l2.1,0.3 0.6,1.6 -2.7,-0.3Z M263.7,79.5l0.3,0.4 0.8,0.7 0.6,2.4 -0.5,-0.1 -0.4,-0.7Z M244.8,82.3l2,-0.1 -0.1,1.8 -1.3,-0.7Z M246.8,86.4l1.8,0.1 0.9,1 -1.5,0.2Z M254,82.6l0.7,0.3 0.6,2.1 -1.2,0.9Z M262.7,75.2l2.6,1.2 -0.6,1.1 -1.9,-0.5Z M227.5,114l1.7,0.6 1.8,-0.6 -0.4,1.8 -2.3,-0.4Z M251.6,128.1l1.9,-0.7 -1,1.7 0.8,1 -2,-0.3 0.5,-1.2Z M233.6,139.9l1.5,-0.3 1,0 -0.3,2 -2.1,-0.7Z M239.6,141.5l1,0 0,0.6 -1.1,2.4 -1.6,-0.5Z M226,148.8l3.1,0.6 -0.3,1.5 -2,-0.5Z M216.2,160.3l1.8,0 2.2,-0.5 -1.5,2.4 -1.4,-0.3 -1.2,0.4Z M127,166.1l1.8,-1.1 0.7,-1.2 1.2,0 2,0.7 0.6,0.9 -1.9,0.5 0.7,1 0.1,0.6 -1.7,0.2 -1.9,0.9 -1.2,-0.9 -0.7,-1.4Z M139,161.4l1.7,-1 1.8,-1.2 1.6,0.4 0.8,-1.2 1.6,-0 0.7,-0.2 1.7,-0.7 2,-0.7 1.6,0.1 1.7,-0.1 0.2,1.4 -2.4,0.7 -2.8,-0.3 -1.4,0.4 -1.3,0.5 -1.4,-0 -1.2,-0.1 -1.2,0.3 -0.6,1.2 -0.9,2.3 -1.8,-0.3Z M157.1,154.3l1.8,-0.4 1.3,-0.1 1.1,-0.2 0.9,-0.1 1.3,0.8 0.9,0.1 2,-0.2 -0.9,1.9 -0.9,-0.2 -1.4,0.6 -1.4,0.3 -1.4,0.4 -2.1,-1.2 -1.4,0.2Z M168.1,156.2l2,-1.1 2.2,-0.8 0.1,1.3 -1.2,1.1 -1.4,1Z M172.1,155.6l0.7,-0.4 1.5,-0.8 1.3,-1 1.5,0.5 1.5,-0.5 2,0.7 2.4,0.3 -0.1,1.8 -1.5,-0.6 -1.2,0.5 -2,-0.1 -1.2,-0.3 -1,0.3 -1.8,0.3 -2.2,0.1Z M187.5,155.1l1.6,-1 1.7,-0.2 1.3,-0.2 1.7,-0.8 2.4,-0.1 1,0.1 -0.4,1.4 -1.9,-0.1 -0.8,0.4 -1.4,0.8 -2.3,-0.3 -2.1,0.9Z M197.9,152.5l1.9,0.6 2.2,-0.3 1.6,-0.8 0.7,-0.1 2.3,1 -1.1,1.1 -1.7,0.7 -2.7,-0.5 -1.5,-0.6 -1.6,-0.6Z M209.4,153.9l0,-0.2 -0.7,1.5 -0.3,2.8 -0.8,0.6 0.9,-2.1Z M214.1,161.5l1.6,0.8 1.7,-0.2 1.4,0.1 0,1.2 -2.7,-0.7 -1.3,0.7Z M233.3,137.2l1.9,0.4 1.9,1.8 -1.8,0.3Z M237.8,142.9l1.4,-0.4 0.1,1.8 -1.7,0Z M232.3,154.3l1.1,-0.9 -0.1,0.1 -1.7,0Z M136.5,163.8l1.2,0.9 0.2,0.7 -0.5,-0.8Z M166,440l1.1,0.9 2.4,-0.3 0.5,-0.6 M238,182.4l-0.6,1.4 -1,0.9 -1.5,1.6 -1,2.5 0.1,1.1 -0.1,1 0.1,1.3 0.6,1.7 0.7,2.4 -0.1,1.2 0.2,1.4 -1.6,1.3 0.1,1.9 -0.1,1.5 -0.2,2.2 -0.5,2.4 -0.1,0.8 0.3,0.7 -0.3,2.3 M240,187l-2.2,1.1 -1.5,1.2 0.3,1.3 -0.2,1.4 -0.8,1.5 -0.3,1 0,1.2 -0.1,1.8 0.6,2.1 0.4,1.5 0.3,2.1 -0.7,1.5 -0,1.3 0.8,1.5 0.2,2.2 -1.1,1.3 -1.3,1.4 M135,302.4l1.7,0.1 2.6,0.2 1.1,-0.7 1.7,0.7 1.2,0 1.9,-1.3 0.9,0.1 1.5,-1 1.9,-1.5 1.2,-0.2 1.7,-0.7 2,-0.4 1.5,-0.1 1,-0.5 1,-0.8 1.5,-0.5 1.3,-0.5 1.8,-0.4 0.8,0.2 1.6,-0.5 1,-1 2,-0.2 1.7,-0.5 0.1,-1.9 0.1,-2.3 1,-2.2 0.7,-1.4 0.3,-0.7 0.8,0.8 1.2,-0.1 1.3,1.9 0.3,0.9 0.7,1.6 2.4,1 1.5,1.1 2.1,1 0.8,0.1 1.3,1 0.5,0.6 1,0.3 1.8,0.7 2.1,1.5 1.9,0.9 0.8,0.7 1,0.8 0,1.2 -0.6,2.2 -1.1,1.1 -1,0.1 -1.3,1.4 -1.7,1 0.4,0.6 -0,2.2 0.1,1.9 1.7,2 0.7,1.5 1.5,0.9 0.7,1.3 1.2,-0.2 0.5,1.6 -0.4,0.7 -2.1,0.4 -1.1,1.1 -1.4,-0.5 -1.2,1.2 -0.9,0.9 -0.9,0.4 -0.3,1.8 -1.1,1.7 2.4,1.2 1.8,1.8 1.5,0.4 1.1,0.6 1,-0.7 1,-0.5 0.9,-0.1 1.2,-0.9 1.8,0.1 1.1,-0.9 2.2,-0.1 1.7,-0 1.5,-1 1.3,-0.6 1.4,0.4 1.1,-0.5 0.4,-0.8 1,-0.7 0.5,-1 1.9,-0.2 1.8,0.1 1.5,1.5 2.2,0.6 0.9,-0.5 1.4,-1.5 1.5,-1.9 0.3,-1.3 0.8,-1.7 0.8,-0.7 -0.2,-1.9 -0.2,-1.3 -0.8,-0.9 0.1,-1 0.1,-1.2 0.1,-1.5 0.6,-1.9 0.6,-1.8 -0.9,-0.9 -0.1,-1.4 -0.8,-0.8 -1.3,-0.5 -0.5,-1.2 -1,-1.4 -1,-1.8 -0.7,-1.2 0,-2 -0.3,-1.4 -0.7,-1.5 0.7,-1.3 0.9,-2.1 2.2,-0.3 1.3,-0.1 1.3,-0 2.3,-0.7 1.6,-0.7 1.8,-1.1 1.3,-1.1 1.5,0.2 1.1,-0.1 1.1,-0.1 2.1,-0.2 1.5,-0 0.7,0.3 1.3,2.4 0.2,2.4 0.6,1.1 -0.8,2.1 -0.8,1.3 0.1,2.4 1.1,1.1 1.2,0.7 1.3,0.4 0.5,0.6 1.8,-0.5 1.4,0.9 1.7,-0.8 1.8,0.2 1.9,-0.4 1.1,-0.3 1.4,-0.8 1.3,-1.2 2.1,-0.2 1.1,-0.9 1.2,-0.2 1.2,-1.4 1.7,-0 1.1,-0.7 1.7,-1.2 0.2,1.5 0.9,0.8 -0.2,0.5 -1.4,1 -0.4,1.4 -1.1,1.8 -1,1.5 -0.9,-0 -1.6,0.8 -0.4,0.8 -1.4,0.7 -0.4,1.4 -1.5,2.2 -0.3,1.4 -0.6,1.2 -0.6,1.7 -0.4,-0 0.7,1.2 0.3,0.2 1,1.5 0.8,1.4 1.7,1.1 -0.7,1.7 -0.8,2.1 -1.1,1.2 0.2,1.5 -0.8,1.4 1.7,0.3 0.7,1.1 1.3,1.2 0.7,1.1 1.3,1.2 1.6,0.7 1.7,0.9 0.7,0.3 -0,1 -0.6,1.3 0.3,0.3 0.2,1.8 0.4,0.7 0.9,2.5 0,1.5 1.2,1 1.3,2.4 0.6,0.9 -0.4,1.5 1.5,1.2 0.5,-0 1.2,0.9 0.2,1 0,1.5 1.1,1 0.5,0.4 1.3,0.7 1.2,1.9 0.9,1.4 1.2,1 M278,355.6l1.1,0.4 0.3,0.9 -0.6,1.7 0.4,1.1 -0.4,1.8 -0.8,1.5 M278,363l-0.8,1.4 -0.6,2.1 -0.9,1.6 -0.3,1.6 0.3,1.3 0.9,1 0.6,1.3 -1,0.1 -0.5,1 -0.6,0.7 -1.4,1.1 -1.2,2.2 -0.4,2.2 0.4,1.8 -0.4,1.1 -0.6,1 -1.4,1.9 -0.4,1 -1.2,0.9 -0.4,1.1 -0.6,1.9 -1.8,0.3 -1.9,0.7 -0.8,-0.3 -1.4,0.7 -0.9,1 -1.4,1.1 -2.1,-0.2 -1.2,0.2 -1.9,0.1 -0.4,-1 -0.3,-1.6 -0.2,-0 -1,-0.9 -1.9,-1.2 -1.8,-0.1 -1.3,0.2 -0.8,0.3 -0.7,-0.3 -0.8,0.4 -0.9,1.1 1.3,2.3 0.3,2.2 -1.6,0.8 -2,0.7 -2.4,1.1 -2.2,0.2 -2.2,1.1 -1.3,0.4 -2.1,-0.6 -0.6,0.2 -0.5,1 -0.9,-0 -1.3,1.7 -1.6,-0.4 -1,1.6 -0.7,0.7 -1.6,0.7 -2.1,1.9 -1.9,0.5 -0.7,0.7 0.7,0.7 -0,1.1 0.6,0.9 1.3,1 2.1,0.3 0.9,0.6 0.3,-0.4 1.7,1 1.7,1.2 0.7,0.6 0.9,1.5 0.7,0.8 -0.7,1.9 -0.5,1.9 -1,0.8 -0.4,1.3 0.4,1.4 -1.6,0.3 -0.6,0.3 -0.8,1.9 -0.7,0.8 -0.9,1.3 -0.8,0.6 -1.9,-0.1 -1.7,-0.6 -1.7,-0.9 -2.2,0.9 -1.3,0.2 -0.2,2.3 -0.1,2 -0.8,1.3 0.2,1.7 -1.7,1.1 -0.6,1.1 -0.5,1.6 M71.6,487l1.6,1.1 2.3,-0.3 2.2,0 1.1,0.2 1.1,0.3 0.7,-0.1 1.5,-0.5 1.1,-0.3 1,-0.2 1.6,-0.1 1.9,-0.5 2.2,0.3 1.5,2 1.4,0.6 2.1,0.5 0.9,0.5 0.9,0.3 0,-1.2 1,-1 0.1,-1.1 0.5,-1.9 -0.7,-1.8 -0.9,-1.2 0.8,-1.1 -0.1,-0.8 1.5,-1 1.3,-0.8 1.7,-0.7 2,-0.3 1.6,-0.5 0.2,-1.1 -0.3,-1.5 -0.4,-1.5 0.8,-0.7 1.5,-0.3 2.7,-0.4 1.8,-1.3 1.3,-0.2 1.4,-0.1 0.8,-0.4 0.8,-1.1 0.9,-0.1 2.1,-0.3 1.5,-0.2 1.4,-0.4 1.1,-2.1 1.2,-0.2 0.5,-0.4 1.3,-0.4 1.5,1.3 1.5,1 1.4,0.7 1.2,-0.2 1.8,-0.5 1.9,-0.8 1.2,-1.1 1.7,-1.5 0.8,-1.5 1.2,-1.5 0.9,-1.7 2.2,-0.2 2.1,-1 1.2,-0.7 1.8,-0.1 0.7,-1.1 1.7,-0.1 1.3,-1.3 1.3,-0.5 1.1,-0.8 1.4,0.1 1.1,0.1 1.4,-1.1 2.2,-1.8 1.6,-1.8 1.2,-1.2 0.8,-0.4 0.5,-1.1 -0.4,-0.9 0,-2 0.8,-1.3 0.8,-1.7 M170,440l1.3,1.3 0.9,1.4 1.6,0.6 1.4,0.6 0.9,1.5 1.2,1.4 0.4,0.9 1.2,1.2 -0.3,1.6 -0.6,1.8 -0.7,2 0.6,0.7 0.9,1.8 0.7,1.1 0.8,0.9 1.4,1.1 0.3,1.7 0.7,1.1 0.8,1.7 0.5,1.2 M184,465.6l1,-1.8 1.2,-1.5 0.7,-0.8 0.5,-1.4 -0.3,-1.1 0.1,-2.5 0.8,-1.3 0.9,-0.9 1.5,-0.8 1.8,-0.8 2.1,-0.6 0.3,0 1,-1.2 0.5,-1 0.3,-1.1 2.5,-1.1 2.4,-0.3 1.7,0.5 1.7,-1 2.2,-1.8 0.9,-0.7 1,-0.9 1.2,-1.5 0.5,-0.6 0.5,-1.4 M184,465.6l0.2,1.5 0.7,1.3 0.1,1.9 0.6,1.9 -0.7,1.7 0.7,0.9 -1.5,1.1 -0.7,1.4 -0.3,1.2 -2,0.3 -0.6,0.7 -1,0.3 -1.2,1.2 -1.6,0.2 -0.6,0.8 -1.3,1.8 -0.9,1.5 -0.4,2 -0.6,2.1 0.4,2.4 -0.3,2.2 0.9,0.5 0.7,0.9 0.7,1.5 0.9,0.7 0.8,0.7 1.6,0.8 1.2,1.2 1.4,1.3 0.4,1.1 0.1,1.4 -0.5,1.1 0.8,1 -1.5,1 -2.2,1.3 -1.5,0 -1.3,1 1.1,2.1 -1.4,0 -1.8,0.7 -2.1,0.6 -1.5,1 -1.3,-0.4 -0.3,1 -0.3,1.8 -1.1,1.3 -0.6,2.7 -0.1,1.7 1.1,0.9 0.4,1.3 -1.4,0.1 -2.2,-0.7 -1.3,0.3 -1.8,-0.2 -1.5,0.8 -1.4,1.1 1,1.9 0.6,1.3 -0.1,1 1,1.5 0.2,1.4 0.8,1.6 0.8,0.9 1.3,1.4 1.6,0.9 0.9,0.1 1.3,0.8 2.4,-0.3 1.7,-0.5 2,-1.1 1.5,-1.1 1.5,-0.4 2,-0.5 2.3,-0.6 1.5,0.5 1.2,-0.4 1.5,0.2 1.8,-0.2 0.3,0.7 1.1,1 1.3,0.5 0.8,1.4 0.4,1.8 0.3,0.1 0.6,0.8 0.6,1.6 0.8,1.3 0.6,1.8 0.2,2 0.3,2.8 0.4,0.9 0.1,2.4 0.6,1.2 0.5,1.4 0.7,1.3 1.5,1.2 0.3,2 0.7,0.9 1.5,1.3 -1,0.8 -0.6,0.4 -1.5,1.3 -0.6,-0.2 -1.7,0.2 -1.1,1.3 -1,1.4 -0.3,2.3 0.5,2.6 -0.5,2 -0.2,0.6 1,1.6 1,1.1 0.3,1.2 0.8,1.8 0.5,1.9 0.2,1.4 0.7,1.6 0.7,1.8 -0.1,0.9 0.8,1.4 0.7,1.4 0.9,1 0.8,1 -0.4,1.1 -0.7,1.7 0.3,1.7 -1.2,2.1 -1,1.7 -0,0.6 -0.2,1.4 -0.1,0.8 -0.6,1.4 -0.4,2.3 M194,578l1.8,0.9 2.2,-0.2 1.1,0.2 -0.5,0.8 0,1.2 0.6,1.3 1.8,1.6 1.7,1.2 1.1,1.4 1.3,1.1 0.3,-1.6 0.6,-1.9 0.9,-1.6 -0.3,-2.4 -0.1,-1.5 0,-1 1.3,-1 2.2,-0.6 1.7,0.4 1.4,0.6 -1.2,1.2 -1,1 0.2,2.1 -0.3,2.2 1.2,2.2 1.5,0.3 0.9,1.4 2.6,-0.6 1.4,0.6 1.7,-0 1.1,0.9 0.4,1.4 0.6,0 -0.8,2.3 -0.5,1.5 -0.9,1.6 -0.3,0.6 -0.5,1.4 -1.4,0.8 1.8,-0.1 2,0.8 0.6,-1 1.5,-0.3 0.6,-1.8 1.2,-0.8 -0.4,-1.7 0,-1.7 0.4,-1.3 0.7,-0.5 1.6,0.5 1,-0.7 1.3,0.4 1.6,-0.5 1.6,-0.5 1.8,0.5 1.9,0 1.4,0.3 1.6,0.2 M278,520l-0.9,0.6 -1.7,-0.1 -2.1,-0.6 -1.7,0.3 -0.9,1.4 -0.2,1.8 -0.2,1.5 0.1,1.2 -0.3,1.4 -0.3,0.6 0.5,2.1 -1,1.8 -1.1,0.1 -1.1,0.5 -1.1,-0.6 -1.4,-1.1 0.2,-1.7 -0.9,-0.8 -1.6,0 -1.5,-0.8 -2,-1.2 -2.2,-0.9 -1.1,0.8 -0.9,0.7 -1.4,0.6 -1.4,0 -1.7,0.5 -1.1,0.5 -1.4,0.7 -1.9,1.6 -1.3,0.4 -1.7,-0.4 -2.1,-0.5 -1.9,-0.2 -1.3,0.8 -1.5,0.6 -0.5,1.7 0.8,2 0.5,1.7 1,1.6 -0,1.8 -0,0.9 0.2,2.3 -0.4,1.4 0.2,2.4 0.8,1.2 0.3,2 0.5,1.1 -0.8,1.5 -0.2,1.3 0.3,1 -0.4,1.5 1.1,2 1,0.8 0.4,1.3 1.5,1.2 0.9,1.1 -0,3 0.2,1.8 -1.3,1.6 -1.3,1.4 0.3,1.4 0.1,1.5 0.4,1.3 0.1,2 -0.8,1.6 -0.4,1.5 -0.4,0.8 -1.2,1.9 0,0.5 0.3,1.5 0.7,1.2 0.2,2.6 M307,498l-1.3,1 -1.1,2 -1.4,0.8 -1.5,0 -1.9,0.8 -1.9,0.3 -1.7,1 -0.7,0.8 -1.4,-0.8 -0.8,-0.8 -0.6,-0.1 -0.8,0.3 -2.2,0.1 0.2,1.7 -1.2,0.2 -0.6,1.6 -1.1,1.2 -0.8,1.8 0.5,1.7 -0.3,1.5 -0.7,0.8 0,0.8 -1.7,0.1 -1.2,1.2 -1.9,1.7 -1.6,1.5 -1.3,0.8 M240,589l0.7,-1.6 1.6,-1.6 0.7,-2.2 1.5,-0.9 1.4,0.3 1.4,-0.7 1.7,0.3 1.8,-0.6 1.2,0.1 1.3,0.2 1.8,-0.8 1.2,-0.6 1.3,-1.6 1.8,-1.1 1.6,-0.6 0.1,-0.7 1,-0.3 -0.2,-1.7 -0.7,-1.4 -0.1,-1.4 -1,-1.5 -1.7,-0.5 -1.3,-0.1 -0.5,-1.5 -0.7,-0.5 0.8,-0.8 1.3,-2.5 1.5,-0.9 1.7,-1.1 1.5,0.2 1.6,0.9 1.9,1 2.2,0.9 2.7,-0.6 1.7,-0.6 1.7,0.4 1.2,0.6 1.2,-0.7 1.1,0.2 M323,660l-0.4,1.2 0.1,1.2 -0.6,1.6 -0.7,1.6 0.3,1.6 -0.7,1.8 -0.6,2.7 0.7,1.5 -0.4,1.6 1.6,1.7 1.3,0.8 -0.4,0.8 -0.4,1.3 -1.6,0.1 -1.9,0.8 -1.8,-0.3 -1.7,-1.5 -0.1,-0.3 -0.3,0.2 -1.5,-0 -1.1,-0.8 -1.2,1.4 -1.4,2.1 0.4,0.9 1.4,2.1 1,1.1 -0.7,2.3 0.3,1.1 -0.5,1.9 -0.4,1.2 -0.4,2 -0.2,1.8 -1,0.4 -2.3,1.2 -2.3,-0 -2,0.9 -1.3,-0.1 -0.3,0.9 -1.1,0.3 -0.3,0.1 -2.2,-0.2 -1.2,0.7 -1.1,0.5 -0.1,1.4 -0.6,1.3 -2.4,1.3 -0.8,1.2 -2.1,1.3 -1.6,1.3 0.9,0.3 0,1.7 0.7,1.4 0.8,1.9 0.2,0.4 0.8,0.3 0,0.9 1,1.1 1.1,2.3 0.9,2 0.2,2.2 0.2,1.6 -0.3,1.9 0.5,0.7 -0.2,2.4 0.1,1.2 1.3,2 0.4,1.6 1.4,1.5 1.2,1 0,1.8 0.3,1.4 -1,1.8 -0.1,1.6 -0.3,1.5 -0.2,1.6 -1,2.2 -0.9,0.9 -0.7,1.3 0.5,1 -0.4,0 0.3,1 0.4,1.8 -0.5,1.7 -0.4,1.2 -0.5,1.8 -0.5,0.4 -0.6,1.9 0.6,1.2 0.4,1.4 -0.8,2.2 -0.8,1.6 -0.7,0.9 0.3,2.2 0,0.5 -0.6,1.5 0,1.5 0.5,1.4 0.8,2.5 0.2,2.3 -0.8,0.8 0.2,0.9 -1.3,-0.7 -0.7,-0.8 -1.2,-0.6 -2.3,-0.4 -1.1,0.3 -1,-0.2 -0.9,0.4 -1.8,0 -2,-0.9 -2.1,0.2 -1.5,-0.3 -0.2,-0.2 -1.8,0.7 -1.2,0.5 -1.2,2.1 -1.4,0.9 -1.2,1.6 -1,1.6 -0.4,1.6 M278,565.4l-0.6,1.6 -0.7,2.4 -0.1,0.6 1.1,1.2 0.4,1 1.3,0.8 1.6,0.4 1.7,-0.5 1.8,-0.8 1,-0.3 1.4,0.8 1.1,0.2 0.2,2.1 0.1,1.6 0.7,2.1 -0.2,1.5 -0.7,1.9 0.2,2.4 0.4,2 -0.3,1.9 -0.5,0.7 -1,0.4 1.7,0.7 1.2,-0 0.8,-0.3 0.5,-0.9 0.8,0.6 0.9,1.3 -0.1,1.2 0.5,1.5 0.1,2.3 0.2,0.5 2.1,0.5 1,0.5 0.5,-0.7 2.1,-0 0.2,-2 1.5,-1.8 0.9,-0.4 2.5,-0.8 0.2,1.5 0.1,2 0.4,2.4 0,1.8 1.6,1.4 -0.2,2.3 0.6,1.2 0,1.1 -1,1.1 0.2,1.7 -0.9,1.3 -0.7,0.9 0.2,2.2 -0.5,1.5 0,1.8 -0.6,1.9 0.9,1.4 0.1,0.4 1.4,0.3 0.4,0.8 -0.1,0.4 0.8,1.4 -0.1,0.3 1.1,2 1.4,1.7 1,2.2 0.4,1 0.7,2.1 0,1.5 1.1,1.8 -0.7,2 -0.3,1 -0.8,1.5 0.3,0.7 0.6,1.6 1.3,0.6 0.4,1.8 1.4,1.7 1,0.9 0.3,1.7 -0.3,2.3 0.3,0.5 0.5,0.7 1,0.8 1.3,2 1.8,0.2 1.3,1.3 0.1,2.3 0.7,1.4 M60,569l1.1,-0.1 1.2,0.8 2.4,0.4 1.4,-0.4 1.1,0.9 0.1,-0.1 1.9,0.1 1.7,1.3 2.5,-0.1 2.1,1 1.1,-0.7 0.5,0.5 1.2,-0.9 1.3,-1 1.8,-0.1 1.7,-0.7 1.5,0.6 1.7,-0.8 2.9,-0.1 1.3,-0.3 1.6,-0.3 1.4,-0.8 2.1,-1.1 1.5,-1.1 1.9,-0.8 1.1,-1.4 1.8,0 1.4,0.5 1.9,0.2 1.8,1 1.1,1.1 1.6,1.1 0.5,0.7 1.2,1.1 1.7,1 1.1,0.9 1.6,0.1 1.4,0.1 0.8,2 0.6,0.5 1.4,2.2 0.1,0.6 0.6,1.3 0.5,0.7 -0.1,1.3 -0.6,1.5 0.1,1.3 0.8,1.4 -0.7,2.3 0,1.5 0.8,0.4 0.7,1.4 1.1,2.1 0.7,0.9 1.1,1.5 0.3,1.4 0.1,1.7 0.5,1.3 0.3,1.9 0,1.4 -1,0.7 -0.7,0.7 -1.8,1.7 -0.5,0.6 -0.7,1.5 -1.6,0.6 M120,608l-0.9,-0.1 -1.5,0.7 0.2,2 -0.1,0.5 0.5,0.9 3.5,1.4 2.3,1 M196.4,608l-1.3,1.5 -1.2,1.2 -1.3,0.5 -1.2,0 -0.3,0.6 -1.1,1.3 -0.2,1.8 -1,1.4 -0.5,1 -0.4,2.3 -0.3,1.6 0.3,2.2 -0.4,2.4 -0.5,1.7 -0.3,2 -0.6,0.3 -0.9,1.8 -0.5,0.7 -1,1.2 -0.8,1.3 -1.6,0.5 -1.9,0.8 -0.7,0.6 -1.4,2.3 -1.3,1.4 M609,397l-1.6,0.7 -1.6,0.7 -0.2,-0.5 -1.7,-0.2 -1.2,-0.1 -1.8,-0.3 -1.5,0.2 -2.8,1.1 -1.5,0.6 -1.5,-0.1 -1,0.8 0,1.4 -0.5,-0.5 -0.4,-0.4 -2.1,-0.1 -1.1,-0.5 -2.1,1.3 -2.5,0.7 -1.6,0.3 -0.6,-0.2 -1.3,0.3 -1.4,-0.7 -1.1,-0.2 -1.5,0 -1.8,-0.1 -1.9,-0.4 -1.2,1.7 -0.7,1.3 -0.3,1.5 -0.8,1.7 -1.1,0.6 0.1,1.2 -1.4,1 -0.5,1.9 -1.6,1.3 -0.7,1.4 -0.9,0.4 -1.4,0.6 -1.4,0.2 -1.6,1.1 -2.1,0 -1.8,1.1 -1,0.3 -1.7,0.3 -0.6,-1.6 -0.4,-0.2 -1.4,0.7 -1.4,-0.2 -0.7,0.3 -1.2,0.5 -1.5,-1.3 -1.1,-0.2 -2.1,0.4 -1.1,-0.4 -1.6,-0.1 -1.5,-0.2 -0.8,-0.4 -1.2,-0.9 -1.1,-0.5 -1.9,-0.4 -1.2,-1 -2.5,-0 -1.3,-0.7 -0.6,-1.5 -1.1,-0.7 -0.7,-1.4 -1.1,0.2 -2.4,1.3 -1.4,-0 -1.9,0.5 -0.6,1.3 -0.7,0.7 -0.4,0.4 -1.8,0.2 -0.3,-0.9 -0.8,-0.5 0.8,-0.9 -0.4,-1.8 -0.3,-1.9 -0.1,-2 -1.1,-1.2 -0.1,-2.1 -0.6,-1.7 -1.3,-1.1 0.2,-1.5 -0.5,-1.4 -1.5,-1.6 -0.3,-1.9 -1.2,-1.1 -0.8,-1.7 -0.7,-0.8 -1.3,-1.2 M470,350l1.9,1 1.4,0.3 1.2,0.3 0.6,0.2 1.1,0.5 1.1,-0.1 1.6,-0.2 0.7,-0.5 -0.1,1.5 0.7,1.3 2.1,0.4 1.6,-0.5 1.8,0.7 1.6,-0.2 1.7,1.1 1.2,-0.2 0.7,0.6 1.2,2.1 0.2,0.4 1.8,0.6 1.8,1.2 1.8,0.4 2.3,0.1 1.5,1.1 1.2,1.7 1.1,0.6 1,1.4 1.2,0.7 2.1,-1 2.8,-0.6 1.2,1 -0.1,1.7 -1.5,2.4 -1.3,1.6 0.2,1.5 -0.4,0.9 1.3,1.7 -0.1,1.6 0.6,1.5 1,2.2 -0.8,1 -0.1,1.9 -1.7,1.1 -0.5,0.9 -0.9,0.6 -1.4,0.4 -1.4,1 M457.6,268l1.6,1.3 -0.7,0.8 -1.6,2.1 -1.1,0.4 -0.1,1.4 -0.7,1.8 0.5,2.5 -0.3,2.3 -0.3,0.9 -1.3,0.2 0.4,0.1 -0.9,1.3 0.4,2.5 -0.1,1.4 -0.9,1.4 -1,1.7 -0.9,1.3 -0.5,2.1 -0.5,1.9 0.8,1.1 1,1.7 1.7,1.1 1.3,0.8 2,0.3 1.6,0.7 1.3,0.8 2.2,-0.1 0.2,1.3 -0.1,2 -1.4,1.6 -0.9,1.3 -1,1.5 -0.3,1.3 -0.9,2.5 -0.5,1.5 0.8,1.5 -0,1.4 -0.6,1.3 -0.1,1.9 0,2.6 -1.2,2.1 0.4,1.8 -0.5,1.1 -0.4,0.8 0.5,0.4 -1.1,1.9 -0.2,2.2 0.7,2 0.6,2.2 0.8,1.2 1.3,2.1 1.3,0.9 1.6,1.2 -0,0.7 1.3,1.2 0.5,1.3 1.2,0.6 2,1.3 2.4,0.3 1,0.5 1.1,0.7 M505,387.9l-1.1,-1.5 -0.5,-0.6 -2.1,1.1 -0.9,1.4 -2.5,0.5 -1.7,-0.2 -2.3,-1.3 -0.5,-0.4 -1.8,-1.6 -1.4,-0.3 -0.7,0.1 -0.9,1.7 -2.1,0.7 -0.8,-0.5 -2.2,0.5 -0.5,-1.3 -1.7,1.2 -1.7,1 -0.6,0.6 -1.4,0.5 -1.2,0 -0.9,-0.3 -1.8,1.2 -0.5,0.1 -2.2,-0.4 -1.7,0.3 -1.4,0.4 -1.7,0.1 -1,1.5 -0.8,-0.1 -0.5,0.2 -1.2,0.7 -1.5,0.2 -2.4,-0.1 -2,1.2 -1.5,0.9 -2.3,2.2 -2.2,0.6 -1.1,0.8 -0.1,0 -0.8,1.9 0.1,1.8 -0.3,1.4 0.7,1.1 -0.2,1.7 -1.1,1.7 -0.4,0.7 -0.2,1.2 0.5,0.6 -1,1.1 -0.5,1.3 0.8,2.7 -0.1,1.2 0.5,0.8 0.5,2.1 0.5,1.5 -0.5,1.4 0.1,1.7 -0.8,0.8 -0.5,1.1 0.4,1.1 -0.1,1.3 0.6,1.8 0.2,1.1 0.5,1.7 1.4,1.5 0.8,1.2 0.8,0.8 1,1.1 -0.2,1.4 -0.9,1.2 0.6,1.4 M452,442.4l1.5,0.5 1.2,0.2 0.7,0.3 1.8,0.2 1.7,0.5 1.4,-0.2 1.9,-0.4 0.7,0.5 1.5,1.1 1,1.3 1.8,1.1 1.1,2 2.1,2.2 1.4,1.5 0.3,1.1 1,0.4 1.7,1 0.8,1.3 1,2.4 -0.5,0.1 -0.9,1.4 -0.7,0.6 -2,0.6 -1.2,0.6 -1.8,0.9 -1.3,1 -0.4,0.7 -1.7,1.2 -1.3,0.4 -0.9,0.1 -1.6,0.8 -2,1 -1.9,1.1 -0.8,-0.2 -1.9,0.7 -1.2,1.2 -1.7,0.4 -1.5,0.2 -1.2,1.5 -0.1,1 0.6,1.1 0.1,0.9 -0.1,0.4 0.7,1.6 -0.4,1.4 0.8,0.9 -0.1,0.8 -0.1,2.6 -0.7,1.8 -0,1.8 -1.4,1.1 -1.1,1.2 -1.4,0.5 -1.1,0.7 -1.7,0.1 -0.7,-0 -1.9,0.6 -1.2,-0 -1.8,-0.6 -1.4,0.7 -1.5,-0 -0.5,0.9 -0.3,1 -2,1.6 -1.7,0.9 -0.8,0.6 -1.3,0.7 M429,498l0.4,1.4 -0.2,0.9 -0.1,2.1 0,1.4 0.4,1.5 -0.5,1.3 -0.6,1.8 M420,444l1.6,0.7 2.1,0.6 1.2,0.6 2,0.6 0.4,0.4 1.7,0.5 1.1,0.8 1.5,0.3 1.3,0.7 1.6,0.6 1.5,1 1.6,1.6 0.7,1.2 1,0.7 1.2,1.1 1.6,-0 1.2,0.6 1.3,-0.3 0.3,0.2 1.3,-0.1 1,0.3 0.8,-2 0.9,-0.9 -0.1,-1.5 0.6,-0.9 1.2,-1 0.4,-0.9 0.7,-1 -0,-1.2 0.1,-2.2 0.2,-2.1 M356.4,382.1l2.4,0.5 1.9,0.4 1.1,0 1.8,0.6 0.5,0.4 1.3,1.2 1.5,0.9 2,1.2 2.1,0.8 0.2,0.5 -1.2,1.4 M370,390l1.4,1.3 0,1.8 0.5,1.3 -0.1,1.9 0.2,2 0.4,2 0.3,1.6 -0.6,1.8 1.3,1.3 1.2,-0.1 1.7,-0.1 2.4,0.4 1.8,0.1 1.1,0.7 1.2,1.1 1.8,-0.2 2.3,0.5 1.6,-0.4 1.6,0.7 1.3,0.7 1.1,1.8 0.7,1.4 2.2,-0.1 1.6,-0.4 1.4,-0.1 1.5,1.4 1.3,0.5 0.8,1.7 0.1,1.9 -0.2,1.6 -0.2,0.9 0.1,1.4 -0.4,2.5 -0.8,0.9 -1.3,1.1 -1,0.3 1.3,-0.1 0.5,1.7 0.3,1.3 0.5,1.6 1.3,2.4 0.6,1.6 0.2,1.6 0.1,1 1.7,1.6 1,0.5 2,-0.2 1.2,0.7 1.3,0.4 1.2,1.8 1,0.5 0.7,1 1.4,0.3 1.1,-0.2 1.6,-0.7 1.7,0.7 1,1.3 M367.9,270l0.5,2.1 0.3,1.5 1.3,0.6 0.3,1.2 0.8,1.1 -0.1,1.5 0.5,2 0.8,0.9 1,1.8 1.5,1 1.4,0.7 0.9,0.9 1.6,-0.3 0.4,1.7 0.1,1.9 -0.6,1.6 -0.6,0.5 -0.2,2.2 0.7,1.3 0.1,1.4 0,1.4 -0.6,1.3 -0.9,1.5 0.6,1.2 1,1.5 1.2,0.5 0.1,1.4 0.4,1.3 0.8,0.4 1.5,1.7 0.9,1.5 0.6,2.2 1.2,0.6 -1.9,1.5 -1.6,0 -1.7,1.5 -0.7,1.1 0.5,1.1 1.1,1.7 0.1,1.1 0.8,0.7 1.1,1.3 0.6,1.5 0.1,2.2 -0.4,2.1 0.2,2.1 -0.8,1.7 -0.8,0.2 -1.2,0.8 -2.5,0.1 -1.6,2 -0.5,0.7 -1.7,2 1,1.7 -0.1,1.3 -1.8,-0.1 -1,0.9 -1.8,0 -1.5,0.3 -0.7,-1.3 -1.7,-0.1 -2.2,0.6 -1.7,-0.2 -1.9,1 -1.9,0.5 -1.4,0.9 -1.6,0.1 -1.3,0.6 -0.9,0.7 -2.7,1 -0.7,1.2 0.7,1.5 0.6,1.3 1.2,1.1 0.7,0.8 0.6,1.4 0.6,0.7 -0.7,2.1 1,2.2 -1.2,2 -0.2,0.9 -1.7,1.8 -0.5,0.1 -0.8,1.5 -0.8,1 0.8,1.1 0.3,1.8 0.7,2.7 -0.2,1.4 0.4,2.5 0.9,1.5 0.2,1.5 0.7,1.3 0.9,1.3 1.2,1.2 0.2,2.2 -1.7,0.7 -0.9,1.1 -0.2,-0.1 -1.1,1 -0.8,1.3 -1.7,1.1 -1.2,1.4 M421,245.6l-1.6,0.8 -2,0.6 -1.5,1.7 -2.3,1 -1.4,1.6 -0.9,1.2 -0.2,1.5 -0.3,0.7 -0.7,0.2 -1.3,0.2 -0.9,0.8 -0.9,0.6 -1.7,0 -1.5,0.6 -2,0.1 -1.5,0.8 -1,-0.2 -1.1,-0.5 -0.5,-0.3 -1.3,-1.5 -1.7,-0.7 -1.7,0.3 -2.2,-0.4 -1.7,0.6 -1.1,0.9 -1,0.5 -0.7,-0.1 -1.1,-0.2 -0.5,-0.3 -2.1,-0.1 -1.6,0.9 -1.7,0.9 -2,-0.1 -2.3,1.8 -1.1,0.4 -1.5,0.6 -0.6,0.2 -0.8,0.8 -1,0.1 -1.2,0.2 0.2,1.4 0.5,1.3 -0.5,2 -0.5,1.7 -0.7,1.8 M310,185.6l0.2,-1.4 0,-1.9 0.8,-1.9 1.5,-1.3 0.7,-1.1 0.4,1.7 0.9,1.4 0.2,1.3 1.2,-1 1.2,-0.3 0.7,-1.3 2,-0.9 1.9,-0.9 0.7,-0.6 2,-0.2 1,0.1 1.9,-0.3 1.5,-1.7 0.5,-0.6 0,-1.5 0.6,-1 1.5,-1.4 1.6,-0.5 2.2,0 1.6,-0.2 0.7,-0.3 1.5,2.4 0.4,1.3 -0.7,1.9 -0.1,0.5 -0.4,1.2 1,0.5 1.4,1.4 0,2.2 -2,1.5 -0.9,1.8 -0.6,0.8 -0.5,1.5 -0.5,1 -0.5,2.3 0.5,1.2 1,2 1.2,1 1,1.1 0.7,0.7 0.6,0.9 0.7,1.3 1.6,1 0.9,0.5 0.2,0.6 M310,185.6l0.7,1.3 1.1,0.7 -0.6,1.7 0.7,1.7 0.1,1.2 1.5,1.5 1.1,0.8 1.4,0.8 0.6,0.8 1.2,0.9 1.3,0.3 1.8,1.3 2.4,0.6 1.2,0.1 2.3,-0.4 0.3,-1.7 1.5,-1.2 0.3,0.7 0.9,0.9 1.4,1.8 1,1.4 1,1.5 2.5,1 1.7,1.3 1.9,0.5 0,-1.2 0.9,-1 1,-1 1.7,-0.8 1.1,-0.7 M308,184l1.6,0 1,1 1.1,1.4 0.9,0.5 1.6,0.4 2.1,0.5 1.7,-0.1 1,0.5 1.3,0.4 1.7,-0.6 M344,200.4l1.1,1.6 1.4,0.7 1.7,0.2 1.9,0.7 1,1.3 1.5,0.8 0.7,0.4 2.3,0.6 1.9,0.1 0.7,0.8 1.4,0.6 1.5,0.5 2.2,0.4 0.8,-0.7 2.4,-0.8 1.5,0.5 0.8,0.8 2.3,1.8 2.1,1 1.3,1.6 1.5,0.7 0.3,-0.2 1.1,0.3 0.3,-0.8 1.3,-0.4 1,0.2 2.1,0.9 2,0.4 0.9,1.1 0.7,0.9 0.3,1.8 0,1.5 1.2,1.9 -0.2,0.9 1.6,1.1 1.4,1.2 0.8,0.7 0.8,1.7 0.3,0.7 1.8,1.8 0.6,1.3 1.3,1.5 1.4,0.4 1.8,0.5 0.2,0.8 1.2,-0.1 1.7,1 0.9,1.5 0.6,0.7 1.8,1 1.9,0.4 0.6,1.1 1.2,0.7 0.4,0.4 1,0.9 1.9,0.5 2.1,0.9 1.1,0.2 1.2,1 1.2,-0.5 1.8,0.2 0.8,1 0.1,1.2 0.1,2 1.1,0.5 1.4,1.5 2.4,0.5 1.4,-0.2 1.6,0.1 1.6,0.3 1.2,1.9 1.6,1.3 1.1,1.6 0.7,0.1 0.6,0.9 0.7,0.7 1.9,0 0.5,2 2,0.1 1,0.8 0.9,0.2 1.8,0.4 1.6,0.6 1.3,0.8 1.3,0.1 1.3,-0.7 1.7,0.4 1.7,0.9 0.9,0.6 1.2,1.3 2,1.5 0.8,0.4 -0.3,1.1 M382,151l-0.4,2.4 -1.2,1.1 -0.5,1 -1.3,-0.1 -1.2,1.4 -1.3,1.1 -0.1,1.1 -1.2,1.3 -0.1,1.7 0.1,1.7 -1.1,1.8 -0.6,0.8 0.5,1.5 1,1.9 0.2,1.8 0.9,0.8 0.8,1.6 0.8,1 1.2,0.1 1.4,1.2 1.7,-0.1 1.1,1.3 1.4,0.6 0.7,1.1 0.2,1.5 -0.3,0.6 -1,1.4 -1.3,1.8 -0.4,1.7 -1.1,1 -1.5,1.8 -1.6,0.6 -1.4,1.7 -1.2,1 -1.1,0.8 -0.7,0.8 -1.3,1.2 -0.8,0.5 -1.3,0.5 -0.6,-0.1 -0.7,0.8 -1.3,1.1 -1.7,0.9 -1.4,2.5 -0.5,0.6 -0.8,1.8 0,1.8 -0.7,1.5 0.1,0.7 M382,153l1.7,0.2 2.5,0.2 0.8,1.1 -0.9,0.8 -0.8,0 -2.1,-0.3 -1.9,-0.7 -1.5,0.5 -1.8,0.8 M399.6,235l2,-0.2 2.3,0.2 1.3,-0.1 1.5,0.6 1.1,0.9 0.6,-0.2 1.1,-1.2 2.3,-0.7 1.5,-0.8 1.6,-0.2 1.7,-0.2 0.9,-0.8 0.2,-1.6 0.9,-1.4 0.9,-0.6 0.4,-0.8 1.1,-0.5 0.7,0.2 0.7,-1.3 2,-0.9 2.5,0.1 1.8,-1.1 1.2,0.2 0.7,-0.6 1,-0.9 1.7,0.3 1.5,-1.4 1.9,0.1 0.5,-0.1 0.6,-0.8 1.7,-0.2 1.8,-0.6 1.1,-1.3 2.5,-0.5 2,-1.5 0.4,-0.9 1.3,-1.7 0.3,-1.9 1.4,0.1 1.4,0.1 0.4,0.7 1.7,0.5 1.7,1.4 2.3,0.2 1.6,-0.1 1.1,0.4 1.1,0.6 1.2,1.2 1.2,0.6 1,0.5 1.1,0.8 1.8,0.6 1,0.9 1.7,1.5 1.7,1.2 2.2,1 1,0.4 1.2,1 1.9,0.2 0.9,0.4 2.5,0 0.7,0.9 1.5,-0.1 1.6,0.6 1,0.8 1.2,0.4 2.2,0 1.1,0.1 1.5,0.4 2,0.3 1.4,1.3 1.6,0.7 1.2,1 1.6,-0.3 1.3,0.1 0.7,0.9 0.5,0.4 0.8,-0.6 1.6,-0.8 1.5,0.1 1.9,-1.2 1.4,-0.5 1.9,-0.3 0.9,-1.4 1.5,-0.2 1,-1 1.2,-1.1 1.7,-0.8 1.6,-0.9 1.5,0.1 0.4,-0.6 1.1,-0.5 2.1,-0.1 1.2,-0.8 1.6,0.3 M528,224l0.8,1 1,1 1.9,0.9 1.1,-1.6 1.6,-1.4 -0.1,-1 0.9,-1.3 1,-1.1 0.7,-0.6 0.3,-2.4 0.5,-1.7 0.6,-1 1,-0.4 1.6,-1.2 0.6,-1.3 1,-1.3 1,-1.6 0.6,-0.5 0.3,-0.8 1.3,0.1 1.5,-1.2 2,-1.2 2.1,-0.6 0.3,-0.1 0.8,-1.1 1.5,-1.1 -0.3,-2.2 0.9,-1.6 0.2,-1.9 0.1,-0.8 1.1,1.1 0.4,1.5 0.5,1.2 1,1.2 1,0.9 1.4,2.3 -0.2,1.4 0.9,1.5 0.4,0.7 0.3,1.2 1.2,-0.6 0.9,-0.1 0.5,0.1 1.7,0 3,0.6 1.4,0.8 1.9,0.3 1.4,-1 1.3,-0.4 1,-0.2 0.8,0.8 1.1,0.1 1.7,0.4 1.5,-0.1 0.4,2.9 -1.5,2 -0.2,1.5 -1.4,1.2 -0.7,1 -0.6,1.1 0.2,1 -1.4,1 -1.4,1.8 -1.1,0.9 -0.5,0.2 -1.1,0.9 2.9,0.5 1.9,-0.3 1.6,1 1.2,-0.2 2,0.9 1.5,-0.2 1.4,-1.6 1.2,-1.5 0.5,-0.7 0.7,-1.3 1.5,-1 2.3,0.2 M275,376.4l0.5,0.9 1.1,0.3 1.5,0.2 2.1,-0.2 1.9,0.3 1.6,0.1 1.1,0.7 1.5,0.8 1.9,0.8 1.1,0.3 1.1,0.8 0.6,1.3 1.3,1 -0.8,1 -1.7,0.4 -1.1,1.4 -1,1.5 -0,1.7 -0.4,2.7 0.4,1.2 -0.5,1.3 0.2,1.4 0.2,1.7 -0.9,1.9 0.2,1.2 1.1,1.9 -1.5,1.5 -0.8,0.3 -2.2,0.6 -0.6,1.8 -0.7,1 2.3,0.5 1.5,0.6 1.9,0 2.2,1.4 0.8,0.7 1.1,0.7 1.4,1 1.4,0.3 0.6,-1.7 1.3,-1.2 -1.2,-1.6 -0.1,-2.9 1,-0.8 1.9,-1.4 0.7,-0.9 0.7,0.4 1.7,-0.3 1.8,-0.1 2,0.9 0.5,1.5 0.7,1.7 M306.4,407l0.8,-0.5 2.1,0.5 1.8,-1.5 0.9,-0.3 1.3,-1.7 0.3,-0.6 1.3,-1.2 1.9,0.1 1.4,-0.7 1.3,-0.1 1.4,0.2 1.2,-0.2 1.4,-1.7 1.9,-1.2 2.3,-1 1.7,-1.2 1,-1.2 0.7,-0.5 1.5,-1 1.1,-1.7 1,-1.8 1,-1.5 1.1,-1 1.2,-0.7 0.8,0.7 1.8,0.8 1.4,0.4 2.1,0.7 1.1,0.1 1.8,0.3 1.6,0.5 M306.4,407l0.9,2.1 1.5,1.2 0.5,1.7 -0.2,0.6 0.4,1.5 0.4,1.5 0.9,0.4 1.1,0.7 -0.1,1 1.1,1.1 1,0.2 0.7,0.7 1.2,1.1 0.4,0.5 1.8,1.4 1.1,1.1 1.6,0.5 1.6,1.8 1.8,0.5 -1.2,1.7 -0.5,2 -1.6,0.3 -1.3,1.5 -0.5,0.9 -1.3,1.6 1.1,1.7 1.6,1.6 0.1,1 0.7,1 -0.2,1.3 0.3,0.7 -0.6,1.1 -2.3,0.4 -2,0.4 -1,-0.9 -0.1,-0.1 -1.2,0.1 -1,0.8 -1.4,1.6 -1.7,1.6 -1.8,0.9 -0.8,1.4 -1.2,0.6 -0.3,1.7 -0.5,0.7 1.8,1.1 1.5,0.2 0.5,-0.7 1.9,-1.9 0.2,1.5 1.1,1.6 -0.3,1.3 -1.3,1.7 -1.7,1.8 -1.4,1.8 -2.3,0.1 -1.3,1.3 -1.3,1 -0.1,1.5 -0.4,1.4 -0.6,1.2 -1,1.3 -1.1,2.8 0.4,2.4 -0.1,2.2 0.7,1.3 -0.4,1.6 -1.1,0.6 -0.1,0.5 0.2,0.8 1.4,0.1 2.1,1.5 1.2,-0.5 2.2,-0 1.2,0.5 1.5,0.7 1.5,0.6 0.6,0.3 0.2,1.1 0.4,1.6 0,1.3 -1.3,1.7 -1.1,2.2 -0.9,0.6 0,1.7 0.3,1.2 -0.5,1.1 -1,1.7 M428.4,508.4l-1.7,-0.7 -1.4,0.9 -1.6,0.6 -1.7,0.6 -0.6,1 -1.1,-0.4 -1.3,-0.6 -1.9,-0.9 -1.2,0.4 -1.9,0.6 -1.2,1.2 -1.6,0.4 -1.4,0.1 -1.1,0.1 -0.8,-0.3 -0.9,-0.6 -1.6,0.2 -1,-0.2 -2.6,-0.5 -1,-0.8 -1.6,-1.6 0,-2.1 -0.7,-2.8 -0.5,-1.4 -1.1,-0.9 -0.5,-0.4 -1.8,-0.6 -0.8,-1.5 -1.7,0.1 -1,0.8 -2.1,0.1 -1.9,0.2 -0.5,1.9 -1,1.8 0.8,1 0.9,1.9 0.3,2 -0.2,1.7 -0.6,0.9 0.3,1.5 -0.6,0.7 0.8,1.9 -0.9,1.2 -1.1,1.9 -1.2,1.2 -0.1,1.6 -1.5,0.1 -2.2,0.4 -1.1,-0.4 -1.4,-1.4 -0.2,-0.3 -0.5,-1.2 -1.3,-0.9 -0.9,-1.9 -1.7,-0.9 -2.4,-0.8 -1.9,-0 -0.9,-0.5 -1.6,-0.8 -0.6,-1 -1.3,-0.6 -1.2,0.1 -1.7,0.2 -1.2,0.5 -1.1,-0.2 -1.1,-0.6 -1.2,-0.3 -1.1,0.2 -1.6,-0 -1.2,-0.4 -1.1,1.2 -1.9,1.5 0.6,1.6 0.3,1.3 1,1.2 0.3,1.7 0.8,0.9 2,1.5 0.5,1.7 1.4,1 -0.9,1 -1.8,0.3 -1.6,-0.6 -2.1,0.4 -1.6,1.4 -1.1,1.3 -1,-1 -1.3,0.1 -0.8,-1.7 -1.1,-1 -1,-1.8 0.2,-1.3 -0.3,-1 -0.7,-1.2 -0.3,-1.8 -0.2,-2 -1.1,-0.9 -1.4,-1.8 -1.2,-0 -1.2,-1.1 -1.2,-0.3 -1.6,-0.8 -1.1,-1.6 -1.1,-1.4 -0.9,-1.2 -0.8,-1.1 -1,-0.4 0.1,-1.6 -0.7,-1.3 -0.7,-1.4 -0.9,-0.7 -0.7,-0 0,-0.5 -1.8,-1.5 -1.9,-0.8 -1.8,-2.6 -1.5,-0.8 -1.3,-1.2 -0.5,-0.3 -0.6,-0 -1.3,-0.6 -1.5,-0.5 -1.6,0.3 -1.8,-1.1 -0.9,1.5 -1.3,0.8 -1.1,1.6 -0.8,0.7 0,2 0.8,2"/>
<polygon points="503.0,365.7 506.4,371.7 499.7,371.7" fill="#e00000" stroke="#3a0505" stroke-width="0.6"/>
<polygon points="476.1,390.3 479.3,395.7 472.9,395.7" fill="#e00000" stroke="#3a0505" stroke-width="0.6"/>
<polygon points="482.4,388.3 486.4,396.0 478.3,396.0" fill="#e00000" stroke="#3a0505" stroke-width="0.6"/>
<polygon points="491.2,392.9 496.0,401.7 486.4,401.7" fill="#e00000" stroke="#3a0505" stroke-width="0.6"/>
<polygon points="535.8,415.0 540.4,423.1 531.1,423.1" fill="#e00000" stroke="#3a0505" stroke-width="0.6"/>
<polygon points="565.9,412.1 570.7,420.7 561.1,420.7" fill="#e00000" stroke="#3a0505" stroke-width="0.6"/>
<polygon points="387.1,332.9 390.7,338.9 383.6,338.9" fill="#e00000" stroke="#3a0505" stroke-width="0.6"/>
<polygon points="403.1,329.3 406.6,335.0 399.7,335.0" fill="#e00000" stroke="#3a0505" stroke-width="0.6"/>
<polygon points="414.4,375.3 417.7,381.1 411.0,381.1" fill="#e00000" stroke="#3a0505" stroke-width="0.6"/>
<polygon points="323.1,559.3 329.4,570.3 316.9,570.3" fill="#e00000" stroke="#3a0505" stroke-width="0.6"/>
</svg>
<div class="frame"></div><div class="divider"></div>
<svg id="txt" width="1190" height="842" viewBox="0 0 1190 842" style="position:absolute;left:0;top:0" font-family="'Liberation Sans',Arial,sans-serif" fill="#000" stroke="#000" text-rendering="geometricPrecision" xml:space="preserve">
<text font-size="28" letter-spacing="4.800" font-weight="bold" x="705.76" y="49.9" stroke-width="0.25">GIS-GMO</text>
<text font-size="19" letter-spacing="3.930" font-weight="bold" x="705.50" y="84.7" stroke-width="0.25">Geographical Information System</text>
<text font-size="19" letter-spacing="3.082" font-weight="bold" x="706.40" y="106.3" stroke-width="0.25">for Genetically Modified Organisms</text>
<text font-size="14.6" letter-spacing="0.920" font-weight="bold" x="705.50" y="149.4" stroke-width="0.25">Data presentation of the German GMO Location Register</text>
<text font-size="21.4" letter-spacing="-0.120" font-weight="bold" x="705.76" y="203.5" stroke-width="0.25">2012</text>
<text font-size="14.2" letter-spacing="0.556" font-weight="bold" fill="#d41208" stroke="#d41208" x="760.14" y="196.7" stroke-width="0.25">[Status registration: 15 Feb 2012]</text>
<text font-size="20.6" letter-spacing="0.406" font-weight="bold" x="705.50" y="227.4" stroke-width="0.25">Registered intention of GM-maize MON 810</text>
<text font-size="20.6" letter-spacing="0.410" font-weight="bold" x="705.50" y="251.1" stroke-width="0.25">cultivation despite its prohibition in May 2009</text>
<text font-size="14.0" letter-spacing="0.071" font-weight="bold" x="705.50" y="287.6" stroke-width="0.25">Postcode areas | Distribution and frequency of GM-maize cultivation</text>
<text font-size="12" letter-spacing="0.540" x="760.76" y="311.6" stroke-width="0.12">over 20</text>
<text font-size="12" letter-spacing="0.454" x="760.76" y="335.6" stroke-width="0.12">up to 20</text>
<text font-size="12" letter-spacing="0.454" x="760.76" y="359.6" stroke-width="0.12">up to 10</text>
<text font-size="12" letter-spacing="0.600" x="760.76" y="383.6" stroke-width="0.12">up to 5</text>
<text font-size="12" letter-spacing="0.300" x="761.26" y="407.6" stroke-width="0.12">1</text>
<text font-size="13.7" letter-spacing="0.254" font-weight="bold" transform="translate(706.52,436.6) scale(1.08,1)" stroke-width="0.25">Districts | Total acreage of genetically modified maize</text>
<text font-size="12" letter-spacing="0.480" x="760.76" y="460.7" stroke-width="0.12">over 2.500.000 m²</text>
<text font-size="12" letter-spacing="0.501" x="760.76" y="484.7" stroke-width="0.12">up to 2.500.000 m²</text>
<text font-size="12" letter-spacing="0.501" x="760.76" y="508.7" stroke-width="0.12">up to 1.000.000 m²</text>
<text font-size="12" letter-spacing="0.492" x="760.76" y="532.7" stroke-width="0.12">up to 100.000 m²</text>
<text font-size="12" letter-spacing="0.557" x="760.76" y="556.9" stroke-width="0.12">under 25.000 m²</text>
<text font-size="12" letter-spacing="0.459" x="760.76" y="580.9" stroke-width="0.12">no cultivation of genetically modified maize</text>
<text font-size="10.6" letter-spacing="0.421" x="834.88" y="636.6" stroke-width="0.12">Districts in the federal states of Saxonia-Anhalt and Saxonia are</text>
<text font-size="10.6" letter-spacing="0.437" x="834.88" y="649.7" stroke-width="0.12">in accordance with the district reorganizations in 2007 and 2008</text>
<text font-size="12" letter-spacing="0.345" text-decoration="underline" x="706.66" y="677.7" stroke-width="0.12">Source/Status</text>
<text font-size="12" letter-spacing="0.428" x="705.50" y="694.1" stroke-width="0.12">Federal Office for Consumer Protection and Food Safety; 2012</text>
<text font-size="12" letter-spacing="0.395" x="705.50" y="710" stroke-width="0.12">Location Register; http://www.bvl.bund.de/standortregister; Status 15.02.2012</text>
<text font-size="16.2" letter-spacing="0.810" font-weight="bold" x="706.40" y="760.8" stroke-width="0.25">Author:</text>
<text font-size="16.2" letter-spacing="0.882" font-weight="bold" x="786.90" y="760.8" stroke-width="0.25">Andreas Seidel</text>
<text font-size="16.2" letter-spacing="0.300" font-weight="bold" x="937.38" y="760.8" stroke-width="0.25">|</text>
<text font-size="16.2" letter-spacing="0.876" font-weight="bold" x="960.16" y="760.8" stroke-width="0.25">www.risikoregister.de</text>
<text font-size="15" letter-spacing="0.300" x="706.26" y="795" stroke-width="0.12">0</text>
<text font-size="15" letter-spacing="-0.420" x="789.64" y="795" stroke-width="0.12">100</text>
<text font-size="15" letter-spacing="-0.600" x="880.02" y="795" stroke-width="0.12">200</text>
<text font-size="15" letter-spacing="0.300" x="970.00" y="795" stroke-width="0.12">300</text>
<text font-size="15" letter-spacing="0.120" x="1061.02" y="795" stroke-width="0.12">400</text>
<text font-size="13.6" letter-spacing="0.660" x="1082.26" y="813" stroke-width="0.12">km</text>
</svg>
<div class="dash" style="top:122.5px;">------------------------------------------------------------------------------------------------------------------------</div>
<div class="dash" style="top:153.4px;">------------------------------------------------------------------------------------------------------------------------</div>
<div class="dash" style="top:652.1px;">------------------------------------------------------------------------------------------------------------------------</div>
<div class="dash" style="top:731.4px;">------------------------------------------------------------------------------------------------------------------------</div>
<div class="dash" style="top:765.3px;">------------------------------------------------------------------------------------------------------------------------</div>
<div class="sw" style="top:446px;background:#000000;border:1px solid #000;"></div>
<div class="sw" style="top:470px;background:#404040;border:1px solid #3a3a3a;"></div>
<div class="sw" style="top:494px;background:#737373;border:1px solid #6e6e6e;"></div>
<div class="sw" style="top:518px;background:#bdbdbd;border:1px solid #a8a8a8;"></div>
<div class="sw" style="top:542px;background:#e8e8e8;border:1px solid #cfcfcf;"></div>
<div class="sw" style="top:566px;background:#fcfcfc;border:1px solid #d8d8d8;"></div>
<svg id="legend" width="1190" height="842" viewBox="0 0 1190 842" style="position:absolute;left:0;top:0;pointer-events:none">
<polygon points="726.1,299.6 735.85,316.1 716.35,316.1" fill="#e00000" stroke="#3a0505" stroke-width="0.7"/>
<polygon points="726.1,324.5 734.85,338.7 717.35,338.7" fill="#e00000" stroke="#3a0505" stroke-width="0.7"/>
<polygon points="726.1,349.7 733.1,361.4 719.1,361.4" fill="#e00000" stroke="#3a0505" stroke-width="0.7"/>
<polygon points="726.1,375.2 731.1,383.8 721.1,383.8" fill="#e00000" stroke="#3a0505" stroke-width="0.7"/>
<polygon points="726.1,400.1 729.8000000000001,406.3 722.4,406.3" fill="#e00000" stroke="#3a0505" stroke-width="0.7"/>
<rect x="710.2" y="802.4" width="364.0" height="11" fill="#fff" stroke="#000" stroke-width="0.8"/>
<rect x="710.2" y="802.2" width="22.799999999999955" height="11.4" fill="#000"/>
<rect x="755.7" y="802.2" width="22.799999999999955" height="11.4" fill="#000"/>
<rect x="801.2" y="802.2" width="91.0" height="11.4" fill="#000"/>
<rect x="983.2" y="802.2" width="91.0" height="11.4" fill="#000"/>
</svg>
</body></html>
